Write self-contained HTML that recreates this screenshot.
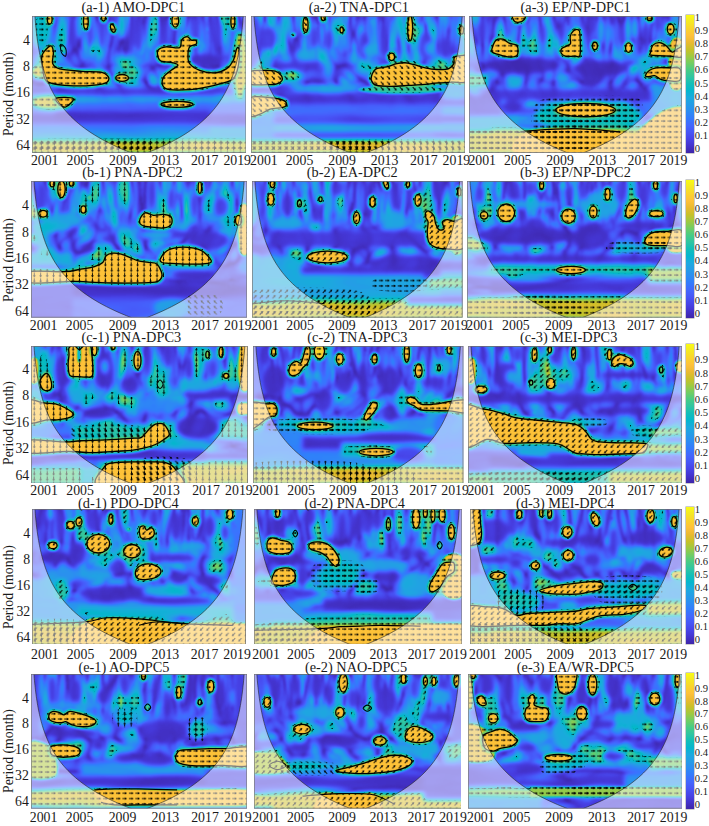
<!DOCTYPE html><html><head><meta charset="utf-8"><style>
html,body{margin:0;padding:0;background:#fff;}
body{width:709px;height:826px;position:relative;overflow:hidden;font-family:"Liberation Serif", serif;color:#1a1a1a;}
.t{position:absolute;white-space:nowrap;line-height:1;}
.ti{font-size:14.3px;}
.tk{font-size:13.8px;}
.cb{font-size:10.6px;}
svg.p{position:absolute;overflow:hidden;}
</style></head><body>
<svg width="0" height="0" style="position:absolute"><defs>
<filter id="par" x="-5%" y="-5%" width="110%" height="110%" color-interpolation-filters="sRGB"><feGaussianBlur stdDeviation="1.3"/><feComponentTransfer><feFuncR type="table" tableValues="0.242 0.252 0.262 0.271 0.278 0.281 0.281 0.276 0.262 0.229 0.189 0.178 0.163 0.143 0.120 0.086 0.020 0.023 0.119 0.185 0.238 0.331 0.443 0.567 0.685 0.794 0.888 0.967 0.997 0.986 0.964 0.962 0.977"/><feFuncG type="table" tableValues="0.150 0.168 0.191 0.217 0.251 0.288 0.327 0.366 0.408 0.452 0.497 0.538 0.578 0.616 0.652 0.685 0.713 0.736 0.754 0.772 0.790 0.800 0.802 0.794 0.777 0.756 0.736 0.730 0.767 0.820 0.876 0.931 0.984"/><feFuncB type="table" tableValues="0.660 0.715 0.777 0.841 0.892 0.931 0.961 0.983 0.994 0.998 0.984 0.961 0.930 0.904 0.884 0.852 0.807 0.754 0.698 0.637 0.568 0.486 0.393 0.300 0.215 0.160 0.171 0.234 0.219 0.185 0.159 0.131 0.081"/><feFuncA type="linear" slope="0" intercept="1"/></feComponentTransfer></filter>
<filter id="parb" x="-5%" y="-5%" width="110%" height="110%" color-interpolation-filters="sRGB"><feGaussianBlur stdDeviation="4"/></filter>
<filter id="bl2" x="-20%" y="-20%" width="140%" height="140%" color-interpolation-filters="sRGB"><feGaussianBlur stdDeviation="2.2"/></filter>
<pattern id="a0" patternUnits="userSpaceOnUse" width="6.4" height="5.4"><g transform="rotate(0 3.2 2.7)"><path d="M0.9,2.7 H3.9" stroke="#000" stroke-width="0.9"/><path d="M5.6,2.7 L3.4,1.4 L3.4,4.0 Z" fill="#000"/></g></pattern><pattern id="a45" patternUnits="userSpaceOnUse" width="6.4" height="5.4"><g transform="rotate(45 3.2 2.7)"><path d="M0.9,2.7 H3.9" stroke="#000" stroke-width="0.9"/><path d="M5.6,2.7 L3.4,1.4 L3.4,4.0 Z" fill="#000"/></g></pattern><pattern id="a90" patternUnits="userSpaceOnUse" width="6.4" height="5.4"><g transform="rotate(90 3.2 2.7)"><path d="M0.9,2.7 H3.9" stroke="#000" stroke-width="0.9"/><path d="M5.6,2.7 L3.4,1.4 L3.4,4.0 Z" fill="#000"/></g></pattern><pattern id="a135" patternUnits="userSpaceOnUse" width="6.4" height="5.4"><g transform="rotate(135 3.2 2.7)"><path d="M0.9,2.7 H3.9" stroke="#000" stroke-width="0.9"/><path d="M5.6,2.7 L3.4,1.4 L3.4,4.0 Z" fill="#000"/></g></pattern><pattern id="a180" patternUnits="userSpaceOnUse" width="6.4" height="5.4"><g transform="rotate(180 3.2 2.7)"><path d="M0.9,2.7 H3.9" stroke="#000" stroke-width="0.9"/><path d="M5.6,2.7 L3.4,1.4 L3.4,4.0 Z" fill="#000"/></g></pattern><pattern id="a225" patternUnits="userSpaceOnUse" width="6.4" height="5.4"><g transform="rotate(225 3.2 2.7)"><path d="M0.9,2.7 H3.9" stroke="#000" stroke-width="0.9"/><path d="M5.6,2.7 L3.4,1.4 L3.4,4.0 Z" fill="#000"/></g></pattern><pattern id="a270" patternUnits="userSpaceOnUse" width="6.4" height="5.4"><g transform="rotate(270 3.2 2.7)"><path d="M0.9,2.7 H3.9" stroke="#000" stroke-width="0.9"/><path d="M5.6,2.7 L3.4,1.4 L3.4,4.0 Z" fill="#000"/></g></pattern><pattern id="a315" patternUnits="userSpaceOnUse" width="6.4" height="5.4"><g transform="rotate(315 3.2 2.7)"><path d="M0.9,2.7 H3.9" stroke="#000" stroke-width="0.9"/><path d="M5.6,2.7 L3.4,1.4 L3.4,4.0 Z" fill="#000"/></g></pattern><linearGradient id="gtop" gradientUnits="userSpaceOnUse" x1="0" y1="0" x2="0" y2="137"><stop offset="0.000" stop-color="#fff" stop-opacity="1"/><stop offset="0.277" stop-color="#fff" stop-opacity="1"/><stop offset="0.423" stop-color="#fff" stop-opacity="0"/></linearGradient><linearGradient id="gmid" gradientUnits="userSpaceOnUse" x1="0" y1="0" x2="0" y2="137"><stop offset="0.219" stop-color="#fff" stop-opacity="0"/><stop offset="0.365" stop-color="#fff" stop-opacity="1"/><stop offset="0.620" stop-color="#fff" stop-opacity="1"/><stop offset="0.766" stop-color="#fff" stop-opacity="0"/></linearGradient><linearGradient id="gbot" gradientUnits="userSpaceOnUse" x1="0" y1="0" x2="0" y2="137"><stop offset="0.599" stop-color="#fff" stop-opacity="0"/><stop offset="0.745" stop-color="#fff" stop-opacity="1"/><stop offset="1.000" stop-color="#fff" stop-opacity="1"/></linearGradient><mask id="mtop" maskUnits="userSpaceOnUse" x="-10" y="-10" width="234" height="157"><rect x="-10" y="-10" width="234" height="157" fill="url(#gtop)"/></mask><mask id="mmid" maskUnits="userSpaceOnUse" x="-10" y="-10" width="234" height="157"><rect x="-10" y="-10" width="234" height="157" fill="url(#gmid)"/></mask><mask id="mbot" maskUnits="userSpaceOnUse" x="-10" y="-10" width="234" height="157"><rect x="-10" y="-10" width="234" height="157" fill="url(#gbot)"/></mask>
<linearGradient id="cbg" x1="0" y1="0" x2="0" y2="1"><stop offset="0.000" stop-color="#f9fb15"/><stop offset="0.050" stop-color="#f5e825"/><stop offset="0.100" stop-color="#fad42e"/><stop offset="0.150" stop-color="#fec13a"/><stop offset="0.200" stop-color="#eaba31"/><stop offset="0.250" stop-color="#c8c129"/><stop offset="0.300" stop-color="#9fc942"/><stop offset="0.350" stop-color="#71cd64"/><stop offset="0.400" stop-color="#48cb86"/><stop offset="0.450" stop-color="#2fc5a2"/><stop offset="0.500" stop-color="#12beb9"/><stop offset="0.550" stop-color="#05b6ce"/><stop offset="0.600" stop-color="#1caadf"/><stop offset="0.650" stop-color="#259ce7"/><stop offset="0.700" stop-color="#2d8cf3"/><stop offset="0.750" stop-color="#347afd"/><stop offset="0.800" stop-color="#4367fd"/><stop offset="0.850" stop-color="#4755f6"/><stop offset="0.900" stop-color="#4743e7"/><stop offset="0.950" stop-color="#4433cc"/><stop offset="1.000" stop-color="#3e26a8"/></linearGradient>
</defs></svg>
<svg class="p" style="left:31.80px;top:16.20px;width:214.20px;height:136.80px" viewBox="0 0 214 137" preserveAspectRatio="none">
<clipPath id="cla1"><rect x="0" y="0" width="214" height="137"/></clipPath>
<filter id="xta1" x="-10" y="-10" width="234" height="157" filterUnits="userSpaceOnUse" color-interpolation-filters="sRGB"><feTurbulence type="turbulence" baseFrequency="0.07 0.015" numOctaves="2" seed="10"/><feColorMatrix type="matrix" values="1.1 0 0 0 0  1.1 0 0 0 0  1.1 0 0 0 0  0 0 0 0 1"/></filter>
<filter id="xma1" x="-10" y="-10" width="234" height="157" filterUnits="userSpaceOnUse" color-interpolation-filters="sRGB"><feTurbulence type="turbulence" baseFrequency="0.035 0.03" numOctaves="2" seed="110"/><feColorMatrix type="matrix" values="1.1 0 0 0 0  1.1 0 0 0 0  1.1 0 0 0 0  0 0 0 0 1"/></filter>
<filter id="xba1" x="-10" y="-10" width="234" height="157" filterUnits="userSpaceOnUse" color-interpolation-filters="sRGB"><feTurbulence type="turbulence" baseFrequency="0.01 0.05" numOctaves="2" seed="210"/><feColorMatrix type="matrix" values="1.1 0 0 0 0  1.1 0 0 0 0  1.1 0 0 0 0  0 0 0 0 1"/></filter>
<g clip-path="url(#cla1)">
<filter id="thra1" x="-10" y="-10" width="234" height="157" filterUnits="userSpaceOnUse" color-interpolation-filters="sRGB"><feGaussianBlur stdDeviation="1.3"/><feComponentTransfer><feFuncR type="discrete" tableValues="0 1"/><feFuncG type="discrete" tableValues="0 1"/><feFuncB type="discrete" tableValues="0 1"/><feFuncA type="linear" slope="0" intercept="1"/></feComponentTransfer></filter>
<mask id="mka1" maskUnits="userSpaceOnUse" x="-10" y="-10" width="234" height="157"><g filter="url(#thra1)"><use href="#rawa1"/></g></mask>
<g filter="url(#par)"><g id="rawa1">
<rect x="-10" y="-10" width="234" height="157" fill="#4c4c4c"/><g mask="url(#mtop)"><rect x="-10" y="-10" width="234" height="157" filter="url(#xta1)"/></g><g mask="url(#mmid)"><rect x="-10" y="-10" width="234" height="157" filter="url(#xma1)"/></g><g mask="url(#mbot)"><rect x="-10" y="-10" width="234" height="157" filter="url(#xba1)"/></g><g filter="url(#bl2)" opacity="0.9"><rect x="-10.0" y="71.3" width="234.0" height="7.6" fill="#141414"/><rect x="-10.0" y="78.8" width="234.0" height="7.6" fill="#6b6b6b"/><rect x="-10.0" y="86.4" width="234.0" height="11.8" fill="#404040"/><rect x="-10.0" y="98.2" width="234.0" height="10.1" fill="#121212"/><rect x="-10.0" y="108.3" width="234.0" height="8.4" fill="#4c4c4c"/><rect x="-10.0" y="116.8" width="234.0" height="7.6" fill="#737373"/><rect x="-10.0" y="124.4" width="234.0" height="14.3" fill="#d9d9d9"/><ellipse cx="39.5" cy="17.3" rx="4.2" ry="15.2" fill="#141414" transform="rotate(0 39.5 17.3)"/><ellipse cx="58.0" cy="17.3" rx="4.2" ry="15.2" fill="#1a1a1a" transform="rotate(0 58.0 17.3)"/><ellipse cx="69.8" cy="17.3" rx="4.2" ry="15.2" fill="#1f1f1f" transform="rotate(0 69.8 17.3)"/><ellipse cx="100.0" cy="17.3" rx="4.2" ry="15.2" fill="#1a1a1a" transform="rotate(0 100.0 17.3)"/><ellipse cx="29.5" cy="8.9" rx="3.7" ry="13.5" fill="#808080" transform="rotate(0 29.5 8.9)"/><ellipse cx="47.9" cy="8.9" rx="3.7" ry="13.5" fill="#737373" transform="rotate(0 47.9 8.9)"/><ellipse cx="90.0" cy="8.9" rx="3.7" ry="13.5" fill="#999999" transform="rotate(0 90.0 8.9)"/><ellipse cx="9.3" cy="14.0" rx="10.1" ry="20.2" fill="#8c8c8c" transform="rotate(0 9.3 14.0)"/><ellipse cx="9.3" cy="56.1" rx="11.8" ry="6.7" fill="#d9d9d9" transform="rotate(0 9.3 56.1)"/><ellipse cx="19.4" cy="86.4" rx="20.2" ry="7.6" fill="#d9d9d9" transform="rotate(0 19.4 86.4)"/><ellipse cx="107.1" cy="19.0" rx="5.0" ry="16.9" fill="#1a1a1a" transform="rotate(0 107.1 19.0)"/><ellipse cx="132.3" cy="19.0" rx="5.0" ry="16.9" fill="#141414" transform="rotate(0 132.3 19.0)"/><ellipse cx="164.2" cy="19.0" rx="5.0" ry="16.9" fill="#262626" transform="rotate(0 164.2 19.0)"/><ellipse cx="184.4" cy="19.0" rx="5.0" ry="16.9" fill="#1a1a1a" transform="rotate(0 184.4 19.0)"/><ellipse cx="174.3" cy="44.3" rx="15.1" ry="6.7" fill="#0d0d0d" transform="rotate(0 174.3 44.3)"/><ellipse cx="207.9" cy="49.4" rx="8.4" ry="33.7" fill="#d9d9d9" transform="rotate(0 207.9 49.4)"/><rect x="23.1" y="73.0" width="159.7" height="6.7" fill="#121212"/><rect x="23.1" y="94.9" width="154.6" height="11.8" fill="#0f0f0f"/><rect x="177.7" y="99.9" width="46.3" height="10.1" fill="#1a1a1a"/><rect x="177.7" y="110.0" width="46.3" height="8.4" fill="#737373"/></g><path d="M18.53,29.98 C16.65,30.48 11.39,35.17 10.13,39.24 C8.86,43.32 9.99,49.92 10.97,54.41 C11.95,58.91 10.97,63.62 16.01,66.21 C21.05,68.79 32.25,69.58 41.22,69.92 C50.18,70.25 63.85,69.41 69.79,68.23 C75.73,67.05 76.85,64.80 76.85,62.84 C76.85,60.87 74.33,57.67 69.79,56.43 C65.25,55.20 56.62,55.99 49.62,55.42 C42.62,54.86 32.59,54.36 27.77,53.06 C22.95,51.77 21.78,50.48 20.71,47.67 C19.65,44.86 21.75,39.16 21.39,36.21 C21.02,33.26 20.41,29.47 18.53,29.98 Z" fill="#9e9e9e" stroke="#9e9e9e" stroke-width="5" stroke-linejoin="round"/><path d="M18.53,29.98 C16.65,30.48 11.39,35.17 10.13,39.24 C8.86,43.32 9.99,49.92 10.97,54.41 C11.95,58.91 10.97,63.62 16.01,66.21 C21.05,68.79 32.25,69.58 41.22,69.92 C50.18,70.25 63.85,69.41 69.79,68.23 C75.73,67.05 76.85,64.80 76.85,62.84 C76.85,60.87 74.33,57.67 69.79,56.43 C65.25,55.20 56.62,55.99 49.62,55.42 C42.62,54.86 32.59,54.36 27.77,53.06 C22.95,51.77 21.78,50.48 20.71,47.67 C19.65,44.86 21.75,39.16 21.39,36.21 C21.02,33.26 20.41,29.47 18.53,29.98 Z" fill="#dedede"/><ellipse cx="90.0" cy="62.0" rx="6.4" ry="3.4" fill="#9e9e9e" stroke="#9e9e9e" stroke-width="5" transform="rotate(0 90.0 62.0)"/><ellipse cx="90.0" cy="62.0" rx="6.4" ry="3.4" fill="#dedede" transform="rotate(0 90.0 62.0)"/><ellipse cx="30.8" cy="33.3" rx="2.4" ry="5.1" fill="#999999" transform="rotate(-30 30.8 33.3)"/><ellipse cx="17.7" cy="3.5" rx="2.4" ry="4.7" fill="#9e9e9e" stroke="#9e9e9e" stroke-width="5" transform="rotate(0 17.7 3.5)"/><ellipse cx="17.7" cy="3.5" rx="2.4" ry="4.7" fill="#dedede" transform="rotate(0 17.7 3.5)"/><ellipse cx="53.8" cy="5.5" rx="2.4" ry="7.6" fill="#9e9e9e" stroke="#9e9e9e" stroke-width="5" transform="rotate(0 53.8 5.5)"/><ellipse cx="53.8" cy="5.5" rx="2.4" ry="7.6" fill="#dedede" transform="rotate(0 53.8 5.5)"/><ellipse cx="71.5" cy="1.3" rx="2.0" ry="3.7" fill="#9e9e9e" stroke="#9e9e9e" stroke-width="5" transform="rotate(0 71.5 1.3)"/><ellipse cx="71.5" cy="1.3" rx="2.0" ry="3.7" fill="#dedede" transform="rotate(0 71.5 1.3)"/><ellipse cx="80.7" cy="12.3" rx="2.0" ry="4.2" fill="#9e9e9e" stroke="#9e9e9e" stroke-width="5" transform="rotate(-20 80.7 12.3)"/><ellipse cx="80.7" cy="12.3" rx="2.0" ry="4.2" fill="#dedede" transform="rotate(-20 80.7 12.3)"/><path d="M24.41,82.22 C26.79,81.32 39.68,81.24 41.22,82.72 C42.76,84.21 36.04,90.25 33.65,91.15 C31.27,92.05 28.47,89.61 26.93,88.12 C25.39,86.63 22.03,83.12 24.41,82.22 Z" fill="#9e9e9e" stroke="#9e9e9e" stroke-width="5" stroke-linejoin="round"/><path d="M24.41,82.22 C26.79,81.32 39.68,81.24 41.22,82.72 C42.76,84.21 36.04,90.25 33.65,91.15 C31.27,92.05 28.47,89.61 26.93,88.12 C25.39,86.63 22.03,83.12 24.41,82.22 Z" fill="#dedede"/><path d="M125.92,34.19 C127.27,32.50 130.41,31.24 133.99,30.82 C137.58,30.40 144.86,32.78 147.44,31.66 C150.01,30.54 148.19,25.90 149.45,24.08 C150.71,22.25 153.37,20.71 155.00,20.71 C156.62,20.71 157.72,23.46 159.20,24.08 C160.69,24.70 163.12,23.71 163.91,24.41 C164.69,25.12 164.97,27.22 163.91,28.29 C162.84,29.36 158.86,28.99 157.52,30.82 C156.18,32.64 155.84,36.44 155.84,39.24 C155.84,42.05 155.56,45.14 157.52,47.67 C159.48,50.20 163.40,52.87 167.60,54.41 C171.81,55.96 178.25,57.22 182.73,56.94 C187.21,56.66 191.41,54.83 194.49,52.73 C197.58,50.62 199.54,47.67 201.22,44.30 C202.90,40.93 203.60,34.19 204.58,32.50 C205.56,30.82 206.82,31.38 207.10,34.19 C207.38,37.00 207.24,44.58 206.26,49.36 C205.28,54.13 204.30,59.75 201.22,62.84 C198.14,65.93 192.25,66.49 187.77,67.89 C183.29,69.30 179.37,70.28 174.33,71.26 C169.28,72.25 163.68,73.37 157.52,73.79 C151.36,74.21 141.83,74.49 137.35,73.79 C132.87,73.09 131.61,71.69 130.63,69.58 C129.65,67.47 130.07,63.68 131.47,61.15 C132.87,58.63 136.65,56.38 139.03,54.41 C141.41,52.45 145.48,50.62 145.76,49.36 C146.04,48.09 143.51,47.53 140.71,46.83 C137.91,46.13 131.41,46.13 128.95,45.14 C126.48,44.16 126.43,42.76 125.92,40.93 C125.42,39.10 124.58,35.87 125.92,34.19 Z" fill="#9e9e9e" stroke="#9e9e9e" stroke-width="5" stroke-linejoin="round"/><path d="M125.92,34.19 C127.27,32.50 130.41,31.24 133.99,30.82 C137.58,30.40 144.86,32.78 147.44,31.66 C150.01,30.54 148.19,25.90 149.45,24.08 C150.71,22.25 153.37,20.71 155.00,20.71 C156.62,20.71 157.72,23.46 159.20,24.08 C160.69,24.70 163.12,23.71 163.91,24.41 C164.69,25.12 164.97,27.22 163.91,28.29 C162.84,29.36 158.86,28.99 157.52,30.82 C156.18,32.64 155.84,36.44 155.84,39.24 C155.84,42.05 155.56,45.14 157.52,47.67 C159.48,50.20 163.40,52.87 167.60,54.41 C171.81,55.96 178.25,57.22 182.73,56.94 C187.21,56.66 191.41,54.83 194.49,52.73 C197.58,50.62 199.54,47.67 201.22,44.30 C202.90,40.93 203.60,34.19 204.58,32.50 C205.56,30.82 206.82,31.38 207.10,34.19 C207.38,37.00 207.24,44.58 206.26,49.36 C205.28,54.13 204.30,59.75 201.22,62.84 C198.14,65.93 192.25,66.49 187.77,67.89 C183.29,69.30 179.37,70.28 174.33,71.26 C169.28,72.25 163.68,73.37 157.52,73.79 C151.36,74.21 141.83,74.49 137.35,73.79 C132.87,73.09 131.61,71.69 130.63,69.58 C129.65,67.47 130.07,63.68 131.47,61.15 C132.87,58.63 136.65,56.38 139.03,54.41 C141.41,52.45 145.48,50.62 145.76,49.36 C146.04,48.09 143.51,47.53 140.71,46.83 C137.91,46.13 131.41,46.13 128.95,45.14 C126.48,44.16 126.43,42.76 125.92,40.93 C125.42,39.10 124.58,35.87 125.92,34.19 Z" fill="#dedede"/><ellipse cx="144.9" cy="88.5" rx="16.0" ry="3.0" fill="#9e9e9e" stroke="#9e9e9e" stroke-width="5" transform="rotate(0 144.9 88.5)"/><ellipse cx="144.9" cy="88.5" rx="16.0" ry="3.0" fill="#dedede" transform="rotate(0 144.9 88.5)"/><ellipse cx="143.2" cy="4.7" rx="3.4" ry="6.4" fill="#9e9e9e" stroke="#9e9e9e" stroke-width="5" transform="rotate(0 143.2 4.7)"/><ellipse cx="143.2" cy="4.7" rx="3.4" ry="6.4" fill="#dedede" transform="rotate(0 143.2 4.7)"/><ellipse cx="200.7" cy="5.5" rx="2.0" ry="6.7" fill="#9e9e9e" stroke="#9e9e9e" stroke-width="5" transform="rotate(0 200.7 5.5)"/><ellipse cx="200.7" cy="5.5" rx="2.0" ry="6.7" fill="#dedede" transform="rotate(0 200.7 5.5)"/>
</g></g>
<rect x="0" y="0" width="214" height="137" fill="url(#a0)" mask="url(#mka1)"/>
<path d="M18.53,29.98 C16.65,30.48 11.39,35.17 10.13,39.24 C8.86,43.32 9.99,49.92 10.97,54.41 C11.95,58.91 10.97,63.62 16.01,66.21 C21.05,68.79 32.25,69.58 41.22,69.92 C50.18,70.25 63.85,69.41 69.79,68.23 C75.73,67.05 76.85,64.80 76.85,62.84 C76.85,60.87 74.33,57.67 69.79,56.43 C65.25,55.20 56.62,55.99 49.62,55.42 C42.62,54.86 32.59,54.36 27.77,53.06 C22.95,51.77 21.78,50.48 20.71,47.67 C19.65,44.86 21.75,39.16 21.39,36.21 C21.02,33.26 20.41,29.47 18.53,29.98 Z" fill="none" stroke="#000" stroke-width="1.3"/><ellipse cx="90.0" cy="62.0" rx="6.4" ry="3.4" fill="none" stroke="#000" stroke-width="1.3" transform="rotate(0 90.0 62.0)"/><path d="M28.61,28.29 C29.31,27.59 32.81,30.54 33.65,32.50 C34.49,34.47 34.35,39.39 33.65,40.09 C32.95,40.79 30.29,38.68 29.45,36.72 C28.61,34.75 27.91,28.99 28.61,28.29 Z" fill="none" stroke="#000" stroke-width="1"/><ellipse cx="17.7" cy="3.5" rx="2.4" ry="4.7" fill="none" stroke="#000" stroke-width="1.3" transform="rotate(0 17.7 3.5)"/><ellipse cx="53.8" cy="5.5" rx="2.4" ry="7.6" fill="none" stroke="#000" stroke-width="1.3" transform="rotate(0 53.8 5.5)"/><ellipse cx="71.5" cy="1.3" rx="2.0" ry="3.7" fill="none" stroke="#000" stroke-width="1.3" transform="rotate(0 71.5 1.3)"/><ellipse cx="80.7" cy="12.3" rx="2.0" ry="4.2" fill="none" stroke="#000" stroke-width="1.3" transform="rotate(-20 80.7 12.3)"/><path d="M24.41,82.22 C26.79,81.32 39.68,81.24 41.22,82.72 C42.76,84.21 36.04,90.25 33.65,91.15 C31.27,92.05 28.47,89.61 26.93,88.12 C25.39,86.63 22.03,83.12 24.41,82.22 Z" fill="none" stroke="#000" stroke-width="1.3"/><path d="M-0.80,126.88 C17.18,124.35 89.12,121.54 107.10,123.51 C125.08,125.47 125.08,136.15 107.10,138.68 C89.12,141.20 17.18,140.64 -0.80,138.68 C-18.78,136.71 -18.78,129.41 -0.80,126.88 Z" fill="url(#a315)"/><path d="M125.92,34.19 C127.27,32.50 130.41,31.24 133.99,30.82 C137.58,30.40 144.86,32.78 147.44,31.66 C150.01,30.54 148.19,25.90 149.45,24.08 C150.71,22.25 153.37,20.71 155.00,20.71 C156.62,20.71 157.72,23.46 159.20,24.08 C160.69,24.70 163.12,23.71 163.91,24.41 C164.69,25.12 164.97,27.22 163.91,28.29 C162.84,29.36 158.86,28.99 157.52,30.82 C156.18,32.64 155.84,36.44 155.84,39.24 C155.84,42.05 155.56,45.14 157.52,47.67 C159.48,50.20 163.40,52.87 167.60,54.41 C171.81,55.96 178.25,57.22 182.73,56.94 C187.21,56.66 191.41,54.83 194.49,52.73 C197.58,50.62 199.54,47.67 201.22,44.30 C202.90,40.93 203.60,34.19 204.58,32.50 C205.56,30.82 206.82,31.38 207.10,34.19 C207.38,37.00 207.24,44.58 206.26,49.36 C205.28,54.13 204.30,59.75 201.22,62.84 C198.14,65.93 192.25,66.49 187.77,67.89 C183.29,69.30 179.37,70.28 174.33,71.26 C169.28,72.25 163.68,73.37 157.52,73.79 C151.36,74.21 141.83,74.49 137.35,73.79 C132.87,73.09 131.61,71.69 130.63,69.58 C129.65,67.47 130.07,63.68 131.47,61.15 C132.87,58.63 136.65,56.38 139.03,54.41 C141.41,52.45 145.48,50.62 145.76,49.36 C146.04,48.09 143.51,47.53 140.71,46.83 C137.91,46.13 131.41,46.13 128.95,45.14 C126.48,44.16 126.43,42.76 125.92,40.93 C125.42,39.10 124.58,35.87 125.92,34.19 Z" fill="none" stroke="#000" stroke-width="1.3"/><ellipse cx="144.9" cy="88.5" rx="16.0" ry="3.0" fill="none" stroke="#000" stroke-width="1.3" transform="rotate(0 144.9 88.5)"/><ellipse cx="143.2" cy="4.7" rx="3.4" ry="6.4" fill="none" stroke="#000" stroke-width="1.3" transform="rotate(0 143.2 4.7)"/><ellipse cx="200.7" cy="5.5" rx="2.0" ry="6.7" fill="none" stroke="#000" stroke-width="1.3" transform="rotate(0 200.7 5.5)"/><path d="M-0.80,125.19 C35.17,122.95 179.03,122.95 215.00,125.19 C250.97,127.44 250.97,136.43 215.00,138.68 C179.03,140.92 35.17,140.92 -0.80,138.68 C-36.77,136.43 -36.77,127.44 -0.80,125.19 Z" fill="url(#a270)"/>
<path d="M-2,-2 L216.0,-2 L216.0,139.0 L-2,139.0 Z M2.90,0.00 L3.08,2.29 L3.26,4.58 L3.46,6.87 L3.67,9.17 L3.90,11.46 L4.13,13.75 L4.38,16.04 L4.65,18.33 L4.93,20.62 L5.23,22.92 L5.55,25.21 L5.89,27.50 L6.25,29.79 L6.63,32.08 L7.03,34.38 L7.46,36.67 L7.91,38.96 L8.39,41.25 L8.91,43.54 L9.45,45.83 L10.02,48.12 L10.63,50.42 L11.28,52.71 L11.96,55.00 L12.69,57.29 L13.46,59.58 L14.28,61.88 L15.15,64.17 L16.07,66.46 L17.05,68.75 L18.09,71.04 L19.19,73.33 L20.36,75.63 L21.59,77.92 L22.91,80.21 L24.30,82.50 L25.78,84.79 L27.35,87.08 L29.01,89.38 L30.78,91.67 L32.65,93.96 L34.63,96.25 L36.74,98.54 L38.98,100.83 L41.35,103.12 L43.86,105.42 L46.53,107.71 L49.36,110.00 L52.36,112.29 L55.55,114.58 L58.93,116.88 L62.51,119.17 L66.31,121.46 L70.35,123.75 L74.63,126.04 L79.17,128.33 L83.98,130.62 L89.09,132.92 L94.51,135.21 L100.26,137.50 L113.74,137.50 L119.49,135.21 L124.91,132.92 L130.02,130.62 L134.83,128.33 L139.37,126.04 L143.65,123.75 L147.69,121.46 L151.49,119.17 L155.07,116.88 L158.45,114.58 L161.64,112.29 L164.64,110.00 L167.47,107.71 L170.14,105.42 L172.65,103.12 L175.02,100.83 L177.26,98.54 L179.37,96.25 L181.35,93.96 L183.22,91.67 L184.99,89.38 L186.65,87.08 L188.22,84.79 L189.70,82.50 L191.09,80.21 L192.41,77.92 L193.64,75.63 L194.81,73.33 L195.91,71.04 L196.95,68.75 L197.93,66.46 L198.85,64.17 L199.72,61.88 L200.54,59.58 L201.31,57.29 L202.04,55.00 L202.72,52.71 L203.37,50.42 L203.98,48.12 L204.55,45.83 L205.09,43.54 L205.61,41.25 L206.09,38.96 L206.54,36.67 L206.97,34.38 L207.37,32.08 L207.75,29.79 L208.11,27.50 L208.45,25.21 L208.77,22.92 L209.07,20.62 L209.35,18.33 L209.62,16.04 L209.87,13.75 L210.10,11.46 L210.33,9.17 L210.54,6.87 L210.74,4.58 L210.92,2.29 L211.10,0.00 Z" fill="#fff" fill-opacity="0.5" fill-rule="evenodd"/>

<path d="M2.90,0.00 L3.08,2.29 L3.26,4.58 L3.46,6.87 L3.67,9.17 L3.90,11.46 L4.13,13.75 L4.38,16.04 L4.65,18.33 L4.93,20.62 L5.23,22.92 L5.55,25.21 L5.89,27.50 L6.25,29.79 L6.63,32.08 L7.03,34.38 L7.46,36.67 L7.91,38.96 L8.39,41.25 L8.91,43.54 L9.45,45.83 L10.02,48.12 L10.63,50.42 L11.28,52.71 L11.96,55.00 L12.69,57.29 L13.46,59.58 L14.28,61.88 L15.15,64.17 L16.07,66.46 L17.05,68.75 L18.09,71.04 L19.19,73.33 L20.36,75.63 L21.59,77.92 L22.91,80.21 L24.30,82.50 L25.78,84.79 L27.35,87.08 L29.01,89.38 L30.78,91.67 L32.65,93.96 L34.63,96.25 L36.74,98.54 L38.98,100.83 L41.35,103.12 L43.86,105.42 L46.53,107.71 L49.36,110.00 L52.36,112.29 L55.55,114.58 L58.93,116.88 L62.51,119.17 L66.31,121.46 L70.35,123.75 L74.63,126.04 L79.17,128.33 L83.98,130.62 L89.09,132.92 L94.51,135.21 L100.26,137.50 L113.74,137.50 L119.49,135.21 L124.91,132.92 L130.02,130.62 L134.83,128.33 L139.37,126.04 L143.65,123.75 L147.69,121.46 L151.49,119.17 L155.07,116.88 L158.45,114.58 L161.64,112.29 L164.64,110.00 L167.47,107.71 L170.14,105.42 L172.65,103.12 L175.02,100.83 L177.26,98.54 L179.37,96.25 L181.35,93.96 L183.22,91.67 L184.99,89.38 L186.65,87.08 L188.22,84.79 L189.70,82.50 L191.09,80.21 L192.41,77.92 L193.64,75.63 L194.81,73.33 L195.91,71.04 L196.95,68.75 L197.93,66.46 L198.85,64.17 L199.72,61.88 L200.54,59.58 L201.31,57.29 L202.04,55.00 L202.72,52.71 L203.37,50.42 L203.98,48.12 L204.55,45.83 L205.09,43.54 L205.61,41.25 L206.09,38.96 L206.54,36.67 L206.97,34.38 L207.37,32.08 L207.75,29.79 L208.11,27.50 L208.45,25.21 L208.77,22.92 L209.07,20.62 L209.35,18.33 L209.62,16.04 L209.87,13.75 L210.10,11.46 L210.33,9.17 L210.54,6.87 L210.74,4.58 L210.92,2.29 L211.10,0.00 Z" fill="none" stroke="#222" stroke-width="0.6"/>
</g>
<rect x="0.3" y="0.3" width="213.4" height="136.4" fill="none" stroke="#777" stroke-width="0.8"/>
</svg>
<div class="t ti" style="left:81.6px;top:-0.1px;">(a-1) AMO-DPC1</div>
<div class="t tk" style="left:44.7px;top:154.2px;width:0;"><span style="position:absolute;transform:translateX(-50%)">2001</span></div>
<div class="t tk" style="left:80.3px;top:154.2px;width:0;"><span style="position:absolute;transform:translateX(-50%)">2005</span></div>
<div class="t tk" style="left:122.9px;top:154.2px;width:0;"><span style="position:absolute;transform:translateX(-50%)">2009</span></div>
<div class="t tk" style="left:165.4px;top:154.2px;width:0;"><span style="position:absolute;transform:translateX(-50%)">2013</span></div>
<div class="t tk" style="left:204.7px;top:154.2px;width:0;"><span style="position:absolute;transform:translateX(-50%)">2017</span></div>
<div class="t tk" style="left:237.2px;top:154.2px;width:0;"><span style="position:absolute;transform:translateX(-50%)">2019</span></div>
<svg class="p" style="left:251.00px;top:16.20px;width:214.20px;height:136.80px" viewBox="0 0 214 137" preserveAspectRatio="none">
<clipPath id="cla2"><rect x="0" y="0" width="214" height="137"/></clipPath>
<filter id="xta2" x="-10" y="-10" width="234" height="157" filterUnits="userSpaceOnUse" color-interpolation-filters="sRGB"><feTurbulence type="turbulence" baseFrequency="0.07 0.015" numOctaves="2" seed="11"/><feColorMatrix type="matrix" values="1.1 0 0 0 0  1.1 0 0 0 0  1.1 0 0 0 0  0 0 0 0 1"/></filter>
<filter id="xma2" x="-10" y="-10" width="234" height="157" filterUnits="userSpaceOnUse" color-interpolation-filters="sRGB"><feTurbulence type="turbulence" baseFrequency="0.035 0.03" numOctaves="2" seed="111"/><feColorMatrix type="matrix" values="1.1 0 0 0 0  1.1 0 0 0 0  1.1 0 0 0 0  0 0 0 0 1"/></filter>
<filter id="xba2" x="-10" y="-10" width="234" height="157" filterUnits="userSpaceOnUse" color-interpolation-filters="sRGB"><feTurbulence type="turbulence" baseFrequency="0.01 0.05" numOctaves="2" seed="211"/><feColorMatrix type="matrix" values="1.1 0 0 0 0  1.1 0 0 0 0  1.1 0 0 0 0  0 0 0 0 1"/></filter>
<g clip-path="url(#cla2)">
<filter id="thra2" x="-10" y="-10" width="234" height="157" filterUnits="userSpaceOnUse" color-interpolation-filters="sRGB"><feGaussianBlur stdDeviation="1.3"/><feComponentTransfer><feFuncR type="discrete" tableValues="0 1"/><feFuncG type="discrete" tableValues="0 1"/><feFuncB type="discrete" tableValues="0 1"/><feFuncA type="linear" slope="0" intercept="1"/></feComponentTransfer></filter>
<mask id="mka2" maskUnits="userSpaceOnUse" x="-10" y="-10" width="234" height="157"><g filter="url(#thra2)"><use href="#rawa2"/></g></mask>
<g filter="url(#par)"><g id="rawa2">
<rect x="-10" y="-10" width="234" height="157" fill="#4c4c4c"/><g mask="url(#mtop)"><rect x="-10" y="-10" width="234" height="157" filter="url(#xta2)"/></g><g mask="url(#mmid)"><rect x="-10" y="-10" width="234" height="157" filter="url(#xma2)"/></g><g mask="url(#mbot)"><rect x="-10" y="-10" width="234" height="157" filter="url(#xba2)"/></g><g filter="url(#bl2)" opacity="0.9"><ellipse cx="17.5" cy="22.4" rx="9.2" ry="11.8" fill="#141414" transform="rotate(0 17.5 22.4)"/><ellipse cx="44.4" cy="39.2" rx="4.2" ry="15.2" fill="#141414" transform="rotate(0 44.4 39.2)"/><ellipse cx="63.7" cy="20.7" rx="5.0" ry="10.1" fill="#1a1a1a" transform="rotate(0 63.7 20.7)"/><ellipse cx="78.0" cy="24.1" rx="5.0" ry="10.1" fill="#1a1a1a" transform="rotate(0 78.0 24.1)"/><ellipse cx="-1.0" cy="24.1" rx="13.4" ry="28.6" fill="#1f1f1f" transform="rotate(0 -1.0 24.1)"/><ellipse cx="32.6" cy="19.0" rx="3.0" ry="20.2" fill="#999999" transform="rotate(0 32.6 19.0)"/><ellipse cx="71.3" cy="39.2" rx="2.0" ry="8.4" fill="#999999" transform="rotate(0 71.3 39.2)"/><ellipse cx="62.9" cy="36.7" rx="2.0" ry="6.7" fill="#8c8c8c" transform="rotate(0 62.9 36.7)"/><ellipse cx="86.4" cy="8.1" rx="3.7" ry="9.3" fill="#8c8c8c" transform="rotate(0 86.4 8.1)"/><ellipse cx="54.5" cy="39.2" rx="10.1" ry="6.7" fill="#737373" transform="rotate(0 54.5 39.2)"/><rect x="22.5" y="46.0" width="47.1" height="8.4" fill="#141414"/><rect x="-10.0" y="69.6" width="234.0" height="8.4" fill="#1a1a1a"/><rect x="-10.0" y="78.0" width="234.0" height="8.4" fill="#737373"/><rect x="46.1" y="89.8" width="177.9" height="13.5" fill="#0f0f0f"/><rect x="-10.0" y="103.3" width="234.0" height="13.5" fill="#737373"/><rect x="-10.0" y="116.8" width="234.0" height="7.6" fill="#333333"/><rect x="-10.0" y="124.4" width="234.0" height="14.3" fill="#d9d9d9"/><rect x="-10.0" y="99.9" width="56.1" height="23.6" fill="#595959"/><ellipse cx="74.6" cy="73.0" rx="33.6" ry="4.2" fill="#787878" transform="rotate(0 74.6 73.0)"/><ellipse cx="111.9" cy="29.1" rx="5.0" ry="13.5" fill="#141414" transform="rotate(0 111.9 29.1)"/><ellipse cx="132.1" cy="24.1" rx="5.0" ry="16.9" fill="#141414" transform="rotate(0 132.1 24.1)"/><ellipse cx="174.1" cy="29.1" rx="7.6" ry="13.5" fill="#1a1a1a" transform="rotate(0 174.1 29.1)"/><ellipse cx="194.3" cy="32.5" rx="6.7" ry="10.1" fill="#1a1a1a" transform="rotate(0 194.3 32.5)"/><ellipse cx="118.7" cy="34.2" rx="6.7" ry="6.7" fill="#737373" transform="rotate(0 118.7 34.2)"/><ellipse cx="179.2" cy="32.5" rx="5.0" ry="6.7" fill="#737373" transform="rotate(0 179.2 32.5)"/><ellipse cx="144.7" cy="11.4" rx="2.5" ry="12.6" fill="#999999" transform="rotate(0 144.7 11.4)"/><ellipse cx="175.8" cy="3.0" rx="1.7" ry="5.1" fill="#999999" transform="rotate(0 175.8 3.0)"/><ellipse cx="122.0" cy="4.7" rx="1.7" ry="5.9" fill="#8c8c8c" transform="rotate(0 122.0 4.7)"/><ellipse cx="197.7" cy="5.5" rx="1.7" ry="6.7" fill="#8c8c8c" transform="rotate(0 197.7 5.5)"/><rect x="22.9" y="78.0" width="201.1" height="10.1" fill="#0f0f0f"/><rect x="22.9" y="88.1" width="201.1" height="11.8" fill="#404040"/><rect x="22.9" y="99.9" width="201.1" height="8.4" fill="#1f1f1f"/><rect x="22.9" y="108.3" width="201.1" height="8.4" fill="#737373"/><rect x="22.9" y="116.8" width="201.1" height="6.7" fill="#262626"/><rect x="22.9" y="123.5" width="201.1" height="15.2" fill="#d9d9d9"/><rect x="190.9" y="66.2" width="33.1" height="50.6" fill="#666666"/><rect x="190.9" y="83.1" width="33.1" height="6.7" fill="#1a1a1a"/><rect x="190.9" y="99.9" width="33.1" height="6.7" fill="#1a1a1a"/><rect x="182.5" y="116.8" width="41.5" height="5.1" fill="#1a1a1a"/></g><path d="M-1.00,56.10 C1.24,53.85 8.24,54.55 12.45,54.41 C16.65,54.27 21.27,54.41 24.21,55.25 C27.15,56.10 28.97,57.92 30.09,59.47 C31.21,61.01 31.63,63.12 30.93,64.52 C30.23,65.93 28.41,67.19 25.89,67.89 C23.37,68.60 20.29,68.74 15.81,68.74 C11.33,68.74 1.80,70.00 -1.00,67.89 C-3.80,65.79 -3.24,58.34 -1.00,56.10 Z" fill="#9e9e9e" stroke="#9e9e9e" stroke-width="5" stroke-linejoin="round"/><path d="M-1.00,56.10 C1.24,53.85 8.24,54.55 12.45,54.41 C16.65,54.27 21.27,54.41 24.21,55.25 C27.15,56.10 28.97,57.92 30.09,59.47 C31.21,61.01 31.63,63.12 30.93,64.52 C30.23,65.93 28.41,67.19 25.89,67.89 C23.37,68.60 20.29,68.74 15.81,68.74 C11.33,68.74 1.80,70.00 -1.00,67.89 C-3.80,65.79 -3.24,58.34 -1.00,56.10 Z" fill="#dedede"/><path d="M-1.00,82.22 C1.80,79.13 11.05,81.24 15.81,81.38 C20.57,81.52 24.49,82.36 27.57,83.06 C30.65,83.76 33.03,84.47 34.30,85.59 C35.56,86.71 35.70,88.76 35.14,89.80 C34.58,90.84 33.59,91.26 30.93,91.83 C28.27,92.39 22.81,92.11 19.17,93.17 C15.53,94.24 12.45,97.11 9.08,98.23 C5.72,99.35 0.68,102.58 -1.00,99.91 C-2.68,97.25 -3.80,85.31 -1.00,82.22 Z" fill="#9e9e9e" stroke="#9e9e9e" stroke-width="5" stroke-linejoin="round"/><path d="M-1.00,82.22 C1.80,79.13 11.05,81.24 15.81,81.38 C20.57,81.52 24.49,82.36 27.57,83.06 C30.65,83.76 33.03,84.47 34.30,85.59 C35.56,86.71 35.70,88.76 35.14,89.80 C34.58,90.84 33.59,91.26 30.93,91.83 C28.27,92.39 22.81,92.11 19.17,93.17 C15.53,94.24 12.45,97.11 9.08,98.23 C5.72,99.35 0.68,102.58 -1.00,99.91 C-2.68,97.25 -3.80,85.31 -1.00,82.22 Z" fill="#dedede"/><ellipse cx="54.5" cy="8.9" rx="2.5" ry="7.6" fill="#9e9e9e" stroke="#9e9e9e" stroke-width="5" transform="rotate(0 54.5 8.9)"/><ellipse cx="54.5" cy="8.9" rx="2.5" ry="7.6" fill="#dedede" transform="rotate(0 54.5 8.9)"/><ellipse cx="72.1" cy="1.3" rx="2.0" ry="3.4" fill="#9e9e9e" stroke="#9e9e9e" stroke-width="5" transform="rotate(0 72.1 1.3)"/><ellipse cx="72.1" cy="1.3" rx="2.0" ry="3.4" fill="#dedede" transform="rotate(0 72.1 1.3)"/><ellipse cx="90.6" cy="14.0" rx="1.7" ry="3.0" fill="#9e9e9e" stroke="#9e9e9e" stroke-width="5" transform="rotate(0 90.6 14.0)"/><ellipse cx="90.6" cy="14.0" rx="1.7" ry="3.0" fill="#dedede" transform="rotate(0 90.6 14.0)"/><ellipse cx="42.4" cy="19.0" rx="2.4" ry="2.4" fill="#b2b2b2" transform="rotate(0 42.4 19.0)"/><ellipse cx="150.6" cy="73.8" rx="43.7" ry="4.4" fill="#999999" transform="rotate(0 150.6 73.8)"/><path d="M121.19,57.78 C122.03,55.82 123.01,53.85 125.39,52.73 C127.77,51.60 132.11,51.88 135.47,51.04 C138.83,50.20 142.47,48.37 145.56,47.67 C148.64,46.97 151.16,46.69 153.96,46.83 C156.76,46.97 159.00,47.67 162.36,48.51 C165.72,49.36 170.21,51.04 174.13,51.88 C178.05,52.73 181.97,53.43 185.89,53.57 C189.81,53.71 194.86,53.71 197.66,52.73 C200.46,51.74 201.72,49.64 202.70,47.67 C203.68,45.70 201.58,42.33 203.54,40.93 C205.50,39.53 212.08,39.53 214.46,39.24 C216.84,38.96 217.26,35.03 217.82,39.24 C218.38,43.46 220.63,60.03 217.82,64.52 C215.02,69.02 206.06,65.79 201.02,66.21 C195.98,66.63 192.61,66.63 187.57,67.05 C182.53,67.47 175.81,68.32 170.77,68.74 C165.72,69.16 162.36,69.30 157.32,69.58 C152.28,69.86 145.84,70.42 140.51,70.42 C135.19,70.42 128.75,70.56 125.39,69.58 C122.03,68.60 121.05,66.49 120.35,64.52 C119.65,62.56 120.35,59.75 121.19,57.78 Z" fill="#9e9e9e" stroke="#9e9e9e" stroke-width="5" stroke-linejoin="round"/><path d="M121.19,57.78 C122.03,55.82 123.01,53.85 125.39,52.73 C127.77,51.60 132.11,51.88 135.47,51.04 C138.83,50.20 142.47,48.37 145.56,47.67 C148.64,46.97 151.16,46.69 153.96,46.83 C156.76,46.97 159.00,47.67 162.36,48.51 C165.72,49.36 170.21,51.04 174.13,51.88 C178.05,52.73 181.97,53.43 185.89,53.57 C189.81,53.71 194.86,53.71 197.66,52.73 C200.46,51.74 201.72,49.64 202.70,47.67 C203.68,45.70 201.58,42.33 203.54,40.93 C205.50,39.53 212.08,39.53 214.46,39.24 C216.84,38.96 217.26,35.03 217.82,39.24 C218.38,43.46 220.63,60.03 217.82,64.52 C215.02,69.02 206.06,65.79 201.02,66.21 C195.98,66.63 192.61,66.63 187.57,67.05 C182.53,67.47 175.81,68.32 170.77,68.74 C165.72,69.16 162.36,69.30 157.32,69.58 C152.28,69.86 145.84,70.42 140.51,70.42 C135.19,70.42 128.75,70.56 125.39,69.58 C122.03,68.60 121.05,66.49 120.35,64.52 C119.65,62.56 120.35,59.75 121.19,57.78 Z" fill="#dedede"/><ellipse cx="140.5" cy="40.9" rx="3.0" ry="3.7" fill="#9e9e9e" stroke="#9e9e9e" stroke-width="5" transform="rotate(0 140.5 40.9)"/><ellipse cx="140.5" cy="40.9" rx="3.0" ry="3.7" fill="#dedede" transform="rotate(0 140.5 40.9)"/><ellipse cx="159.0" cy="12.3" rx="2.5" ry="12.6" fill="#9e9e9e" stroke="#9e9e9e" stroke-width="5" transform="rotate(0 159.0 12.3)"/><ellipse cx="159.0" cy="12.3" rx="2.5" ry="12.6" fill="#dedede" transform="rotate(0 159.0 12.3)"/><ellipse cx="210.3" cy="14.0" rx="2.0" ry="4.2" fill="#9e9e9e" stroke="#9e9e9e" stroke-width="5" transform="rotate(0 210.3 14.0)"/><ellipse cx="210.3" cy="14.0" rx="2.0" ry="4.2" fill="#dedede" transform="rotate(0 210.3 14.0)"/>
</g></g>
<rect x="0" y="0" width="214" height="137" fill="url(#a45)" mask="url(#mka2)"/>
<path d="M-1.00,56.10 C1.24,53.85 8.24,54.55 12.45,54.41 C16.65,54.27 21.27,54.41 24.21,55.25 C27.15,56.10 28.97,57.92 30.09,59.47 C31.21,61.01 31.63,63.12 30.93,64.52 C30.23,65.93 28.41,67.19 25.89,67.89 C23.37,68.60 20.29,68.74 15.81,68.74 C11.33,68.74 1.80,70.00 -1.00,67.89 C-3.80,65.79 -3.24,58.34 -1.00,56.10 Z" fill="none" stroke="#000" stroke-width="1.3"/><path d="M-1.00,82.22 C1.80,79.13 11.05,81.24 15.81,81.38 C20.57,81.52 24.49,82.36 27.57,83.06 C30.65,83.76 33.03,84.47 34.30,85.59 C35.56,86.71 35.70,88.76 35.14,89.80 C34.58,90.84 33.59,91.26 30.93,91.83 C28.27,92.39 22.81,92.11 19.17,93.17 C15.53,94.24 12.45,97.11 9.08,98.23 C5.72,99.35 0.68,102.58 -1.00,99.91 C-2.68,97.25 -3.80,85.31 -1.00,82.22 Z" fill="none" stroke="#000" stroke-width="1.3"/><ellipse cx="54.5" cy="8.9" rx="2.5" ry="7.6" fill="none" stroke="#000" stroke-width="1.3" transform="rotate(0 54.5 8.9)"/><ellipse cx="72.1" cy="1.3" rx="2.0" ry="3.4" fill="none" stroke="#000" stroke-width="1.3" transform="rotate(0 72.1 1.3)"/><ellipse cx="90.6" cy="14.0" rx="1.7" ry="3.0" fill="none" stroke="#000" stroke-width="1.3" transform="rotate(0 90.6 14.0)"/><path d="M-17.81,125.19 C2.98,122.95 86.12,122.95 106.90,125.19 C127.68,127.44 127.68,136.43 106.90,138.68 C86.12,140.92 2.98,140.92 -17.81,138.68 C-38.59,136.43 -38.59,127.44 -17.81,125.19 Z" fill="url(#a315)"/><path d="M121.19,57.78 C122.03,55.82 123.01,53.85 125.39,52.73 C127.77,51.60 132.11,51.88 135.47,51.04 C138.83,50.20 142.47,48.37 145.56,47.67 C148.64,46.97 151.16,46.69 153.96,46.83 C156.76,46.97 159.00,47.67 162.36,48.51 C165.72,49.36 170.21,51.04 174.13,51.88 C178.05,52.73 181.97,53.43 185.89,53.57 C189.81,53.71 194.86,53.71 197.66,52.73 C200.46,51.74 201.72,49.64 202.70,47.67 C203.68,45.70 201.58,42.33 203.54,40.93 C205.50,39.53 212.08,39.53 214.46,39.24 C216.84,38.96 217.26,35.03 217.82,39.24 C218.38,43.46 220.63,60.03 217.82,64.52 C215.02,69.02 206.06,65.79 201.02,66.21 C195.98,66.63 192.61,66.63 187.57,67.05 C182.53,67.47 175.81,68.32 170.77,68.74 C165.72,69.16 162.36,69.30 157.32,69.58 C152.28,69.86 145.84,70.42 140.51,70.42 C135.19,70.42 128.75,70.56 125.39,69.58 C122.03,68.60 121.05,66.49 120.35,64.52 C119.65,62.56 120.35,59.75 121.19,57.78 Z" fill="none" stroke="#000" stroke-width="1.3"/><ellipse cx="140.5" cy="40.9" rx="3.0" ry="3.7" fill="none" stroke="#000" stroke-width="1.3" transform="rotate(0 140.5 40.9)"/><ellipse cx="159.0" cy="12.3" rx="2.5" ry="12.6" fill="none" stroke="#000" stroke-width="1.3" transform="rotate(0 159.0 12.3)"/><ellipse cx="210.3" cy="14.0" rx="2.0" ry="4.2" fill="none" stroke="#000" stroke-width="1.3" transform="rotate(0 210.3 14.0)"/><path d="M90.09,125.19 C110.88,122.95 194.01,122.95 214.80,125.19 C235.58,127.44 235.58,136.43 214.80,138.68 C194.01,140.92 110.88,140.92 90.09,138.68 C69.31,136.43 69.31,127.44 90.09,125.19 Z" fill="url(#a270)"/>
<path d="M-2,-2 L216.0,-2 L216.0,139.0 L-2,139.0 Z M2.90,0.00 L3.08,2.29 L3.26,4.58 L3.46,6.87 L3.67,9.17 L3.90,11.46 L4.13,13.75 L4.38,16.04 L4.65,18.33 L4.93,20.62 L5.23,22.92 L5.55,25.21 L5.89,27.50 L6.25,29.79 L6.63,32.08 L7.03,34.38 L7.46,36.67 L7.91,38.96 L8.39,41.25 L8.91,43.54 L9.45,45.83 L10.02,48.12 L10.63,50.42 L11.28,52.71 L11.96,55.00 L12.69,57.29 L13.46,59.58 L14.28,61.88 L15.15,64.17 L16.07,66.46 L17.05,68.75 L18.09,71.04 L19.19,73.33 L20.36,75.63 L21.59,77.92 L22.91,80.21 L24.30,82.50 L25.78,84.79 L27.35,87.08 L29.01,89.38 L30.78,91.67 L32.65,93.96 L34.63,96.25 L36.74,98.54 L38.98,100.83 L41.35,103.12 L43.86,105.42 L46.53,107.71 L49.36,110.00 L52.36,112.29 L55.55,114.58 L58.93,116.88 L62.51,119.17 L66.31,121.46 L70.35,123.75 L74.63,126.04 L79.17,128.33 L83.98,130.62 L89.09,132.92 L94.51,135.21 L100.26,137.50 L113.74,137.50 L119.49,135.21 L124.91,132.92 L130.02,130.62 L134.83,128.33 L139.37,126.04 L143.65,123.75 L147.69,121.46 L151.49,119.17 L155.07,116.88 L158.45,114.58 L161.64,112.29 L164.64,110.00 L167.47,107.71 L170.14,105.42 L172.65,103.12 L175.02,100.83 L177.26,98.54 L179.37,96.25 L181.35,93.96 L183.22,91.67 L184.99,89.38 L186.65,87.08 L188.22,84.79 L189.70,82.50 L191.09,80.21 L192.41,77.92 L193.64,75.63 L194.81,73.33 L195.91,71.04 L196.95,68.75 L197.93,66.46 L198.85,64.17 L199.72,61.88 L200.54,59.58 L201.31,57.29 L202.04,55.00 L202.72,52.71 L203.37,50.42 L203.98,48.12 L204.55,45.83 L205.09,43.54 L205.61,41.25 L206.09,38.96 L206.54,36.67 L206.97,34.38 L207.37,32.08 L207.75,29.79 L208.11,27.50 L208.45,25.21 L208.77,22.92 L209.07,20.62 L209.35,18.33 L209.62,16.04 L209.87,13.75 L210.10,11.46 L210.33,9.17 L210.54,6.87 L210.74,4.58 L210.92,2.29 L211.10,0.00 Z" fill="#fff" fill-opacity="0.5" fill-rule="evenodd"/>

<path d="M2.90,0.00 L3.08,2.29 L3.26,4.58 L3.46,6.87 L3.67,9.17 L3.90,11.46 L4.13,13.75 L4.38,16.04 L4.65,18.33 L4.93,20.62 L5.23,22.92 L5.55,25.21 L5.89,27.50 L6.25,29.79 L6.63,32.08 L7.03,34.38 L7.46,36.67 L7.91,38.96 L8.39,41.25 L8.91,43.54 L9.45,45.83 L10.02,48.12 L10.63,50.42 L11.28,52.71 L11.96,55.00 L12.69,57.29 L13.46,59.58 L14.28,61.88 L15.15,64.17 L16.07,66.46 L17.05,68.75 L18.09,71.04 L19.19,73.33 L20.36,75.63 L21.59,77.92 L22.91,80.21 L24.30,82.50 L25.78,84.79 L27.35,87.08 L29.01,89.38 L30.78,91.67 L32.65,93.96 L34.63,96.25 L36.74,98.54 L38.98,100.83 L41.35,103.12 L43.86,105.42 L46.53,107.71 L49.36,110.00 L52.36,112.29 L55.55,114.58 L58.93,116.88 L62.51,119.17 L66.31,121.46 L70.35,123.75 L74.63,126.04 L79.17,128.33 L83.98,130.62 L89.09,132.92 L94.51,135.21 L100.26,137.50 L113.74,137.50 L119.49,135.21 L124.91,132.92 L130.02,130.62 L134.83,128.33 L139.37,126.04 L143.65,123.75 L147.69,121.46 L151.49,119.17 L155.07,116.88 L158.45,114.58 L161.64,112.29 L164.64,110.00 L167.47,107.71 L170.14,105.42 L172.65,103.12 L175.02,100.83 L177.26,98.54 L179.37,96.25 L181.35,93.96 L183.22,91.67 L184.99,89.38 L186.65,87.08 L188.22,84.79 L189.70,82.50 L191.09,80.21 L192.41,77.92 L193.64,75.63 L194.81,73.33 L195.91,71.04 L196.95,68.75 L197.93,66.46 L198.85,64.17 L199.72,61.88 L200.54,59.58 L201.31,57.29 L202.04,55.00 L202.72,52.71 L203.37,50.42 L203.98,48.12 L204.55,45.83 L205.09,43.54 L205.61,41.25 L206.09,38.96 L206.54,36.67 L206.97,34.38 L207.37,32.08 L207.75,29.79 L208.11,27.50 L208.45,25.21 L208.77,22.92 L209.07,20.62 L209.35,18.33 L209.62,16.04 L209.87,13.75 L210.10,11.46 L210.33,9.17 L210.54,6.87 L210.74,4.58 L210.92,2.29 L211.10,0.00 Z" fill="none" stroke="#222" stroke-width="0.6"/>
</g>
<rect x="0.3" y="0.3" width="213.4" height="136.4" fill="none" stroke="#777" stroke-width="0.8"/>
</svg>
<div class="t ti" style="left:308.7px;top:-0.1px;">(a-2) TNA-DPC1</div>
<div class="t tk" style="left:263.9px;top:154.2px;width:0;"><span style="position:absolute;transform:translateX(-50%)">2001</span></div>
<div class="t tk" style="left:299.5px;top:154.2px;width:0;"><span style="position:absolute;transform:translateX(-50%)">2005</span></div>
<div class="t tk" style="left:342.1px;top:154.2px;width:0;"><span style="position:absolute;transform:translateX(-50%)">2009</span></div>
<div class="t tk" style="left:384.6px;top:154.2px;width:0;"><span style="position:absolute;transform:translateX(-50%)">2013</span></div>
<div class="t tk" style="left:423.9px;top:154.2px;width:0;"><span style="position:absolute;transform:translateX(-50%)">2017</span></div>
<div class="t tk" style="left:456.4px;top:154.2px;width:0;"><span style="position:absolute;transform:translateX(-50%)">2019</span></div>
<svg class="p" style="left:469.40px;top:16.20px;width:213.00px;height:136.80px" viewBox="0 0 214 137" preserveAspectRatio="none">
<clipPath id="cla3"><rect x="0" y="0" width="214" height="137"/></clipPath>
<filter id="xta3" x="-10" y="-10" width="234" height="157" filterUnits="userSpaceOnUse" color-interpolation-filters="sRGB"><feTurbulence type="turbulence" baseFrequency="0.07 0.015" numOctaves="2" seed="12"/><feColorMatrix type="matrix" values="1.1 0 0 0 0  1.1 0 0 0 0  1.1 0 0 0 0  0 0 0 0 1"/></filter>
<filter id="xma3" x="-10" y="-10" width="234" height="157" filterUnits="userSpaceOnUse" color-interpolation-filters="sRGB"><feTurbulence type="turbulence" baseFrequency="0.035 0.03" numOctaves="2" seed="112"/><feColorMatrix type="matrix" values="1.1 0 0 0 0  1.1 0 0 0 0  1.1 0 0 0 0  0 0 0 0 1"/></filter>
<filter id="xba3" x="-10" y="-10" width="234" height="157" filterUnits="userSpaceOnUse" color-interpolation-filters="sRGB"><feTurbulence type="turbulence" baseFrequency="0.01 0.05" numOctaves="2" seed="212"/><feColorMatrix type="matrix" values="1.1 0 0 0 0  1.1 0 0 0 0  1.1 0 0 0 0  0 0 0 0 1"/></filter>
<g clip-path="url(#cla3)">
<filter id="thra3" x="-10" y="-10" width="234" height="157" filterUnits="userSpaceOnUse" color-interpolation-filters="sRGB"><feGaussianBlur stdDeviation="1.3"/><feComponentTransfer><feFuncR type="discrete" tableValues="0 1"/><feFuncG type="discrete" tableValues="0 1"/><feFuncB type="discrete" tableValues="0 1"/><feFuncA type="linear" slope="0" intercept="1"/></feComponentTransfer></filter>
<mask id="mka3" maskUnits="userSpaceOnUse" x="-10" y="-10" width="234" height="157"><g filter="url(#thra3)"><use href="#rawa3"/></g></mask>
<g filter="url(#par)"><g id="rawa3">
<rect x="-10" y="-10" width="234" height="157" fill="#4c4c4c"/><g mask="url(#mtop)"><rect x="-10" y="-10" width="234" height="157" filter="url(#xta3)"/></g><g mask="url(#mmid)"><rect x="-10" y="-10" width="234" height="157" filter="url(#xma3)"/></g><g mask="url(#mbot)"><rect x="-10" y="-10" width="234" height="157" filter="url(#xba3)"/></g><g filter="url(#bl2)" opacity="0.9"><ellipse cx="13.0" cy="15.7" rx="4.2" ry="10.1" fill="#1a1a1a" transform="rotate(0 13.0 15.7)"/><ellipse cx="40.0" cy="14.8" rx="2.5" ry="6.7" fill="#1a1a1a" transform="rotate(0 40.0 14.8)"/><ellipse cx="60.3" cy="15.7" rx="2.5" ry="8.4" fill="#1f1f1f" transform="rotate(0 60.3 15.7)"/><ellipse cx="74.6" cy="17.3" rx="3.4" ry="10.1" fill="#1a1a1a" transform="rotate(0 74.6 17.3)"/><ellipse cx="93.2" cy="15.7" rx="3.4" ry="8.4" fill="#1a1a1a" transform="rotate(0 93.2 15.7)"/><ellipse cx="29.0" cy="49.4" rx="7.6" ry="5.9" fill="#0d0d0d" transform="rotate(0 29.0 49.4)"/><ellipse cx="66.2" cy="49.4" rx="13.5" ry="8.4" fill="#121212" transform="rotate(0 66.2 49.4)"/><ellipse cx="42.5" cy="90.6" rx="10.1" ry="5.9" fill="#0d0d0d" transform="rotate(0 42.5 90.6)"/><ellipse cx="45.9" cy="65.4" rx="8.5" ry="6.7" fill="#808080" transform="rotate(0 45.9 65.4)"/><ellipse cx="93.2" cy="62.0" rx="6.8" ry="5.9" fill="#737373" transform="rotate(0 93.2 62.0)"/><ellipse cx="116.9" cy="99.9" rx="50.7" ry="16.0" fill="#949494" transform="rotate(0 116.9 99.9)"/><rect x="32.4" y="73.0" width="191.6" height="10.1" fill="#121212"/><rect x="-10.0" y="57.8" width="28.9" height="13.5" fill="#b2b2b2"/><rect x="-10.0" y="79.7" width="42.4" height="20.2" fill="#1a1a1a"/><rect x="-10.0" y="99.9" width="59.3" height="15.2" fill="#737373"/><rect x="-10.0" y="115.1" width="234.0" height="23.6" fill="#d9d9d9"/><ellipse cx="93.2" cy="93.2" rx="18.6" ry="11.8" fill="#8c8c8c" transform="rotate(0 93.2 93.2)"/><ellipse cx="54.4" cy="49.4" rx="37.2" ry="9.3" fill="#050505" transform="rotate(0 54.4 49.4)"/><ellipse cx="124.0" cy="56.1" rx="13.5" ry="13.5" fill="#0d0d0d" transform="rotate(0 124.0 56.1)"/><ellipse cx="161.2" cy="46.8" rx="6.8" ry="4.2" fill="#121212" transform="rotate(0 161.2 46.8)"/><ellipse cx="132.5" cy="15.7" rx="3.4" ry="11.8" fill="#808080" transform="rotate(0 132.5 15.7)"/><ellipse cx="143.4" cy="17.3" rx="2.5" ry="10.1" fill="#737373" transform="rotate(0 143.4 17.3)"/><ellipse cx="166.3" cy="12.3" rx="3.4" ry="10.1" fill="#808080" transform="rotate(0 166.3 12.3)"/><ellipse cx="124.0" cy="8.9" rx="5.1" ry="8.4" fill="#1a1a1a" transform="rotate(0 124.0 8.9)"/><ellipse cx="152.7" cy="19.0" rx="4.2" ry="10.1" fill="#1f1f1f" transform="rotate(0 152.7 19.0)"/><ellipse cx="178.1" cy="17.3" rx="4.2" ry="8.4" fill="#1a1a1a" transform="rotate(0 178.1 17.3)"/><ellipse cx="189.9" cy="8.9" rx="3.4" ry="6.7" fill="#1a1a1a" transform="rotate(0 189.9 8.9)"/><ellipse cx="127.4" cy="99.9" rx="47.3" ry="15.2" fill="#949494" transform="rotate(0 127.4 99.9)"/><rect x="22.6" y="73.0" width="169.0" height="11.8" fill="#121212"/><rect x="183.2" y="69.6" width="40.8" height="30.3" fill="#666666"/><rect x="22.6" y="113.4" width="201.4" height="25.3" fill="#d9d9d9"/><ellipse cx="132.5" cy="52.7" rx="28.7" ry="8.4" fill="#050505" transform="rotate(0 132.5 52.7)"/></g><path d="M23.95,29.98 C24.65,28.01 25.64,25.20 27.33,24.08 C29.02,22.95 31.83,22.67 34.09,23.23 C36.34,23.80 38.59,26.46 40.85,27.45 C43.10,28.43 46.20,27.87 47.61,29.13 C49.02,30.40 49.30,33.21 49.30,35.03 C49.30,36.86 49.30,39.10 47.61,40.09 C45.92,41.07 42.26,41.21 39.16,40.93 C36.06,40.65 31.69,39.24 29.02,38.40 C26.34,37.56 23.95,37.28 23.10,35.87 C22.26,34.47 23.24,31.94 23.95,29.98 Z" fill="#9e9e9e" stroke="#9e9e9e" stroke-width="5" stroke-linejoin="round"/><path d="M23.95,29.98 C24.65,28.01 25.64,25.20 27.33,24.08 C29.02,22.95 31.83,22.67 34.09,23.23 C36.34,23.80 38.59,26.46 40.85,27.45 C43.10,28.43 46.20,27.87 47.61,29.13 C49.02,30.40 49.30,33.21 49.30,35.03 C49.30,36.86 49.30,39.10 47.61,40.09 C45.92,41.07 42.26,41.21 39.16,40.93 C36.06,40.65 31.69,39.24 29.02,38.40 C26.34,37.56 23.95,37.28 23.10,35.87 C22.26,34.47 23.24,31.94 23.95,29.98 Z" fill="#dedede"/><path d="M44.23,-2.04 C46.06,-3.17 54.23,-3.03 56.06,-2.04 C57.89,-1.06 56.34,2.45 55.21,3.85 C54.09,5.26 50.99,6.24 49.30,6.38 C47.61,6.52 45.92,6.10 45.07,4.70 C44.23,3.29 42.40,-0.92 44.23,-2.04 Z" fill="#9e9e9e" stroke="#9e9e9e" stroke-width="5" stroke-linejoin="round"/><path d="M44.23,-2.04 C46.06,-3.17 54.23,-3.03 56.06,-2.04 C57.89,-1.06 56.34,2.45 55.21,3.85 C54.09,5.26 50.99,6.24 49.30,6.38 C47.61,6.52 45.92,6.10 45.07,4.70 C44.23,3.29 42.40,-0.92 44.23,-2.04 Z" fill="#dedede"/><path d="M101.69,20.71 C102.20,18.60 103.66,15.93 105.07,14.81 C106.48,13.68 109.07,13.26 110.14,13.97 C111.21,14.67 111.27,14.81 111.49,19.02 C111.72,23.23 112.28,35.73 111.49,39.24 C110.71,42.76 109.24,39.95 106.76,40.09 C104.28,40.23 99.02,40.65 96.62,40.09 C94.23,39.53 92.96,37.98 92.40,36.72 C91.83,35.45 92.26,33.63 93.24,32.50 C94.23,31.38 96.85,30.82 98.31,29.98 C99.78,29.13 101.47,28.99 102.03,27.45 C102.59,25.90 101.18,22.81 101.69,20.71 Z" fill="#9e9e9e" stroke="#9e9e9e" stroke-width="5" stroke-linejoin="round"/><path d="M101.69,20.71 C102.20,18.60 103.66,15.93 105.07,14.81 C106.48,13.68 109.07,13.26 110.14,13.97 C111.21,14.67 111.27,14.81 111.49,19.02 C111.72,23.23 112.28,35.73 111.49,39.24 C110.71,42.76 109.24,39.95 106.76,40.09 C104.28,40.23 99.02,40.65 96.62,40.09 C94.23,39.53 92.96,37.98 92.40,36.72 C91.83,35.45 92.26,33.63 93.24,32.50 C94.23,31.38 96.85,30.82 98.31,29.98 C99.78,29.13 101.47,28.99 102.03,27.45 C102.59,25.90 101.18,22.81 101.69,20.71 Z" fill="#dedede"/><ellipse cx="117.1" cy="94.2" rx="30.1" ry="6.7" fill="#9e9e9e" stroke="#9e9e9e" stroke-width="5" transform="rotate(0 117.1 94.2)"/><ellipse cx="117.1" cy="94.2" rx="30.1" ry="6.7" fill="#dedede" transform="rotate(0 117.1 94.2)"/><path d="M60.79,114.91 C70.00,110.56 91.02,112.72 106.09,112.89 C121.16,113.06 140.34,114.07 151.21,115.92 C162.09,117.78 167.97,120.17 171.33,124.01 C174.68,127.86 191.41,136.51 171.33,139.01 C151.24,141.51 69.24,143.03 50.82,139.01 C32.40,135.00 51.58,119.27 60.79,114.91 Z" fill="#dedede"/><path d="M186.54,99.91 C196.68,92.33 213.30,86.71 218.65,93.17 C224.00,99.63 228.79,131.09 218.65,138.68 C208.51,146.26 163.16,145.14 157.80,138.68 C152.45,132.22 176.40,107.50 186.54,99.91 Z" fill="#d9d9d9"/><path d="M201.75,27.45 C204.00,20.14 213.02,18.74 215.27,25.76 C217.52,32.78 217.52,62.28 215.27,69.58 C213.02,76.88 204.00,76.60 201.75,69.58 C199.49,62.56 199.49,34.75 201.75,27.45 Z" fill="#d9d9d9"/><ellipse cx="126.5" cy="30.0" rx="2.5" ry="3.7" fill="#9e9e9e" stroke="#9e9e9e" stroke-width="5" transform="rotate(0 126.5 30.0)"/><ellipse cx="126.5" cy="30.0" rx="2.5" ry="3.7" fill="#dedede" transform="rotate(0 126.5 30.0)"/><ellipse cx="160.3" cy="31.7" rx="3.0" ry="4.7" fill="#9e9e9e" stroke="#9e9e9e" stroke-width="5" transform="rotate(0 160.3 31.7)"/><ellipse cx="160.3" cy="31.7" rx="3.0" ry="4.7" fill="#dedede" transform="rotate(0 160.3 31.7)"/><ellipse cx="202.6" cy="13.1" rx="3.4" ry="5.1" fill="#9e9e9e" stroke="#9e9e9e" stroke-width="5" transform="rotate(0 202.6 13.1)"/><ellipse cx="202.6" cy="13.1" rx="3.4" ry="5.1" fill="#dedede" transform="rotate(0 202.6 13.1)"/><ellipse cx="181.5" cy="2.2" rx="2.5" ry="2.5" fill="#9e9e9e" stroke="#9e9e9e" stroke-width="5" transform="rotate(0 181.5 2.2)"/><ellipse cx="181.5" cy="2.2" rx="2.5" ry="2.5" fill="#dedede" transform="rotate(0 181.5 2.2)"/><path d="M182.31,36.72 C182.59,35.03 183.30,30.82 184.85,29.13 C186.40,27.45 189.35,26.46 191.61,26.61 C193.86,26.75 196.40,28.43 198.37,29.98 C200.34,31.52 202.03,35.03 203.44,35.87 C204.85,36.72 205.69,35.59 206.82,35.03 C207.95,34.47 208.79,33.21 210.20,32.50 C211.61,31.80 214.42,29.41 215.27,30.82 C216.11,32.22 217.52,39.39 215.27,40.93 C213.02,42.47 207.10,40.37 201.75,40.09 C196.40,39.81 186.40,39.81 183.16,39.24 C179.92,38.68 182.03,38.40 182.31,36.72 Z" fill="#9e9e9e" stroke="#9e9e9e" stroke-width="5" stroke-linejoin="round"/><path d="M182.31,36.72 C182.59,35.03 183.30,30.82 184.85,29.13 C186.40,27.45 189.35,26.46 191.61,26.61 C193.86,26.75 196.40,28.43 198.37,29.98 C200.34,31.52 202.03,35.03 203.44,35.87 C204.85,36.72 205.69,35.59 206.82,35.03 C207.95,34.47 208.79,33.21 210.20,32.50 C211.61,31.80 214.42,29.41 215.27,30.82 C216.11,32.22 217.52,39.39 215.27,40.93 C213.02,42.47 207.10,40.37 201.75,40.09 C196.40,39.81 186.40,39.81 183.16,39.24 C179.92,38.68 182.03,38.40 182.31,36.72 Z" fill="#dedede"/><path d="M177.24,59.47 C177.52,58.40 179.64,55.68 181.47,54.41 C183.30,53.15 184.85,52.31 188.23,51.88 C191.61,51.46 197.80,51.74 201.75,51.88 C205.69,52.02 210.20,50.62 211.89,52.73 C213.58,54.83 213.72,62.50 211.89,64.52 C210.06,66.55 204.00,65.00 200.90,64.86 C197.80,64.72 195.69,64.52 193.30,63.68 C190.90,62.84 188.79,60.28 186.54,59.80 C184.28,59.33 181.33,60.87 179.78,60.82 C178.23,60.76 176.96,60.54 177.24,59.47 Z" fill="#9e9e9e" stroke="#9e9e9e" stroke-width="5" stroke-linejoin="round"/><path d="M177.24,59.47 C177.52,58.40 179.64,55.68 181.47,54.41 C183.30,53.15 184.85,52.31 188.23,51.88 C191.61,51.46 197.80,51.74 201.75,51.88 C205.69,52.02 210.20,50.62 211.89,52.73 C213.58,54.83 213.72,62.50 211.89,64.52 C210.06,66.55 204.00,65.00 200.90,64.86 C197.80,64.72 195.69,64.52 193.30,63.68 C190.90,62.84 188.79,60.28 186.54,59.80 C184.28,59.33 181.33,60.87 179.78,60.82 C178.23,60.76 176.96,60.54 177.24,59.47 Z" fill="#dedede"/>
</g></g>
<rect x="0" y="0" width="214" height="137" fill="url(#a0)" mask="url(#mka3)"/>
<path d="M23.95,29.98 C24.65,28.01 25.64,25.20 27.33,24.08 C29.02,22.95 31.83,22.67 34.09,23.23 C36.34,23.80 38.59,26.46 40.85,27.45 C43.10,28.43 46.20,27.87 47.61,29.13 C49.02,30.40 49.30,33.21 49.30,35.03 C49.30,36.86 49.30,39.10 47.61,40.09 C45.92,41.07 42.26,41.21 39.16,40.93 C36.06,40.65 31.69,39.24 29.02,38.40 C26.34,37.56 23.95,37.28 23.10,35.87 C22.26,34.47 23.24,31.94 23.95,29.98 Z" fill="none" stroke="#000" stroke-width="1.3"/><path d="M44.23,-2.04 C46.06,-3.17 54.23,-3.03 56.06,-2.04 C57.89,-1.06 56.34,2.45 55.21,3.85 C54.09,5.26 50.99,6.24 49.30,6.38 C47.61,6.52 45.92,6.10 45.07,4.70 C44.23,3.29 42.40,-0.92 44.23,-2.04 Z" fill="none" stroke="#000" stroke-width="1.3"/><path d="M101.69,20.71 C102.20,18.60 103.66,15.93 105.07,14.81 C106.48,13.68 109.07,13.26 110.14,13.97 C111.21,14.67 111.27,14.81 111.49,19.02 C111.72,23.23 112.28,35.73 111.49,39.24 C110.71,42.76 109.24,39.95 106.76,40.09 C104.28,40.23 99.02,40.65 96.62,40.09 C94.23,39.53 92.96,37.98 92.40,36.72 C91.83,35.45 92.26,33.63 93.24,32.50 C94.23,31.38 96.85,30.82 98.31,29.98 C99.78,29.13 101.47,28.99 102.03,27.45 C102.59,25.90 101.18,22.81 101.69,20.71 Z" fill="none" stroke="#000" stroke-width="1.3"/><ellipse cx="117.1" cy="94.2" rx="30.1" ry="6.7" fill="none" stroke="#000" stroke-width="1.3" transform="rotate(0 117.1 94.2)"/><path d="M49.30,116.77 C51.21,116.46 51.33,115.56 60.79,114.91 C70.26,114.27 91.02,112.72 106.09,112.89 C121.16,113.06 143.69,115.42 151.21,115.92" fill="none" stroke="#000" stroke-width="1.2"/><path d="M69.58,85.59 C76.40,80.81 100.85,80.11 107.10,84.75 C113.35,89.38 113.92,108.62 107.10,113.40 C100.28,118.17 72.45,118.03 66.20,113.40 C59.95,108.76 62.76,90.36 69.58,85.59 Z" fill="url(#a0)"/><path d="M-9.86,115.08 C9.64,111.15 87.61,111.15 107.10,115.08 C126.59,119.01 126.59,134.74 107.10,138.68 C87.61,142.61 9.64,142.61 -9.86,138.68 C-29.35,134.74 -29.35,119.01 -9.86,115.08 Z" fill="url(#a0)"/><ellipse cx="126.5" cy="30.0" rx="2.5" ry="3.7" fill="none" stroke="#000" stroke-width="1.3" transform="rotate(0 126.5 30.0)"/><ellipse cx="160.3" cy="31.7" rx="3.0" ry="4.7" fill="none" stroke="#000" stroke-width="1.3" transform="rotate(0 160.3 31.7)"/><ellipse cx="202.6" cy="13.1" rx="3.4" ry="5.1" fill="none" stroke="#000" stroke-width="1.3" transform="rotate(0 202.6 13.1)"/><ellipse cx="181.5" cy="2.2" rx="2.5" ry="2.5" fill="none" stroke="#000" stroke-width="1.3" transform="rotate(0 181.5 2.2)"/><path d="M182.31,36.72 C182.59,35.03 183.30,30.82 184.85,29.13 C186.40,27.45 189.35,26.46 191.61,26.61 C193.86,26.75 196.40,28.43 198.37,29.98 C200.34,31.52 202.03,35.03 203.44,35.87 C204.85,36.72 205.69,35.59 206.82,35.03 C207.95,34.47 208.79,33.21 210.20,32.50 C211.61,31.80 214.42,29.41 215.27,30.82 C216.11,32.22 217.52,39.39 215.27,40.93 C213.02,42.47 207.10,40.37 201.75,40.09 C196.40,39.81 186.40,39.81 183.16,39.24 C179.92,38.68 182.03,38.40 182.31,36.72 Z" fill="none" stroke="#000" stroke-width="1.3"/><path d="M177.24,59.47 C177.52,58.40 179.64,55.68 181.47,54.41 C183.30,53.15 184.85,52.31 188.23,51.88 C191.61,51.46 197.80,51.74 201.75,51.88 C205.69,52.02 210.20,50.62 211.89,52.73 C213.58,54.83 213.72,62.50 211.89,64.52 C210.06,66.55 204.00,65.00 200.90,64.86 C197.80,64.72 195.69,64.52 193.30,63.68 C190.90,62.84 188.79,60.28 186.54,59.80 C184.28,59.33 181.33,60.87 179.78,60.82 C178.23,60.76 176.96,60.54 177.24,59.47 Z" fill="none" stroke="#000" stroke-width="1.3"/><path d="M107.10,83.06 C117.80,78.01 162.88,78.01 171.33,83.06 C179.78,88.12 168.51,108.34 157.80,113.40 C147.10,118.45 115.55,118.45 107.10,113.40 C98.65,108.34 96.40,88.12 107.10,83.06 Z" fill="url(#a0)"/>
<path d="M-2,-2 L216.0,-2 L216.0,139.0 L-2,139.0 Z M2.90,0.00 L3.08,2.29 L3.26,4.58 L3.46,6.87 L3.67,9.17 L3.90,11.46 L4.13,13.75 L4.38,16.04 L4.65,18.33 L4.93,20.62 L5.23,22.92 L5.55,25.21 L5.89,27.50 L6.25,29.79 L6.63,32.08 L7.03,34.38 L7.46,36.67 L7.91,38.96 L8.39,41.25 L8.91,43.54 L9.45,45.83 L10.02,48.12 L10.63,50.42 L11.28,52.71 L11.96,55.00 L12.69,57.29 L13.46,59.58 L14.28,61.88 L15.15,64.17 L16.07,66.46 L17.05,68.75 L18.09,71.04 L19.19,73.33 L20.36,75.63 L21.59,77.92 L22.91,80.21 L24.30,82.50 L25.78,84.79 L27.35,87.08 L29.01,89.38 L30.78,91.67 L32.65,93.96 L34.63,96.25 L36.74,98.54 L38.98,100.83 L41.35,103.12 L43.86,105.42 L46.53,107.71 L49.36,110.00 L52.36,112.29 L55.55,114.58 L58.93,116.88 L62.51,119.17 L66.31,121.46 L70.35,123.75 L74.63,126.04 L79.17,128.33 L83.98,130.62 L89.09,132.92 L94.51,135.21 L100.26,137.50 L113.74,137.50 L119.49,135.21 L124.91,132.92 L130.02,130.62 L134.83,128.33 L139.37,126.04 L143.65,123.75 L147.69,121.46 L151.49,119.17 L155.07,116.88 L158.45,114.58 L161.64,112.29 L164.64,110.00 L167.47,107.71 L170.14,105.42 L172.65,103.12 L175.02,100.83 L177.26,98.54 L179.37,96.25 L181.35,93.96 L183.22,91.67 L184.99,89.38 L186.65,87.08 L188.22,84.79 L189.70,82.50 L191.09,80.21 L192.41,77.92 L193.64,75.63 L194.81,73.33 L195.91,71.04 L196.95,68.75 L197.93,66.46 L198.85,64.17 L199.72,61.88 L200.54,59.58 L201.31,57.29 L202.04,55.00 L202.72,52.71 L203.37,50.42 L203.98,48.12 L204.55,45.83 L205.09,43.54 L205.61,41.25 L206.09,38.96 L206.54,36.67 L206.97,34.38 L207.37,32.08 L207.75,29.79 L208.11,27.50 L208.45,25.21 L208.77,22.92 L209.07,20.62 L209.35,18.33 L209.62,16.04 L209.87,13.75 L210.10,11.46 L210.33,9.17 L210.54,6.87 L210.74,4.58 L210.92,2.29 L211.10,0.00 Z" fill="#fff" fill-opacity="0.5" fill-rule="evenodd"/>

<path d="M2.90,0.00 L3.08,2.29 L3.26,4.58 L3.46,6.87 L3.67,9.17 L3.90,11.46 L4.13,13.75 L4.38,16.04 L4.65,18.33 L4.93,20.62 L5.23,22.92 L5.55,25.21 L5.89,27.50 L6.25,29.79 L6.63,32.08 L7.03,34.38 L7.46,36.67 L7.91,38.96 L8.39,41.25 L8.91,43.54 L9.45,45.83 L10.02,48.12 L10.63,50.42 L11.28,52.71 L11.96,55.00 L12.69,57.29 L13.46,59.58 L14.28,61.88 L15.15,64.17 L16.07,66.46 L17.05,68.75 L18.09,71.04 L19.19,73.33 L20.36,75.63 L21.59,77.92 L22.91,80.21 L24.30,82.50 L25.78,84.79 L27.35,87.08 L29.01,89.38 L30.78,91.67 L32.65,93.96 L34.63,96.25 L36.74,98.54 L38.98,100.83 L41.35,103.12 L43.86,105.42 L46.53,107.71 L49.36,110.00 L52.36,112.29 L55.55,114.58 L58.93,116.88 L62.51,119.17 L66.31,121.46 L70.35,123.75 L74.63,126.04 L79.17,128.33 L83.98,130.62 L89.09,132.92 L94.51,135.21 L100.26,137.50 L113.74,137.50 L119.49,135.21 L124.91,132.92 L130.02,130.62 L134.83,128.33 L139.37,126.04 L143.65,123.75 L147.69,121.46 L151.49,119.17 L155.07,116.88 L158.45,114.58 L161.64,112.29 L164.64,110.00 L167.47,107.71 L170.14,105.42 L172.65,103.12 L175.02,100.83 L177.26,98.54 L179.37,96.25 L181.35,93.96 L183.22,91.67 L184.99,89.38 L186.65,87.08 L188.22,84.79 L189.70,82.50 L191.09,80.21 L192.41,77.92 L193.64,75.63 L194.81,73.33 L195.91,71.04 L196.95,68.75 L197.93,66.46 L198.85,64.17 L199.72,61.88 L200.54,59.58 L201.31,57.29 L202.04,55.00 L202.72,52.71 L203.37,50.42 L203.98,48.12 L204.55,45.83 L205.09,43.54 L205.61,41.25 L206.09,38.96 L206.54,36.67 L206.97,34.38 L207.37,32.08 L207.75,29.79 L208.11,27.50 L208.45,25.21 L208.77,22.92 L209.07,20.62 L209.35,18.33 L209.62,16.04 L209.87,13.75 L210.10,11.46 L210.33,9.17 L210.54,6.87 L210.74,4.58 L210.92,2.29 L211.10,0.00 Z" fill="none" stroke="#222" stroke-width="0.6"/>
</g>
<rect x="0.3" y="0.3" width="213.4" height="136.4" fill="none" stroke="#777" stroke-width="0.8"/>
</svg>
<div class="t ti" style="left:520.6px;top:-0.1px;">(a-3) EP/NP-DPC1</div>
<div class="t tk" style="left:482.2px;top:154.2px;width:0;"><span style="position:absolute;transform:translateX(-50%)">2001</span></div>
<div class="t tk" style="left:517.7px;top:154.2px;width:0;"><span style="position:absolute;transform:translateX(-50%)">2005</span></div>
<div class="t tk" style="left:560.0px;top:154.2px;width:0;"><span style="position:absolute;transform:translateX(-50%)">2009</span></div>
<div class="t tk" style="left:602.3px;top:154.2px;width:0;"><span style="position:absolute;transform:translateX(-50%)">2013</span></div>
<div class="t tk" style="left:641.3px;top:154.2px;width:0;"><span style="position:absolute;transform:translateX(-50%)">2017</span></div>
<div class="t tk" style="left:673.6px;top:154.2px;width:0;"><span style="position:absolute;transform:translateX(-50%)">2019</span></div>
<div class="t tk" style="right:679.0px;top:33.5px;">4</div>
<div class="t tk" style="right:679.0px;top:59.8px;">8</div>
<div class="t tk" style="right:679.0px;top:86.2px;">16</div>
<div class="t tk" style="right:679.0px;top:112.6px;">32</div>
<div class="t tk" style="right:679.0px;top:138.9px;">64</div>
<div class="t tk" style="left:9.0px;top:94.0px;width:0;height:0;"><span style="position:absolute;transform:translate(-50%,-50%) rotate(-90deg);">Period (month)</span></div>
<div style="position:absolute;left:685.6px;top:15.0px;width:8.6px;height:138.1px;background:linear-gradient(to bottom,#f9fb15,#f5e825,#fad42e,#fec13a,#eaba31,#c8c129,#9fc942,#71cd64,#48cb86,#2fc5a2,#12beb9,#05b6ce,#1caadf,#259ce7,#2d8cf3,#347afd,#4367fd,#4755f6,#4743e7,#4433cc,#3e26a8);box-shadow:0 0 0 0.5px #999;"></div>
<div class="t cb" style="left:694.8px;top:144.3px;">0</div>
<div class="t cb" style="left:694.8px;top:131.2px;">0.1</div>
<div class="t cb" style="left:694.8px;top:118.0px;">0.2</div>
<div class="t cb" style="left:694.8px;top:104.9px;">0.3</div>
<div class="t cb" style="left:694.8px;top:91.7px;">0.4</div>
<div class="t cb" style="left:694.8px;top:78.6px;">0.5</div>
<div class="t cb" style="left:694.8px;top:65.4px;">0.6</div>
<div class="t cb" style="left:694.8px;top:52.3px;">0.7</div>
<div class="t cb" style="left:694.8px;top:39.1px;">0.8</div>
<div class="t cb" style="left:694.8px;top:26.0px;">0.9</div>
<div class="t cb" style="left:694.8px;top:12.8px;">1</div>
<svg class="p" style="left:30.60px;top:181.00px;width:216.10px;height:136.50px" viewBox="0 0 214 137" preserveAspectRatio="none">
<clipPath id="clb1"><rect x="0" y="0" width="214" height="137"/></clipPath>
<filter id="xtb1" x="-10" y="-10" width="234" height="157" filterUnits="userSpaceOnUse" color-interpolation-filters="sRGB"><feTurbulence type="turbulence" baseFrequency="0.07 0.015" numOctaves="2" seed="20"/><feColorMatrix type="matrix" values="1.1 0 0 0 0  1.1 0 0 0 0  1.1 0 0 0 0  0 0 0 0 1"/></filter>
<filter id="xmb1" x="-10" y="-10" width="234" height="157" filterUnits="userSpaceOnUse" color-interpolation-filters="sRGB"><feTurbulence type="turbulence" baseFrequency="0.035 0.03" numOctaves="2" seed="120"/><feColorMatrix type="matrix" values="1.1 0 0 0 0  1.1 0 0 0 0  1.1 0 0 0 0  0 0 0 0 1"/></filter>
<filter id="xbb1" x="-10" y="-10" width="234" height="157" filterUnits="userSpaceOnUse" color-interpolation-filters="sRGB"><feTurbulence type="turbulence" baseFrequency="0.01 0.05" numOctaves="2" seed="220"/><feColorMatrix type="matrix" values="1.1 0 0 0 0  1.1 0 0 0 0  1.1 0 0 0 0  0 0 0 0 1"/></filter>
<g clip-path="url(#clb1)">
<filter id="thrb1" x="-10" y="-10" width="234" height="157" filterUnits="userSpaceOnUse" color-interpolation-filters="sRGB"><feGaussianBlur stdDeviation="1.3"/><feComponentTransfer><feFuncR type="discrete" tableValues="0 1"/><feFuncG type="discrete" tableValues="0 1"/><feFuncB type="discrete" tableValues="0 1"/><feFuncA type="linear" slope="0" intercept="1"/></feComponentTransfer></filter>
<mask id="mkb1" maskUnits="userSpaceOnUse" x="-10" y="-10" width="234" height="157"><g filter="url(#thrb1)"><use href="#rawb1"/></g></mask>
<g filter="url(#par)"><g id="rawb1">
<rect x="-10" y="-10" width="234" height="157" fill="#383838"/><g mask="url(#mtop)"><rect x="-10" y="-10" width="234" height="157" filter="url(#xtb1)"/></g><g mask="url(#mmid)"><rect x="-10" y="-10" width="234" height="157" filter="url(#xmb1)"/></g><g mask="url(#mbot)"><rect x="-10" y="-10" width="234" height="157" filter="url(#xbb1)"/></g><g filter="url(#bl2)" opacity="0.9"><ellipse cx="11.1" cy="15.9" rx="5.8" ry="13.5" fill="#1a1a1a" transform="rotate(0 11.1 15.9)"/><ellipse cx="39.4" cy="49.7" rx="8.3" ry="5.1" fill="#0d0d0d" transform="rotate(0 39.4 49.7)"/><ellipse cx="56.0" cy="67.4" rx="8.3" ry="5.1" fill="#0a0a0a" transform="rotate(0 56.0 67.4)"/><ellipse cx="77.7" cy="58.1" rx="8.3" ry="4.2" fill="#0f0f0f" transform="rotate(0 77.7 58.1)"/><ellipse cx="52.7" cy="22.6" rx="5.0" ry="15.2" fill="#9e9e9e" transform="rotate(0 52.7 22.6)"/><ellipse cx="82.7" cy="37.0" rx="3.7" ry="10.1" fill="#999999" transform="rotate(0 82.7 37.0)"/><ellipse cx="91.0" cy="5.8" rx="5.8" ry="8.4" fill="#9e9e9e" transform="rotate(0 91.0 5.8)"/><ellipse cx="71.0" cy="21.8" rx="2.0" ry="6.8" fill="#8c8c8c" transform="rotate(0 71.0 21.8)"/><ellipse cx="32.7" cy="39.5" rx="18.3" ry="7.6" fill="#737373" transform="rotate(0 32.7 39.5)"/><ellipse cx="19.4" cy="46.3" rx="20.0" ry="5.1" fill="#808080" transform="rotate(0 19.4 46.3)"/><ellipse cx="22.7" cy="9.1" rx="5.0" ry="10.1" fill="#808080" transform="rotate(0 22.7 9.1)"/><ellipse cx="-0.6" cy="32.8" rx="10.0" ry="4.2" fill="#cccccc" transform="rotate(0 -0.6 32.8)"/><ellipse cx="-0.6" cy="57.3" rx="5.0" ry="3.4" fill="#cccccc" transform="rotate(0 -0.6 57.3)"/><rect x="-10.0" y="71.6" width="51.1" height="13.5" fill="#808080"/><rect x="41.1" y="103.7" width="182.9" height="13.5" fill="#0d0d0d"/><rect x="32.7" y="117.2" width="191.3" height="22.0" fill="#383838"/><rect x="-10.0" y="103.7" width="51.1" height="35.5" fill="#1f1f1f"/><ellipse cx="119.7" cy="14.2" rx="4.2" ry="15.2" fill="#141414" transform="rotate(0 119.7 14.2)"/><ellipse cx="138.8" cy="19.3" rx="4.2" ry="11.8" fill="#141414" transform="rotate(0 138.8 19.3)"/><ellipse cx="161.3" cy="25.2" rx="3.7" ry="12.7" fill="#141414" transform="rotate(0 161.3 25.2)"/><ellipse cx="188.8" cy="26.0" rx="7.5" ry="10.1" fill="#141414" transform="rotate(0 188.8 26.0)"/><ellipse cx="131.3" cy="53.9" rx="26.7" ry="5.9" fill="#0d0d0d" transform="rotate(0 131.3 53.9)"/><ellipse cx="176.3" cy="59.8" rx="20.0" ry="10.1" fill="#0f0f0f" transform="rotate(0 176.3 59.8)"/><ellipse cx="161.3" cy="94.4" rx="21.7" ry="5.9" fill="#0a0a0a" transform="rotate(0 161.3 94.4)"/><ellipse cx="146.3" cy="5.8" rx="2.5" ry="7.6" fill="#999999" transform="rotate(0 146.3 5.8)"/><ellipse cx="183.0" cy="4.1" rx="2.5" ry="5.9" fill="#999999" transform="rotate(0 183.0 4.1)"/><ellipse cx="123.0" cy="53.9" rx="16.7" ry="4.2" fill="#737373" transform="rotate(0 123.0 53.9)"/><ellipse cx="156.3" cy="86.0" rx="26.7" ry="2.5" fill="#8c8c8c" transform="rotate(0 156.3 86.0)"/><ellipse cx="139.7" cy="127.4" rx="18.3" ry="10.1" fill="#6b6b6b" transform="rotate(0 139.7 127.4)"/></g><path d="M-2.26,91.05 C3.57,89.22 24.12,91.47 32.72,91.05 C41.33,90.62 44.39,89.36 49.38,88.51 C54.38,87.67 59.10,87.10 62.71,85.98 C66.32,84.85 69.10,83.59 71.04,81.76 C72.98,79.93 72.71,76.55 74.37,75.00 C76.04,73.45 78.54,72.75 81.03,72.47 C83.53,72.19 86.59,72.61 89.36,73.31 C92.14,74.01 94.86,75.56 97.69,76.69 C100.53,77.82 103.25,79.22 106.36,80.07 C109.47,80.91 113.30,81.19 116.35,81.76 C119.41,82.32 122.46,81.47 124.68,83.44 C126.90,85.42 129.40,90.76 129.68,93.58 C129.96,96.39 128.57,98.93 126.35,100.33 C124.13,101.74 123.63,101.69 116.35,102.02 C109.08,102.36 92.47,102.45 82.70,102.36 C72.93,102.28 64.65,101.80 57.71,101.52 C50.77,101.24 51.05,100.59 41.05,100.67 C31.06,100.76 4.96,103.63 -2.26,102.02 C-9.48,100.42 -8.09,92.88 -2.26,91.05 Z" fill="#9e9e9e" stroke="#9e9e9e" stroke-width="5" stroke-linejoin="round"/><path d="M-2.26,91.05 C3.57,89.22 24.12,91.47 32.72,91.05 C41.33,90.62 44.39,89.36 49.38,88.51 C54.38,87.67 59.10,87.10 62.71,85.98 C66.32,84.85 69.10,83.59 71.04,81.76 C72.98,79.93 72.71,76.55 74.37,75.00 C76.04,73.45 78.54,72.75 81.03,72.47 C83.53,72.19 86.59,72.61 89.36,73.31 C92.14,74.01 94.86,75.56 97.69,76.69 C100.53,77.82 103.25,79.22 106.36,80.07 C109.47,80.91 113.30,81.19 116.35,81.76 C119.41,82.32 122.46,81.47 124.68,83.44 C126.90,85.42 129.40,90.76 129.68,93.58 C129.96,96.39 128.57,98.93 126.35,100.33 C124.13,101.74 123.63,101.69 116.35,102.02 C109.08,102.36 92.47,102.45 82.70,102.36 C72.93,102.28 64.65,101.80 57.71,101.52 C50.77,101.24 51.05,100.59 41.05,100.67 C31.06,100.76 4.96,103.63 -2.26,102.02 C-9.48,100.42 -8.09,92.88 -2.26,91.05 Z" fill="#dedede"/><ellipse cx="11.9" cy="32.8" rx="4.2" ry="3.4" fill="#9e9e9e" stroke="#9e9e9e" stroke-width="5" transform="rotate(0 11.9 32.8)"/><ellipse cx="11.9" cy="32.8" rx="4.2" ry="3.4" fill="#dedede" transform="rotate(0 11.9 32.8)"/><ellipse cx="30.2" cy="8.3" rx="3.7" ry="8.4" fill="#9e9e9e" stroke="#9e9e9e" stroke-width="5" transform="rotate(0 30.2 8.3)"/><ellipse cx="30.2" cy="8.3" rx="3.7" ry="8.4" fill="#dedede" transform="rotate(0 30.2 8.3)"/><ellipse cx="21.1" cy="2.4" rx="2.3" ry="3.4" fill="#9e9e9e" stroke="#9e9e9e" stroke-width="5" transform="rotate(0 21.1 2.4)"/><ellipse cx="21.1" cy="2.4" rx="2.3" ry="3.4" fill="#dedede" transform="rotate(0 21.1 2.4)"/><ellipse cx="40.2" cy="2.4" rx="2.3" ry="2.7" fill="#9e9e9e" stroke="#9e9e9e" stroke-width="5" transform="rotate(0 40.2 2.4)"/><ellipse cx="40.2" cy="2.4" rx="2.3" ry="2.7" fill="#dedede" transform="rotate(0 40.2 2.4)"/><ellipse cx="51.9" cy="28.6" rx="2.5" ry="3.7" fill="#9e9e9e" stroke="#9e9e9e" stroke-width="5" transform="rotate(0 51.9 28.6)"/><ellipse cx="51.9" cy="28.6" rx="2.5" ry="3.7" fill="#dedede" transform="rotate(0 51.9 28.6)"/><ellipse cx="57.7" cy="16.7" rx="2.0" ry="3.0" fill="#a6a6a6" transform="rotate(0 57.7 16.7)"/><path d="M206.31,27.71 C207.98,20.67 214.64,20.67 216.31,27.71 C217.97,34.75 217.97,62.90 216.31,69.93 C214.64,76.97 207.98,76.97 206.31,69.93 C204.64,62.90 204.64,34.75 206.31,27.71 Z" fill="#d9d9d9"/><path d="M128.01,78.38 C128.85,76.41 131.62,71.90 134.68,69.93 C137.73,67.96 141.90,66.98 146.34,66.56 C150.78,66.13 157.17,66.56 161.33,67.40 C165.50,68.24 168.55,69.23 171.33,71.62 C174.10,74.01 180.49,79.79 177.99,81.76 C175.49,83.73 163.27,83.30 156.33,83.44 C149.39,83.59 140.78,82.88 136.34,82.60 C131.90,82.32 131.07,82.46 129.68,81.76 C128.29,81.05 127.18,80.35 128.01,78.38 Z" fill="#9e9e9e" stroke="#9e9e9e" stroke-width="5" stroke-linejoin="round"/><path d="M128.01,78.38 C128.85,76.41 131.62,71.90 134.68,69.93 C137.73,67.96 141.90,66.98 146.34,66.56 C150.78,66.13 157.17,66.56 161.33,67.40 C165.50,68.24 168.55,69.23 171.33,71.62 C174.10,74.01 180.49,79.79 177.99,81.76 C175.49,83.73 163.27,83.30 156.33,83.44 C149.39,83.59 140.78,82.88 136.34,82.60 C131.90,82.32 131.07,82.46 129.68,81.76 C128.29,81.05 127.18,80.35 128.01,78.38 Z" fill="#dedede"/><path d="M108.02,37.84 C108.86,36.01 110.80,32.49 113.02,31.93 C115.24,31.37 118.30,34.18 121.35,34.46 C124.40,34.75 128.43,33.34 131.34,33.62 C134.26,33.90 137.59,34.46 138.84,36.15 C140.09,37.84 140.09,41.92 138.84,43.75 C137.59,45.58 134.54,46.71 131.34,47.13 C128.15,47.55 122.74,46.57 119.68,46.29 C116.63,46.01 114.96,46.01 113.02,45.44 C111.08,44.88 108.86,44.18 108.02,42.91 C107.19,41.64 107.19,39.67 108.02,37.84 Z" fill="#9e9e9e" stroke="#9e9e9e" stroke-width="5" stroke-linejoin="round"/><path d="M108.02,37.84 C108.86,36.01 110.80,32.49 113.02,31.93 C115.24,31.37 118.30,34.18 121.35,34.46 C124.40,34.75 128.43,33.34 131.34,33.62 C134.26,33.90 137.59,34.46 138.84,36.15 C140.09,37.84 140.09,41.92 138.84,43.75 C137.59,45.58 134.54,46.71 131.34,47.13 C128.15,47.55 122.74,46.57 119.68,46.29 C116.63,46.01 114.96,46.01 113.02,45.44 C111.08,44.88 108.86,44.18 108.02,42.91 C107.19,41.64 107.19,39.67 108.02,37.84 Z" fill="#dedede"/><ellipse cx="205.5" cy="39.5" rx="3.0" ry="5.1" fill="#9e9e9e" stroke="#9e9e9e" stroke-width="5" transform="rotate(0 205.5 39.5)"/><ellipse cx="205.5" cy="39.5" rx="3.0" ry="5.1" fill="#dedede" transform="rotate(0 205.5 39.5)"/><ellipse cx="167.2" cy="6.6" rx="1.7" ry="5.9" fill="#9e9e9e" stroke="#9e9e9e" stroke-width="5" transform="rotate(0 167.2 6.6)"/><ellipse cx="167.2" cy="6.6" rx="1.7" ry="5.9" fill="#dedede" transform="rotate(0 167.2 6.6)"/>
</g></g>
<rect x="0" y="0" width="214" height="137" fill="url(#a90)" mask="url(#mkb1)"/>
<path d="M-2.26,91.05 C3.57,89.22 24.12,91.47 32.72,91.05 C41.33,90.62 44.39,89.36 49.38,88.51 C54.38,87.67 59.10,87.10 62.71,85.98 C66.32,84.85 69.10,83.59 71.04,81.76 C72.98,79.93 72.71,76.55 74.37,75.00 C76.04,73.45 78.54,72.75 81.03,72.47 C83.53,72.19 86.59,72.61 89.36,73.31 C92.14,74.01 94.86,75.56 97.69,76.69 C100.53,77.82 103.25,79.22 106.36,80.07 C109.47,80.91 113.30,81.19 116.35,81.76 C119.41,82.32 122.46,81.47 124.68,83.44 C126.90,85.42 129.40,90.76 129.68,93.58 C129.96,96.39 128.57,98.93 126.35,100.33 C124.13,101.74 123.63,101.69 116.35,102.02 C109.08,102.36 92.47,102.45 82.70,102.36 C72.93,102.28 64.65,101.80 57.71,101.52 C50.77,101.24 51.05,100.59 41.05,100.67 C31.06,100.76 4.96,103.63 -2.26,102.02 C-9.48,100.42 -8.09,92.88 -2.26,91.05 Z" fill="none" stroke="#000" stroke-width="1.3"/><ellipse cx="11.9" cy="32.8" rx="4.2" ry="3.4" fill="none" stroke="#000" stroke-width="1.3" transform="rotate(0 11.9 32.8)"/><ellipse cx="30.2" cy="8.3" rx="3.7" ry="8.4" fill="none" stroke="#000" stroke-width="1.3" transform="rotate(0 30.2 8.3)"/><ellipse cx="21.1" cy="2.4" rx="2.3" ry="3.4" fill="none" stroke="#000" stroke-width="1.3" transform="rotate(0 21.1 2.4)"/><ellipse cx="40.2" cy="2.4" rx="2.3" ry="2.7" fill="none" stroke="#000" stroke-width="1.3" transform="rotate(0 40.2 2.4)"/><ellipse cx="51.9" cy="28.6" rx="2.5" ry="3.7" fill="none" stroke="#000" stroke-width="1.3" transform="rotate(0 51.9 28.6)"/><path d="M128.01,78.38 C128.85,76.41 131.62,71.90 134.68,69.93 C137.73,67.96 141.90,66.98 146.34,66.56 C150.78,66.13 157.17,66.56 161.33,67.40 C165.50,68.24 168.55,69.23 171.33,71.62 C174.10,74.01 180.49,79.79 177.99,81.76 C175.49,83.73 163.27,83.30 156.33,83.44 C149.39,83.59 140.78,82.88 136.34,82.60 C131.90,82.32 131.07,82.46 129.68,81.76 C128.29,81.05 127.18,80.35 128.01,78.38 Z" fill="none" stroke="#000" stroke-width="1.3"/><path d="M108.02,37.84 C108.86,36.01 110.80,32.49 113.02,31.93 C115.24,31.37 118.30,34.18 121.35,34.46 C124.40,34.75 128.43,33.34 131.34,33.62 C134.26,33.90 137.59,34.46 138.84,36.15 C140.09,37.84 140.09,41.92 138.84,43.75 C137.59,45.58 134.54,46.71 131.34,47.13 C128.15,47.55 122.74,46.57 119.68,46.29 C116.63,46.01 114.96,46.01 113.02,45.44 C111.08,44.88 108.86,44.18 108.02,42.91 C107.19,41.64 107.19,39.67 108.02,37.84 Z" fill="none" stroke="#000" stroke-width="1.3"/><ellipse cx="205.5" cy="39.5" rx="3.0" ry="5.1" fill="none" stroke="#000" stroke-width="1.3" transform="rotate(0 205.5 39.5)"/><ellipse cx="167.2" cy="6.6" rx="1.7" ry="5.9" fill="none" stroke="#000" stroke-width="1.3" transform="rotate(0 167.2 6.6)"/><path d="M156.33,115.54 C161.33,112.44 181.32,112.44 186.32,115.54 C191.32,118.63 191.32,131.02 186.32,134.11 C181.32,137.21 161.33,137.21 156.33,134.11 C151.34,131.02 151.34,118.63 156.33,115.54 Z" fill="url(#a225)"/>
<path d="M-2,-2 L216.0,-2 L216.0,139.0 L-2,139.0 Z M2.90,0.00 L3.08,2.29 L3.26,4.58 L3.46,6.87 L3.67,9.17 L3.90,11.46 L4.13,13.75 L4.38,16.04 L4.65,18.33 L4.93,20.62 L5.23,22.92 L5.55,25.21 L5.89,27.50 L6.25,29.79 L6.63,32.08 L7.03,34.38 L7.46,36.67 L7.91,38.96 L8.39,41.25 L8.91,43.54 L9.45,45.83 L10.02,48.12 L10.63,50.42 L11.28,52.71 L11.96,55.00 L12.69,57.29 L13.46,59.58 L14.28,61.88 L15.15,64.17 L16.07,66.46 L17.05,68.75 L18.09,71.04 L19.19,73.33 L20.36,75.63 L21.59,77.92 L22.91,80.21 L24.30,82.50 L25.78,84.79 L27.35,87.08 L29.01,89.38 L30.78,91.67 L32.65,93.96 L34.63,96.25 L36.74,98.54 L38.98,100.83 L41.35,103.12 L43.86,105.42 L46.53,107.71 L49.36,110.00 L52.36,112.29 L55.55,114.58 L58.93,116.88 L62.51,119.17 L66.31,121.46 L70.35,123.75 L74.63,126.04 L79.17,128.33 L83.98,130.62 L89.09,132.92 L94.51,135.21 L100.26,137.50 L113.74,137.50 L119.49,135.21 L124.91,132.92 L130.02,130.62 L134.83,128.33 L139.37,126.04 L143.65,123.75 L147.69,121.46 L151.49,119.17 L155.07,116.88 L158.45,114.58 L161.64,112.29 L164.64,110.00 L167.47,107.71 L170.14,105.42 L172.65,103.12 L175.02,100.83 L177.26,98.54 L179.37,96.25 L181.35,93.96 L183.22,91.67 L184.99,89.38 L186.65,87.08 L188.22,84.79 L189.70,82.50 L191.09,80.21 L192.41,77.92 L193.64,75.63 L194.81,73.33 L195.91,71.04 L196.95,68.75 L197.93,66.46 L198.85,64.17 L199.72,61.88 L200.54,59.58 L201.31,57.29 L202.04,55.00 L202.72,52.71 L203.37,50.42 L203.98,48.12 L204.55,45.83 L205.09,43.54 L205.61,41.25 L206.09,38.96 L206.54,36.67 L206.97,34.38 L207.37,32.08 L207.75,29.79 L208.11,27.50 L208.45,25.21 L208.77,22.92 L209.07,20.62 L209.35,18.33 L209.62,16.04 L209.87,13.75 L210.10,11.46 L210.33,9.17 L210.54,6.87 L210.74,4.58 L210.92,2.29 L211.10,0.00 Z" fill="#fff" fill-opacity="0.5" fill-rule="evenodd"/>

<path d="M2.90,0.00 L3.08,2.29 L3.26,4.58 L3.46,6.87 L3.67,9.17 L3.90,11.46 L4.13,13.75 L4.38,16.04 L4.65,18.33 L4.93,20.62 L5.23,22.92 L5.55,25.21 L5.89,27.50 L6.25,29.79 L6.63,32.08 L7.03,34.38 L7.46,36.67 L7.91,38.96 L8.39,41.25 L8.91,43.54 L9.45,45.83 L10.02,48.12 L10.63,50.42 L11.28,52.71 L11.96,55.00 L12.69,57.29 L13.46,59.58 L14.28,61.88 L15.15,64.17 L16.07,66.46 L17.05,68.75 L18.09,71.04 L19.19,73.33 L20.36,75.63 L21.59,77.92 L22.91,80.21 L24.30,82.50 L25.78,84.79 L27.35,87.08 L29.01,89.38 L30.78,91.67 L32.65,93.96 L34.63,96.25 L36.74,98.54 L38.98,100.83 L41.35,103.12 L43.86,105.42 L46.53,107.71 L49.36,110.00 L52.36,112.29 L55.55,114.58 L58.93,116.88 L62.51,119.17 L66.31,121.46 L70.35,123.75 L74.63,126.04 L79.17,128.33 L83.98,130.62 L89.09,132.92 L94.51,135.21 L100.26,137.50 L113.74,137.50 L119.49,135.21 L124.91,132.92 L130.02,130.62 L134.83,128.33 L139.37,126.04 L143.65,123.75 L147.69,121.46 L151.49,119.17 L155.07,116.88 L158.45,114.58 L161.64,112.29 L164.64,110.00 L167.47,107.71 L170.14,105.42 L172.65,103.12 L175.02,100.83 L177.26,98.54 L179.37,96.25 L181.35,93.96 L183.22,91.67 L184.99,89.38 L186.65,87.08 L188.22,84.79 L189.70,82.50 L191.09,80.21 L192.41,77.92 L193.64,75.63 L194.81,73.33 L195.91,71.04 L196.95,68.75 L197.93,66.46 L198.85,64.17 L199.72,61.88 L200.54,59.58 L201.31,57.29 L202.04,55.00 L202.72,52.71 L203.37,50.42 L203.98,48.12 L204.55,45.83 L205.09,43.54 L205.61,41.25 L206.09,38.96 L206.54,36.67 L206.97,34.38 L207.37,32.08 L207.75,29.79 L208.11,27.50 L208.45,25.21 L208.77,22.92 L209.07,20.62 L209.35,18.33 L209.62,16.04 L209.87,13.75 L210.10,11.46 L210.33,9.17 L210.54,6.87 L210.74,4.58 L210.92,2.29 L211.10,0.00 Z" fill="none" stroke="#222" stroke-width="0.6"/>
</g>
<rect x="0.3" y="0.3" width="213.4" height="136.4" fill="none" stroke="#777" stroke-width="0.8"/>
</svg>
<div class="t ti" style="left:82.2px;top:164.7px;">(b-1) PNA-DPC2</div>
<div class="t tk" style="left:43.6px;top:319.2px;width:0;"><span style="position:absolute;transform:translateX(-50%)">2001</span></div>
<div class="t tk" style="left:79.6px;top:319.2px;width:0;"><span style="position:absolute;transform:translateX(-50%)">2005</span></div>
<div class="t tk" style="left:122.5px;top:319.2px;width:0;"><span style="position:absolute;transform:translateX(-50%)">2009</span></div>
<div class="t tk" style="left:165.4px;top:319.2px;width:0;"><span style="position:absolute;transform:translateX(-50%)">2013</span></div>
<div class="t tk" style="left:205.0px;top:319.2px;width:0;"><span style="position:absolute;transform:translateX(-50%)">2017</span></div>
<div class="t tk" style="left:237.8px;top:319.2px;width:0;"><span style="position:absolute;transform:translateX(-50%)">2019</span></div>
<svg class="p" style="left:252.40px;top:181.00px;width:210.50px;height:136.50px" viewBox="0 0 214 137" preserveAspectRatio="none">
<clipPath id="clb2"><rect x="0" y="0" width="214" height="137"/></clipPath>
<filter id="xtb2" x="-10" y="-10" width="234" height="157" filterUnits="userSpaceOnUse" color-interpolation-filters="sRGB"><feTurbulence type="turbulence" baseFrequency="0.07 0.015" numOctaves="2" seed="21"/><feColorMatrix type="matrix" values="1.1 0 0 0 0  1.1 0 0 0 0  1.1 0 0 0 0  0 0 0 0 1"/></filter>
<filter id="xmb2" x="-10" y="-10" width="234" height="157" filterUnits="userSpaceOnUse" color-interpolation-filters="sRGB"><feTurbulence type="turbulence" baseFrequency="0.035 0.03" numOctaves="2" seed="121"/><feColorMatrix type="matrix" values="1.1 0 0 0 0  1.1 0 0 0 0  1.1 0 0 0 0  0 0 0 0 1"/></filter>
<filter id="xbb2" x="-10" y="-10" width="234" height="157" filterUnits="userSpaceOnUse" color-interpolation-filters="sRGB"><feTurbulence type="turbulence" baseFrequency="0.01 0.05" numOctaves="2" seed="221"/><feColorMatrix type="matrix" values="1.1 0 0 0 0  1.1 0 0 0 0  1.1 0 0 0 0  0 0 0 0 1"/></filter>
<g clip-path="url(#clb2)">
<filter id="thrb2" x="-10" y="-10" width="234" height="157" filterUnits="userSpaceOnUse" color-interpolation-filters="sRGB"><feGaussianBlur stdDeviation="1.3"/><feComponentTransfer><feFuncR type="discrete" tableValues="0 1"/><feFuncG type="discrete" tableValues="0 1"/><feFuncB type="discrete" tableValues="0 1"/><feFuncA type="linear" slope="0" intercept="1"/></feComponentTransfer></filter>
<mask id="mkb2" maskUnits="userSpaceOnUse" x="-10" y="-10" width="234" height="157"><g filter="url(#thrb2)"><use href="#rawb2"/></g></mask>
<g filter="url(#par)"><g id="rawb2">
<rect x="-10" y="-10" width="234" height="157" fill="#383838"/><g mask="url(#mtop)"><rect x="-10" y="-10" width="234" height="157" filter="url(#xtb2)"/></g><g mask="url(#mmid)"><rect x="-10" y="-10" width="234" height="157" filter="url(#xmb2)"/></g><g mask="url(#mbot)"><rect x="-10" y="-10" width="234" height="157" filter="url(#xbb2)"/></g><g filter="url(#bl2)" opacity="0.9"><ellipse cx="12.3" cy="15.9" rx="4.3" ry="15.2" fill="#1a1a1a" transform="rotate(0 12.3 15.9)"/><ellipse cx="36.2" cy="24.3" rx="6.8" ry="11.8" fill="#121212" transform="rotate(0 36.2 24.3)"/><ellipse cx="66.1" cy="32.8" rx="4.3" ry="8.4" fill="#141414" transform="rotate(0 66.1 32.8)"/><ellipse cx="87.5" cy="7.4" rx="6.8" ry="8.4" fill="#141414" transform="rotate(0 87.5 7.4)"/><ellipse cx="19.1" cy="19.3" rx="3.8" ry="20.3" fill="#9e9e9e" transform="rotate(0 19.1 19.3)"/><ellipse cx="32.8" cy="4.1" rx="2.1" ry="5.1" fill="#999999" transform="rotate(0 32.8 4.1)"/><ellipse cx="55.0" cy="4.9" rx="2.1" ry="5.9" fill="#999999" transform="rotate(0 55.0 4.9)"/><ellipse cx="36.2" cy="42.9" rx="17.1" ry="6.8" fill="#737373" transform="rotate(0 36.2 42.9)"/><ellipse cx="-1.4" cy="24.3" rx="8.6" ry="20.3" fill="#808080" transform="rotate(0 -1.4 24.3)"/><rect x="17.4" y="49.7" width="206.6" height="16.9" fill="#121212"/><rect x="32.8" y="85.1" width="191.2" height="11.8" fill="#0f0f0f"/><rect x="49.9" y="98.6" width="174.1" height="25.3" fill="#808080"/><rect x="-10.0" y="63.2" width="27.4" height="10.1" fill="#1a1a1a"/><rect x="-10.0" y="75.0" width="59.9" height="42.2" fill="#737373"/><rect x="-10.0" y="120.6" width="234.0" height="18.6" fill="#d9d9d9"/><ellipse cx="116.6" cy="15.9" rx="4.3" ry="15.2" fill="#141414" transform="rotate(0 116.6 15.9)"/><ellipse cx="145.7" cy="15.9" rx="5.1" ry="15.2" fill="#141414" transform="rotate(0 145.7 15.9)"/><ellipse cx="161.1" cy="19.3" rx="4.3" ry="10.1" fill="#1a1a1a" transform="rotate(0 161.1 19.3)"/><ellipse cx="188.4" cy="9.1" rx="5.1" ry="10.1" fill="#141414" transform="rotate(0 188.4 9.1)"/><ellipse cx="113.2" cy="61.5" rx="10.3" ry="6.8" fill="#0d0d0d" transform="rotate(0 113.2 61.5)"/><ellipse cx="155.9" cy="81.8" rx="37.6" ry="8.4" fill="#0a0a0a" transform="rotate(0 155.9 81.8)"/><ellipse cx="144.0" cy="39.5" rx="13.7" ry="10.1" fill="#737373" transform="rotate(0 144.0 39.5)"/><ellipse cx="149.1" cy="103.7" rx="29.1" ry="10.1" fill="#8c8c8c" transform="rotate(0 149.1 103.7)"/><rect x="20.8" y="93.6" width="153.9" height="23.6" fill="#737373"/><rect x="191.8" y="71.6" width="32.2" height="52.4" fill="#666666"/><rect x="191.8" y="80.1" width="32.2" height="10.1" fill="#1a1a1a"/><rect x="179.9" y="97.0" width="44.1" height="10.1" fill="#bfbfbf"/><rect x="157.6" y="115.5" width="66.4" height="8.4" fill="#1a1a1a"/><rect x="20.8" y="124.0" width="203.2" height="15.2" fill="#d9d9d9"/></g><ellipse cx="76.7" cy="76.2" rx="20.2" ry="5.9" fill="#9e9e9e" stroke="#9e9e9e" stroke-width="5" transform="rotate(0 76.7 76.2)"/><ellipse cx="76.7" cy="76.2" rx="20.2" ry="5.9" fill="#dedede" transform="rotate(0 76.7 76.2)"/><ellipse cx="19.1" cy="18.4" rx="3.1" ry="5.9" fill="#9e9e9e" stroke="#9e9e9e" stroke-width="5" transform="rotate(0 19.1 18.4)"/><ellipse cx="19.1" cy="18.4" rx="3.1" ry="5.9" fill="#dedede" transform="rotate(0 19.1 18.4)"/><ellipse cx="20.8" cy="3.2" rx="2.4" ry="3.4" fill="#9e9e9e" stroke="#9e9e9e" stroke-width="5" transform="rotate(0 20.8 3.2)"/><ellipse cx="20.8" cy="3.2" rx="2.4" ry="3.4" fill="#dedede" transform="rotate(0 20.8 3.2)"/><ellipse cx="48.2" cy="22.6" rx="2.1" ry="3.4" fill="#9e9e9e" stroke="#9e9e9e" stroke-width="5" transform="rotate(0 48.2 22.6)"/><ellipse cx="48.2" cy="22.6" rx="2.1" ry="3.4" fill="#b2b2b2" transform="rotate(0 48.2 22.6)"/><ellipse cx="69.6" cy="18.4" rx="1.7" ry="2.4" fill="#9e9e9e" stroke="#9e9e9e" stroke-width="5" transform="rotate(0 69.6 18.4)"/><ellipse cx="69.6" cy="18.4" rx="1.7" ry="2.4" fill="#bfbfbf" transform="rotate(0 69.6 18.4)"/><ellipse cx="106.3" cy="37.0" rx="3.1" ry="5.9" fill="#9e9e9e" stroke="#9e9e9e" stroke-width="5" transform="rotate(0 106.3 37.0)"/><ellipse cx="106.3" cy="37.0" rx="3.1" ry="5.9" fill="#dedede" transform="rotate(0 106.3 37.0)"/><path d="M202.11,37.84 C204.39,32.49 213.51,32.49 215.79,37.84 C218.07,43.19 218.07,64.58 215.79,69.93 C213.51,75.28 204.39,75.28 202.11,69.93 C199.83,64.58 199.83,43.19 202.11,37.84 Z" fill="#d9d9d9"/><path d="M176.46,31.93 C176.97,30.81 178.45,29.68 179.88,30.24 C181.30,30.81 183.87,33.20 185.01,35.31 C186.15,37.42 185.86,40.66 186.72,42.91 C187.57,45.16 188.71,47.98 190.14,48.82 C191.56,49.67 194.70,49.24 195.27,47.98 C195.84,46.71 192.99,42.77 193.56,41.22 C194.13,39.67 196.70,38.83 198.69,38.69 C200.69,38.55 202.68,40.24 205.53,40.38 C208.38,40.52 214.08,35.17 215.79,39.53 C217.50,43.89 218.64,61.77 215.79,66.56 C212.94,71.34 203.54,68.24 198.69,68.24 C193.85,68.24 189.85,67.68 186.72,66.56 C183.58,65.43 181.30,64.02 179.88,61.49 C178.45,58.95 178.31,54.73 178.17,51.35 C178.03,47.98 179.25,43.61 179.02,41.22 C178.80,38.83 177.23,38.55 176.80,37.00 C176.37,35.45 175.94,33.06 176.46,31.93 Z" fill="#9e9e9e" stroke="#9e9e9e" stroke-width="5" stroke-linejoin="round"/><path d="M176.46,31.93 C176.97,30.81 178.45,29.68 179.88,30.24 C181.30,30.81 183.87,33.20 185.01,35.31 C186.15,37.42 185.86,40.66 186.72,42.91 C187.57,45.16 188.71,47.98 190.14,48.82 C191.56,49.67 194.70,49.24 195.27,47.98 C195.84,46.71 192.99,42.77 193.56,41.22 C194.13,39.67 196.70,38.83 198.69,38.69 C200.69,38.55 202.68,40.24 205.53,40.38 C208.38,40.52 214.08,35.17 215.79,39.53 C217.50,43.89 218.64,61.77 215.79,66.56 C212.94,71.34 203.54,68.24 198.69,68.24 C193.85,68.24 189.85,67.68 186.72,66.56 C183.58,65.43 181.30,64.02 179.88,61.49 C178.45,58.95 178.31,54.73 178.17,51.35 C178.03,47.98 179.25,43.61 179.02,41.22 C178.80,38.83 177.23,38.55 176.80,37.00 C176.37,35.45 175.94,33.06 176.46,31.93 Z" fill="#dedede"/><ellipse cx="122.6" cy="21.0" rx="2.6" ry="5.1" fill="#9e9e9e" stroke="#9e9e9e" stroke-width="5" transform="rotate(0 122.6 21.0)"/><ellipse cx="122.6" cy="21.0" rx="2.6" ry="5.1" fill="#dedede" transform="rotate(0 122.6 21.0)"/><ellipse cx="168.8" cy="19.3" rx="3.1" ry="5.9" fill="#9e9e9e" stroke="#9e9e9e" stroke-width="5" transform="rotate(0 168.8 19.3)"/><ellipse cx="168.8" cy="19.3" rx="3.1" ry="5.9" fill="#dedede" transform="rotate(0 168.8 19.3)"/><ellipse cx="136.3" cy="3.2" rx="2.1" ry="4.2" fill="#9e9e9e" stroke="#9e9e9e" stroke-width="5" transform="rotate(-20 136.3 3.2)"/><ellipse cx="136.3" cy="3.2" rx="2.1" ry="4.2" fill="#dedede" transform="rotate(-20 136.3 3.2)"/><ellipse cx="158.5" cy="3.2" rx="1.7" ry="3.0" fill="#9e9e9e" stroke="#9e9e9e" stroke-width="5" transform="rotate(0 158.5 3.2)"/><ellipse cx="158.5" cy="3.2" rx="1.7" ry="3.0" fill="#dedede" transform="rotate(0 158.5 3.2)"/><ellipse cx="210.7" cy="10.8" rx="1.7" ry="4.2" fill="#9e9e9e" stroke="#9e9e9e" stroke-width="5" transform="rotate(0 210.7 10.8)"/><ellipse cx="210.7" cy="10.8" rx="1.7" ry="4.2" fill="#dedede" transform="rotate(0 210.7 10.8)"/>
</g></g>
<rect x="0" y="0" width="214" height="137" fill="url(#a315)" mask="url(#mkb2)"/>
<ellipse cx="76.7" cy="76.2" rx="20.2" ry="5.9" fill="none" stroke="#000" stroke-width="1.3" transform="rotate(0 76.7 76.2)"/><ellipse cx="19.1" cy="18.4" rx="3.1" ry="5.9" fill="none" stroke="#000" stroke-width="1.3" transform="rotate(0 19.1 18.4)"/><ellipse cx="20.8" cy="3.2" rx="2.4" ry="3.4" fill="none" stroke="#000" stroke-width="1.3" transform="rotate(0 20.8 3.2)"/><ellipse cx="48.2" cy="22.6" rx="2.1" ry="3.4" fill="none" stroke="#000" stroke-width="1.3" transform="rotate(0 48.2 22.6)"/><ellipse cx="69.6" cy="18.4" rx="1.7" ry="2.4" fill="none" stroke="#000" stroke-width="1.3" transform="rotate(0 69.6 18.4)"/><ellipse cx="106.3" cy="37.0" rx="3.1" ry="5.9" fill="none" stroke="#000" stroke-width="1.3" transform="rotate(0 106.3 37.0)"/><path d="M-1.42,110.47 C16.88,105.68 90.07,105.68 108.37,110.47 C126.67,115.25 126.67,134.40 108.37,139.18 C90.07,143.97 16.88,143.97 -1.42,139.18 C-19.72,134.40 -19.72,115.25 -1.42,110.47 Z" fill="url(#a315)"/><path d="M-4.84,123.98 C1.43,123.36 19.67,120.41 32.78,120.26 C45.89,120.12 66.99,122.66 73.83,123.14" fill="none" stroke="#000" stroke-width="1"/><path d="M176.46,31.93 C176.97,30.81 178.45,29.68 179.88,30.24 C181.30,30.81 183.87,33.20 185.01,35.31 C186.15,37.42 185.86,40.66 186.72,42.91 C187.57,45.16 188.71,47.98 190.14,48.82 C191.56,49.67 194.70,49.24 195.27,47.98 C195.84,46.71 192.99,42.77 193.56,41.22 C194.13,39.67 196.70,38.83 198.69,38.69 C200.69,38.55 202.68,40.24 205.53,40.38 C208.38,40.52 214.08,35.17 215.79,39.53 C217.50,43.89 218.64,61.77 215.79,66.56 C212.94,71.34 203.54,68.24 198.69,68.24 C193.85,68.24 189.85,67.68 186.72,66.56 C183.58,65.43 181.30,64.02 179.88,61.49 C178.45,58.95 178.31,54.73 178.17,51.35 C178.03,47.98 179.25,43.61 179.02,41.22 C178.80,38.83 177.23,38.55 176.80,37.00 C176.37,35.45 175.94,33.06 176.46,31.93 Z" fill="none" stroke="#000" stroke-width="1.3"/><ellipse cx="122.6" cy="21.0" rx="2.6" ry="5.1" fill="none" stroke="#000" stroke-width="1.3" transform="rotate(0 122.6 21.0)"/><ellipse cx="168.8" cy="19.3" rx="3.1" ry="5.9" fill="none" stroke="#000" stroke-width="1.3" transform="rotate(0 168.8 19.3)"/><ellipse cx="136.3" cy="3.2" rx="2.1" ry="4.2" fill="none" stroke="#000" stroke-width="1.3" transform="rotate(-20 136.3 3.2)"/><ellipse cx="158.5" cy="3.2" rx="1.7" ry="3.0" fill="none" stroke="#000" stroke-width="1.3" transform="rotate(0 158.5 3.2)"/><ellipse cx="210.7" cy="10.8" rx="1.7" ry="4.2" fill="none" stroke="#000" stroke-width="1.3" transform="rotate(0 210.7 10.8)"/><path d="M126.86,97.80 C134.84,95.83 166.77,95.83 174.75,97.80 C182.73,99.77 182.73,107.65 174.75,109.62 C166.77,111.59 134.84,111.59 126.86,109.62 C118.88,107.65 118.88,99.77 126.86,97.80 Z" fill="url(#a0)"/>
<path d="M-2,-2 L216.0,-2 L216.0,139.0 L-2,139.0 Z M2.90,0.00 L3.08,2.29 L3.26,4.58 L3.46,6.87 L3.67,9.17 L3.90,11.46 L4.13,13.75 L4.38,16.04 L4.65,18.33 L4.93,20.62 L5.23,22.92 L5.55,25.21 L5.89,27.50 L6.25,29.79 L6.63,32.08 L7.03,34.38 L7.46,36.67 L7.91,38.96 L8.39,41.25 L8.91,43.54 L9.45,45.83 L10.02,48.12 L10.63,50.42 L11.28,52.71 L11.96,55.00 L12.69,57.29 L13.46,59.58 L14.28,61.88 L15.15,64.17 L16.07,66.46 L17.05,68.75 L18.09,71.04 L19.19,73.33 L20.36,75.63 L21.59,77.92 L22.91,80.21 L24.30,82.50 L25.78,84.79 L27.35,87.08 L29.01,89.38 L30.78,91.67 L32.65,93.96 L34.63,96.25 L36.74,98.54 L38.98,100.83 L41.35,103.12 L43.86,105.42 L46.53,107.71 L49.36,110.00 L52.36,112.29 L55.55,114.58 L58.93,116.88 L62.51,119.17 L66.31,121.46 L70.35,123.75 L74.63,126.04 L79.17,128.33 L83.98,130.62 L89.09,132.92 L94.51,135.21 L100.26,137.50 L113.74,137.50 L119.49,135.21 L124.91,132.92 L130.02,130.62 L134.83,128.33 L139.37,126.04 L143.65,123.75 L147.69,121.46 L151.49,119.17 L155.07,116.88 L158.45,114.58 L161.64,112.29 L164.64,110.00 L167.47,107.71 L170.14,105.42 L172.65,103.12 L175.02,100.83 L177.26,98.54 L179.37,96.25 L181.35,93.96 L183.22,91.67 L184.99,89.38 L186.65,87.08 L188.22,84.79 L189.70,82.50 L191.09,80.21 L192.41,77.92 L193.64,75.63 L194.81,73.33 L195.91,71.04 L196.95,68.75 L197.93,66.46 L198.85,64.17 L199.72,61.88 L200.54,59.58 L201.31,57.29 L202.04,55.00 L202.72,52.71 L203.37,50.42 L203.98,48.12 L204.55,45.83 L205.09,43.54 L205.61,41.25 L206.09,38.96 L206.54,36.67 L206.97,34.38 L207.37,32.08 L207.75,29.79 L208.11,27.50 L208.45,25.21 L208.77,22.92 L209.07,20.62 L209.35,18.33 L209.62,16.04 L209.87,13.75 L210.10,11.46 L210.33,9.17 L210.54,6.87 L210.74,4.58 L210.92,2.29 L211.10,0.00 Z" fill="#fff" fill-opacity="0.5" fill-rule="evenodd"/>

<path d="M2.90,0.00 L3.08,2.29 L3.26,4.58 L3.46,6.87 L3.67,9.17 L3.90,11.46 L4.13,13.75 L4.38,16.04 L4.65,18.33 L4.93,20.62 L5.23,22.92 L5.55,25.21 L5.89,27.50 L6.25,29.79 L6.63,32.08 L7.03,34.38 L7.46,36.67 L7.91,38.96 L8.39,41.25 L8.91,43.54 L9.45,45.83 L10.02,48.12 L10.63,50.42 L11.28,52.71 L11.96,55.00 L12.69,57.29 L13.46,59.58 L14.28,61.88 L15.15,64.17 L16.07,66.46 L17.05,68.75 L18.09,71.04 L19.19,73.33 L20.36,75.63 L21.59,77.92 L22.91,80.21 L24.30,82.50 L25.78,84.79 L27.35,87.08 L29.01,89.38 L30.78,91.67 L32.65,93.96 L34.63,96.25 L36.74,98.54 L38.98,100.83 L41.35,103.12 L43.86,105.42 L46.53,107.71 L49.36,110.00 L52.36,112.29 L55.55,114.58 L58.93,116.88 L62.51,119.17 L66.31,121.46 L70.35,123.75 L74.63,126.04 L79.17,128.33 L83.98,130.62 L89.09,132.92 L94.51,135.21 L100.26,137.50 L113.74,137.50 L119.49,135.21 L124.91,132.92 L130.02,130.62 L134.83,128.33 L139.37,126.04 L143.65,123.75 L147.69,121.46 L151.49,119.17 L155.07,116.88 L158.45,114.58 L161.64,112.29 L164.64,110.00 L167.47,107.71 L170.14,105.42 L172.65,103.12 L175.02,100.83 L177.26,98.54 L179.37,96.25 L181.35,93.96 L183.22,91.67 L184.99,89.38 L186.65,87.08 L188.22,84.79 L189.70,82.50 L191.09,80.21 L192.41,77.92 L193.64,75.63 L194.81,73.33 L195.91,71.04 L196.95,68.75 L197.93,66.46 L198.85,64.17 L199.72,61.88 L200.54,59.58 L201.31,57.29 L202.04,55.00 L202.72,52.71 L203.37,50.42 L203.98,48.12 L204.55,45.83 L205.09,43.54 L205.61,41.25 L206.09,38.96 L206.54,36.67 L206.97,34.38 L207.37,32.08 L207.75,29.79 L208.11,27.50 L208.45,25.21 L208.77,22.92 L209.07,20.62 L209.35,18.33 L209.62,16.04 L209.87,13.75 L210.10,11.46 L210.33,9.17 L210.54,6.87 L210.74,4.58 L210.92,2.29 L211.10,0.00 Z" fill="none" stroke="#222" stroke-width="0.6"/>
</g>
<rect x="0.3" y="0.3" width="213.4" height="136.4" fill="none" stroke="#777" stroke-width="0.8"/>
</svg>
<div class="t ti" style="left:306.8px;top:164.7px;">(b-2) EA-DPC2</div>
<div class="t tk" style="left:265.1px;top:319.2px;width:0;"><span style="position:absolute;transform:translateX(-50%)">2001</span></div>
<div class="t tk" style="left:300.1px;top:319.2px;width:0;"><span style="position:absolute;transform:translateX(-50%)">2005</span></div>
<div class="t tk" style="left:341.9px;top:319.2px;width:0;"><span style="position:absolute;transform:translateX(-50%)">2009</span></div>
<div class="t tk" style="left:383.7px;top:319.2px;width:0;"><span style="position:absolute;transform:translateX(-50%)">2013</span></div>
<div class="t tk" style="left:422.3px;top:319.2px;width:0;"><span style="position:absolute;transform:translateX(-50%)">2017</span></div>
<div class="t tk" style="left:454.2px;top:319.2px;width:0;"><span style="position:absolute;transform:translateX(-50%)">2019</span></div>
<svg class="p" style="left:467.10px;top:181.00px;width:215.30px;height:136.50px" viewBox="0 0 214 137" preserveAspectRatio="none">
<clipPath id="clb3"><rect x="0" y="0" width="214" height="137"/></clipPath>
<filter id="xtb3" x="-10" y="-10" width="234" height="157" filterUnits="userSpaceOnUse" color-interpolation-filters="sRGB"><feTurbulence type="turbulence" baseFrequency="0.07 0.015" numOctaves="2" seed="22"/><feColorMatrix type="matrix" values="1.1 0 0 0 0  1.1 0 0 0 0  1.1 0 0 0 0  0 0 0 0 1"/></filter>
<filter id="xmb3" x="-10" y="-10" width="234" height="157" filterUnits="userSpaceOnUse" color-interpolation-filters="sRGB"><feTurbulence type="turbulence" baseFrequency="0.035 0.03" numOctaves="2" seed="122"/><feColorMatrix type="matrix" values="1.1 0 0 0 0  1.1 0 0 0 0  1.1 0 0 0 0  0 0 0 0 1"/></filter>
<filter id="xbb3" x="-10" y="-10" width="234" height="157" filterUnits="userSpaceOnUse" color-interpolation-filters="sRGB"><feTurbulence type="turbulence" baseFrequency="0.01 0.05" numOctaves="2" seed="222"/><feColorMatrix type="matrix" values="1.1 0 0 0 0  1.1 0 0 0 0  1.1 0 0 0 0  0 0 0 0 1"/></filter>
<g clip-path="url(#clb3)">
<filter id="thrb3" x="-10" y="-10" width="234" height="157" filterUnits="userSpaceOnUse" color-interpolation-filters="sRGB"><feGaussianBlur stdDeviation="1.3"/><feComponentTransfer><feFuncR type="discrete" tableValues="0 1"/><feFuncG type="discrete" tableValues="0 1"/><feFuncB type="discrete" tableValues="0 1"/><feFuncA type="linear" slope="0" intercept="1"/></feComponentTransfer></filter>
<mask id="mkb3" maskUnits="userSpaceOnUse" x="-10" y="-10" width="234" height="157"><g filter="url(#thrb3)"><use href="#rawb3"/></g></mask>
<g filter="url(#par)"><g id="rawb3">
<rect x="-10" y="-10" width="234" height="157" fill="#383838"/><g mask="url(#mtop)"><rect x="-10" y="-10" width="234" height="157" filter="url(#xtb3)"/></g><g mask="url(#mmid)"><rect x="-10" y="-10" width="234" height="157" filter="url(#xmb3)"/></g><g mask="url(#mbot)"><rect x="-10" y="-10" width="234" height="157" filter="url(#xbb3)"/></g><g filter="url(#bl2)" opacity="0.9"><ellipse cx="12.3" cy="15.0" rx="4.2" ry="10.1" fill="#141414" transform="rotate(0 12.3 15.0)"/><ellipse cx="46.6" cy="10.0" rx="6.7" ry="11.8" fill="#141414" transform="rotate(0 46.6 10.0)"/><ellipse cx="63.3" cy="7.4" rx="5.9" ry="8.4" fill="#141414" transform="rotate(0 63.3 7.4)"/><ellipse cx="82.5" cy="24.3" rx="4.2" ry="8.4" fill="#1a1a1a" transform="rotate(0 82.5 24.3)"/><ellipse cx="102.6" cy="12.5" rx="4.2" ry="9.3" fill="#1a1a1a" transform="rotate(0 102.6 12.5)"/><ellipse cx="28.2" cy="50.5" rx="8.4" ry="5.9" fill="#0a0a0a" transform="rotate(0 28.2 50.5)"/><ellipse cx="68.3" cy="47.1" rx="11.7" ry="11.0" fill="#0d0d0d" transform="rotate(0 68.3 47.1)"/><ellipse cx="30.7" cy="9.1" rx="2.5" ry="10.1" fill="#9e9e9e" transform="rotate(0 30.7 9.1)"/><ellipse cx="17.3" cy="4.1" rx="2.0" ry="5.1" fill="#8c8c8c" transform="rotate(0 17.3 4.1)"/><ellipse cx="95.1" cy="4.1" rx="3.0" ry="5.1" fill="#999999" transform="rotate(0 95.1 4.1)"/><ellipse cx="44.9" cy="65.7" rx="12.5" ry="5.9" fill="#808080" transform="rotate(0 44.9 65.7)"/><ellipse cx="92.5" cy="63.2" rx="6.7" ry="5.1" fill="#737373" transform="rotate(0 92.5 63.2)"/><ellipse cx="49.1" cy="23.5" rx="41.8" ry="4.2" fill="#737373" transform="rotate(0 49.1 23.5)"/><rect x="54.1" y="75.0" width="169.9" height="8.4" fill="#0f0f0f"/><rect x="49.1" y="100.3" width="174.9" height="10.1" fill="#0f0f0f"/><rect x="65.8" y="110.5" width="158.2" height="10.1" fill="#808080"/><rect x="-10.0" y="117.2" width="234.0" height="22.0" fill="#d9d9d9"/><rect x="-10.0" y="78.4" width="42.3" height="5.1" fill="#1a1a1a"/><rect x="-10.0" y="95.3" width="50.7" height="8.4" fill="#1a1a1a"/><rect x="-10.0" y="56.4" width="25.6" height="13.5" fill="#cccccc"/><ellipse cx="57.4" cy="54.7" rx="50.2" ry="10.1" fill="#080808" transform="rotate(0 57.4 54.7)"/><ellipse cx="123.0" cy="56.4" rx="18.4" ry="13.5" fill="#0a0a0a" transform="rotate(0 123.0 56.4)"/><ellipse cx="173.1" cy="44.6" rx="25.1" ry="5.1" fill="#0d0d0d" transform="rotate(0 173.1 44.6)"/><ellipse cx="131.3" cy="24.3" rx="20.1" ry="13.5" fill="#737373" transform="rotate(0 131.3 24.3)"/><ellipse cx="173.1" cy="67.4" rx="25.1" ry="4.2" fill="#8c8c8c" transform="rotate(0 173.1 67.4)"/><ellipse cx="116.3" cy="9.1" rx="4.2" ry="10.1" fill="#1a1a1a" transform="rotate(0 116.3 9.1)"/><ellipse cx="153.1" cy="9.1" rx="6.7" ry="11.8" fill="#1a1a1a" transform="rotate(0 153.1 9.1)"/><ellipse cx="176.5" cy="14.2" rx="5.0" ry="10.1" fill="#1a1a1a" transform="rotate(0 176.5 14.2)"/><ellipse cx="196.5" cy="9.1" rx="4.2" ry="8.4" fill="#1a1a1a" transform="rotate(0 196.5 9.1)"/><rect x="22.7" y="73.3" width="170.6" height="10.1" fill="#0d0d0d"/><rect x="22.7" y="83.4" width="158.8" height="10.1" fill="#999999"/><rect x="22.7" y="100.3" width="138.8" height="13.5" fill="#0d0d0d"/><rect x="22.7" y="120.6" width="201.3" height="18.6" fill="#d9d9d9"/><rect x="189.9" y="71.6" width="34.1" height="11.8" fill="#1f1f1f"/><rect x="179.8" y="86.8" width="44.2" height="15.2" fill="#c7c7c7"/><rect x="156.4" y="107.1" width="67.6" height="8.4" fill="#1a1a1a"/><rect x="148.1" y="117.2" width="75.9" height="22.0" fill="#d9d9d9"/></g><ellipse cx="39.0" cy="31.9" rx="8.4" ry="8.8" fill="#9e9e9e" stroke="#9e9e9e" stroke-width="5" transform="rotate(0 39.0 31.9)"/><ellipse cx="39.0" cy="31.9" rx="8.4" ry="8.8" fill="#dedede" transform="rotate(0 39.0 31.9)"/><ellipse cx="17.0" cy="34.5" rx="3.7" ry="3.7" fill="#9e9e9e" stroke="#9e9e9e" stroke-width="5" transform="rotate(0 17.0 34.5)"/><ellipse cx="17.0" cy="34.5" rx="3.7" ry="3.7" fill="#dedede" transform="rotate(0 17.0 34.5)"/><ellipse cx="100.9" cy="35.3" rx="6.7" ry="7.1" fill="#9e9e9e" stroke="#9e9e9e" stroke-width="5" transform="rotate(0 100.9 35.3)"/><ellipse cx="100.9" cy="35.3" rx="6.7" ry="7.1" fill="#dedede" transform="rotate(0 100.9 35.3)"/><ellipse cx="74.2" cy="4.1" rx="2.0" ry="4.2" fill="#9e9e9e" stroke="#9e9e9e" stroke-width="5" transform="rotate(0 74.2 4.1)"/><ellipse cx="74.2" cy="4.1" rx="2.0" ry="4.2" fill="#dedede" transform="rotate(0 74.2 4.1)"/><ellipse cx="85.9" cy="15.9" rx="1.7" ry="2.0" fill="#1a1a1a" transform="rotate(0 85.9 15.9)"/><ellipse cx="103.4" cy="89.4" rx="14.4" ry="3.7" fill="#9e9e9e" stroke="#9e9e9e" stroke-width="5" transform="rotate(0 103.4 89.4)"/><ellipse cx="103.4" cy="89.4" rx="14.4" ry="3.7" fill="#dedede" transform="rotate(0 103.4 89.4)"/><path d="M199.89,49.67 C202.68,46.29 213.83,46.29 216.61,49.67 C219.40,53.04 219.40,66.56 216.61,69.93 C213.83,73.31 202.68,73.31 199.89,69.93 C197.10,66.56 197.10,53.04 199.89,49.67 Z" fill="#d9d9d9"/><path d="M176.48,61.49 C176.48,59.94 178.15,56.42 179.83,54.73 C181.50,53.04 183.17,52.06 186.51,51.35 C189.86,50.65 195.43,50.79 199.89,50.51 C204.35,50.23 211.04,47.27 213.27,49.67 C215.50,52.06 215.50,62.33 213.27,64.87 C211.04,67.40 203.79,64.87 199.89,64.87 C195.99,64.87 193.20,65.01 189.86,64.87 C186.51,64.73 182.06,64.58 179.83,64.02 C177.60,63.46 176.48,63.04 176.48,61.49 Z" fill="#9e9e9e" stroke="#9e9e9e" stroke-width="5" stroke-linejoin="round"/><path d="M176.48,61.49 C176.48,59.94 178.15,56.42 179.83,54.73 C181.50,53.04 183.17,52.06 186.51,51.35 C189.86,50.65 195.43,50.79 199.89,50.51 C204.35,50.23 211.04,47.27 213.27,49.67 C215.50,52.06 215.50,62.33 213.27,64.87 C211.04,67.40 203.79,64.87 199.89,64.87 C195.99,64.87 193.20,65.01 189.86,64.87 C186.51,64.73 182.06,64.58 179.83,64.02 C177.60,63.46 176.48,63.04 176.48,61.49 Z" fill="#dedede"/><ellipse cx="125.5" cy="31.1" rx="3.7" ry="5.9" fill="#9e9e9e" stroke="#9e9e9e" stroke-width="5" transform="rotate(0 125.5 31.1)"/><ellipse cx="125.5" cy="31.1" rx="3.7" ry="5.9" fill="#dedede" transform="rotate(0 125.5 31.1)"/><ellipse cx="139.7" cy="13.4" rx="2.5" ry="5.9" fill="#9e9e9e" stroke="#9e9e9e" stroke-width="5" transform="rotate(0 139.7 13.4)"/><ellipse cx="139.7" cy="13.4" rx="2.5" ry="5.9" fill="#dedede" transform="rotate(0 139.7 13.4)"/><ellipse cx="163.9" cy="27.7" rx="5.0" ry="10.1" fill="#9e9e9e" stroke="#9e9e9e" stroke-width="5" transform="rotate(25 163.9 27.7)"/><ellipse cx="163.9" cy="27.7" rx="5.0" ry="10.1" fill="#dedede" transform="rotate(25 163.9 27.7)"/><ellipse cx="188.2" cy="32.8" rx="6.7" ry="3.0" fill="#9e9e9e" stroke="#9e9e9e" stroke-width="5" transform="rotate(0 188.2 32.8)"/><ellipse cx="188.2" cy="32.8" rx="6.7" ry="3.0" fill="#dedede" transform="rotate(0 188.2 32.8)"/><ellipse cx="187.4" cy="4.1" rx="2.0" ry="4.2" fill="#9e9e9e" stroke="#9e9e9e" stroke-width="5" transform="rotate(0 187.4 4.1)"/><ellipse cx="187.4" cy="4.1" rx="2.0" ry="4.2" fill="#dedede" transform="rotate(0 187.4 4.1)"/><ellipse cx="207.4" cy="17.6" rx="1.7" ry="4.2" fill="#9e9e9e" stroke="#9e9e9e" stroke-width="5" transform="rotate(0 207.4 17.6)"/><ellipse cx="207.4" cy="17.6" rx="1.7" ry="4.2" fill="#dedede" transform="rotate(0 207.4 17.6)"/>
</g></g>
<rect x="0" y="0" width="214" height="137" fill="url(#a0)" mask="url(#mkb3)"/>
<ellipse cx="39.0" cy="31.9" rx="8.4" ry="8.8" fill="none" stroke="#000" stroke-width="1.3" transform="rotate(0 39.0 31.9)"/><ellipse cx="17.0" cy="34.5" rx="3.7" ry="3.7" fill="none" stroke="#000" stroke-width="1.3" transform="rotate(0 17.0 34.5)"/><ellipse cx="100.9" cy="35.3" rx="6.7" ry="7.1" fill="none" stroke="#000" stroke-width="1.3" transform="rotate(0 100.9 35.3)"/><ellipse cx="74.2" cy="4.1" rx="2.0" ry="4.2" fill="none" stroke="#000" stroke-width="1.3" transform="rotate(0 74.2 4.1)"/><ellipse cx="103.4" cy="89.4" rx="14.4" ry="3.7" fill="none" stroke="#000" stroke-width="1.3" transform="rotate(0 103.4 89.4)"/><path d="M49.07,117.22 C58.60,113.56 96.72,113.56 106.25,117.22 C115.79,120.88 115.79,135.52 106.25,139.18 C96.72,142.84 58.60,142.84 49.07,139.18 C39.54,135.52 39.54,120.88 49.07,117.22 Z" fill="url(#a0)"/><path d="M176.48,61.49 C176.48,59.94 178.15,56.42 179.83,54.73 C181.50,53.04 183.17,52.06 186.51,51.35 C189.86,50.65 195.43,50.79 199.89,50.51 C204.35,50.23 211.04,47.27 213.27,49.67 C215.50,52.06 215.50,62.33 213.27,64.87 C211.04,67.40 203.79,64.87 199.89,64.87 C195.99,64.87 193.20,65.01 189.86,64.87 C186.51,64.73 182.06,64.58 179.83,64.02 C177.60,63.46 176.48,63.04 176.48,61.49 Z" fill="none" stroke="#000" stroke-width="1.3"/><ellipse cx="125.5" cy="31.1" rx="3.7" ry="5.9" fill="none" stroke="#000" stroke-width="1.3" transform="rotate(0 125.5 31.1)"/><ellipse cx="139.7" cy="13.4" rx="2.5" ry="5.9" fill="none" stroke="#000" stroke-width="1.3" transform="rotate(0 139.7 13.4)"/><ellipse cx="163.9" cy="27.7" rx="5.0" ry="10.1" fill="none" stroke="#000" stroke-width="1.3" transform="rotate(25 163.9 27.7)"/><ellipse cx="188.2" cy="32.8" rx="6.7" ry="3.0" fill="none" stroke="#000" stroke-width="1.3" transform="rotate(0 188.2 32.8)"/><ellipse cx="187.4" cy="4.1" rx="2.0" ry="4.2" fill="none" stroke="#000" stroke-width="1.3" transform="rotate(0 187.4 4.1)"/><ellipse cx="207.4" cy="17.6" rx="1.7" ry="4.2" fill="none" stroke="#000" stroke-width="1.3" transform="rotate(0 207.4 17.6)"/><path d="M144.71,61.49 C153.63,59.80 189.30,59.80 198.22,61.49 C207.14,63.18 207.14,69.93 198.22,71.62 C189.30,73.31 153.63,73.31 144.71,71.62 C135.79,69.93 135.79,63.18 144.71,61.49 Z" fill="url(#a0)"/>
<path d="M-2,-2 L216.0,-2 L216.0,139.0 L-2,139.0 Z M2.90,0.00 L3.08,2.29 L3.26,4.58 L3.46,6.87 L3.67,9.17 L3.90,11.46 L4.13,13.75 L4.38,16.04 L4.65,18.33 L4.93,20.62 L5.23,22.92 L5.55,25.21 L5.89,27.50 L6.25,29.79 L6.63,32.08 L7.03,34.38 L7.46,36.67 L7.91,38.96 L8.39,41.25 L8.91,43.54 L9.45,45.83 L10.02,48.12 L10.63,50.42 L11.28,52.71 L11.96,55.00 L12.69,57.29 L13.46,59.58 L14.28,61.88 L15.15,64.17 L16.07,66.46 L17.05,68.75 L18.09,71.04 L19.19,73.33 L20.36,75.63 L21.59,77.92 L22.91,80.21 L24.30,82.50 L25.78,84.79 L27.35,87.08 L29.01,89.38 L30.78,91.67 L32.65,93.96 L34.63,96.25 L36.74,98.54 L38.98,100.83 L41.35,103.12 L43.86,105.42 L46.53,107.71 L49.36,110.00 L52.36,112.29 L55.55,114.58 L58.93,116.88 L62.51,119.17 L66.31,121.46 L70.35,123.75 L74.63,126.04 L79.17,128.33 L83.98,130.62 L89.09,132.92 L94.51,135.21 L100.26,137.50 L113.74,137.50 L119.49,135.21 L124.91,132.92 L130.02,130.62 L134.83,128.33 L139.37,126.04 L143.65,123.75 L147.69,121.46 L151.49,119.17 L155.07,116.88 L158.45,114.58 L161.64,112.29 L164.64,110.00 L167.47,107.71 L170.14,105.42 L172.65,103.12 L175.02,100.83 L177.26,98.54 L179.37,96.25 L181.35,93.96 L183.22,91.67 L184.99,89.38 L186.65,87.08 L188.22,84.79 L189.70,82.50 L191.09,80.21 L192.41,77.92 L193.64,75.63 L194.81,73.33 L195.91,71.04 L196.95,68.75 L197.93,66.46 L198.85,64.17 L199.72,61.88 L200.54,59.58 L201.31,57.29 L202.04,55.00 L202.72,52.71 L203.37,50.42 L203.98,48.12 L204.55,45.83 L205.09,43.54 L205.61,41.25 L206.09,38.96 L206.54,36.67 L206.97,34.38 L207.37,32.08 L207.75,29.79 L208.11,27.50 L208.45,25.21 L208.77,22.92 L209.07,20.62 L209.35,18.33 L209.62,16.04 L209.87,13.75 L210.10,11.46 L210.33,9.17 L210.54,6.87 L210.74,4.58 L210.92,2.29 L211.10,0.00 Z" fill="#fff" fill-opacity="0.5" fill-rule="evenodd"/>

<path d="M2.90,0.00 L3.08,2.29 L3.26,4.58 L3.46,6.87 L3.67,9.17 L3.90,11.46 L4.13,13.75 L4.38,16.04 L4.65,18.33 L4.93,20.62 L5.23,22.92 L5.55,25.21 L5.89,27.50 L6.25,29.79 L6.63,32.08 L7.03,34.38 L7.46,36.67 L7.91,38.96 L8.39,41.25 L8.91,43.54 L9.45,45.83 L10.02,48.12 L10.63,50.42 L11.28,52.71 L11.96,55.00 L12.69,57.29 L13.46,59.58 L14.28,61.88 L15.15,64.17 L16.07,66.46 L17.05,68.75 L18.09,71.04 L19.19,73.33 L20.36,75.63 L21.59,77.92 L22.91,80.21 L24.30,82.50 L25.78,84.79 L27.35,87.08 L29.01,89.38 L30.78,91.67 L32.65,93.96 L34.63,96.25 L36.74,98.54 L38.98,100.83 L41.35,103.12 L43.86,105.42 L46.53,107.71 L49.36,110.00 L52.36,112.29 L55.55,114.58 L58.93,116.88 L62.51,119.17 L66.31,121.46 L70.35,123.75 L74.63,126.04 L79.17,128.33 L83.98,130.62 L89.09,132.92 L94.51,135.21 L100.26,137.50 L113.74,137.50 L119.49,135.21 L124.91,132.92 L130.02,130.62 L134.83,128.33 L139.37,126.04 L143.65,123.75 L147.69,121.46 L151.49,119.17 L155.07,116.88 L158.45,114.58 L161.64,112.29 L164.64,110.00 L167.47,107.71 L170.14,105.42 L172.65,103.12 L175.02,100.83 L177.26,98.54 L179.37,96.25 L181.35,93.96 L183.22,91.67 L184.99,89.38 L186.65,87.08 L188.22,84.79 L189.70,82.50 L191.09,80.21 L192.41,77.92 L193.64,75.63 L194.81,73.33 L195.91,71.04 L196.95,68.75 L197.93,66.46 L198.85,64.17 L199.72,61.88 L200.54,59.58 L201.31,57.29 L202.04,55.00 L202.72,52.71 L203.37,50.42 L203.98,48.12 L204.55,45.83 L205.09,43.54 L205.61,41.25 L206.09,38.96 L206.54,36.67 L206.97,34.38 L207.37,32.08 L207.75,29.79 L208.11,27.50 L208.45,25.21 L208.77,22.92 L209.07,20.62 L209.35,18.33 L209.62,16.04 L209.87,13.75 L210.10,11.46 L210.33,9.17 L210.54,6.87 L210.74,4.58 L210.92,2.29 L211.10,0.00 Z" fill="none" stroke="#222" stroke-width="0.6"/>
</g>
<rect x="0.3" y="0.3" width="213.4" height="136.4" fill="none" stroke="#777" stroke-width="0.8"/>
</svg>
<div class="t ti" style="left:520.0px;top:164.7px;">(b-3) EP/NP-DPC2</div>
<div class="t tk" style="left:480.1px;top:319.2px;width:0;"><span style="position:absolute;transform:translateX(-50%)">2001</span></div>
<div class="t tk" style="left:515.9px;top:319.2px;width:0;"><span style="position:absolute;transform:translateX(-50%)">2005</span></div>
<div class="t tk" style="left:558.7px;top:319.2px;width:0;"><span style="position:absolute;transform:translateX(-50%)">2009</span></div>
<div class="t tk" style="left:601.4px;top:319.2px;width:0;"><span style="position:absolute;transform:translateX(-50%)">2013</span></div>
<div class="t tk" style="left:640.8px;top:319.2px;width:0;"><span style="position:absolute;transform:translateX(-50%)">2017</span></div>
<div class="t tk" style="left:673.5px;top:319.2px;width:0;"><span style="position:absolute;transform:translateX(-50%)">2019</span></div>
<div class="t tk" style="right:680.2px;top:199.3px;">4</div>
<div class="t tk" style="right:680.2px;top:225.6px;">8</div>
<div class="t tk" style="right:680.2px;top:251.9px;">16</div>
<div class="t tk" style="right:680.2px;top:278.2px;">32</div>
<div class="t tk" style="right:680.2px;top:304.5px;">64</div>
<div class="t tk" style="left:9.0px;top:259.7px;width:0;height:0;"><span style="position:absolute;transform:translate(-50%,-50%) rotate(-90deg);">Period (month)</span></div>
<div style="position:absolute;left:685.6px;top:179.8px;width:8.6px;height:137.8px;background:linear-gradient(to bottom,#f9fb15,#f5e825,#fad42e,#fec13a,#eaba31,#c8c129,#9fc942,#71cd64,#48cb86,#2fc5a2,#12beb9,#05b6ce,#1caadf,#259ce7,#2d8cf3,#347afd,#4367fd,#4755f6,#4743e7,#4433cc,#3e26a8);box-shadow:0 0 0 0.5px #999;"></div>
<div class="t cb" style="left:694.8px;top:308.8px;">0</div>
<div class="t cb" style="left:694.8px;top:295.7px;">0.1</div>
<div class="t cb" style="left:694.8px;top:282.6px;">0.2</div>
<div class="t cb" style="left:694.8px;top:269.5px;">0.3</div>
<div class="t cb" style="left:694.8px;top:256.3px;">0.4</div>
<div class="t cb" style="left:694.8px;top:243.2px;">0.5</div>
<div class="t cb" style="left:694.8px;top:230.1px;">0.6</div>
<div class="t cb" style="left:694.8px;top:217.0px;">0.7</div>
<div class="t cb" style="left:694.8px;top:203.8px;">0.8</div>
<div class="t cb" style="left:694.8px;top:190.7px;">0.9</div>
<div class="t cb" style="left:694.8px;top:177.6px;">1</div>
<svg class="p" style="left:31.00px;top:345.50px;width:216.80px;height:137.50px" viewBox="0 0 214 137" preserveAspectRatio="none">
<clipPath id="clc1"><rect x="0" y="0" width="214" height="137"/></clipPath>
<filter id="xtc1" x="-10" y="-10" width="234" height="157" filterUnits="userSpaceOnUse" color-interpolation-filters="sRGB"><feTurbulence type="turbulence" baseFrequency="0.07 0.015" numOctaves="2" seed="30"/><feColorMatrix type="matrix" values="1.1 0 0 0 0  1.1 0 0 0 0  1.1 0 0 0 0  0 0 0 0 1"/></filter>
<filter id="xmc1" x="-10" y="-10" width="234" height="157" filterUnits="userSpaceOnUse" color-interpolation-filters="sRGB"><feTurbulence type="turbulence" baseFrequency="0.035 0.03" numOctaves="2" seed="130"/><feColorMatrix type="matrix" values="1.1 0 0 0 0  1.1 0 0 0 0  1.1 0 0 0 0  0 0 0 0 1"/></filter>
<filter id="xbc1" x="-10" y="-10" width="234" height="157" filterUnits="userSpaceOnUse" color-interpolation-filters="sRGB"><feTurbulence type="turbulence" baseFrequency="0.01 0.05" numOctaves="2" seed="230"/><feColorMatrix type="matrix" values="1.1 0 0 0 0  1.1 0 0 0 0  1.1 0 0 0 0  0 0 0 0 1"/></filter>
<g clip-path="url(#clc1)">
<filter id="thrc1" x="-10" y="-10" width="234" height="157" filterUnits="userSpaceOnUse" color-interpolation-filters="sRGB"><feGaussianBlur stdDeviation="1.3"/><feComponentTransfer><feFuncR type="discrete" tableValues="0 1"/><feFuncG type="discrete" tableValues="0 1"/><feFuncB type="discrete" tableValues="0 1"/><feFuncA type="linear" slope="0" intercept="1"/></feComponentTransfer></filter>
<mask id="mkc1" maskUnits="userSpaceOnUse" x="-10" y="-10" width="234" height="157"><g filter="url(#thrc1)"><use href="#rawc1"/></g></mask>
<g filter="url(#par)"><g id="rawc1">
<rect x="-10" y="-10" width="234" height="157" fill="#333333"/><g mask="url(#mtop)"><rect x="-10" y="-10" width="234" height="157" filter="url(#xtc1)"/></g><g mask="url(#mmid)"><rect x="-10" y="-10" width="234" height="157" filter="url(#xmc1)"/></g><g mask="url(#mbot)"><rect x="-10" y="-10" width="234" height="157" filter="url(#xbc1)"/></g><g filter="url(#bl2)" opacity="0.9"><ellipse cx="30.8" cy="25.5" rx="8.4" ry="16.9" fill="#0d0d0d" transform="rotate(0 30.8 25.5)"/><ellipse cx="72.6" cy="23.8" rx="10.0" ry="18.6" fill="#0d0d0d" transform="rotate(0 72.6 23.8)"/><ellipse cx="97.8" cy="40.7" rx="8.4" ry="8.4" fill="#0d0d0d" transform="rotate(0 97.8 40.7)"/><ellipse cx="67.6" cy="67.7" rx="15.1" ry="5.9" fill="#0a0a0a" transform="rotate(0 67.6 67.7)"/><ellipse cx="45.9" cy="49.2" rx="8.4" ry="8.4" fill="#737373" transform="rotate(0 45.9 49.2)"/><ellipse cx="14.1" cy="18.8" rx="6.7" ry="16.9" fill="#8c8c8c" transform="rotate(0 14.1 18.8)"/><ellipse cx="4.0" cy="49.2" rx="6.7" ry="6.8" fill="#808080" transform="rotate(0 4.0 49.2)"/><ellipse cx="72.6" cy="20.5" rx="3.3" ry="6.8" fill="#808080" transform="rotate(0 72.6 20.5)"/><rect x="40.9" y="77.9" width="183.1" height="15.2" fill="#999999"/><rect x="45.9" y="106.6" width="178.1" height="8.4" fill="#0d0d0d"/><rect x="66.0" y="113.3" width="158.0" height="6.8" fill="#999999"/><rect x="49.2" y="120.1" width="174.8" height="18.6" fill="#808080"/><rect x="-10.0" y="79.6" width="50.9" height="10.1" fill="#4c4c4c"/><rect x="-10.0" y="108.3" width="55.9" height="8.4" fill="#1a1a1a"/><rect x="-10.0" y="120.1" width="59.2" height="18.6" fill="#b2b2b2"/><ellipse cx="115.7" cy="15.4" rx="4.2" ry="16.9" fill="#0f0f0f" transform="rotate(0 115.7 15.4)"/><ellipse cx="135.7" cy="10.3" rx="5.0" ry="11.8" fill="#0f0f0f" transform="rotate(0 135.7 10.3)"/><ellipse cx="155.8" cy="22.1" rx="5.0" ry="11.8" fill="#0f0f0f" transform="rotate(0 155.8 22.1)"/><ellipse cx="180.1" cy="23.8" rx="5.0" ry="10.1" fill="#141414" transform="rotate(0 180.1 23.8)"/><ellipse cx="174.2" cy="48.3" rx="25.1" ry="5.9" fill="#0a0a0a" transform="rotate(0 174.2 48.3)"/><ellipse cx="164.2" cy="81.3" rx="21.7" ry="11.8" fill="#0a0a0a" transform="rotate(0 164.2 81.3)"/><ellipse cx="164.2" cy="39.0" rx="16.7" ry="6.8" fill="#737373" transform="rotate(0 164.2 39.0)"/><ellipse cx="129.0" cy="40.7" rx="6.7" ry="11.8" fill="#999999" transform="rotate(0 129.0 40.7)"/><ellipse cx="170.9" cy="6.9" rx="5.0" ry="8.4" fill="#999999" transform="rotate(0 170.9 6.9)"/><ellipse cx="192.6" cy="30.6" rx="5.9" ry="6.8" fill="#999999" transform="rotate(0 192.6 30.6)"/><ellipse cx="125.7" cy="59.3" rx="21.7" ry="8.4" fill="#595959" transform="rotate(0 125.7 59.3)"/><ellipse cx="159.2" cy="98.1" rx="15.1" ry="5.1" fill="#737373" transform="rotate(0 159.2 98.1)"/><rect x="22.0" y="103.2" width="150.6" height="11.8" fill="#0d0d0d"/><rect x="147.4" y="116.7" width="76.6" height="22.0" fill="#d9d9d9"/></g><path d="M-0.99,13.70 C0.27,10.05 5.29,10.05 6.54,13.70 C7.80,17.36 7.80,32.00 6.54,35.66 C5.29,39.32 0.27,39.32 -0.99,35.66 C-2.24,32.00 -2.24,17.36 -0.99,13.70 Z" fill="#d9d9d9"/><path d="M37.50,1.88 C38.34,0.33 40.85,-0.93 42.53,-0.65 C44.20,-0.37 45.87,3.57 47.55,3.57 C49.22,3.57 50.75,0.05 52.57,-0.65 C54.38,-1.35 57.17,-2.20 58.42,-0.65 C59.68,0.90 59.68,3.71 60.10,8.64 C60.52,13.56 61.91,25.19 60.93,28.90 C59.96,32.62 56.75,30.65 54.24,30.93 C51.73,31.21 48.52,30.87 45.87,30.59 C43.22,30.31 39.88,31.21 38.34,29.24 C36.81,27.27 36.81,22.20 36.67,18.77 C36.53,15.34 37.37,11.45 37.50,8.64 C37.64,5.82 36.67,3.43 37.50,1.88 Z" fill="#9e9e9e" stroke="#9e9e9e" stroke-width="5" stroke-linejoin="round"/><path d="M37.50,1.88 C38.34,0.33 40.85,-0.93 42.53,-0.65 C44.20,-0.37 45.87,3.57 47.55,3.57 C49.22,3.57 50.75,0.05 52.57,-0.65 C54.38,-1.35 57.17,-2.20 58.42,-0.65 C59.68,0.90 59.68,3.71 60.10,8.64 C60.52,13.56 61.91,25.19 60.93,28.90 C59.96,32.62 56.75,30.65 54.24,30.93 C51.73,31.21 48.52,30.87 45.87,30.59 C43.22,30.31 39.88,31.21 38.34,29.24 C36.81,27.27 36.81,22.20 36.67,18.77 C36.53,15.34 37.37,11.45 37.50,8.64 C37.64,5.82 36.67,3.43 37.50,1.88 Z" fill="#dedede"/><ellipse cx="47.5" cy="8.6" rx="1.3" ry="8.4" fill="#4c4c4c" transform="rotate(0 47.5 8.6)"/><ellipse cx="62.6" cy="3.6" rx="2.5" ry="5.9" fill="#9e9e9e" stroke="#9e9e9e" stroke-width="5" transform="rotate(0 62.6 3.6)"/><ellipse cx="62.6" cy="3.6" rx="2.5" ry="5.9" fill="#dedede" transform="rotate(0 62.6 3.6)"/><ellipse cx="81.0" cy="1.0" rx="2.0" ry="2.5" fill="#9e9e9e" stroke="#9e9e9e" stroke-width="5" transform="rotate(0 81.0 1.0)"/><ellipse cx="81.0" cy="1.0" rx="2.0" ry="2.5" fill="#dedede" transform="rotate(0 81.0 1.0)"/><path d="M14.91,27.21 C16.59,26.93 18.26,29.75 19.10,32.28 C19.93,34.81 20.77,40.39 19.93,42.41 C19.10,44.44 15.75,44.72 14.07,44.44 C12.40,44.16 10.73,42.47 9.89,40.72 C9.05,38.98 8.22,36.22 9.05,33.97 C9.89,31.72 13.24,27.50 14.91,27.21 Z" fill="#9e9e9e" stroke="#9e9e9e" stroke-width="5" stroke-linejoin="round"/><path d="M14.91,27.21 C16.59,26.93 18.26,29.75 19.10,32.28 C19.93,34.81 20.77,40.39 19.93,42.41 C19.10,44.44 15.75,44.72 14.07,44.44 C12.40,44.16 10.73,42.47 9.89,40.72 C9.05,38.98 8.22,36.22 9.05,33.97 C9.89,31.72 13.24,27.50 14.91,27.21 Z" fill="#dedede"/><path d="M-2.66,54.23 C-0.15,51.00 7.94,56.20 12.40,56.77 C16.86,57.33 20.49,56.77 24.12,57.61 C27.74,58.46 31.23,60.14 34.16,61.83 C37.09,63.52 41.13,66.14 41.69,67.74 C42.25,69.35 40.15,70.47 37.50,71.46 C34.85,72.44 29.42,73.29 25.79,73.65 C22.16,74.02 20.49,73.23 15.75,73.65 C11.01,74.08 0.41,79.42 -2.66,76.19 C-5.73,72.95 -5.17,57.47 -2.66,54.23 Z" fill="#9e9e9e" stroke="#9e9e9e" stroke-width="5" stroke-linejoin="round"/><path d="M-2.66,54.23 C-0.15,51.00 7.94,56.20 12.40,56.77 C16.86,57.33 20.49,56.77 24.12,57.61 C27.74,58.46 31.23,60.14 34.16,61.83 C37.09,63.52 41.13,66.14 41.69,67.74 C42.25,69.35 40.15,70.47 37.50,71.46 C34.85,72.44 29.42,73.29 25.79,73.65 C22.16,74.02 20.49,73.23 15.75,73.65 C11.01,74.08 0.41,79.42 -2.66,76.19 C-5.73,72.95 -5.17,57.47 -2.66,54.23 Z" fill="#dedede"/><path d="M-2.66,93.92 C3.20,92.09 23.84,95.52 32.48,95.61 C41.13,95.69 42.25,94.76 49.22,94.43 C56.19,94.09 65.95,94.00 74.32,93.58 C82.69,93.16 93.65,92.32 99.43,91.89 C105.20,91.47 106.12,92.54 108.97,91.05 C111.81,89.56 114.18,85.14 116.50,82.94 C118.81,80.75 120.40,78.66 122.86,77.88 C125.31,77.09 128.94,76.53 131.22,78.21 C133.51,79.90 136.58,85.53 136.58,88.01 C136.58,90.49 133.51,91.39 131.22,93.08 C128.94,94.76 126.01,96.73 122.86,98.14 C119.70,99.55 116.22,100.53 112.31,101.52 C108.41,102.50 104.36,103.49 99.43,104.05 C94.49,104.62 89.66,104.53 82.69,104.90 C75.72,105.26 65.40,106.25 57.59,106.25 C49.78,106.25 45.87,104.84 35.83,104.90 C25.79,104.95 3.75,108.42 -2.66,106.59 C-9.08,104.76 -8.52,95.75 -2.66,93.92 Z" fill="#9e9e9e" stroke="#9e9e9e" stroke-width="5" stroke-linejoin="round"/><path d="M-2.66,93.92 C3.20,92.09 23.84,95.52 32.48,95.61 C41.13,95.69 42.25,94.76 49.22,94.43 C56.19,94.09 65.95,94.00 74.32,93.58 C82.69,93.16 93.65,92.32 99.43,91.89 C105.20,91.47 106.12,92.54 108.97,91.05 C111.81,89.56 114.18,85.14 116.50,82.94 C118.81,80.75 120.40,78.66 122.86,77.88 C125.31,77.09 128.94,76.53 131.22,78.21 C133.51,79.90 136.58,85.53 136.58,88.01 C136.58,90.49 133.51,91.39 131.22,93.08 C128.94,94.76 126.01,96.73 122.86,98.14 C119.70,99.55 116.22,100.53 112.31,101.52 C108.41,102.50 104.36,103.49 99.43,104.05 C94.49,104.62 89.66,104.53 82.69,104.90 C75.72,105.26 65.40,106.25 57.59,106.25 C49.78,106.25 45.87,104.84 35.83,104.90 C25.79,104.95 3.75,108.42 -2.66,106.59 C-9.08,104.76 -8.52,95.75 -2.66,93.92 Z" fill="#dedede"/><path d="M68.13,140.36 C55.86,136.98 70.22,124.12 72.65,120.10 C75.08,116.07 78.23,116.97 82.69,116.21 C87.15,115.45 93.85,115.65 99.43,115.54 C105.00,115.42 110.58,115.42 116.16,115.54 C121.74,115.65 128.43,114.89 132.90,116.21 C137.36,117.53 140.71,119.45 142.94,123.47 C145.17,127.50 158.75,137.55 146.29,140.36 C133.82,143.18 80.40,143.74 68.13,140.36 Z" fill="#9e9e9e" stroke="#9e9e9e" stroke-width="5" stroke-linejoin="round"/><path d="M68.13,140.36 C55.86,136.98 70.22,124.12 72.65,120.10 C75.08,116.07 78.23,116.97 82.69,116.21 C87.15,115.45 93.85,115.65 99.43,115.54 C105.00,115.42 110.58,115.42 116.16,115.54 C121.74,115.65 128.43,114.89 132.90,116.21 C137.36,117.53 140.71,119.45 142.94,123.47 C145.17,127.50 158.75,137.55 146.29,140.36 C133.82,143.18 80.40,143.74 68.13,140.36 Z" fill="#dedede"/><ellipse cx="105.1" cy="14.4" rx="3.5" ry="9.0" fill="#9e9e9e" stroke="#9e9e9e" stroke-width="5" transform="rotate(0 105.1 14.4)"/><ellipse cx="105.1" cy="14.4" rx="3.5" ry="9.0" fill="#dedede" transform="rotate(0 105.1 14.4)"/><path d="M206.00,-1.49 C207.67,-8.53 214.36,-8.53 216.04,-1.49 C217.71,5.54 217.71,33.69 216.04,40.72 C214.36,47.76 207.67,47.76 206.00,40.72 C204.33,33.69 204.33,5.54 206.00,-1.49 Z" fill="#d9d9d9"/><path d="M204.33,57.61 C206.28,55.92 214.09,55.92 216.04,57.61 C217.99,59.30 217.99,66.06 216.04,67.74 C214.09,69.43 206.28,69.43 204.33,67.74 C202.37,66.06 202.37,59.30 204.33,57.61 Z" fill="#d9d9d9"/><ellipse cx="127.4" cy="38.2" rx="3.0" ry="4.2" fill="#9e9e9e" transform="rotate(0 127.4 38.2)"/><ellipse cx="192.6" cy="29.7" rx="2.5" ry="2.5" fill="#9e9e9e" stroke="#9e9e9e" stroke-width="5" transform="rotate(0 192.6 29.7)"/><ellipse cx="192.6" cy="29.7" rx="2.5" ry="2.5" fill="#dedede" transform="rotate(0 192.6 29.7)"/><ellipse cx="187.6" cy="6.1" rx="2.0" ry="5.1" fill="#9e9e9e" stroke="#9e9e9e" stroke-width="5" transform="rotate(0 187.6 6.1)"/><ellipse cx="187.6" cy="6.1" rx="2.0" ry="5.1" fill="#dedede" transform="rotate(0 187.6 6.1)"/><ellipse cx="174.2" cy="8.6" rx="1.7" ry="3.4" fill="#9e9e9e" stroke="#9e9e9e" stroke-width="5" transform="rotate(0 174.2 8.6)"/><ellipse cx="174.2" cy="8.6" rx="1.7" ry="3.4" fill="#bfbfbf" transform="rotate(0 174.2 8.6)"/>
</g></g>
<rect x="0" y="0" width="214" height="137" fill="url(#a90)" mask="url(#mkc1)"/>
<path d="M37.50,1.88 C38.34,0.33 40.85,-0.93 42.53,-0.65 C44.20,-0.37 45.87,3.57 47.55,3.57 C49.22,3.57 50.75,0.05 52.57,-0.65 C54.38,-1.35 57.17,-2.20 58.42,-0.65 C59.68,0.90 59.68,3.71 60.10,8.64 C60.52,13.56 61.91,25.19 60.93,28.90 C59.96,32.62 56.75,30.65 54.24,30.93 C51.73,31.21 48.52,30.87 45.87,30.59 C43.22,30.31 39.88,31.21 38.34,29.24 C36.81,27.27 36.81,22.20 36.67,18.77 C36.53,15.34 37.37,11.45 37.50,8.64 C37.64,5.82 36.67,3.43 37.50,1.88 Z" fill="none" stroke="#000" stroke-width="1.3"/><ellipse cx="62.6" cy="3.6" rx="2.5" ry="5.9" fill="none" stroke="#000" stroke-width="1.3" transform="rotate(0 62.6 3.6)"/><ellipse cx="81.0" cy="1.0" rx="2.0" ry="2.5" fill="none" stroke="#000" stroke-width="1.3" transform="rotate(0 81.0 1.0)"/><path d="M14.91,27.21 C16.59,26.93 18.26,29.75 19.10,32.28 C19.93,34.81 20.77,40.39 19.93,42.41 C19.10,44.44 15.75,44.72 14.07,44.44 C12.40,44.16 10.73,42.47 9.89,40.72 C9.05,38.98 8.22,36.22 9.05,33.97 C9.89,31.72 13.24,27.50 14.91,27.21 Z" fill="none" stroke="#000" stroke-width="1.3"/><path d="M-2.66,54.23 C-0.15,51.00 7.94,56.20 12.40,56.77 C16.86,57.33 20.49,56.77 24.12,57.61 C27.74,58.46 31.23,60.14 34.16,61.83 C37.09,63.52 41.13,66.14 41.69,67.74 C42.25,69.35 40.15,70.47 37.50,71.46 C34.85,72.44 29.42,73.29 25.79,73.65 C22.16,74.02 20.49,73.23 15.75,73.65 C11.01,74.08 0.41,79.42 -2.66,76.19 C-5.73,72.95 -5.17,57.47 -2.66,54.23 Z" fill="none" stroke="#000" stroke-width="1.3"/><path d="M-2.66,93.92 C3.20,92.09 23.84,95.52 32.48,95.61 C41.13,95.69 42.25,94.76 49.22,94.43 C56.19,94.09 65.95,94.00 74.32,93.58 C82.69,93.16 93.65,92.32 99.43,91.89 C105.20,91.47 106.12,92.54 108.97,91.05 C111.81,89.56 114.18,85.14 116.50,82.94 C118.81,80.75 120.40,78.66 122.86,77.88 C125.31,77.09 128.94,76.53 131.22,78.21 C133.51,79.90 136.58,85.53 136.58,88.01 C136.58,90.49 133.51,91.39 131.22,93.08 C128.94,94.76 126.01,96.73 122.86,98.14 C119.70,99.55 116.22,100.53 112.31,101.52 C108.41,102.50 104.36,103.49 99.43,104.05 C94.49,104.62 89.66,104.53 82.69,104.90 C75.72,105.26 65.40,106.25 57.59,106.25 C49.78,106.25 45.87,104.84 35.83,104.90 C25.79,104.95 3.75,108.42 -2.66,106.59 C-9.08,104.76 -8.52,95.75 -2.66,93.92 Z" fill="none" stroke="#000" stroke-width="1.3"/><path d="M68.13,140.36 C55.86,136.98 70.22,124.12 72.65,120.10 C75.08,116.07 78.23,116.97 82.69,116.21 C87.15,115.45 93.85,115.65 99.43,115.54 C105.00,115.42 110.58,115.42 116.16,115.54 C121.74,115.65 128.43,114.89 132.90,116.21 C137.36,117.53 140.71,119.45 142.94,123.47 C145.17,127.50 158.75,137.55 146.29,140.36 C133.82,143.18 80.40,143.74 68.13,140.36 Z" fill="none" stroke="#000" stroke-width="1.3"/><ellipse cx="105.1" cy="14.4" rx="3.5" ry="9.0" fill="none" stroke="#000" stroke-width="1.3" transform="rotate(0 105.1 14.4)"/><path d="M45.87,79.57 C55.83,77.60 95.66,77.60 105.62,79.57 C115.58,81.54 115.58,89.42 105.62,91.39 C95.66,93.36 55.83,93.36 45.87,91.39 C35.91,89.42 35.91,81.54 45.87,79.57 Z" fill="url(#a45)"/><path d="M124.36,38.19 C124.36,36.78 126.36,33.97 127.37,33.97 C128.37,33.97 130.38,36.78 130.38,38.19 C130.38,39.60 128.37,42.41 127.37,42.41 C126.36,42.41 124.36,39.60 124.36,38.19 Z" fill="none" stroke="#000" stroke-width="1"/><ellipse cx="192.6" cy="29.7" rx="2.5" ry="2.5" fill="none" stroke="#000" stroke-width="1.3" transform="rotate(0 192.6 29.7)"/><ellipse cx="187.6" cy="6.1" rx="2.0" ry="5.1" fill="none" stroke="#000" stroke-width="1.3" transform="rotate(0 187.6 6.1)"/><ellipse cx="174.2" cy="8.6" rx="1.7" ry="3.4" fill="none" stroke="#000" stroke-width="1.3" transform="rotate(0 174.2 8.6)"/><path d="M105.62,113.34 C113.98,109.12 147.44,109.12 155.81,113.34 C164.17,117.56 164.17,134.45 155.81,138.67 C147.44,142.89 113.98,142.89 105.62,138.67 C97.25,134.45 97.25,117.56 105.62,113.34 Z" fill="url(#a45)"/>
<path d="M-2,-2 L216.0,-2 L216.0,139.0 L-2,139.0 Z M2.90,0.00 L3.08,2.29 L3.26,4.58 L3.46,6.87 L3.67,9.17 L3.90,11.46 L4.13,13.75 L4.38,16.04 L4.65,18.33 L4.93,20.62 L5.23,22.92 L5.55,25.21 L5.89,27.50 L6.25,29.79 L6.63,32.08 L7.03,34.38 L7.46,36.67 L7.91,38.96 L8.39,41.25 L8.91,43.54 L9.45,45.83 L10.02,48.12 L10.63,50.42 L11.28,52.71 L11.96,55.00 L12.69,57.29 L13.46,59.58 L14.28,61.88 L15.15,64.17 L16.07,66.46 L17.05,68.75 L18.09,71.04 L19.19,73.33 L20.36,75.63 L21.59,77.92 L22.91,80.21 L24.30,82.50 L25.78,84.79 L27.35,87.08 L29.01,89.38 L30.78,91.67 L32.65,93.96 L34.63,96.25 L36.74,98.54 L38.98,100.83 L41.35,103.12 L43.86,105.42 L46.53,107.71 L49.36,110.00 L52.36,112.29 L55.55,114.58 L58.93,116.88 L62.51,119.17 L66.31,121.46 L70.35,123.75 L74.63,126.04 L79.17,128.33 L83.98,130.62 L89.09,132.92 L94.51,135.21 L100.26,137.50 L113.74,137.50 L119.49,135.21 L124.91,132.92 L130.02,130.62 L134.83,128.33 L139.37,126.04 L143.65,123.75 L147.69,121.46 L151.49,119.17 L155.07,116.88 L158.45,114.58 L161.64,112.29 L164.64,110.00 L167.47,107.71 L170.14,105.42 L172.65,103.12 L175.02,100.83 L177.26,98.54 L179.37,96.25 L181.35,93.96 L183.22,91.67 L184.99,89.38 L186.65,87.08 L188.22,84.79 L189.70,82.50 L191.09,80.21 L192.41,77.92 L193.64,75.63 L194.81,73.33 L195.91,71.04 L196.95,68.75 L197.93,66.46 L198.85,64.17 L199.72,61.88 L200.54,59.58 L201.31,57.29 L202.04,55.00 L202.72,52.71 L203.37,50.42 L203.98,48.12 L204.55,45.83 L205.09,43.54 L205.61,41.25 L206.09,38.96 L206.54,36.67 L206.97,34.38 L207.37,32.08 L207.75,29.79 L208.11,27.50 L208.45,25.21 L208.77,22.92 L209.07,20.62 L209.35,18.33 L209.62,16.04 L209.87,13.75 L210.10,11.46 L210.33,9.17 L210.54,6.87 L210.74,4.58 L210.92,2.29 L211.10,0.00 Z" fill="#fff" fill-opacity="0.5" fill-rule="evenodd"/>

<path d="M2.90,0.00 L3.08,2.29 L3.26,4.58 L3.46,6.87 L3.67,9.17 L3.90,11.46 L4.13,13.75 L4.38,16.04 L4.65,18.33 L4.93,20.62 L5.23,22.92 L5.55,25.21 L5.89,27.50 L6.25,29.79 L6.63,32.08 L7.03,34.38 L7.46,36.67 L7.91,38.96 L8.39,41.25 L8.91,43.54 L9.45,45.83 L10.02,48.12 L10.63,50.42 L11.28,52.71 L11.96,55.00 L12.69,57.29 L13.46,59.58 L14.28,61.88 L15.15,64.17 L16.07,66.46 L17.05,68.75 L18.09,71.04 L19.19,73.33 L20.36,75.63 L21.59,77.92 L22.91,80.21 L24.30,82.50 L25.78,84.79 L27.35,87.08 L29.01,89.38 L30.78,91.67 L32.65,93.96 L34.63,96.25 L36.74,98.54 L38.98,100.83 L41.35,103.12 L43.86,105.42 L46.53,107.71 L49.36,110.00 L52.36,112.29 L55.55,114.58 L58.93,116.88 L62.51,119.17 L66.31,121.46 L70.35,123.75 L74.63,126.04 L79.17,128.33 L83.98,130.62 L89.09,132.92 L94.51,135.21 L100.26,137.50 L113.74,137.50 L119.49,135.21 L124.91,132.92 L130.02,130.62 L134.83,128.33 L139.37,126.04 L143.65,123.75 L147.69,121.46 L151.49,119.17 L155.07,116.88 L158.45,114.58 L161.64,112.29 L164.64,110.00 L167.47,107.71 L170.14,105.42 L172.65,103.12 L175.02,100.83 L177.26,98.54 L179.37,96.25 L181.35,93.96 L183.22,91.67 L184.99,89.38 L186.65,87.08 L188.22,84.79 L189.70,82.50 L191.09,80.21 L192.41,77.92 L193.64,75.63 L194.81,73.33 L195.91,71.04 L196.95,68.75 L197.93,66.46 L198.85,64.17 L199.72,61.88 L200.54,59.58 L201.31,57.29 L202.04,55.00 L202.72,52.71 L203.37,50.42 L203.98,48.12 L204.55,45.83 L205.09,43.54 L205.61,41.25 L206.09,38.96 L206.54,36.67 L206.97,34.38 L207.37,32.08 L207.75,29.79 L208.11,27.50 L208.45,25.21 L208.77,22.92 L209.07,20.62 L209.35,18.33 L209.62,16.04 L209.87,13.75 L210.10,11.46 L210.33,9.17 L210.54,6.87 L210.74,4.58 L210.92,2.29 L211.10,0.00 Z" fill="none" stroke="#222" stroke-width="0.6"/>
</g>
<rect x="0.3" y="0.3" width="213.4" height="136.4" fill="none" stroke="#777" stroke-width="0.8"/>
</svg>
<div class="t ti" style="left:81.4px;top:329.7px;">(c-1) PNA-DPC3</div>
<div class="t tk" style="left:44.1px;top:483.7px;width:0;"><span style="position:absolute;transform:translateX(-50%)">2001</span></div>
<div class="t tk" style="left:80.1px;top:483.7px;width:0;"><span style="position:absolute;transform:translateX(-50%)">2005</span></div>
<div class="t tk" style="left:123.2px;top:483.7px;width:0;"><span style="position:absolute;transform:translateX(-50%)">2009</span></div>
<div class="t tk" style="left:166.2px;top:483.7px;width:0;"><span style="position:absolute;transform:translateX(-50%)">2013</span></div>
<div class="t tk" style="left:206.0px;top:483.7px;width:0;"><span style="position:absolute;transform:translateX(-50%)">2017</span></div>
<div class="t tk" style="left:238.9px;top:483.7px;width:0;"><span style="position:absolute;transform:translateX(-50%)">2019</span></div>
<svg class="p" style="left:253.40px;top:345.50px;width:210.30px;height:137.50px" viewBox="0 0 214 137" preserveAspectRatio="none">
<clipPath id="clc2"><rect x="0" y="0" width="214" height="137"/></clipPath>
<filter id="xtc2" x="-10" y="-10" width="234" height="157" filterUnits="userSpaceOnUse" color-interpolation-filters="sRGB"><feTurbulence type="turbulence" baseFrequency="0.07 0.015" numOctaves="2" seed="31"/><feColorMatrix type="matrix" values="1.1 0 0 0 0  1.1 0 0 0 0  1.1 0 0 0 0  0 0 0 0 1"/></filter>
<filter id="xmc2" x="-10" y="-10" width="234" height="157" filterUnits="userSpaceOnUse" color-interpolation-filters="sRGB"><feTurbulence type="turbulence" baseFrequency="0.035 0.03" numOctaves="2" seed="131"/><feColorMatrix type="matrix" values="1.1 0 0 0 0  1.1 0 0 0 0  1.1 0 0 0 0  0 0 0 0 1"/></filter>
<filter id="xbc2" x="-10" y="-10" width="234" height="157" filterUnits="userSpaceOnUse" color-interpolation-filters="sRGB"><feTurbulence type="turbulence" baseFrequency="0.01 0.05" numOctaves="2" seed="231"/><feColorMatrix type="matrix" values="1.1 0 0 0 0  1.1 0 0 0 0  1.1 0 0 0 0  0 0 0 0 1"/></filter>
<g clip-path="url(#clc2)">
<filter id="thrc2" x="-10" y="-10" width="234" height="157" filterUnits="userSpaceOnUse" color-interpolation-filters="sRGB"><feGaussianBlur stdDeviation="1.3"/><feComponentTransfer><feFuncR type="discrete" tableValues="0 1"/><feFuncG type="discrete" tableValues="0 1"/><feFuncB type="discrete" tableValues="0 1"/><feFuncA type="linear" slope="0" intercept="1"/></feComponentTransfer></filter>
<mask id="mkc2" maskUnits="userSpaceOnUse" x="-10" y="-10" width="234" height="157"><g filter="url(#thrc2)"><use href="#rawc2"/></g></mask>
<g filter="url(#par)"><g id="rawc2">
<rect x="-10" y="-10" width="234" height="157" fill="#333333"/><g mask="url(#mtop)"><rect x="-10" y="-10" width="234" height="157" filter="url(#xtc2)"/></g><g mask="url(#mmid)"><rect x="-10" y="-10" width="234" height="157" filter="url(#xmc2)"/></g><g mask="url(#mbot)"><rect x="-10" y="-10" width="234" height="157" filter="url(#xbc2)"/></g><g filter="url(#bl2)" opacity="0.9"><ellipse cx="21.0" cy="34.0" rx="12.1" ry="15.2" fill="#0d0d0d" transform="rotate(0 21.0 34.0)"/><ellipse cx="48.6" cy="40.7" rx="5.2" ry="13.5" fill="#0f0f0f" transform="rotate(0 48.6 40.7)"/><ellipse cx="72.8" cy="54.2" rx="8.6" ry="11.8" fill="#0d0d0d" transform="rotate(0 72.8 54.2)"/><ellipse cx="93.5" cy="37.3" rx="8.6" ry="11.8" fill="#0f0f0f" transform="rotate(0 93.5 37.3)"/><ellipse cx="12.4" cy="8.6" rx="5.2" ry="10.1" fill="#141414" transform="rotate(0 12.4 8.6)"/><ellipse cx="33.1" cy="8.6" rx="4.3" ry="8.4" fill="#141414" transform="rotate(0 33.1 8.6)"/><ellipse cx="46.9" cy="44.9" rx="8.6" ry="4.2" fill="#8c8c8c" transform="rotate(0 46.9 44.9)"/><ellipse cx="64.1" cy="29.7" rx="3.5" ry="5.9" fill="#8c8c8c" transform="rotate(0 64.1 29.7)"/><ellipse cx="-1.4" cy="27.2" rx="8.6" ry="28.7" fill="#333333" transform="rotate(0 -1.4 27.2)"/><rect x="24.5" y="72.8" width="199.5" height="13.5" fill="#8c8c8c"/><rect x="-10.0" y="84.6" width="234.0" height="5.1" fill="#737373"/><rect x="33.1" y="89.7" width="190.9" height="13.5" fill="#0d0d0d"/><rect x="50.3" y="103.2" width="173.7" height="16.9" fill="#595959"/><rect x="90.0" y="96.5" width="134.0" height="13.5" fill="#999999"/><rect x="-10.0" y="82.9" width="60.3" height="33.8" fill="#595959"/><rect x="-10.0" y="120.1" width="234.0" height="18.6" fill="#d9d9d9"/><ellipse cx="111.6" cy="32.3" rx="5.2" ry="16.9" fill="#0d0d0d" transform="rotate(0 111.6 32.3)"/><ellipse cx="140.1" cy="34.8" rx="11.2" ry="14.4" fill="#0d0d0d" transform="rotate(0 140.1 34.8)"/><ellipse cx="168.6" cy="37.3" rx="10.4" ry="5.1" fill="#0f0f0f" transform="rotate(0 168.6 37.3)"/><ellipse cx="185.8" cy="35.7" rx="10.4" ry="6.8" fill="#0f0f0f" transform="rotate(0 185.8 35.7)"/><ellipse cx="140.9" cy="67.7" rx="10.4" ry="8.4" fill="#0d0d0d" transform="rotate(0 140.9 67.7)"/><ellipse cx="140.9" cy="91.4" rx="38.0" ry="5.9" fill="#0a0a0a" transform="rotate(0 140.9 91.4)"/><ellipse cx="158.2" cy="108.3" rx="17.3" ry="8.4" fill="#262626" transform="rotate(0 158.2 108.3)"/><ellipse cx="168.6" cy="43.3" rx="3.5" ry="11.0" fill="#999999" transform="rotate(0 168.6 43.3)"/><ellipse cx="151.3" cy="55.1" rx="5.2" ry="14.4" fill="#8c8c8c" transform="rotate(0 151.3 55.1)"/><ellipse cx="113.3" cy="74.5" rx="8.6" ry="5.1" fill="#999999" transform="rotate(0 113.3 74.5)"/><ellipse cx="182.4" cy="85.5" rx="10.4" ry="2.5" fill="#999999" transform="rotate(0 182.4 85.5)"/><ellipse cx="165.1" cy="77.9" rx="25.9" ry="6.8" fill="#666666" transform="rotate(0 165.1 77.9)"/><ellipse cx="192.7" cy="20.5" rx="10.4" ry="8.4" fill="#737373" transform="rotate(0 192.7 20.5)"/><rect x="20.2" y="120.1" width="203.8" height="18.6" fill="#d9d9d9"/><rect x="184.1" y="69.4" width="39.9" height="50.7" fill="#4c4c4c"/></g><path d="M36.53,23.84 C36.82,22.15 37.83,19.33 39.12,17.93 C40.41,16.52 42.71,15.53 44.30,15.39 C45.88,15.25 47.46,17.93 48.61,17.08 C49.76,16.24 50.33,12.86 51.20,10.33 C52.06,7.79 52.78,3.43 53.78,1.88 C54.79,0.33 56.52,-0.09 57.23,1.04 C57.95,2.16 58.38,5.96 58.10,8.64 C57.81,11.31 56.80,14.83 55.51,17.08 C54.22,19.33 51.77,20.46 50.33,22.15 C48.90,23.84 48.46,25.95 46.88,27.21 C45.30,28.48 42.43,29.61 40.84,29.75 C39.26,29.89 38.11,29.04 37.39,28.06 C36.68,27.07 36.24,25.53 36.53,23.84 Z" fill="#9e9e9e" stroke="#9e9e9e" stroke-width="5" stroke-linejoin="round"/><path d="M36.53,23.84 C36.82,22.15 37.83,19.33 39.12,17.93 C40.41,16.52 42.71,15.53 44.30,15.39 C45.88,15.25 47.46,17.93 48.61,17.08 C49.76,16.24 50.33,12.86 51.20,10.33 C52.06,7.79 52.78,3.43 53.78,1.88 C54.79,0.33 56.52,-0.09 57.23,1.04 C57.95,2.16 58.38,5.96 58.10,8.64 C57.81,11.31 56.80,14.83 55.51,17.08 C54.22,19.33 51.77,20.46 50.33,22.15 C48.90,23.84 48.46,25.95 46.88,27.21 C45.30,28.48 42.43,29.61 40.84,29.75 C39.26,29.89 38.11,29.04 37.39,28.06 C36.68,27.07 36.24,25.53 36.53,23.84 Z" fill="#dedede"/><ellipse cx="67.6" cy="5.3" rx="5.2" ry="7.6" fill="#9e9e9e" stroke="#9e9e9e" stroke-width="5" transform="rotate(0 67.6 5.3)"/><ellipse cx="67.6" cy="5.3" rx="5.2" ry="7.6" fill="#ebebeb" transform="rotate(0 67.6 5.3)"/><ellipse cx="88.3" cy="12.9" rx="3.5" ry="5.1" fill="#9e9e9e" stroke="#9e9e9e" stroke-width="5" transform="rotate(0 88.3 12.9)"/><ellipse cx="88.3" cy="12.9" rx="3.5" ry="5.1" fill="#dedede" transform="rotate(0 88.3 12.9)"/><ellipse cx="21.0" cy="6.1" rx="2.1" ry="4.2" fill="#9e9e9e" stroke="#9e9e9e" stroke-width="5" transform="rotate(0 21.0 6.1)"/><ellipse cx="21.0" cy="6.1" rx="2.1" ry="4.2" fill="#dedede" transform="rotate(0 21.0 6.1)"/><path d="M-3.15,57.61 C-0.27,53.39 10.08,57.61 14.10,57.61 C18.13,57.61 19.28,56.77 21.00,57.61 C22.73,58.46 24.17,60.71 24.45,62.68 C24.74,64.65 24.17,68.03 22.73,69.43 C21.29,70.84 20.14,68.87 15.83,71.12 C11.51,73.37 0.01,85.19 -3.15,82.94 C-6.31,80.69 -6.03,61.83 -3.15,57.61 Z" fill="#9e9e9e" stroke="#9e9e9e" stroke-width="5" stroke-linejoin="round"/><path d="M-3.15,57.61 C-0.27,53.39 10.08,57.61 14.10,57.61 C18.13,57.61 19.28,56.77 21.00,57.61 C22.73,58.46 24.17,60.71 24.45,62.68 C24.74,64.65 24.17,68.03 22.73,69.43 C21.29,70.84 20.14,68.87 15.83,71.12 C11.51,73.37 0.01,85.19 -3.15,82.94 C-6.31,80.69 -6.03,61.83 -3.15,57.61 Z" fill="#dedede"/><ellipse cx="63.3" cy="79.6" rx="18.1" ry="3.7" fill="#9e9e9e" stroke="#9e9e9e" stroke-width="5" transform="rotate(0 63.3 79.6)"/><ellipse cx="63.3" cy="79.6" rx="18.1" ry="3.7" fill="#dedede" transform="rotate(0 63.3 79.6)"/><path d="M203.06,52.55 C205.36,50.29 214.56,50.29 216.86,52.55 C219.16,54.80 219.16,63.80 216.86,66.06 C214.56,68.31 205.36,68.31 203.06,66.06 C200.76,63.80 200.76,54.80 203.06,52.55 Z" fill="#d9d9d9"/><path d="M156.47,53.39 C156.76,52.40 158.49,51.00 159.92,50.86 C161.36,50.72 163.37,51.42 165.10,52.55 C166.83,53.67 167.98,56.63 170.28,57.61 C172.58,58.60 175.16,58.60 178.90,58.46 C182.64,58.32 188.97,57.33 192.70,56.77 C196.44,56.20 197.30,55.50 201.33,55.08 C205.36,54.66 214.27,52.40 216.86,54.23 C219.45,56.06 219.73,64.31 216.86,66.06 C213.98,67.80 205.36,64.99 199.61,64.70 C193.85,64.42 187.24,64.56 182.35,64.37 C177.46,64.17 173.44,64.37 170.28,63.52 C167.11,62.68 165.39,60.43 163.37,59.30 C161.36,58.17 159.35,57.75 158.20,56.77 C157.05,55.78 156.19,54.37 156.47,53.39 Z" fill="#9e9e9e" stroke="#9e9e9e" stroke-width="5" stroke-linejoin="round"/><path d="M156.47,53.39 C156.76,52.40 158.49,51.00 159.92,50.86 C161.36,50.72 163.37,51.42 165.10,52.55 C166.83,53.67 167.98,56.63 170.28,57.61 C172.58,58.60 175.16,58.60 178.90,58.46 C182.64,58.32 188.97,57.33 192.70,56.77 C196.44,56.20 197.30,55.50 201.33,55.08 C205.36,54.66 214.27,52.40 216.86,54.23 C219.45,56.06 219.73,64.31 216.86,66.06 C213.98,67.80 205.36,64.99 199.61,64.70 C193.85,64.42 187.24,64.56 182.35,64.37 C177.46,64.17 173.44,64.37 170.28,63.52 C167.11,62.68 165.39,60.43 163.37,59.30 C161.36,58.17 159.35,57.75 158.20,56.77 C157.05,55.78 156.19,54.37 156.47,53.39 Z" fill="#dedede"/><path d="M121.97,55.92 C123.12,55.64 125.71,56.49 126.28,57.61 C126.86,58.74 126.42,60.71 125.42,62.68 C124.41,64.65 121.82,67.60 120.24,69.43 C118.66,71.26 117.14,73.23 115.93,73.65 C114.72,74.08 113.14,73.23 113.00,71.97 C112.85,70.70 114.00,68.17 115.07,66.06 C116.13,63.94 118.23,60.99 119.38,59.30 C120.53,57.61 120.82,56.20 121.97,55.92 Z" fill="#9e9e9e" stroke="#9e9e9e" stroke-width="5" stroke-linejoin="round"/><path d="M121.97,55.92 C123.12,55.64 125.71,56.49 126.28,57.61 C126.86,58.74 126.42,60.71 125.42,62.68 C124.41,64.65 121.82,67.60 120.24,69.43 C118.66,71.26 117.14,73.23 115.93,73.65 C114.72,74.08 113.14,73.23 113.00,71.97 C112.85,70.70 114.00,68.17 115.07,66.06 C116.13,63.94 118.23,60.99 119.38,59.30 C120.53,57.61 120.82,56.20 121.97,55.92 Z" fill="#dedede"/><ellipse cx="125.4" cy="105.7" rx="17.3" ry="3.7" fill="#9e9e9e" stroke="#9e9e9e" stroke-width="5" transform="rotate(0 125.4 105.7)"/><ellipse cx="125.4" cy="105.7" rx="17.3" ry="3.7" fill="#dedede" transform="rotate(0 125.4 105.7)"/><ellipse cx="156.5" cy="6.9" rx="2.6" ry="9.3" fill="#9e9e9e" stroke="#9e9e9e" stroke-width="5" transform="rotate(0 156.5 6.9)"/><ellipse cx="156.5" cy="6.9" rx="2.6" ry="9.3" fill="#dedede" transform="rotate(0 156.5 6.9)"/><ellipse cx="123.7" cy="12.9" rx="2.6" ry="4.2" fill="#9e9e9e" stroke="#9e9e9e" stroke-width="5" transform="rotate(0 123.7 12.9)"/><ellipse cx="123.7" cy="12.9" rx="2.6" ry="4.2" fill="#dedede" transform="rotate(0 123.7 12.9)"/><ellipse cx="168.6" cy="24.7" rx="3.5" ry="6.8" fill="#9e9e9e" stroke="#9e9e9e" stroke-width="5" transform="rotate(0 168.6 24.7)"/><ellipse cx="168.6" cy="24.7" rx="3.5" ry="6.8" fill="#dedede" transform="rotate(0 168.6 24.7)"/><ellipse cx="199.6" cy="3.6" rx="2.1" ry="4.2" fill="#9e9e9e" stroke="#9e9e9e" stroke-width="5" transform="rotate(0 199.6 3.6)"/><ellipse cx="199.6" cy="3.6" rx="2.1" ry="4.2" fill="#dedede" transform="rotate(0 199.6 3.6)"/><ellipse cx="189.3" cy="22.1" rx="1.4" ry="2.5" fill="#9e9e9e" stroke="#9e9e9e" stroke-width="5" transform="rotate(0 189.3 22.1)"/><ellipse cx="189.3" cy="22.1" rx="1.4" ry="2.5" fill="#b2b2b2" transform="rotate(0 189.3 22.1)"/>
</g></g>
<rect x="0" y="0" width="214" height="137" fill="url(#a0)" mask="url(#mkc2)"/>
<path d="M36.53,23.84 C36.82,22.15 37.83,19.33 39.12,17.93 C40.41,16.52 42.71,15.53 44.30,15.39 C45.88,15.25 47.46,17.93 48.61,17.08 C49.76,16.24 50.33,12.86 51.20,10.33 C52.06,7.79 52.78,3.43 53.78,1.88 C54.79,0.33 56.52,-0.09 57.23,1.04 C57.95,2.16 58.38,5.96 58.10,8.64 C57.81,11.31 56.80,14.83 55.51,17.08 C54.22,19.33 51.77,20.46 50.33,22.15 C48.90,23.84 48.46,25.95 46.88,27.21 C45.30,28.48 42.43,29.61 40.84,29.75 C39.26,29.89 38.11,29.04 37.39,28.06 C36.68,27.07 36.24,25.53 36.53,23.84 Z" fill="none" stroke="#000" stroke-width="1.3"/><ellipse cx="67.6" cy="5.3" rx="5.2" ry="7.6" fill="none" stroke="#000" stroke-width="1.3" transform="rotate(0 67.6 5.3)"/><ellipse cx="88.3" cy="12.9" rx="3.5" ry="5.1" fill="none" stroke="#000" stroke-width="1.3" transform="rotate(0 88.3 12.9)"/><ellipse cx="21.0" cy="6.1" rx="2.1" ry="4.2" fill="none" stroke="#000" stroke-width="1.3" transform="rotate(0 21.0 6.1)"/><path d="M-3.15,57.61 C-0.27,53.39 10.08,57.61 14.10,57.61 C18.13,57.61 19.28,56.77 21.00,57.61 C22.73,58.46 24.17,60.71 24.45,62.68 C24.74,64.65 24.17,68.03 22.73,69.43 C21.29,70.84 20.14,68.87 15.83,71.12 C11.51,73.37 0.01,85.19 -3.15,82.94 C-6.31,80.69 -6.03,61.83 -3.15,57.61 Z" fill="none" stroke="#000" stroke-width="1.3"/><ellipse cx="63.3" cy="79.6" rx="18.1" ry="3.7" fill="none" stroke="#000" stroke-width="1.3" transform="rotate(0 63.3 79.6)"/><path d="M24.45,73.65 C38.46,71.54 94.47,71.54 108.48,73.65 C122.48,75.77 122.48,84.21 108.48,86.32 C94.47,88.43 38.46,88.43 24.45,86.32 C10.45,84.21 10.45,75.77 24.45,73.65 Z" fill="url(#a0)"/><path d="M-1.42,116.72 C16.89,113.06 90.16,113.06 108.48,116.72 C126.79,120.38 126.79,135.01 108.48,138.67 C90.16,142.33 16.89,142.33 -1.42,138.67 C-19.74,135.01 -19.74,120.38 -1.42,116.72 Z" fill="url(#a270)"/><path d="M156.47,53.39 C156.76,52.40 158.49,51.00 159.92,50.86 C161.36,50.72 163.37,51.42 165.10,52.55 C166.83,53.67 167.98,56.63 170.28,57.61 C172.58,58.60 175.16,58.60 178.90,58.46 C182.64,58.32 188.97,57.33 192.70,56.77 C196.44,56.20 197.30,55.50 201.33,55.08 C205.36,54.66 214.27,52.40 216.86,54.23 C219.45,56.06 219.73,64.31 216.86,66.06 C213.98,67.80 205.36,64.99 199.61,64.70 C193.85,64.42 187.24,64.56 182.35,64.37 C177.46,64.17 173.44,64.37 170.28,63.52 C167.11,62.68 165.39,60.43 163.37,59.30 C161.36,58.17 159.35,57.75 158.20,56.77 C157.05,55.78 156.19,54.37 156.47,53.39 Z" fill="none" stroke="#000" stroke-width="1.3"/><path d="M121.97,55.92 C123.12,55.64 125.71,56.49 126.28,57.61 C126.86,58.74 126.42,60.71 125.42,62.68 C124.41,64.65 121.82,67.60 120.24,69.43 C118.66,71.26 117.14,73.23 115.93,73.65 C114.72,74.08 113.14,73.23 113.00,71.97 C112.85,70.70 114.00,68.17 115.07,66.06 C116.13,63.94 118.23,60.99 119.38,59.30 C120.53,57.61 120.82,56.20 121.97,55.92 Z" fill="none" stroke="#000" stroke-width="1.3"/><ellipse cx="125.4" cy="105.7" rx="17.3" ry="3.7" fill="none" stroke="#000" stroke-width="1.3" transform="rotate(0 125.4 105.7)"/><ellipse cx="156.5" cy="6.9" rx="2.6" ry="9.3" fill="none" stroke="#000" stroke-width="1.3" transform="rotate(0 156.5 6.9)"/><ellipse cx="123.7" cy="12.9" rx="2.6" ry="4.2" fill="none" stroke="#000" stroke-width="1.3" transform="rotate(0 123.7 12.9)"/><ellipse cx="168.6" cy="24.7" rx="3.5" ry="6.8" fill="none" stroke="#000" stroke-width="1.3" transform="rotate(0 168.6 24.7)"/><ellipse cx="199.6" cy="3.6" rx="2.1" ry="4.2" fill="none" stroke="#000" stroke-width="1.3" transform="rotate(0 199.6 3.6)"/><ellipse cx="189.3" cy="22.1" rx="1.4" ry="2.5" fill="none" stroke="#000" stroke-width="1.3" transform="rotate(0 189.3 22.1)"/><path d="M106.44,123.47 C115.07,120.94 149.57,120.94 158.20,123.47 C166.83,126.01 166.83,136.14 158.20,138.67 C149.57,141.20 115.07,141.20 106.44,138.67 C97.81,136.14 97.81,126.01 106.44,123.47 Z" fill="url(#a270)"/>
<path d="M-2,-2 L216.0,-2 L216.0,139.0 L-2,139.0 Z M2.90,0.00 L3.08,2.29 L3.26,4.58 L3.46,6.87 L3.67,9.17 L3.90,11.46 L4.13,13.75 L4.38,16.04 L4.65,18.33 L4.93,20.62 L5.23,22.92 L5.55,25.21 L5.89,27.50 L6.25,29.79 L6.63,32.08 L7.03,34.38 L7.46,36.67 L7.91,38.96 L8.39,41.25 L8.91,43.54 L9.45,45.83 L10.02,48.12 L10.63,50.42 L11.28,52.71 L11.96,55.00 L12.69,57.29 L13.46,59.58 L14.28,61.88 L15.15,64.17 L16.07,66.46 L17.05,68.75 L18.09,71.04 L19.19,73.33 L20.36,75.63 L21.59,77.92 L22.91,80.21 L24.30,82.50 L25.78,84.79 L27.35,87.08 L29.01,89.38 L30.78,91.67 L32.65,93.96 L34.63,96.25 L36.74,98.54 L38.98,100.83 L41.35,103.12 L43.86,105.42 L46.53,107.71 L49.36,110.00 L52.36,112.29 L55.55,114.58 L58.93,116.88 L62.51,119.17 L66.31,121.46 L70.35,123.75 L74.63,126.04 L79.17,128.33 L83.98,130.62 L89.09,132.92 L94.51,135.21 L100.26,137.50 L113.74,137.50 L119.49,135.21 L124.91,132.92 L130.02,130.62 L134.83,128.33 L139.37,126.04 L143.65,123.75 L147.69,121.46 L151.49,119.17 L155.07,116.88 L158.45,114.58 L161.64,112.29 L164.64,110.00 L167.47,107.71 L170.14,105.42 L172.65,103.12 L175.02,100.83 L177.26,98.54 L179.37,96.25 L181.35,93.96 L183.22,91.67 L184.99,89.38 L186.65,87.08 L188.22,84.79 L189.70,82.50 L191.09,80.21 L192.41,77.92 L193.64,75.63 L194.81,73.33 L195.91,71.04 L196.95,68.75 L197.93,66.46 L198.85,64.17 L199.72,61.88 L200.54,59.58 L201.31,57.29 L202.04,55.00 L202.72,52.71 L203.37,50.42 L203.98,48.12 L204.55,45.83 L205.09,43.54 L205.61,41.25 L206.09,38.96 L206.54,36.67 L206.97,34.38 L207.37,32.08 L207.75,29.79 L208.11,27.50 L208.45,25.21 L208.77,22.92 L209.07,20.62 L209.35,18.33 L209.62,16.04 L209.87,13.75 L210.10,11.46 L210.33,9.17 L210.54,6.87 L210.74,4.58 L210.92,2.29 L211.10,0.00 Z" fill="#fff" fill-opacity="0.5" fill-rule="evenodd"/>

<path d="M2.90,0.00 L3.08,2.29 L3.26,4.58 L3.46,6.87 L3.67,9.17 L3.90,11.46 L4.13,13.75 L4.38,16.04 L4.65,18.33 L4.93,20.62 L5.23,22.92 L5.55,25.21 L5.89,27.50 L6.25,29.79 L6.63,32.08 L7.03,34.38 L7.46,36.67 L7.91,38.96 L8.39,41.25 L8.91,43.54 L9.45,45.83 L10.02,48.12 L10.63,50.42 L11.28,52.71 L11.96,55.00 L12.69,57.29 L13.46,59.58 L14.28,61.88 L15.15,64.17 L16.07,66.46 L17.05,68.75 L18.09,71.04 L19.19,73.33 L20.36,75.63 L21.59,77.92 L22.91,80.21 L24.30,82.50 L25.78,84.79 L27.35,87.08 L29.01,89.38 L30.78,91.67 L32.65,93.96 L34.63,96.25 L36.74,98.54 L38.98,100.83 L41.35,103.12 L43.86,105.42 L46.53,107.71 L49.36,110.00 L52.36,112.29 L55.55,114.58 L58.93,116.88 L62.51,119.17 L66.31,121.46 L70.35,123.75 L74.63,126.04 L79.17,128.33 L83.98,130.62 L89.09,132.92 L94.51,135.21 L100.26,137.50 L113.74,137.50 L119.49,135.21 L124.91,132.92 L130.02,130.62 L134.83,128.33 L139.37,126.04 L143.65,123.75 L147.69,121.46 L151.49,119.17 L155.07,116.88 L158.45,114.58 L161.64,112.29 L164.64,110.00 L167.47,107.71 L170.14,105.42 L172.65,103.12 L175.02,100.83 L177.26,98.54 L179.37,96.25 L181.35,93.96 L183.22,91.67 L184.99,89.38 L186.65,87.08 L188.22,84.79 L189.70,82.50 L191.09,80.21 L192.41,77.92 L193.64,75.63 L194.81,73.33 L195.91,71.04 L196.95,68.75 L197.93,66.46 L198.85,64.17 L199.72,61.88 L200.54,59.58 L201.31,57.29 L202.04,55.00 L202.72,52.71 L203.37,50.42 L203.98,48.12 L204.55,45.83 L205.09,43.54 L205.61,41.25 L206.09,38.96 L206.54,36.67 L206.97,34.38 L207.37,32.08 L207.75,29.79 L208.11,27.50 L208.45,25.21 L208.77,22.92 L209.07,20.62 L209.35,18.33 L209.62,16.04 L209.87,13.75 L210.10,11.46 L210.33,9.17 L210.54,6.87 L210.74,4.58 L210.92,2.29 L211.10,0.00 Z" fill="none" stroke="#222" stroke-width="0.6"/>
</g>
<rect x="0.3" y="0.3" width="213.4" height="136.4" fill="none" stroke="#777" stroke-width="0.8"/>
</svg>
<div class="t ti" style="left:307.3px;top:329.7px;">(c-2) TNA-DPC3</div>
<div class="t tk" style="left:266.1px;top:483.7px;width:0;"><span style="position:absolute;transform:translateX(-50%)">2001</span></div>
<div class="t tk" style="left:301.1px;top:483.7px;width:0;"><span style="position:absolute;transform:translateX(-50%)">2005</span></div>
<div class="t tk" style="left:342.8px;top:483.7px;width:0;"><span style="position:absolute;transform:translateX(-50%)">2009</span></div>
<div class="t tk" style="left:384.6px;top:483.7px;width:0;"><span style="position:absolute;transform:translateX(-50%)">2013</span></div>
<div class="t tk" style="left:423.1px;top:483.7px;width:0;"><span style="position:absolute;transform:translateX(-50%)">2017</span></div>
<div class="t tk" style="left:455.1px;top:483.7px;width:0;"><span style="position:absolute;transform:translateX(-50%)">2019</span></div>
<svg class="p" style="left:468.30px;top:345.50px;width:214.10px;height:137.50px" viewBox="0 0 214 137" preserveAspectRatio="none">
<clipPath id="clc3"><rect x="0" y="0" width="214" height="137"/></clipPath>
<filter id="xtc3" x="-10" y="-10" width="234" height="157" filterUnits="userSpaceOnUse" color-interpolation-filters="sRGB"><feTurbulence type="turbulence" baseFrequency="0.07 0.015" numOctaves="2" seed="32"/><feColorMatrix type="matrix" values="1.1 0 0 0 0  1.1 0 0 0 0  1.1 0 0 0 0  0 0 0 0 1"/></filter>
<filter id="xmc3" x="-10" y="-10" width="234" height="157" filterUnits="userSpaceOnUse" color-interpolation-filters="sRGB"><feTurbulence type="turbulence" baseFrequency="0.035 0.03" numOctaves="2" seed="132"/><feColorMatrix type="matrix" values="1.1 0 0 0 0  1.1 0 0 0 0  1.1 0 0 0 0  0 0 0 0 1"/></filter>
<filter id="xbc3" x="-10" y="-10" width="234" height="157" filterUnits="userSpaceOnUse" color-interpolation-filters="sRGB"><feTurbulence type="turbulence" baseFrequency="0.01 0.05" numOctaves="2" seed="232"/><feColorMatrix type="matrix" values="1.1 0 0 0 0  1.1 0 0 0 0  1.1 0 0 0 0  0 0 0 0 1"/></filter>
<g clip-path="url(#clc3)">
<filter id="thrc3" x="-10" y="-10" width="234" height="157" filterUnits="userSpaceOnUse" color-interpolation-filters="sRGB"><feGaussianBlur stdDeviation="1.3"/><feComponentTransfer><feFuncR type="discrete" tableValues="0 1"/><feFuncG type="discrete" tableValues="0 1"/><feFuncB type="discrete" tableValues="0 1"/><feFuncA type="linear" slope="0" intercept="1"/></feComponentTransfer></filter>
<mask id="mkc3" maskUnits="userSpaceOnUse" x="-10" y="-10" width="234" height="157"><g filter="url(#thrc3)"><use href="#rawc3"/></g></mask>
<g filter="url(#par)"><g id="rawc3">
<rect x="-10" y="-10" width="234" height="157" fill="#333333"/><g mask="url(#mtop)"><rect x="-10" y="-10" width="234" height="157" filter="url(#xtc3)"/></g><g mask="url(#mmid)"><rect x="-10" y="-10" width="234" height="157" filter="url(#xmc3)"/></g><g mask="url(#mbot)"><rect x="-10" y="-10" width="234" height="157" filter="url(#xbc3)"/></g><g filter="url(#bl2)" opacity="0.9"><ellipse cx="37.7" cy="28.9" rx="11.9" ry="13.5" fill="#0d0d0d" transform="rotate(0 37.7 28.9)"/><ellipse cx="15.6" cy="8.6" rx="5.1" ry="8.4" fill="#141414" transform="rotate(0 15.6 8.6)"/><ellipse cx="49.5" cy="8.6" rx="5.1" ry="8.4" fill="#141414" transform="rotate(0 49.5 8.6)"/><ellipse cx="86.8" cy="10.3" rx="5.1" ry="8.4" fill="#141414" transform="rotate(0 86.8 10.3)"/><ellipse cx="93.6" cy="108.3" rx="13.6" ry="8.4" fill="#0d0d0d" transform="rotate(0 93.6 108.3)"/><ellipse cx="66.5" cy="40.7" rx="6.8" ry="13.5" fill="#999999" transform="rotate(0 66.5 40.7)"/><ellipse cx="95.3" cy="28.9" rx="6.8" ry="6.8" fill="#999999" transform="rotate(0 95.3 28.9)"/><ellipse cx="44.5" cy="30.6" rx="6.8" ry="6.8" fill="#737373" transform="rotate(0 44.5 30.6)"/><rect x="5.5" y="47.5" width="218.5" height="10.1" fill="#0d0d0d"/><rect x="-10.0" y="99.8" width="234.0" height="6.8" fill="#737373"/><rect x="69.9" y="123.5" width="154.1" height="15.2" fill="#adadad"/><rect x="58.0" y="113.3" width="166.0" height="10.1" fill="#4c4c4c"/><rect x="-10.0" y="47.5" width="22.3" height="11.8" fill="#0d0d0d"/><rect x="-10.0" y="103.2" width="59.5" height="20.3" fill="#1f1f1f"/><rect x="-10.0" y="126.9" width="79.9" height="11.8" fill="#b8b8b8"/><ellipse cx="157.5" cy="28.9" rx="25.4" ry="4.2" fill="#0a0a0a" transform="rotate(0 157.5 28.9)"/><ellipse cx="149.0" cy="49.2" rx="8.5" ry="4.2" fill="#0d0d0d" transform="rotate(0 149.0 49.2)"/><ellipse cx="157.5" cy="64.4" rx="25.4" ry="5.1" fill="#0a0a0a" transform="rotate(0 157.5 64.4)"/><ellipse cx="113.4" cy="55.9" rx="8.5" ry="6.8" fill="#0d0d0d" transform="rotate(0 113.4 55.9)"/><ellipse cx="120.2" cy="8.6" rx="4.2" ry="10.1" fill="#141414" transform="rotate(0 120.2 8.6)"/><ellipse cx="162.6" cy="3.6" rx="5.1" ry="6.8" fill="#141414" transform="rotate(0 162.6 3.6)"/><ellipse cx="191.4" cy="13.7" rx="5.1" ry="10.1" fill="#141414" transform="rotate(0 191.4 13.7)"/><ellipse cx="177.0" cy="8.6" rx="2.5" ry="10.1" fill="#999999" transform="rotate(0 177.0 8.6)"/><ellipse cx="127.0" cy="41.6" rx="6.8" ry="6.8" fill="#8c8c8c" transform="rotate(0 127.0 41.6)"/><ellipse cx="179.5" cy="40.7" rx="6.8" ry="5.9" fill="#8c8c8c" transform="rotate(0 179.5 40.7)"/><ellipse cx="156.6" cy="37.3" rx="3.4" ry="3.4" fill="#999999" transform="rotate(0 156.6 37.3)"/><ellipse cx="120.2" cy="76.2" rx="16.9" ry="4.2" fill="#8c8c8c" transform="rotate(0 120.2 76.2)"/><ellipse cx="177.0" cy="84.6" rx="11.9" ry="5.1" fill="#999999" transform="rotate(0 177.0 84.6)"/><rect x="21.9" y="110.0" width="152.5" height="10.1" fill="#0d0d0d"/><rect x="21.9" y="123.5" width="118.6" height="15.2" fill="#9e9e9e"/><rect x="182.9" y="81.3" width="41.1" height="8.4" fill="#bfbfbf"/><rect x="171.0" y="96.5" width="53.0" height="10.1" fill="#cccccc"/><rect x="149.0" y="113.3" width="75.0" height="8.4" fill="#1a1a1a"/><rect x="140.5" y="125.2" width="83.5" height="13.5" fill="#d9d9d9"/></g><path d="M-1.30,13.70 C0.11,10.05 5.76,10.05 7.17,13.70 C8.59,17.36 8.59,32.00 7.17,35.66 C5.76,39.32 0.11,39.32 -1.30,35.66 C-2.71,32.00 -2.71,17.36 -1.30,13.70 Z" fill="#d9d9d9"/><path d="M-2.99,60.99 C-0.17,54.80 9.43,62.12 13.95,62.68 C18.47,63.24 20.45,63.52 24.12,64.37 C27.79,65.21 32.31,66.62 35.98,67.74 C39.65,68.87 42.48,70.28 46.15,71.12 C49.82,71.97 53.21,72.25 58.01,72.81 C62.82,73.37 69.31,73.94 74.96,74.50 C80.61,75.06 86.62,75.63 91.91,76.19 C97.19,76.75 103.06,77.03 106.65,77.88 C110.24,78.72 111.45,79.85 113.43,81.25 C115.41,82.66 116.82,84.35 118.51,86.32 C120.21,88.29 121.34,91.53 123.60,93.08 C125.86,94.62 127.83,95.05 132.07,95.61 C136.31,96.17 143.37,96.31 149.02,96.45 C154.67,96.59 161.16,96.31 165.96,96.45 C170.76,96.59 175.57,96.73 177.83,97.30 C180.09,97.86 180.09,98.28 179.52,99.83 C178.96,101.38 178.11,105.32 174.44,106.59 C170.76,107.85 164.55,107.15 157.49,107.43 C150.43,107.71 139.13,108.27 132.07,108.27 C125.01,108.27 119.36,107.71 115.12,107.43 C110.89,107.15 110.52,108.13 106.65,106.59 C102.78,105.04 97.19,99.83 91.91,98.14 C86.62,96.45 80.61,96.73 74.96,96.45 C69.31,96.17 63.66,96.34 58.01,96.45 C52.36,96.57 45.30,97.13 41.07,97.13 C36.83,97.13 36.27,97.13 32.59,96.45 C28.92,95.78 24.97,92.51 19.04,93.08 C13.11,93.64 0.68,105.18 -2.99,99.83 C-6.67,94.48 -5.82,67.18 -2.99,60.99 Z" fill="#9e9e9e" stroke="#9e9e9e" stroke-width="5" stroke-linejoin="round"/><path d="M-2.99,60.99 C-0.17,54.80 9.43,62.12 13.95,62.68 C18.47,63.24 20.45,63.52 24.12,64.37 C27.79,65.21 32.31,66.62 35.98,67.74 C39.65,68.87 42.48,70.28 46.15,71.12 C49.82,71.97 53.21,72.25 58.01,72.81 C62.82,73.37 69.31,73.94 74.96,74.50 C80.61,75.06 86.62,75.63 91.91,76.19 C97.19,76.75 103.06,77.03 106.65,77.88 C110.24,78.72 111.45,79.85 113.43,81.25 C115.41,82.66 116.82,84.35 118.51,86.32 C120.21,88.29 121.34,91.53 123.60,93.08 C125.86,94.62 127.83,95.05 132.07,95.61 C136.31,96.17 143.37,96.31 149.02,96.45 C154.67,96.59 161.16,96.31 165.96,96.45 C170.76,96.59 175.57,96.73 177.83,97.30 C180.09,97.86 180.09,98.28 179.52,99.83 C178.96,101.38 178.11,105.32 174.44,106.59 C170.76,107.85 164.55,107.15 157.49,107.43 C150.43,107.71 139.13,108.27 132.07,108.27 C125.01,108.27 119.36,107.71 115.12,107.43 C110.89,107.15 110.52,108.13 106.65,106.59 C102.78,105.04 97.19,99.83 91.91,98.14 C86.62,96.45 80.61,96.73 74.96,96.45 C69.31,96.17 63.66,96.34 58.01,96.45 C52.36,96.57 45.30,97.13 41.07,97.13 C36.83,97.13 36.27,97.13 32.59,96.45 C28.92,95.78 24.97,92.51 19.04,93.08 C13.11,93.64 0.68,105.18 -2.99,99.83 C-6.67,94.48 -5.82,67.18 -2.99,60.99 Z" fill="#dedede"/><ellipse cx="13.1" cy="43.3" rx="5.9" ry="3.4" fill="#9e9e9e" stroke="#9e9e9e" stroke-width="5" transform="rotate(0 13.1 43.3)"/><ellipse cx="13.1" cy="43.3" rx="5.9" ry="3.4" fill="#dedede" transform="rotate(0 13.1 43.3)"/><ellipse cx="66.5" cy="8.6" rx="2.5" ry="6.8" fill="#9e9e9e" stroke="#9e9e9e" stroke-width="5" transform="rotate(0 66.5 8.6)"/><ellipse cx="66.5" cy="8.6" rx="2.5" ry="6.8" fill="#dedede" transform="rotate(0 66.5 8.6)"/><ellipse cx="81.7" cy="3.6" rx="1.7" ry="3.4" fill="#9e9e9e" stroke="#9e9e9e" stroke-width="5" transform="rotate(0 81.7 3.6)"/><ellipse cx="81.7" cy="3.6" rx="1.7" ry="3.4" fill="#dedede" transform="rotate(0 81.7 3.6)"/><ellipse cx="82.6" cy="37.3" rx="4.2" ry="5.1" fill="#9e9e9e" stroke="#9e9e9e" stroke-width="5" transform="rotate(0 82.6 37.3)"/><ellipse cx="82.6" cy="37.3" rx="4.2" ry="5.1" fill="#dedede" transform="rotate(0 82.6 37.3)"/><ellipse cx="63.1" cy="36.5" rx="1.7" ry="2.4" fill="#9e9e9e" stroke="#9e9e9e" stroke-width="5" transform="rotate(0 63.1 36.5)"/><ellipse cx="63.1" cy="36.5" rx="1.7" ry="2.4" fill="#b2b2b2" transform="rotate(0 63.1 36.5)"/><ellipse cx="96.1" cy="25.5" rx="2.0" ry="2.4" fill="#a6a6a6" transform="rotate(0 96.1 25.5)"/><ellipse cx="105.5" cy="6.9" rx="2.0" ry="5.9" fill="#9e9e9e" stroke="#9e9e9e" stroke-width="5" transform="rotate(0 105.5 6.9)"/><ellipse cx="105.5" cy="6.9" rx="2.0" ry="5.9" fill="#dedede" transform="rotate(0 105.5 6.9)"/><path d="M208.33,15.39 C210.02,13.70 216.80,13.70 218.50,15.39 C220.19,17.08 220.19,23.84 218.50,25.53 C216.80,27.21 210.02,27.21 208.33,25.53 C206.63,23.84 206.63,17.08 208.33,15.39 Z" fill="#d9d9d9"/><path d="M143.93,14.55 C144.50,13.14 145.91,11.31 147.32,10.33 C148.73,9.34 150.71,8.64 152.41,8.64 C154.10,8.64 155.80,9.62 157.49,10.33 C159.18,11.03 161.30,11.73 162.57,12.86 C163.84,13.99 165.12,15.82 165.12,17.08 C165.12,18.35 164.13,20.32 162.57,20.46 C161.02,20.60 157.77,18.35 155.80,17.93 C153.82,17.50 152.26,17.50 150.71,17.93 C149.16,18.35 147.60,20.32 146.47,20.46 C145.34,20.60 144.36,19.76 143.93,18.77 C143.51,17.79 143.37,15.96 143.93,14.55 Z" fill="#9e9e9e" stroke="#9e9e9e" stroke-width="5" stroke-linejoin="round"/><path d="M143.93,14.55 C144.50,13.14 145.91,11.31 147.32,10.33 C148.73,9.34 150.71,8.64 152.41,8.64 C154.10,8.64 155.80,9.62 157.49,10.33 C159.18,11.03 161.30,11.73 162.57,12.86 C163.84,13.99 165.12,15.82 165.12,17.08 C165.12,18.35 164.13,20.32 162.57,20.46 C161.02,20.60 157.77,18.35 155.80,17.93 C153.82,17.50 152.26,17.50 150.71,17.93 C149.16,18.35 147.60,20.32 146.47,20.46 C145.34,20.60 144.36,19.76 143.93,18.77 C143.51,17.79 143.37,15.96 143.93,14.55 Z" fill="#dedede"/><ellipse cx="141.4" cy="8.6" rx="2.0" ry="5.1" fill="#9e9e9e" stroke="#9e9e9e" stroke-width="5" transform="rotate(0 141.4 8.6)"/><ellipse cx="141.4" cy="8.6" rx="2.0" ry="5.1" fill="#dedede" transform="rotate(0 141.4 8.6)"/><ellipse cx="193.1" cy="23.8" rx="1.7" ry="3.0" fill="#9e9e9e" stroke="#9e9e9e" stroke-width="5" transform="rotate(0 193.1 23.8)"/><ellipse cx="193.1" cy="23.8" rx="1.7" ry="3.0" fill="#b2b2b2" transform="rotate(0 193.1 23.8)"/>
</g></g>
<rect x="0" y="0" width="214" height="137" fill="url(#a135)" mask="url(#mkc3)"/>
<path d="M-2.99,60.99 C-0.17,54.80 9.43,62.12 13.95,62.68 C18.47,63.24 20.45,63.52 24.12,64.37 C27.79,65.21 32.31,66.62 35.98,67.74 C39.65,68.87 42.48,70.28 46.15,71.12 C49.82,71.97 53.21,72.25 58.01,72.81 C62.82,73.37 69.31,73.94 74.96,74.50 C80.61,75.06 86.62,75.63 91.91,76.19 C97.19,76.75 103.06,77.03 106.65,77.88 C110.24,78.72 111.45,79.85 113.43,81.25 C115.41,82.66 116.82,84.35 118.51,86.32 C120.21,88.29 121.34,91.53 123.60,93.08 C125.86,94.62 127.83,95.05 132.07,95.61 C136.31,96.17 143.37,96.31 149.02,96.45 C154.67,96.59 161.16,96.31 165.96,96.45 C170.76,96.59 175.57,96.73 177.83,97.30 C180.09,97.86 180.09,98.28 179.52,99.83 C178.96,101.38 178.11,105.32 174.44,106.59 C170.76,107.85 164.55,107.15 157.49,107.43 C150.43,107.71 139.13,108.27 132.07,108.27 C125.01,108.27 119.36,107.71 115.12,107.43 C110.89,107.15 110.52,108.13 106.65,106.59 C102.78,105.04 97.19,99.83 91.91,98.14 C86.62,96.45 80.61,96.73 74.96,96.45 C69.31,96.17 63.66,96.34 58.01,96.45 C52.36,96.57 45.30,97.13 41.07,97.13 C36.83,97.13 36.27,97.13 32.59,96.45 C28.92,95.78 24.97,92.51 19.04,93.08 C13.11,93.64 0.68,105.18 -2.99,99.83 C-6.67,94.48 -5.82,67.18 -2.99,60.99 Z" fill="none" stroke="#000" stroke-width="1.3"/><ellipse cx="13.1" cy="43.3" rx="5.9" ry="3.4" fill="none" stroke="#000" stroke-width="1.3" transform="rotate(0 13.1 43.3)"/><ellipse cx="66.5" cy="8.6" rx="2.5" ry="6.8" fill="none" stroke="#000" stroke-width="1.3" transform="rotate(0 66.5 8.6)"/><ellipse cx="81.7" cy="3.6" rx="1.7" ry="3.4" fill="none" stroke="#000" stroke-width="1.3" transform="rotate(0 81.7 3.6)"/><ellipse cx="82.6" cy="37.3" rx="4.2" ry="5.1" fill="none" stroke="#000" stroke-width="1.3" transform="rotate(0 82.6 37.3)"/><ellipse cx="63.1" cy="36.5" rx="1.7" ry="2.4" fill="none" stroke="#000" stroke-width="1.3" transform="rotate(0 63.1 36.5)"/><ellipse cx="105.5" cy="6.9" rx="2.0" ry="5.9" fill="none" stroke="#000" stroke-width="1.3" transform="rotate(0 105.5 6.9)"/><path d="M-1.30,126.85 C16.69,124.88 88.66,124.88 106.65,126.85 C124.64,128.82 124.64,136.70 106.65,138.67 C88.66,140.64 16.69,140.64 -1.30,138.67 C-19.29,136.70 -19.29,128.82 -1.30,126.85 Z" fill="url(#a0)"/><path d="M143.93,14.55 C144.50,13.14 145.91,11.31 147.32,10.33 C148.73,9.34 150.71,8.64 152.41,8.64 C154.10,8.64 155.80,9.62 157.49,10.33 C159.18,11.03 161.30,11.73 162.57,12.86 C163.84,13.99 165.12,15.82 165.12,17.08 C165.12,18.35 164.13,20.32 162.57,20.46 C161.02,20.60 157.77,18.35 155.80,17.93 C153.82,17.50 152.26,17.50 150.71,17.93 C149.16,18.35 147.60,20.32 146.47,20.46 C145.34,20.60 144.36,19.76 143.93,18.77 C143.51,17.79 143.37,15.96 143.93,14.55 Z" fill="none" stroke="#000" stroke-width="1.3"/><ellipse cx="141.4" cy="8.6" rx="2.0" ry="5.1" fill="none" stroke="#000" stroke-width="1.3" transform="rotate(0 141.4 8.6)"/><ellipse cx="193.1" cy="23.8" rx="1.7" ry="3.0" fill="none" stroke="#000" stroke-width="1.3" transform="rotate(0 193.1 23.8)"/><path d="M106.65,72.81 C111.45,71.68 130.66,71.68 135.46,72.81 C140.26,73.94 140.26,78.44 135.46,79.57 C130.66,80.69 111.45,80.69 106.65,79.57 C101.85,78.44 101.85,73.94 106.65,72.81 Z" fill="url(#a0)"/><path d="M165.96,80.41 C169.63,78.86 184.32,78.86 187.99,80.41 C191.67,81.96 191.67,88.15 187.99,89.70 C184.32,91.25 169.63,91.25 165.96,89.70 C162.29,88.15 162.29,81.96 165.96,80.41 Z" fill="url(#a180)"/>
<path d="M-2,-2 L216.0,-2 L216.0,139.0 L-2,139.0 Z M2.90,0.00 L3.08,2.29 L3.26,4.58 L3.46,6.87 L3.67,9.17 L3.90,11.46 L4.13,13.75 L4.38,16.04 L4.65,18.33 L4.93,20.62 L5.23,22.92 L5.55,25.21 L5.89,27.50 L6.25,29.79 L6.63,32.08 L7.03,34.38 L7.46,36.67 L7.91,38.96 L8.39,41.25 L8.91,43.54 L9.45,45.83 L10.02,48.12 L10.63,50.42 L11.28,52.71 L11.96,55.00 L12.69,57.29 L13.46,59.58 L14.28,61.88 L15.15,64.17 L16.07,66.46 L17.05,68.75 L18.09,71.04 L19.19,73.33 L20.36,75.63 L21.59,77.92 L22.91,80.21 L24.30,82.50 L25.78,84.79 L27.35,87.08 L29.01,89.38 L30.78,91.67 L32.65,93.96 L34.63,96.25 L36.74,98.54 L38.98,100.83 L41.35,103.12 L43.86,105.42 L46.53,107.71 L49.36,110.00 L52.36,112.29 L55.55,114.58 L58.93,116.88 L62.51,119.17 L66.31,121.46 L70.35,123.75 L74.63,126.04 L79.17,128.33 L83.98,130.62 L89.09,132.92 L94.51,135.21 L100.26,137.50 L113.74,137.50 L119.49,135.21 L124.91,132.92 L130.02,130.62 L134.83,128.33 L139.37,126.04 L143.65,123.75 L147.69,121.46 L151.49,119.17 L155.07,116.88 L158.45,114.58 L161.64,112.29 L164.64,110.00 L167.47,107.71 L170.14,105.42 L172.65,103.12 L175.02,100.83 L177.26,98.54 L179.37,96.25 L181.35,93.96 L183.22,91.67 L184.99,89.38 L186.65,87.08 L188.22,84.79 L189.70,82.50 L191.09,80.21 L192.41,77.92 L193.64,75.63 L194.81,73.33 L195.91,71.04 L196.95,68.75 L197.93,66.46 L198.85,64.17 L199.72,61.88 L200.54,59.58 L201.31,57.29 L202.04,55.00 L202.72,52.71 L203.37,50.42 L203.98,48.12 L204.55,45.83 L205.09,43.54 L205.61,41.25 L206.09,38.96 L206.54,36.67 L206.97,34.38 L207.37,32.08 L207.75,29.79 L208.11,27.50 L208.45,25.21 L208.77,22.92 L209.07,20.62 L209.35,18.33 L209.62,16.04 L209.87,13.75 L210.10,11.46 L210.33,9.17 L210.54,6.87 L210.74,4.58 L210.92,2.29 L211.10,0.00 Z" fill="#fff" fill-opacity="0.5" fill-rule="evenodd"/>

<path d="M2.90,0.00 L3.08,2.29 L3.26,4.58 L3.46,6.87 L3.67,9.17 L3.90,11.46 L4.13,13.75 L4.38,16.04 L4.65,18.33 L4.93,20.62 L5.23,22.92 L5.55,25.21 L5.89,27.50 L6.25,29.79 L6.63,32.08 L7.03,34.38 L7.46,36.67 L7.91,38.96 L8.39,41.25 L8.91,43.54 L9.45,45.83 L10.02,48.12 L10.63,50.42 L11.28,52.71 L11.96,55.00 L12.69,57.29 L13.46,59.58 L14.28,61.88 L15.15,64.17 L16.07,66.46 L17.05,68.75 L18.09,71.04 L19.19,73.33 L20.36,75.63 L21.59,77.92 L22.91,80.21 L24.30,82.50 L25.78,84.79 L27.35,87.08 L29.01,89.38 L30.78,91.67 L32.65,93.96 L34.63,96.25 L36.74,98.54 L38.98,100.83 L41.35,103.12 L43.86,105.42 L46.53,107.71 L49.36,110.00 L52.36,112.29 L55.55,114.58 L58.93,116.88 L62.51,119.17 L66.31,121.46 L70.35,123.75 L74.63,126.04 L79.17,128.33 L83.98,130.62 L89.09,132.92 L94.51,135.21 L100.26,137.50 L113.74,137.50 L119.49,135.21 L124.91,132.92 L130.02,130.62 L134.83,128.33 L139.37,126.04 L143.65,123.75 L147.69,121.46 L151.49,119.17 L155.07,116.88 L158.45,114.58 L161.64,112.29 L164.64,110.00 L167.47,107.71 L170.14,105.42 L172.65,103.12 L175.02,100.83 L177.26,98.54 L179.37,96.25 L181.35,93.96 L183.22,91.67 L184.99,89.38 L186.65,87.08 L188.22,84.79 L189.70,82.50 L191.09,80.21 L192.41,77.92 L193.64,75.63 L194.81,73.33 L195.91,71.04 L196.95,68.75 L197.93,66.46 L198.85,64.17 L199.72,61.88 L200.54,59.58 L201.31,57.29 L202.04,55.00 L202.72,52.71 L203.37,50.42 L203.98,48.12 L204.55,45.83 L205.09,43.54 L205.61,41.25 L206.09,38.96 L206.54,36.67 L206.97,34.38 L207.37,32.08 L207.75,29.79 L208.11,27.50 L208.45,25.21 L208.77,22.92 L209.07,20.62 L209.35,18.33 L209.62,16.04 L209.87,13.75 L210.10,11.46 L210.33,9.17 L210.54,6.87 L210.74,4.58 L210.92,2.29 L211.10,0.00 Z" fill="none" stroke="#222" stroke-width="0.6"/>
</g>
<rect x="0.3" y="0.3" width="213.4" height="136.4" fill="none" stroke="#777" stroke-width="0.8"/>
</svg>
<div class="t ti" style="left:520.0px;top:329.7px;">(c-3) MEI-DPC3</div>
<div class="t tk" style="left:481.2px;top:483.7px;width:0;"><span style="position:absolute;transform:translateX(-50%)">2001</span></div>
<div class="t tk" style="left:516.8px;top:483.7px;width:0;"><span style="position:absolute;transform:translateX(-50%)">2005</span></div>
<div class="t tk" style="left:559.3px;top:483.7px;width:0;"><span style="position:absolute;transform:translateX(-50%)">2009</span></div>
<div class="t tk" style="left:601.9px;top:483.7px;width:0;"><span style="position:absolute;transform:translateX(-50%)">2013</span></div>
<div class="t tk" style="left:641.1px;top:483.7px;width:0;"><span style="position:absolute;transform:translateX(-50%)">2017</span></div>
<div class="t tk" style="left:673.6px;top:483.7px;width:0;"><span style="position:absolute;transform:translateX(-50%)">2019</span></div>
<div class="t tk" style="right:679.8px;top:362.6px;">4</div>
<div class="t tk" style="right:679.8px;top:389.1px;">8</div>
<div class="t tk" style="right:679.8px;top:415.6px;">16</div>
<div class="t tk" style="right:679.8px;top:442.1px;">32</div>
<div class="t tk" style="right:679.8px;top:468.6px;">64</div>
<div class="t tk" style="left:9.0px;top:423.4px;width:0;height:0;"><span style="position:absolute;transform:translate(-50%,-50%) rotate(-90deg);">Period (month)</span></div>
<div style="position:absolute;left:685.6px;top:344.3px;width:8.6px;height:138.8px;background:linear-gradient(to bottom,#f9fb15,#f5e825,#fad42e,#fec13a,#eaba31,#c8c129,#9fc942,#71cd64,#48cb86,#2fc5a2,#12beb9,#05b6ce,#1caadf,#259ce7,#2d8cf3,#347afd,#4367fd,#4755f6,#4743e7,#4433cc,#3e26a8);box-shadow:0 0 0 0.5px #999;"></div>
<div class="t cb" style="left:694.8px;top:474.3px;">0</div>
<div class="t cb" style="left:694.8px;top:461.1px;">0.1</div>
<div class="t cb" style="left:694.8px;top:447.8px;">0.2</div>
<div class="t cb" style="left:694.8px;top:434.6px;">0.3</div>
<div class="t cb" style="left:694.8px;top:421.4px;">0.4</div>
<div class="t cb" style="left:694.8px;top:408.2px;">0.5</div>
<div class="t cb" style="left:694.8px;top:395.0px;">0.6</div>
<div class="t cb" style="left:694.8px;top:381.8px;">0.7</div>
<div class="t cb" style="left:694.8px;top:368.5px;">0.8</div>
<div class="t cb" style="left:694.8px;top:355.3px;">0.9</div>
<div class="t cb" style="left:694.8px;top:342.1px;">1</div>
<svg class="p" style="left:32.00px;top:508.50px;width:213.90px;height:135.50px" viewBox="0 0 214 137" preserveAspectRatio="none">
<clipPath id="cld1"><rect x="0" y="0" width="214" height="137"/></clipPath>
<filter id="xtd1" x="-10" y="-10" width="234" height="157" filterUnits="userSpaceOnUse" color-interpolation-filters="sRGB"><feTurbulence type="turbulence" baseFrequency="0.07 0.015" numOctaves="2" seed="40"/><feColorMatrix type="matrix" values="1.1 0 0 0 0  1.1 0 0 0 0  1.1 0 0 0 0  0 0 0 0 1"/></filter>
<filter id="xmd1" x="-10" y="-10" width="234" height="157" filterUnits="userSpaceOnUse" color-interpolation-filters="sRGB"><feTurbulence type="turbulence" baseFrequency="0.035 0.03" numOctaves="2" seed="140"/><feColorMatrix type="matrix" values="1.1 0 0 0 0  1.1 0 0 0 0  1.1 0 0 0 0  0 0 0 0 1"/></filter>
<filter id="xbd1" x="-10" y="-10" width="234" height="157" filterUnits="userSpaceOnUse" color-interpolation-filters="sRGB"><feTurbulence type="turbulence" baseFrequency="0.01 0.05" numOctaves="2" seed="240"/><feColorMatrix type="matrix" values="1.1 0 0 0 0  1.1 0 0 0 0  1.1 0 0 0 0  0 0 0 0 1"/></filter>
<g clip-path="url(#cld1)">
<filter id="thrd1" x="-10" y="-10" width="234" height="157" filterUnits="userSpaceOnUse" color-interpolation-filters="sRGB"><feGaussianBlur stdDeviation="1.3"/><feComponentTransfer><feFuncR type="discrete" tableValues="0 1"/><feFuncG type="discrete" tableValues="0 1"/><feFuncB type="discrete" tableValues="0 1"/><feFuncA type="linear" slope="0" intercept="1"/></feComponentTransfer></filter>
<mask id="mkd1" maskUnits="userSpaceOnUse" x="-10" y="-10" width="234" height="157"><g filter="url(#thrd1)"><use href="#rawd1"/></g></mask>
<g filter="url(#par)"><g id="rawd1">
<rect x="-10" y="-10" width="234" height="157" fill="#333333"/><g mask="url(#mtop)"><rect x="-10" y="-10" width="234" height="157" filter="url(#xtd1)"/></g><g mask="url(#mmid)"><rect x="-10" y="-10" width="234" height="157" filter="url(#xmd1)"/></g><g mask="url(#mbot)"><rect x="-10" y="-10" width="234" height="157" filter="url(#xbd1)"/></g><g filter="url(#bl2)" opacity="0.9"><ellipse cx="12.5" cy="8.7" rx="4.2" ry="10.2" fill="#141414" transform="rotate(0 12.5 8.7)"/><ellipse cx="27.6" cy="15.5" rx="5.0" ry="17.0" fill="#0f0f0f" transform="rotate(0 27.6 15.5)"/><ellipse cx="61.3" cy="12.1" rx="8.4" ry="11.9" fill="#141414" transform="rotate(0 61.3 12.1)"/><ellipse cx="20.9" cy="48.7" rx="13.5" ry="6.0" fill="#0a0a0a" transform="rotate(0 20.9 48.7)"/><ellipse cx="46.1" cy="44.4" rx="8.4" ry="11.9" fill="#0d0d0d" transform="rotate(0 46.1 44.4)"/><ellipse cx="86.5" cy="58.0" rx="8.4" ry="8.5" fill="#0d0d0d" transform="rotate(0 86.5 58.0)"/><ellipse cx="79.8" cy="85.3" rx="33.7" ry="8.5" fill="#0a0a0a" transform="rotate(0 79.8 85.3)"/><ellipse cx="18.4" cy="4.4" rx="2.5" ry="6.8" fill="#999999" transform="rotate(0 18.4 4.4)"/><ellipse cx="44.4" cy="3.6" rx="2.0" ry="6.0" fill="#999999" transform="rotate(0 44.4 3.6)"/><ellipse cx="73.1" cy="17.2" rx="2.0" ry="6.8" fill="#8c8c8c" transform="rotate(0 73.1 17.2)"/><ellipse cx="63.0" cy="66.5" rx="18.5" ry="6.8" fill="#737373" transform="rotate(0 63.0 66.5)"/><ellipse cx="32.7" cy="66.5" rx="16.8" ry="8.5" fill="#666666" transform="rotate(0 32.7 66.5)"/><ellipse cx="30.1" cy="82.7" rx="6.7" ry="11.9" fill="#999999" transform="rotate(0 30.1 82.7)"/><rect x="32.7" y="96.3" width="191.3" height="12.8" fill="#808080"/><rect x="-10.0" y="69.9" width="34.2" height="23.8" fill="#666666"/><rect x="-10.0" y="93.8" width="56.1" height="20.4" fill="#666666"/><rect x="-10.0" y="114.2" width="234.0" height="25.5" fill="#d9d9d9"/><ellipse cx="122.2" cy="8.7" rx="5.0" ry="10.2" fill="#0f0f0f" transform="rotate(0 122.2 8.7)"/><ellipse cx="144.1" cy="17.2" rx="6.7" ry="15.3" fill="#0f0f0f" transform="rotate(0 144.1 17.2)"/><ellipse cx="177.7" cy="18.0" rx="6.7" ry="11.1" fill="#0f0f0f" transform="rotate(0 177.7 18.0)"/><ellipse cx="192.9" cy="24.0" rx="5.0" ry="8.5" fill="#141414" transform="rotate(0 192.9 24.0)"/><ellipse cx="140.7" cy="49.5" rx="23.6" ry="5.1" fill="#0a0a0a" transform="rotate(0 140.7 49.5)"/><ellipse cx="145.8" cy="69.9" rx="8.4" ry="6.8" fill="#0d0d0d" transform="rotate(0 145.8 69.9)"/><ellipse cx="176.9" cy="72.5" rx="14.3" ry="6.0" fill="#0a0a0a" transform="rotate(0 176.9 72.5)"/><ellipse cx="143.2" cy="92.9" rx="36.2" ry="4.3" fill="#0a0a0a" transform="rotate(0 143.2 92.9)"/><ellipse cx="160.9" cy="37.6" rx="13.5" ry="5.1" fill="#737373" transform="rotate(0 160.9 37.6)"/><ellipse cx="134.0" cy="82.7" rx="23.6" ry="6.0" fill="#808080" transform="rotate(0 134.0 82.7)"/><ellipse cx="132.3" cy="105.7" rx="25.2" ry="5.1" fill="#808080" transform="rotate(0 132.3 105.7)"/><ellipse cx="112.1" cy="44.4" rx="5.0" ry="13.6" fill="#8c8c8c" transform="rotate(0 112.1 44.4)"/><rect x="201.3" y="-1.5" width="22.7" height="119.1" fill="#4c4c4c"/><rect x="22.9" y="115.9" width="201.1" height="23.8" fill="#d9d9d9"/></g><ellipse cx="66.3" cy="35.1" rx="11.4" ry="9.4" fill="#9e9e9e" stroke="#9e9e9e" stroke-width="5" transform="rotate(0 66.3 35.1)"/><ellipse cx="66.3" cy="35.1" rx="11.4" ry="9.4" fill="#dedede" transform="rotate(0 66.3 35.1)"/><ellipse cx="100.0" cy="42.7" rx="8.4" ry="6.8" fill="#9e9e9e" stroke="#9e9e9e" stroke-width="5" transform="rotate(0 100.0 42.7)"/><ellipse cx="100.0" cy="42.7" rx="8.4" ry="6.8" fill="#dedede" transform="rotate(0 100.0 42.7)"/><ellipse cx="20.9" cy="36.8" rx="4.2" ry="3.4" fill="#9e9e9e" stroke="#9e9e9e" stroke-width="5" transform="rotate(0 20.9 36.8)"/><ellipse cx="20.9" cy="36.8" rx="4.2" ry="3.4" fill="#dedede" transform="rotate(0 20.9 36.8)"/><ellipse cx="38.6" cy="16.3" rx="3.7" ry="3.7" fill="#9e9e9e" stroke="#9e9e9e" stroke-width="5" transform="rotate(0 38.6 16.3)"/><ellipse cx="38.6" cy="16.3" rx="3.7" ry="3.7" fill="#dedede" transform="rotate(0 38.6 16.3)"/><ellipse cx="47.0" cy="12.9" rx="3.0" ry="4.3" fill="#9e9e9e" stroke="#9e9e9e" stroke-width="5" transform="rotate(0 47.0 12.9)"/><ellipse cx="47.0" cy="12.9" rx="3.0" ry="4.3" fill="#dedede" transform="rotate(0 47.0 12.9)"/><ellipse cx="78.9" cy="10.4" rx="2.0" ry="5.1" fill="#9e9e9e" stroke="#9e9e9e" stroke-width="5" transform="rotate(0 78.9 10.4)"/><ellipse cx="78.9" cy="10.4" rx="2.0" ry="5.1" fill="#dedede" transform="rotate(0 78.9 10.4)"/><ellipse cx="96.6" cy="20.6" rx="2.4" ry="2.4" fill="#a6a6a6" transform="rotate(0 96.6 20.6)"/><path d="M107.05,58.03 C109.07,56.47 112.66,55.62 115.47,55.48 C118.27,55.34 121.64,56.05 123.88,57.18 C126.12,58.32 128.65,60.44 128.93,62.29 C129.21,64.13 127.53,66.82 125.56,68.24 C123.60,69.66 120.23,70.37 117.15,70.79 C114.06,71.22 109.35,71.79 107.05,70.79 C104.75,69.80 103.35,66.97 103.35,64.84 C103.35,62.71 105.03,59.59 107.05,58.03 Z" fill="#9e9e9e" stroke="#9e9e9e" stroke-width="5" stroke-linejoin="round"/><path d="M107.05,58.03 C109.07,56.47 112.66,55.62 115.47,55.48 C118.27,55.34 121.64,56.05 123.88,57.18 C126.12,58.32 128.65,60.44 128.93,62.29 C129.21,64.13 127.53,66.82 125.56,68.24 C123.60,69.66 120.23,70.37 117.15,70.79 C114.06,71.22 109.35,71.79 107.05,70.79 C104.75,69.80 103.35,66.97 103.35,64.84 C103.35,62.71 105.03,59.59 107.05,58.03 Z" fill="#dedede"/><path d="M52.86,114.18 C56.50,109.22 65.70,110.44 74.74,109.93 C83.77,109.42 94.09,110.13 107.05,111.12 C120.01,112.11 131.23,114.81 152.49,115.88 C173.75,116.96 220.94,113.61 234.62,117.58 C248.31,121.55 264.92,136.02 234.62,139.70 C204.33,143.39 83.15,143.96 52.86,139.70 C22.56,135.45 49.21,119.14 52.86,114.18 Z" fill="#dedede"/><path d="M107.89,18.90 C108.59,17.34 110.98,16.77 112.10,17.20 C113.22,17.62 113.50,21.17 114.62,21.45 C115.75,21.74 117.57,18.76 118.83,18.90 C120.09,19.04 121.78,20.89 122.20,22.30 C122.62,23.72 122.20,26.13 121.36,27.41 C120.51,28.68 118.97,29.53 117.15,29.96 C115.32,30.39 111.96,30.53 110.42,29.96 C108.87,29.39 108.31,28.40 107.89,26.56 C107.47,24.71 107.19,20.46 107.89,18.90 Z" fill="#9e9e9e" stroke="#9e9e9e" stroke-width="5" stroke-linejoin="round"/><path d="M107.89,18.90 C108.59,17.34 110.98,16.77 112.10,17.20 C113.22,17.62 113.50,21.17 114.62,21.45 C115.75,21.74 117.57,18.76 118.83,18.90 C120.09,19.04 121.78,20.89 122.20,22.30 C122.62,23.72 122.20,26.13 121.36,27.41 C120.51,28.68 118.97,29.53 117.15,29.96 C115.32,30.39 111.96,30.53 110.42,29.96 C108.87,29.39 108.31,28.40 107.89,26.56 C107.47,24.71 107.19,20.46 107.89,18.90 Z" fill="#dedede"/><ellipse cx="163.4" cy="12.1" rx="3.0" ry="4.3" fill="#9e9e9e" stroke="#9e9e9e" stroke-width="5" transform="rotate(0 163.4 12.1)"/><ellipse cx="163.4" cy="12.1" rx="3.0" ry="4.3" fill="#dedede" transform="rotate(0 163.4 12.1)"/><ellipse cx="197.9" cy="5.3" rx="3.0" ry="5.1" fill="#9e9e9e" stroke="#9e9e9e" stroke-width="5" transform="rotate(0 197.9 5.3)"/><ellipse cx="197.9" cy="5.3" rx="3.0" ry="5.1" fill="#dedede" transform="rotate(0 197.9 5.3)"/>
</g></g>
<rect x="0" y="0" width="214" height="137" fill="url(#a135)" mask="url(#mkd1)"/>
<ellipse cx="66.3" cy="35.1" rx="11.4" ry="9.4" fill="none" stroke="#000" stroke-width="1.3" transform="rotate(0 66.3 35.1)"/><ellipse cx="100.0" cy="42.7" rx="8.4" ry="6.8" fill="none" stroke="#000" stroke-width="1.3" transform="rotate(0 100.0 42.7)"/><ellipse cx="20.9" cy="36.8" rx="4.2" ry="3.4" fill="none" stroke="#000" stroke-width="1.3" transform="rotate(0 20.9 36.8)"/><ellipse cx="38.6" cy="16.3" rx="3.7" ry="3.7" fill="none" stroke="#000" stroke-width="1.3" transform="rotate(0 38.6 16.3)"/><ellipse cx="47.0" cy="12.9" rx="3.0" ry="4.3" fill="none" stroke="#000" stroke-width="1.3" transform="rotate(0 47.0 12.9)"/><ellipse cx="78.9" cy="10.4" rx="2.0" ry="5.1" fill="none" stroke="#000" stroke-width="1.3" transform="rotate(0 78.9 10.4)"/><path d="M107.05,58.03 C109.07,56.47 112.66,55.62 115.47,55.48 C118.27,55.34 121.64,56.05 123.88,57.18 C126.12,58.32 128.65,60.44 128.93,62.29 C129.21,64.13 127.53,66.82 125.56,68.24 C123.60,69.66 120.23,70.37 117.15,70.79 C114.06,71.22 109.35,71.79 107.05,70.79 C104.75,69.80 103.35,66.97 103.35,64.84 C103.35,62.71 105.03,59.59 107.05,58.03 Z" fill="none" stroke="#000" stroke-width="1.3"/><path d="M-1.00,116.73 C7.98,116.31 40.23,115.32 52.86,114.18 C65.48,113.05 65.70,110.44 74.74,109.93 C83.77,109.42 94.09,110.13 107.05,111.12 C120.01,112.11 136.84,114.81 152.49,115.88 C168.14,116.96 192.88,117.30 200.96,117.58" fill="none" stroke="#000" stroke-width="1.2"/><path d="M-1.00,114.18 C7.98,109.93 43.88,109.93 52.86,114.18 C61.83,118.43 61.83,135.45 52.86,139.70 C43.88,143.96 7.98,143.96 -1.00,139.70 C-9.98,135.45 -9.98,118.43 -1.00,114.18 Z" fill="url(#a270)"/><path d="M107.89,18.90 C108.59,17.34 110.98,16.77 112.10,17.20 C113.22,17.62 113.50,21.17 114.62,21.45 C115.75,21.74 117.57,18.76 118.83,18.90 C120.09,19.04 121.78,20.89 122.20,22.30 C122.62,23.72 122.20,26.13 121.36,27.41 C120.51,28.68 118.97,29.53 117.15,29.96 C115.32,30.39 111.96,30.53 110.42,29.96 C108.87,29.39 108.31,28.40 107.89,26.56 C107.47,24.71 107.19,20.46 107.89,18.90 Z" fill="none" stroke="#000" stroke-width="1.3"/><ellipse cx="163.4" cy="12.1" rx="3.0" ry="4.3" fill="none" stroke="#000" stroke-width="1.3" transform="rotate(0 163.4 12.1)"/><ellipse cx="197.9" cy="5.3" rx="3.0" ry="5.1" fill="none" stroke="#000" stroke-width="1.3" transform="rotate(0 197.9 5.3)"/><path d="M107.05,117.58 C109.86,117.02 116.31,114.46 123.88,114.18 C131.45,113.90 147.72,115.60 152.49,115.88" fill="none" stroke="#000" stroke-width="1.1"/>
<path d="M-2,-2 L216.0,-2 L216.0,139.0 L-2,139.0 Z M2.90,0.00 L3.08,2.29 L3.26,4.58 L3.46,6.87 L3.67,9.17 L3.90,11.46 L4.13,13.75 L4.38,16.04 L4.65,18.33 L4.93,20.62 L5.23,22.92 L5.55,25.21 L5.89,27.50 L6.25,29.79 L6.63,32.08 L7.03,34.38 L7.46,36.67 L7.91,38.96 L8.39,41.25 L8.91,43.54 L9.45,45.83 L10.02,48.12 L10.63,50.42 L11.28,52.71 L11.96,55.00 L12.69,57.29 L13.46,59.58 L14.28,61.88 L15.15,64.17 L16.07,66.46 L17.05,68.75 L18.09,71.04 L19.19,73.33 L20.36,75.63 L21.59,77.92 L22.91,80.21 L24.30,82.50 L25.78,84.79 L27.35,87.08 L29.01,89.38 L30.78,91.67 L32.65,93.96 L34.63,96.25 L36.74,98.54 L38.98,100.83 L41.35,103.12 L43.86,105.42 L46.53,107.71 L49.36,110.00 L52.36,112.29 L55.55,114.58 L58.93,116.88 L62.51,119.17 L66.31,121.46 L70.35,123.75 L74.63,126.04 L79.17,128.33 L83.98,130.62 L89.09,132.92 L94.51,135.21 L100.26,137.50 L113.74,137.50 L119.49,135.21 L124.91,132.92 L130.02,130.62 L134.83,128.33 L139.37,126.04 L143.65,123.75 L147.69,121.46 L151.49,119.17 L155.07,116.88 L158.45,114.58 L161.64,112.29 L164.64,110.00 L167.47,107.71 L170.14,105.42 L172.65,103.12 L175.02,100.83 L177.26,98.54 L179.37,96.25 L181.35,93.96 L183.22,91.67 L184.99,89.38 L186.65,87.08 L188.22,84.79 L189.70,82.50 L191.09,80.21 L192.41,77.92 L193.64,75.63 L194.81,73.33 L195.91,71.04 L196.95,68.75 L197.93,66.46 L198.85,64.17 L199.72,61.88 L200.54,59.58 L201.31,57.29 L202.04,55.00 L202.72,52.71 L203.37,50.42 L203.98,48.12 L204.55,45.83 L205.09,43.54 L205.61,41.25 L206.09,38.96 L206.54,36.67 L206.97,34.38 L207.37,32.08 L207.75,29.79 L208.11,27.50 L208.45,25.21 L208.77,22.92 L209.07,20.62 L209.35,18.33 L209.62,16.04 L209.87,13.75 L210.10,11.46 L210.33,9.17 L210.54,6.87 L210.74,4.58 L210.92,2.29 L211.10,0.00 Z" fill="#fff" fill-opacity="0.5" fill-rule="evenodd"/>

<path d="M2.90,0.00 L3.08,2.29 L3.26,4.58 L3.46,6.87 L3.67,9.17 L3.90,11.46 L4.13,13.75 L4.38,16.04 L4.65,18.33 L4.93,20.62 L5.23,22.92 L5.55,25.21 L5.89,27.50 L6.25,29.79 L6.63,32.08 L7.03,34.38 L7.46,36.67 L7.91,38.96 L8.39,41.25 L8.91,43.54 L9.45,45.83 L10.02,48.12 L10.63,50.42 L11.28,52.71 L11.96,55.00 L12.69,57.29 L13.46,59.58 L14.28,61.88 L15.15,64.17 L16.07,66.46 L17.05,68.75 L18.09,71.04 L19.19,73.33 L20.36,75.63 L21.59,77.92 L22.91,80.21 L24.30,82.50 L25.78,84.79 L27.35,87.08 L29.01,89.38 L30.78,91.67 L32.65,93.96 L34.63,96.25 L36.74,98.54 L38.98,100.83 L41.35,103.12 L43.86,105.42 L46.53,107.71 L49.36,110.00 L52.36,112.29 L55.55,114.58 L58.93,116.88 L62.51,119.17 L66.31,121.46 L70.35,123.75 L74.63,126.04 L79.17,128.33 L83.98,130.62 L89.09,132.92 L94.51,135.21 L100.26,137.50 L113.74,137.50 L119.49,135.21 L124.91,132.92 L130.02,130.62 L134.83,128.33 L139.37,126.04 L143.65,123.75 L147.69,121.46 L151.49,119.17 L155.07,116.88 L158.45,114.58 L161.64,112.29 L164.64,110.00 L167.47,107.71 L170.14,105.42 L172.65,103.12 L175.02,100.83 L177.26,98.54 L179.37,96.25 L181.35,93.96 L183.22,91.67 L184.99,89.38 L186.65,87.08 L188.22,84.79 L189.70,82.50 L191.09,80.21 L192.41,77.92 L193.64,75.63 L194.81,73.33 L195.91,71.04 L196.95,68.75 L197.93,66.46 L198.85,64.17 L199.72,61.88 L200.54,59.58 L201.31,57.29 L202.04,55.00 L202.72,52.71 L203.37,50.42 L203.98,48.12 L204.55,45.83 L205.09,43.54 L205.61,41.25 L206.09,38.96 L206.54,36.67 L206.97,34.38 L207.37,32.08 L207.75,29.79 L208.11,27.50 L208.45,25.21 L208.77,22.92 L209.07,20.62 L209.35,18.33 L209.62,16.04 L209.87,13.75 L210.10,11.46 L210.33,9.17 L210.54,6.87 L210.74,4.58 L210.92,2.29 L211.10,0.00 Z" fill="none" stroke="#222" stroke-width="0.6"/>
</g>
<rect x="0.3" y="0.3" width="213.4" height="136.4" fill="none" stroke="#777" stroke-width="0.8"/>
</svg>
<div class="t ti" style="left:78.1px;top:495.7px;">(d-1) PDO-DPC4</div>
<div class="t tk" style="left:44.9px;top:648.2px;width:0;"><span style="position:absolute;transform:translateX(-50%)">2001</span></div>
<div class="t tk" style="left:80.5px;top:648.2px;width:0;"><span style="position:absolute;transform:translateX(-50%)">2005</span></div>
<div class="t tk" style="left:123.0px;top:648.2px;width:0;"><span style="position:absolute;transform:translateX(-50%)">2009</span></div>
<div class="t tk" style="left:165.4px;top:648.2px;width:0;"><span style="position:absolute;transform:translateX(-50%)">2013</span></div>
<div class="t tk" style="left:204.6px;top:648.2px;width:0;"><span style="position:absolute;transform:translateX(-50%)">2017</span></div>
<div class="t tk" style="left:237.1px;top:648.2px;width:0;"><span style="position:absolute;transform:translateX(-50%)">2019</span></div>
<svg class="p" style="left:253.60px;top:508.50px;width:208.10px;height:135.50px" viewBox="0 0 214 137" preserveAspectRatio="none">
<clipPath id="cld2"><rect x="0" y="0" width="214" height="137"/></clipPath>
<filter id="xtd2" x="-10" y="-10" width="234" height="157" filterUnits="userSpaceOnUse" color-interpolation-filters="sRGB"><feTurbulence type="turbulence" baseFrequency="0.07 0.015" numOctaves="2" seed="41"/><feColorMatrix type="matrix" values="1.1 0 0 0 0  1.1 0 0 0 0  1.1 0 0 0 0  0 0 0 0 1"/></filter>
<filter id="xmd2" x="-10" y="-10" width="234" height="157" filterUnits="userSpaceOnUse" color-interpolation-filters="sRGB"><feTurbulence type="turbulence" baseFrequency="0.035 0.03" numOctaves="2" seed="141"/><feColorMatrix type="matrix" values="1.1 0 0 0 0  1.1 0 0 0 0  1.1 0 0 0 0  0 0 0 0 1"/></filter>
<filter id="xbd2" x="-10" y="-10" width="234" height="157" filterUnits="userSpaceOnUse" color-interpolation-filters="sRGB"><feTurbulence type="turbulence" baseFrequency="0.01 0.05" numOctaves="2" seed="241"/><feColorMatrix type="matrix" values="1.1 0 0 0 0  1.1 0 0 0 0  1.1 0 0 0 0  0 0 0 0 1"/></filter>
<g clip-path="url(#cld2)">
<filter id="thrd2" x="-10" y="-10" width="234" height="157" filterUnits="userSpaceOnUse" color-interpolation-filters="sRGB"><feGaussianBlur stdDeviation="1.3"/><feComponentTransfer><feFuncR type="discrete" tableValues="0 1"/><feFuncG type="discrete" tableValues="0 1"/><feFuncB type="discrete" tableValues="0 1"/><feFuncA type="linear" slope="0" intercept="1"/></feComponentTransfer></filter>
<mask id="mkd2" maskUnits="userSpaceOnUse" x="-10" y="-10" width="234" height="157"><g filter="url(#thrd2)"><use href="#rawd2"/></g></mask>
<g filter="url(#par)"><g id="rawd2">
<rect x="-10" y="-10" width="234" height="157" fill="#333333"/><g mask="url(#mtop)"><rect x="-10" y="-10" width="234" height="157" filter="url(#xtd2)"/></g><g mask="url(#mmid)"><rect x="-10" y="-10" width="234" height="157" filter="url(#xmd2)"/></g><g mask="url(#mbot)"><rect x="-10" y="-10" width="234" height="157" filter="url(#xbd2)"/></g><g filter="url(#bl2)" opacity="0.9"><ellipse cx="24.3" cy="15.5" rx="10.4" ry="10.2" fill="#0f0f0f" transform="rotate(0 24.3 15.5)"/><ellipse cx="38.1" cy="10.4" rx="5.2" ry="8.5" fill="#0f0f0f" transform="rotate(0 38.1 10.4)"/><ellipse cx="57.2" cy="8.7" rx="6.9" ry="8.5" fill="#121212" transform="rotate(0 57.2 8.7)"/><ellipse cx="90.0" cy="17.2" rx="5.2" ry="15.3" fill="#121212" transform="rotate(0 90.0 17.2)"/><ellipse cx="103.9" cy="17.2" rx="5.2" ry="13.6" fill="#121212" transform="rotate(0 103.9 17.2)"/><ellipse cx="41.6" cy="52.1" rx="25.9" ry="4.3" fill="#0a0a0a" transform="rotate(0 41.6 52.1)"/><ellipse cx="49.4" cy="68.2" rx="6.1" ry="11.9" fill="#0d0d0d" transform="rotate(0 49.4 68.2)"/><ellipse cx="41.6" cy="85.3" rx="25.9" ry="5.1" fill="#0d0d0d" transform="rotate(0 41.6 85.3)"/><ellipse cx="77.9" cy="13.8" rx="3.5" ry="15.3" fill="#999999" transform="rotate(0 77.9 13.8)"/><ellipse cx="86.6" cy="67.4" rx="22.5" ry="12.8" fill="#8c8c8c" transform="rotate(0 86.6 67.4)"/><ellipse cx="79.7" cy="47.0" rx="29.4" ry="7.7" fill="#737373" transform="rotate(0 79.7 47.0)"/><ellipse cx="50.3" cy="97.2" rx="10.4" ry="4.3" fill="#737373" transform="rotate(0 50.3 97.2)"/><ellipse cx="10.5" cy="73.3" rx="12.1" ry="6.8" fill="#8c8c8c" transform="rotate(0 10.5 73.3)"/><rect x="71.0" y="90.4" width="153.0" height="11.9" fill="#0a0a0a"/><rect x="50.3" y="107.4" width="173.7" height="10.2" fill="#999999"/><rect x="-10.0" y="117.6" width="234.0" height="22.1" fill="#d9d9d9"/><rect x="-10.0" y="83.6" width="51.6" height="10.2" fill="#1f1f1f"/><rect x="-10.0" y="93.8" width="60.3" height="23.8" fill="#666666"/><ellipse cx="115.7" cy="12.1" rx="6.9" ry="13.6" fill="#141414" transform="rotate(0 115.7 12.1)"/><ellipse cx="127.8" cy="12.1" rx="5.2" ry="10.2" fill="#121212" transform="rotate(0 127.8 12.1)"/><ellipse cx="154.6" cy="43.6" rx="6.1" ry="6.0" fill="#0d0d0d" transform="rotate(0 154.6 43.6)"/><ellipse cx="172.8" cy="45.3" rx="6.9" ry="4.3" fill="#0d0d0d" transform="rotate(0 172.8 45.3)"/><ellipse cx="138.2" cy="68.2" rx="12.1" ry="6.8" fill="#0a0a0a" transform="rotate(0 138.2 68.2)"/><ellipse cx="144.2" cy="97.2" rx="38.9" ry="6.8" fill="#080808" transform="rotate(0 144.2 97.2)"/><ellipse cx="131.3" cy="56.3" rx="25.9" ry="6.8" fill="#737373" transform="rotate(0 131.3 56.3)"/><ellipse cx="165.9" cy="76.7" rx="17.3" ry="13.6" fill="#737373" transform="rotate(0 165.9 76.7)"/><ellipse cx="115.7" cy="77.6" rx="10.4" ry="6.0" fill="#999999" transform="rotate(0 115.7 77.6)"/><ellipse cx="157.2" cy="112.5" rx="51.9" ry="4.3" fill="#8c8c8c" transform="rotate(0 157.2 112.5)"/><rect x="205.6" y="-1.5" width="18.4" height="51.0" fill="#1f1f1f"/><rect x="183.2" y="90.4" width="40.8" height="23.8" fill="#1a1a1a"/><rect x="18.8" y="115.9" width="205.2" height="23.8" fill="#d9d9d9"/></g><path d="M13.92,32.51 C14.79,30.53 16.81,29.25 19.11,29.11 C21.42,28.97 25.02,30.95 27.76,31.66 C30.50,32.37 33.67,32.37 35.55,33.36 C37.42,34.36 38.72,35.92 39.01,37.62 C39.30,39.32 38.86,42.30 37.28,43.57 C35.69,44.85 32.52,45.13 29.49,45.27 C26.47,45.41 21.71,45.13 19.11,44.42 C16.52,43.71 14.79,43.00 13.92,41.02 C13.06,39.03 13.06,34.50 13.92,32.51 Z" fill="#9e9e9e" stroke="#9e9e9e" stroke-width="5" stroke-linejoin="round"/><path d="M13.92,32.51 C14.79,30.53 16.81,29.25 19.11,29.11 C21.42,28.97 25.02,30.95 27.76,31.66 C30.50,32.37 33.67,32.37 35.55,33.36 C37.42,34.36 38.72,35.92 39.01,37.62 C39.30,39.32 38.86,42.30 37.28,43.57 C35.69,44.85 32.52,45.13 29.49,45.27 C26.47,45.41 21.71,45.13 19.11,44.42 C16.52,43.71 14.79,43.00 13.92,41.02 C13.06,39.03 13.06,34.50 13.92,32.51 Z" fill="#dedede"/><path d="M56.31,37.62 C56.31,36.48 57.03,34.92 58.90,34.21 C60.78,33.50 64.67,33.08 67.55,33.36 C70.44,33.65 73.61,34.36 76.20,35.92 C78.80,37.47 81.25,40.17 83.12,42.72 C85.00,45.27 87.16,48.68 87.45,51.23 C87.73,53.78 86.15,57.47 84.85,58.03 C83.55,58.60 81.39,56.33 79.66,54.63 C77.93,52.93 76.49,49.67 74.47,47.83 C72.45,45.98 70.15,44.71 67.55,43.57 C64.96,42.44 60.78,42.01 58.90,41.02 C57.03,40.03 56.31,38.75 56.31,37.62 Z" fill="#9e9e9e" stroke="#9e9e9e" stroke-width="5" stroke-linejoin="round"/><path d="M56.31,37.62 C56.31,36.48 57.03,34.92 58.90,34.21 C60.78,33.50 64.67,33.08 67.55,33.36 C70.44,33.65 73.61,34.36 76.20,35.92 C78.80,37.47 81.25,40.17 83.12,42.72 C85.00,45.27 87.16,48.68 87.45,51.23 C87.73,53.78 86.15,57.47 84.85,58.03 C83.55,58.60 81.39,56.33 79.66,54.63 C77.93,52.93 76.49,49.67 74.47,47.83 C72.45,45.98 70.15,44.71 67.55,43.57 C64.96,42.44 60.78,42.01 58.90,41.02 C57.03,40.03 56.31,38.75 56.31,37.62 Z" fill="#dedede"/><path d="M19.11,68.24 C19.83,66.12 20.84,63.71 22.57,62.29 C24.30,60.87 26.90,60.02 29.49,59.74 C32.09,59.45 35.98,59.45 38.14,60.59 C40.31,61.72 42.04,64.41 42.47,66.54 C42.90,68.67 42.32,71.65 40.74,73.35 C39.15,75.05 35.69,76.13 32.95,76.75 C30.21,77.37 26.75,77.37 24.30,77.09 C21.85,76.81 19.11,76.52 18.25,75.05 C17.38,73.57 18.39,70.37 19.11,68.24 Z" fill="#9e9e9e" stroke="#9e9e9e" stroke-width="5" stroke-linejoin="round"/><path d="M19.11,68.24 C19.83,66.12 20.84,63.71 22.57,62.29 C24.30,60.87 26.90,60.02 29.49,59.74 C32.09,59.45 35.98,59.45 38.14,60.59 C40.31,61.72 42.04,64.41 42.47,66.54 C42.90,68.67 42.32,71.65 40.74,73.35 C39.15,75.05 35.69,76.13 32.95,76.75 C30.21,77.37 26.75,77.37 24.30,77.09 C21.85,76.81 19.11,76.52 18.25,75.05 C17.38,73.57 18.39,70.37 19.11,68.24 Z" fill="#dedede"/><ellipse cx="24.3" cy="3.6" rx="2.1" ry="4.8" fill="#9e9e9e" stroke="#9e9e9e" stroke-width="5" transform="rotate(0 24.3 3.6)"/><ellipse cx="24.3" cy="3.6" rx="2.1" ry="4.8" fill="#dedede" transform="rotate(0 24.3 3.6)"/><ellipse cx="42.5" cy="24.9" rx="2.4" ry="3.4" fill="#9e9e9e" transform="rotate(0 42.5 24.9)"/><ellipse cx="74.5" cy="12.1" rx="1.4" ry="2.6" fill="#999999" transform="rotate(0 74.5 12.1)"/><path d="M67.55,120.99 C71.01,117.53 81.33,119.37 88.31,118.95 C95.29,118.52 102.50,118.66 109.42,118.43 C116.34,118.21 110.86,117.73 129.83,117.58 C148.80,117.44 207.68,113.90 223.25,117.58 C238.82,121.27 249.20,136.02 223.25,139.70 C197.30,143.39 93.50,142.82 67.55,139.70 C41.60,136.58 64.09,124.45 67.55,120.99 Z" fill="#dedede"/><path d="M195.26,49.53 C198.72,43.29 212.56,43.29 216.02,49.53 C219.48,55.77 219.48,80.72 216.02,86.96 C212.56,93.20 198.72,93.20 195.26,86.96 C191.80,80.72 191.80,55.77 195.26,49.53 Z" fill="#d9d9d9"/><path d="M195.26,54.63 C196.85,53.92 199.58,53.78 201.31,53.78 C203.04,53.78 204.92,53.07 205.64,54.63 C206.36,56.19 206.79,60.87 205.64,63.14 C204.49,65.41 201.03,65.69 198.72,68.24 C196.41,70.79 194.11,75.90 191.80,78.45 C189.49,81.00 186.75,82.99 184.88,83.56 C183.01,84.12 181.13,83.27 180.56,81.85 C179.98,80.44 180.41,77.60 181.42,75.05 C182.43,72.50 184.88,69.38 186.61,66.54 C188.34,63.71 190.36,60.02 191.80,58.03 C193.24,56.05 193.67,55.34 195.26,54.63 Z" fill="#9e9e9e" stroke="#9e9e9e" stroke-width="5" stroke-linejoin="round"/><path d="M195.26,54.63 C196.85,53.92 199.58,53.78 201.31,53.78 C203.04,53.78 204.92,53.07 205.64,54.63 C206.36,56.19 206.79,60.87 205.64,63.14 C204.49,65.41 201.03,65.69 198.72,68.24 C196.41,70.79 194.11,75.90 191.80,78.45 C189.49,81.00 186.75,82.99 184.88,83.56 C183.01,84.12 181.13,83.27 180.56,81.85 C179.98,80.44 180.41,77.60 181.42,75.05 C182.43,72.50 184.88,69.38 186.61,66.54 C188.34,63.71 190.36,60.02 191.80,58.03 C193.24,56.05 193.67,55.34 195.26,54.63 Z" fill="#dedede"/><ellipse cx="166.7" cy="9.5" rx="3.8" ry="10.2" fill="#9e9e9e" stroke="#9e9e9e" stroke-width="5" transform="rotate(0 166.7 9.5)"/><ellipse cx="166.7" cy="9.5" rx="3.8" ry="10.2" fill="#dedede" transform="rotate(0 166.7 9.5)"/><ellipse cx="176.2" cy="3.6" rx="2.1" ry="5.1" fill="#9e9e9e" stroke="#9e9e9e" stroke-width="5" transform="rotate(0 176.2 3.6)"/><ellipse cx="176.2" cy="3.6" rx="2.1" ry="5.1" fill="#dedede" transform="rotate(0 176.2 3.6)"/><ellipse cx="184.0" cy="6.1" rx="2.1" ry="6.8" fill="#9e9e9e" stroke="#9e9e9e" stroke-width="5" transform="rotate(0 184.0 6.1)"/><ellipse cx="184.0" cy="6.1" rx="2.1" ry="6.8" fill="#dedede" transform="rotate(0 184.0 6.1)"/><ellipse cx="193.5" cy="6.1" rx="3.1" ry="6.8" fill="#9e9e9e" stroke="#9e9e9e" stroke-width="5" transform="rotate(0 193.5 6.1)"/><ellipse cx="193.5" cy="6.1" rx="3.1" ry="6.8" fill="#dedede" transform="rotate(0 193.5 6.1)"/><ellipse cx="203.0" cy="23.2" rx="3.1" ry="7.7" fill="#9e9e9e" stroke="#9e9e9e" stroke-width="5" transform="rotate(0 203.0 23.2)"/><ellipse cx="203.0" cy="23.2" rx="3.1" ry="7.7" fill="#dedede" transform="rotate(0 203.0 23.2)"/><ellipse cx="138.2" cy="15.5" rx="2.1" ry="6.0" fill="#9e9e9e" stroke="#9e9e9e" stroke-width="5" transform="rotate(0 138.2 15.5)"/><ellipse cx="138.2" cy="15.5" rx="2.1" ry="6.0" fill="#bfbfbf" transform="rotate(0 138.2 15.5)"/><ellipse cx="190.9" cy="36.8" rx="2.6" ry="3.7" fill="#a6a6a6" transform="rotate(0 190.9 36.8)"/>
</g></g>
<rect x="0" y="0" width="214" height="137" fill="url(#a0)" mask="url(#mkd2)"/>
<path d="M13.92,32.51 C14.79,30.53 16.81,29.25 19.11,29.11 C21.42,28.97 25.02,30.95 27.76,31.66 C30.50,32.37 33.67,32.37 35.55,33.36 C37.42,34.36 38.72,35.92 39.01,37.62 C39.30,39.32 38.86,42.30 37.28,43.57 C35.69,44.85 32.52,45.13 29.49,45.27 C26.47,45.41 21.71,45.13 19.11,44.42 C16.52,43.71 14.79,43.00 13.92,41.02 C13.06,39.03 13.06,34.50 13.92,32.51 Z" fill="none" stroke="#000" stroke-width="1.3"/><path d="M56.31,37.62 C56.31,36.48 57.03,34.92 58.90,34.21 C60.78,33.50 64.67,33.08 67.55,33.36 C70.44,33.65 73.61,34.36 76.20,35.92 C78.80,37.47 81.25,40.17 83.12,42.72 C85.00,45.27 87.16,48.68 87.45,51.23 C87.73,53.78 86.15,57.47 84.85,58.03 C83.55,58.60 81.39,56.33 79.66,54.63 C77.93,52.93 76.49,49.67 74.47,47.83 C72.45,45.98 70.15,44.71 67.55,43.57 C64.96,42.44 60.78,42.01 58.90,41.02 C57.03,40.03 56.31,38.75 56.31,37.62 Z" fill="none" stroke="#000" stroke-width="1.3"/><path d="M19.11,68.24 C19.83,66.12 20.84,63.71 22.57,62.29 C24.30,60.87 26.90,60.02 29.49,59.74 C32.09,59.45 35.98,59.45 38.14,60.59 C40.31,61.72 42.04,64.41 42.47,66.54 C42.90,68.67 42.32,71.65 40.74,73.35 C39.15,75.05 35.69,76.13 32.95,76.75 C30.21,77.37 26.75,77.37 24.30,77.09 C21.85,76.81 19.11,76.52 18.25,75.05 C17.38,73.57 18.39,70.37 19.11,68.24 Z" fill="none" stroke="#000" stroke-width="1.3"/><ellipse cx="24.3" cy="3.6" rx="2.1" ry="4.8" fill="none" stroke="#000" stroke-width="1.3" transform="rotate(0 24.3 3.6)"/><path d="M40.05,24.86 C40.05,23.72 41.66,21.45 42.47,21.45 C43.28,21.45 44.89,23.72 44.89,24.86 C44.89,25.99 43.28,28.26 42.47,28.26 C41.66,28.26 40.05,25.99 40.05,24.86 Z" fill="none" stroke="#000" stroke-width="1.1"/><path d="M64.09,54.63 C71.65,50.38 101.86,50.38 109.42,54.63 C116.97,58.88 116.97,75.90 109.42,80.15 C101.86,84.41 71.65,84.41 64.09,80.15 C56.54,75.90 56.54,58.88 64.09,54.63 Z" fill="url(#a0)"/><path d="M-1.65,122.69 C9.89,122.40 52.56,121.61 67.55,120.99 C82.54,120.36 81.33,119.37 88.31,118.95 C95.29,118.52 102.50,118.66 109.42,118.43 C116.34,118.21 119.51,117.58 129.83,117.58 C140.15,117.58 164.43,118.29 171.35,118.43" fill="none" stroke="#000" stroke-width="1.2"/><path d="M-1.65,117.58 C9.89,113.90 56.02,113.90 67.55,117.58 C79.09,121.27 79.09,136.02 67.55,139.70 C56.02,143.39 9.89,143.39 -1.65,139.70 C-13.18,136.02 -13.18,121.27 -1.65,117.58 Z" fill="url(#a315)"/><path d="M195.26,54.63 C196.85,53.92 199.58,53.78 201.31,53.78 C203.04,53.78 204.92,53.07 205.64,54.63 C206.36,56.19 206.79,60.87 205.64,63.14 C204.49,65.41 201.03,65.69 198.72,68.24 C196.41,70.79 194.11,75.90 191.80,78.45 C189.49,81.00 186.75,82.99 184.88,83.56 C183.01,84.12 181.13,83.27 180.56,81.85 C179.98,80.44 180.41,77.60 181.42,75.05 C182.43,72.50 184.88,69.38 186.61,66.54 C188.34,63.71 190.36,60.02 191.80,58.03 C193.24,56.05 193.67,55.34 195.26,54.63 Z" fill="none" stroke="#000" stroke-width="1.3"/><ellipse cx="166.7" cy="9.5" rx="3.8" ry="10.2" fill="none" stroke="#000" stroke-width="1.3" transform="rotate(0 166.7 9.5)"/><ellipse cx="176.2" cy="3.6" rx="2.1" ry="5.1" fill="none" stroke="#000" stroke-width="1.3" transform="rotate(0 176.2 3.6)"/><ellipse cx="184.0" cy="6.1" rx="2.1" ry="6.8" fill="none" stroke="#000" stroke-width="1.3" transform="rotate(0 184.0 6.1)"/><ellipse cx="193.5" cy="6.1" rx="3.1" ry="6.8" fill="none" stroke="#000" stroke-width="1.3" transform="rotate(0 193.5 6.1)"/><ellipse cx="203.0" cy="23.2" rx="3.1" ry="7.7" fill="none" stroke="#000" stroke-width="1.3" transform="rotate(0 203.0 23.2)"/><ellipse cx="138.2" cy="15.5" rx="2.1" ry="6.0" fill="none" stroke="#000" stroke-width="1.3" transform="rotate(0 138.2 15.5)"/><path d="M188.34,36.77 C188.34,35.52 190.07,33.02 190.94,33.02 C191.80,33.02 193.53,35.52 193.53,36.77 C193.53,38.01 191.80,40.51 190.94,40.51 C190.07,40.51 188.34,38.01 188.34,36.77 Z" fill="none" stroke="#000" stroke-width="1.1"/><path d="M105.30,71.65 C108.76,69.66 122.60,69.66 126.06,71.65 C129.52,73.63 129.52,81.57 126.06,83.56 C122.60,85.54 108.76,85.54 105.30,83.56 C101.84,81.57 101.84,73.63 105.30,71.65 Z" fill="url(#a0)"/>
<path d="M-2,-2 L216.0,-2 L216.0,139.0 L-2,139.0 Z M2.90,0.00 L3.08,2.29 L3.26,4.58 L3.46,6.87 L3.67,9.17 L3.90,11.46 L4.13,13.75 L4.38,16.04 L4.65,18.33 L4.93,20.62 L5.23,22.92 L5.55,25.21 L5.89,27.50 L6.25,29.79 L6.63,32.08 L7.03,34.38 L7.46,36.67 L7.91,38.96 L8.39,41.25 L8.91,43.54 L9.45,45.83 L10.02,48.12 L10.63,50.42 L11.28,52.71 L11.96,55.00 L12.69,57.29 L13.46,59.58 L14.28,61.88 L15.15,64.17 L16.07,66.46 L17.05,68.75 L18.09,71.04 L19.19,73.33 L20.36,75.63 L21.59,77.92 L22.91,80.21 L24.30,82.50 L25.78,84.79 L27.35,87.08 L29.01,89.38 L30.78,91.67 L32.65,93.96 L34.63,96.25 L36.74,98.54 L38.98,100.83 L41.35,103.12 L43.86,105.42 L46.53,107.71 L49.36,110.00 L52.36,112.29 L55.55,114.58 L58.93,116.88 L62.51,119.17 L66.31,121.46 L70.35,123.75 L74.63,126.04 L79.17,128.33 L83.98,130.62 L89.09,132.92 L94.51,135.21 L100.26,137.50 L113.74,137.50 L119.49,135.21 L124.91,132.92 L130.02,130.62 L134.83,128.33 L139.37,126.04 L143.65,123.75 L147.69,121.46 L151.49,119.17 L155.07,116.88 L158.45,114.58 L161.64,112.29 L164.64,110.00 L167.47,107.71 L170.14,105.42 L172.65,103.12 L175.02,100.83 L177.26,98.54 L179.37,96.25 L181.35,93.96 L183.22,91.67 L184.99,89.38 L186.65,87.08 L188.22,84.79 L189.70,82.50 L191.09,80.21 L192.41,77.92 L193.64,75.63 L194.81,73.33 L195.91,71.04 L196.95,68.75 L197.93,66.46 L198.85,64.17 L199.72,61.88 L200.54,59.58 L201.31,57.29 L202.04,55.00 L202.72,52.71 L203.37,50.42 L203.98,48.12 L204.55,45.83 L205.09,43.54 L205.61,41.25 L206.09,38.96 L206.54,36.67 L206.97,34.38 L207.37,32.08 L207.75,29.79 L208.11,27.50 L208.45,25.21 L208.77,22.92 L209.07,20.62 L209.35,18.33 L209.62,16.04 L209.87,13.75 L210.10,11.46 L210.33,9.17 L210.54,6.87 L210.74,4.58 L210.92,2.29 L211.10,0.00 Z" fill="#fff" fill-opacity="0.5" fill-rule="evenodd"/>

<path d="M2.90,0.00 L3.08,2.29 L3.26,4.58 L3.46,6.87 L3.67,9.17 L3.90,11.46 L4.13,13.75 L4.38,16.04 L4.65,18.33 L4.93,20.62 L5.23,22.92 L5.55,25.21 L5.89,27.50 L6.25,29.79 L6.63,32.08 L7.03,34.38 L7.46,36.67 L7.91,38.96 L8.39,41.25 L8.91,43.54 L9.45,45.83 L10.02,48.12 L10.63,50.42 L11.28,52.71 L11.96,55.00 L12.69,57.29 L13.46,59.58 L14.28,61.88 L15.15,64.17 L16.07,66.46 L17.05,68.75 L18.09,71.04 L19.19,73.33 L20.36,75.63 L21.59,77.92 L22.91,80.21 L24.30,82.50 L25.78,84.79 L27.35,87.08 L29.01,89.38 L30.78,91.67 L32.65,93.96 L34.63,96.25 L36.74,98.54 L38.98,100.83 L41.35,103.12 L43.86,105.42 L46.53,107.71 L49.36,110.00 L52.36,112.29 L55.55,114.58 L58.93,116.88 L62.51,119.17 L66.31,121.46 L70.35,123.75 L74.63,126.04 L79.17,128.33 L83.98,130.62 L89.09,132.92 L94.51,135.21 L100.26,137.50 L113.74,137.50 L119.49,135.21 L124.91,132.92 L130.02,130.62 L134.83,128.33 L139.37,126.04 L143.65,123.75 L147.69,121.46 L151.49,119.17 L155.07,116.88 L158.45,114.58 L161.64,112.29 L164.64,110.00 L167.47,107.71 L170.14,105.42 L172.65,103.12 L175.02,100.83 L177.26,98.54 L179.37,96.25 L181.35,93.96 L183.22,91.67 L184.99,89.38 L186.65,87.08 L188.22,84.79 L189.70,82.50 L191.09,80.21 L192.41,77.92 L193.64,75.63 L194.81,73.33 L195.91,71.04 L196.95,68.75 L197.93,66.46 L198.85,64.17 L199.72,61.88 L200.54,59.58 L201.31,57.29 L202.04,55.00 L202.72,52.71 L203.37,50.42 L203.98,48.12 L204.55,45.83 L205.09,43.54 L205.61,41.25 L206.09,38.96 L206.54,36.67 L206.97,34.38 L207.37,32.08 L207.75,29.79 L208.11,27.50 L208.45,25.21 L208.77,22.92 L209.07,20.62 L209.35,18.33 L209.62,16.04 L209.87,13.75 L210.10,11.46 L210.33,9.17 L210.54,6.87 L210.74,4.58 L210.92,2.29 L211.10,0.00 Z" fill="none" stroke="#222" stroke-width="0.6"/>
</g>
<rect x="0.3" y="0.3" width="213.4" height="136.4" fill="none" stroke="#777" stroke-width="0.8"/>
</svg>
<div class="t ti" style="left:304.5px;top:495.7px;">(d-2) PNA-DPC4</div>
<div class="t tk" style="left:266.1px;top:648.2px;width:0;"><span style="position:absolute;transform:translateX(-50%)">2001</span></div>
<div class="t tk" style="left:300.8px;top:648.2px;width:0;"><span style="position:absolute;transform:translateX(-50%)">2005</span></div>
<div class="t tk" style="left:342.1px;top:648.2px;width:0;"><span style="position:absolute;transform:translateX(-50%)">2009</span></div>
<div class="t tk" style="left:383.4px;top:648.2px;width:0;"><span style="position:absolute;transform:translateX(-50%)">2013</span></div>
<div class="t tk" style="left:421.5px;top:648.2px;width:0;"><span style="position:absolute;transform:translateX(-50%)">2017</span></div>
<div class="t tk" style="left:453.1px;top:648.2px;width:0;"><span style="position:absolute;transform:translateX(-50%)">2019</span></div>
<svg class="p" style="left:470.10px;top:508.50px;width:212.00px;height:135.50px" viewBox="0 0 214 137" preserveAspectRatio="none">
<clipPath id="cld3"><rect x="0" y="0" width="214" height="137"/></clipPath>
<filter id="xtd3" x="-10" y="-10" width="234" height="157" filterUnits="userSpaceOnUse" color-interpolation-filters="sRGB"><feTurbulence type="turbulence" baseFrequency="0.07 0.015" numOctaves="2" seed="42"/><feColorMatrix type="matrix" values="1.1 0 0 0 0  1.1 0 0 0 0  1.1 0 0 0 0  0 0 0 0 1"/></filter>
<filter id="xmd3" x="-10" y="-10" width="234" height="157" filterUnits="userSpaceOnUse" color-interpolation-filters="sRGB"><feTurbulence type="turbulence" baseFrequency="0.035 0.03" numOctaves="2" seed="142"/><feColorMatrix type="matrix" values="1.1 0 0 0 0  1.1 0 0 0 0  1.1 0 0 0 0  0 0 0 0 1"/></filter>
<filter id="xbd3" x="-10" y="-10" width="234" height="157" filterUnits="userSpaceOnUse" color-interpolation-filters="sRGB"><feTurbulence type="turbulence" baseFrequency="0.01 0.05" numOctaves="2" seed="242"/><feColorMatrix type="matrix" values="1.1 0 0 0 0  1.1 0 0 0 0  1.1 0 0 0 0  0 0 0 0 1"/></filter>
<g clip-path="url(#cld3)">
<filter id="thrd3" x="-10" y="-10" width="234" height="157" filterUnits="userSpaceOnUse" color-interpolation-filters="sRGB"><feGaussianBlur stdDeviation="1.3"/><feComponentTransfer><feFuncR type="discrete" tableValues="0 1"/><feFuncG type="discrete" tableValues="0 1"/><feFuncB type="discrete" tableValues="0 1"/><feFuncA type="linear" slope="0" intercept="1"/></feComponentTransfer></filter>
<mask id="mkd3" maskUnits="userSpaceOnUse" x="-10" y="-10" width="234" height="157"><g filter="url(#thrd3)"><use href="#rawd3"/></g></mask>
<g filter="url(#par)"><g id="rawd3">
<rect x="-10" y="-10" width="234" height="157" fill="#333333"/><g mask="url(#mtop)"><rect x="-10" y="-10" width="234" height="157" filter="url(#xtd3)"/></g><g mask="url(#mmid)"><rect x="-10" y="-10" width="234" height="157" filter="url(#xmd3)"/></g><g mask="url(#mbot)"><rect x="-10" y="-10" width="234" height="157" filter="url(#xbd3)"/></g><g filter="url(#bl2)" opacity="0.9"><ellipse cx="22.7" cy="22.3" rx="17.0" ry="13.6" fill="#0d0d0d" transform="rotate(0 22.7 22.3)"/><ellipse cx="43.0" cy="13.8" rx="5.1" ry="13.6" fill="#121212" transform="rotate(0 43.0 13.8)"/><ellipse cx="63.4" cy="12.1" rx="4.2" ry="10.2" fill="#121212" transform="rotate(0 63.4 12.1)"/><ellipse cx="87.2" cy="15.5" rx="5.1" ry="11.9" fill="#121212" transform="rotate(0 87.2 15.5)"/><ellipse cx="24.4" cy="51.2" rx="15.3" ry="5.1" fill="#0a0a0a" transform="rotate(0 24.4 51.2)"/><ellipse cx="46.4" cy="54.6" rx="6.8" ry="5.1" fill="#0d0d0d" transform="rotate(0 46.4 54.6)"/><ellipse cx="90.6" cy="66.5" rx="18.7" ry="3.4" fill="#0a0a0a" transform="rotate(0 90.6 66.5)"/><ellipse cx="92.3" cy="34.2" rx="17.0" ry="5.1" fill="#0d0d0d" transform="rotate(0 92.3 34.2)"/><ellipse cx="60.0" cy="35.1" rx="7.6" ry="6.8" fill="#999999" transform="rotate(0 60.0 35.1)"/><ellipse cx="21.8" cy="41.0" rx="5.9" ry="5.1" fill="#999999" transform="rotate(0 21.8 41.0)"/><ellipse cx="49.8" cy="93.8" rx="22.1" ry="10.2" fill="#999999" transform="rotate(0 49.8 93.8)"/><ellipse cx="99.1" cy="98.0" rx="10.2" ry="4.3" fill="#8c8c8c" transform="rotate(0 99.1 98.0)"/><rect x="66.8" y="124.4" width="157.2" height="15.3" fill="#9e9e9e"/><rect x="-10.0" y="35.9" width="19.1" height="27.2" fill="#141414"/><rect x="-10.0" y="66.5" width="34.4" height="27.2" fill="#666666"/><rect x="-10.0" y="117.6" width="76.8" height="6.8" fill="#999999"/><rect x="-10.0" y="124.4" width="85.3" height="15.3" fill="#d9d9d9"/><ellipse cx="116.1" cy="30.8" rx="11.9" ry="5.1" fill="#0d0d0d" transform="rotate(0 116.1 30.8)"/><ellipse cx="122.9" cy="51.2" rx="8.5" ry="6.8" fill="#0d0d0d" transform="rotate(0 122.9 51.2)"/><ellipse cx="144.9" cy="34.2" rx="5.1" ry="15.3" fill="#0f0f0f" transform="rotate(0 144.9 34.2)"/><ellipse cx="178.9" cy="29.1" rx="18.7" ry="8.5" fill="#0d0d0d" transform="rotate(0 178.9 29.1)"/><ellipse cx="182.3" cy="60.6" rx="11.9" ry="6.0" fill="#0d0d0d" transform="rotate(0 182.3 60.6)"/><ellipse cx="131.4" cy="92.1" rx="25.5" ry="3.4" fill="#1a1a1a" transform="rotate(0 131.4 92.1)"/><ellipse cx="156.8" cy="81.9" rx="30.6" ry="10.2" fill="#8c8c8c" transform="rotate(0 156.8 81.9)"/><ellipse cx="160.2" cy="47.8" rx="3.4" ry="6.8" fill="#999999" transform="rotate(0 160.2 47.8)"/><ellipse cx="138.2" cy="32.5" rx="2.0" ry="5.1" fill="#999999" transform="rotate(0 138.2 32.5)"/><ellipse cx="165.3" cy="42.7" rx="17.0" ry="5.1" fill="#737373" transform="rotate(0 165.3 42.7)"/><rect x="21.0" y="110.8" width="135.8" height="11.9" fill="#404040"/><rect x="201.0" y="32.5" width="23.0" height="28.9" fill="#1f1f1f"/><rect x="190.8" y="71.6" width="33.2" height="22.1" fill="#666666"/><rect x="177.2" y="93.8" width="46.8" height="13.6" fill="#d9d9d9"/><rect x="156.8" y="109.1" width="67.2" height="11.9" fill="#666666"/><rect x="21.0" y="121.0" width="203.0" height="18.7" fill="#d9d9d9"/></g><path d="M-1.11,-1.52 C0.59,-7.47 7.38,-7.47 9.08,-1.52 C10.78,4.44 10.78,28.26 9.08,34.21 C7.38,40.17 0.59,40.17 -1.11,34.21 C-2.81,28.26 -2.81,4.44 -1.11,-1.52 Z" fill="#d9d9d9"/><path d="M-2.81,98.87 C0.30,95.75 9.93,98.58 15.87,98.87 C21.81,99.15 27.76,99.15 32.85,100.57 C37.95,101.99 42.19,106.52 46.44,107.38 C50.68,108.23 53.51,106.10 58.32,105.67 C63.13,105.25 69.64,105.11 75.30,104.82 C80.97,104.54 86.85,104.26 92.29,103.97 C97.72,103.69 103.04,103.69 107.91,103.12 C112.78,102.55 114.98,101.28 121.49,100.57 C128.00,99.86 138.47,99.44 146.97,98.87 C155.46,98.30 167.34,97.22 172.44,97.17 C177.53,97.11 177.53,97.62 177.53,98.53 C177.53,99.44 176.12,101.28 172.44,102.61 C168.76,103.94 162.53,105.59 155.46,106.52 C148.38,107.46 137.91,106.67 129.98,108.23 C122.06,109.79 114.19,114.61 107.91,115.88 C101.63,117.16 97.72,115.60 92.29,115.88 C86.85,116.17 80.12,117.30 75.30,117.58 C70.49,117.87 67.66,117.58 63.42,117.58 C59.17,117.58 60.87,117.58 49.83,117.58 C38.80,117.58 5.97,120.70 -2.81,117.58 C-11.58,114.46 -5.92,101.99 -2.81,98.87 Z" fill="#9e9e9e" stroke="#9e9e9e" stroke-width="5" stroke-linejoin="round"/><path d="M-2.81,98.87 C0.30,95.75 9.93,98.58 15.87,98.87 C21.81,99.15 27.76,99.15 32.85,100.57 C37.95,101.99 42.19,106.52 46.44,107.38 C50.68,108.23 53.51,106.10 58.32,105.67 C63.13,105.25 69.64,105.11 75.30,104.82 C80.97,104.54 86.85,104.26 92.29,103.97 C97.72,103.69 103.04,103.69 107.91,103.12 C112.78,102.55 114.98,101.28 121.49,100.57 C128.00,99.86 138.47,99.44 146.97,98.87 C155.46,98.30 167.34,97.22 172.44,97.17 C177.53,97.11 177.53,97.62 177.53,98.53 C177.53,99.44 176.12,101.28 172.44,102.61 C168.76,103.94 162.53,105.59 155.46,106.52 C148.38,107.46 137.91,106.67 129.98,108.23 C122.06,109.79 114.19,114.61 107.91,115.88 C101.63,117.16 97.72,115.60 92.29,115.88 C86.85,116.17 80.12,117.30 75.30,117.58 C70.49,117.87 67.66,117.58 63.42,117.58 C59.17,117.58 60.87,117.58 49.83,117.58 C38.80,117.58 5.97,120.70 -2.81,117.58 C-11.58,114.46 -5.92,101.99 -2.81,98.87 Z" fill="#dedede"/><path d="M70.21,82.70 C70.21,81.71 75.02,80.29 78.70,79.30 C82.38,78.31 87.42,77.46 92.29,76.75 C97.15,76.04 103.04,75.62 107.91,75.05 C112.78,74.48 117.53,73.49 121.49,73.35 C125.46,73.20 129.56,73.49 131.68,74.20 C133.80,74.91 134.51,76.32 134.23,77.60 C133.95,78.88 132.67,80.72 129.98,81.85 C127.30,82.99 121.78,83.70 118.10,84.41 C114.42,85.11 112.21,85.82 107.91,86.11 C103.61,86.39 97.15,86.25 92.29,86.11 C87.42,85.97 82.38,85.82 78.70,85.26 C75.02,84.69 70.21,83.70 70.21,82.70 Z" fill="#9e9e9e" stroke="#9e9e9e" stroke-width="5" stroke-linejoin="round"/><path d="M70.21,82.70 C70.21,81.71 75.02,80.29 78.70,79.30 C82.38,78.31 87.42,77.46 92.29,76.75 C97.15,76.04 103.04,75.62 107.91,75.05 C112.78,74.48 117.53,73.49 121.49,73.35 C125.46,73.20 129.56,73.49 131.68,74.20 C133.80,74.91 134.51,76.32 134.23,77.60 C133.95,78.88 132.67,80.72 129.98,81.85 C127.30,82.99 121.78,83.70 118.10,84.41 C114.42,85.11 112.21,85.82 107.91,86.11 C103.61,86.39 97.15,86.25 92.29,86.11 C87.42,85.97 82.38,85.82 78.70,85.26 C75.02,84.69 70.21,83.70 70.21,82.70 Z" fill="#dedede"/><ellipse cx="98.2" cy="23.2" rx="4.8" ry="5.4" fill="#9e9e9e" stroke="#9e9e9e" stroke-width="5" transform="rotate(0 98.2 23.2)"/><ellipse cx="98.2" cy="23.2" rx="4.8" ry="5.4" fill="#dedede" transform="rotate(0 98.2 23.2)"/><ellipse cx="99.1" cy="47.0" rx="5.1" ry="5.1" fill="#9e9e9e" stroke="#9e9e9e" stroke-width="5" transform="rotate(0 99.1 47.0)"/><ellipse cx="99.1" cy="47.0" rx="5.1" ry="5.1" fill="#dedede" transform="rotate(0 99.1 47.0)"/><ellipse cx="66.0" cy="57.2" rx="4.2" ry="3.7" fill="#9e9e9e" stroke="#9e9e9e" stroke-width="5" transform="rotate(0 66.0 57.2)"/><ellipse cx="66.0" cy="57.2" rx="4.2" ry="3.7" fill="#dedede" transform="rotate(0 66.0 57.2)"/><ellipse cx="27.8" cy="67.4" rx="7.6" ry="3.7" fill="#9e9e9e" stroke="#9e9e9e" stroke-width="5" transform="rotate(0 27.8 67.4)"/><ellipse cx="27.8" cy="67.4" rx="7.6" ry="3.7" fill="#dedede" transform="rotate(0 27.8 67.4)"/><ellipse cx="49.8" cy="5.3" rx="2.5" ry="4.3" fill="#9e9e9e" stroke="#9e9e9e" stroke-width="5" transform="rotate(0 49.8 5.3)"/><ellipse cx="49.8" cy="5.3" rx="2.5" ry="4.3" fill="#dedede" transform="rotate(0 49.8 5.3)"/><ellipse cx="71.9" cy="3.6" rx="1.7" ry="4.3" fill="#9e9e9e" stroke="#9e9e9e" stroke-width="5" transform="rotate(0 71.9 3.6)"/><ellipse cx="71.9" cy="3.6" rx="1.7" ry="4.3" fill="#dedede" transform="rotate(0 71.9 3.6)"/><ellipse cx="80.4" cy="4.4" rx="2.0" ry="5.1" fill="#9e9e9e" stroke="#9e9e9e" stroke-width="5" transform="rotate(0 80.4 4.4)"/><ellipse cx="80.4" cy="4.4" rx="2.0" ry="5.1" fill="#dedede" transform="rotate(0 80.4 4.4)"/><path d="M2.29,0.18 C4.27,0.18 7.66,-2.37 9.08,0.18 C10.49,2.74 10.35,11.24 10.78,15.50 C11.20,19.75 11.91,22.59 11.63,25.71 C11.34,28.83 11.48,32.80 9.08,34.21 C6.67,35.63 -0.83,39.89 -2.81,34.21 C-4.79,28.54 -3.66,5.86 -2.81,0.18 C-1.96,-5.49 0.30,0.18 2.29,0.18 Z" fill="#9e9e9e" stroke="#9e9e9e" stroke-width="5" stroke-linejoin="round"/><path d="M2.29,0.18 C4.27,0.18 7.66,-2.37 9.08,0.18 C10.49,2.74 10.35,11.24 10.78,15.50 C11.20,19.75 11.91,22.59 11.63,25.71 C11.34,28.83 11.48,32.80 9.08,34.21 C6.67,35.63 -0.83,39.89 -2.81,34.21 C-4.79,28.54 -3.66,5.86 -2.81,0.18 C-1.96,-5.49 0.30,0.18 2.29,0.18 Z" fill="#dedede"/><path d="M204.38,63.14 C206.64,62.00 215.70,62.00 217.97,63.14 C220.23,64.27 220.23,68.81 217.97,69.94 C215.70,71.08 206.64,71.08 204.38,69.94 C202.12,68.81 202.12,64.27 204.38,63.14 Z" fill="#cccccc"/><ellipse cx="126.3" cy="10.4" rx="3.7" ry="6.8" fill="#9e9e9e" stroke="#9e9e9e" stroke-width="5" transform="rotate(-20 126.3 10.4)"/><ellipse cx="126.3" cy="10.4" rx="3.7" ry="6.8" fill="#dedede" transform="rotate(-20 126.3 10.4)"/><ellipse cx="182.3" cy="7.0" rx="3.7" ry="6.8" fill="#9e9e9e" stroke="#9e9e9e" stroke-width="5" transform="rotate(0 182.3 7.0)"/><ellipse cx="182.3" cy="7.0" rx="3.7" ry="6.8" fill="#dedede" transform="rotate(0 182.3 7.0)"/><ellipse cx="206.1" cy="12.9" rx="2.5" ry="5.1" fill="#9e9e9e" stroke="#9e9e9e" stroke-width="5" transform="rotate(0 206.1 12.9)"/><ellipse cx="206.1" cy="12.9" rx="2.5" ry="5.1" fill="#dedede" transform="rotate(0 206.1 12.9)"/><ellipse cx="197.6" cy="43.6" rx="6.8" ry="4.8" fill="#9e9e9e" stroke="#9e9e9e" stroke-width="5" transform="rotate(-15 197.6 43.6)"/><ellipse cx="197.6" cy="43.6" rx="6.8" ry="4.8" fill="#dedede" transform="rotate(-15 197.6 43.6)"/><ellipse cx="164.5" cy="79.3" rx="4.2" ry="3.1" fill="#a6a6a6" transform="rotate(0 164.5 79.3)"/><ellipse cx="143.2" cy="9.5" rx="1.4" ry="1.7" fill="#1a1a1a" transform="rotate(0 143.2 9.5)"/>
</g></g>
<rect x="0" y="0" width="214" height="137" fill="url(#a135)" mask="url(#mkd3)"/>
<path d="M-2.81,98.87 C0.30,95.75 9.93,98.58 15.87,98.87 C21.81,99.15 27.76,99.15 32.85,100.57 C37.95,101.99 42.19,106.52 46.44,107.38 C50.68,108.23 53.51,106.10 58.32,105.67 C63.13,105.25 69.64,105.11 75.30,104.82 C80.97,104.54 86.85,104.26 92.29,103.97 C97.72,103.69 103.04,103.69 107.91,103.12 C112.78,102.55 114.98,101.28 121.49,100.57 C128.00,99.86 138.47,99.44 146.97,98.87 C155.46,98.30 167.34,97.22 172.44,97.17 C177.53,97.11 177.53,97.62 177.53,98.53 C177.53,99.44 176.12,101.28 172.44,102.61 C168.76,103.94 162.53,105.59 155.46,106.52 C148.38,107.46 137.91,106.67 129.98,108.23 C122.06,109.79 114.19,114.61 107.91,115.88 C101.63,117.16 97.72,115.60 92.29,115.88 C86.85,116.17 80.12,117.30 75.30,117.58 C70.49,117.87 67.66,117.58 63.42,117.58 C59.17,117.58 60.87,117.58 49.83,117.58 C38.80,117.58 5.97,120.70 -2.81,117.58 C-11.58,114.46 -5.92,101.99 -2.81,98.87 Z" fill="none" stroke="#000" stroke-width="1.3"/><path d="M70.21,82.70 C70.21,81.71 75.02,80.29 78.70,79.30 C82.38,78.31 87.42,77.46 92.29,76.75 C97.15,76.04 103.04,75.62 107.91,75.05 C112.78,74.48 117.53,73.49 121.49,73.35 C125.46,73.20 129.56,73.49 131.68,74.20 C133.80,74.91 134.51,76.32 134.23,77.60 C133.95,78.88 132.67,80.72 129.98,81.85 C127.30,82.99 121.78,83.70 118.10,84.41 C114.42,85.11 112.21,85.82 107.91,86.11 C103.61,86.39 97.15,86.25 92.29,86.11 C87.42,85.97 82.38,85.82 78.70,85.26 C75.02,84.69 70.21,83.70 70.21,82.70 Z" fill="none" stroke="#000" stroke-width="1.3"/><ellipse cx="98.2" cy="23.2" rx="4.8" ry="5.4" fill="none" stroke="#000" stroke-width="1.3" transform="rotate(0 98.2 23.2)"/><ellipse cx="99.1" cy="47.0" rx="5.1" ry="5.1" fill="none" stroke="#000" stroke-width="1.3" transform="rotate(0 99.1 47.0)"/><ellipse cx="66.0" cy="57.2" rx="4.2" ry="3.7" fill="none" stroke="#000" stroke-width="1.3" transform="rotate(0 66.0 57.2)"/><ellipse cx="27.8" cy="67.4" rx="7.6" ry="3.7" fill="none" stroke="#000" stroke-width="1.3" transform="rotate(0 27.8 67.4)"/><ellipse cx="49.8" cy="5.3" rx="2.5" ry="4.3" fill="none" stroke="#000" stroke-width="1.3" transform="rotate(0 49.8 5.3)"/><ellipse cx="71.9" cy="3.6" rx="1.7" ry="4.3" fill="none" stroke="#000" stroke-width="1.3" transform="rotate(0 71.9 3.6)"/><ellipse cx="80.4" cy="4.4" rx="2.0" ry="5.1" fill="none" stroke="#000" stroke-width="1.3" transform="rotate(0 80.4 4.4)"/><path d="M2.29,0.18 C4.27,0.18 7.66,-2.37 9.08,0.18 C10.49,2.74 10.35,11.24 10.78,15.50 C11.20,19.75 11.91,22.59 11.63,25.71 C11.34,28.83 11.48,32.80 9.08,34.21 C6.67,35.63 -0.83,39.89 -2.81,34.21 C-4.79,28.54 -3.66,5.86 -2.81,0.18 C-1.96,-5.49 0.30,0.18 2.29,0.18 Z" fill="none" stroke="#000" stroke-width="1.3"/><path d="M29.46,83.56 C36.25,80.15 63.42,80.15 70.21,83.56 C77.00,86.96 77.00,100.57 70.21,103.97 C63.42,107.38 36.25,107.38 29.46,103.97 C22.66,100.57 22.66,86.96 29.46,83.56 Z" fill="url(#a270)"/><path d="M-1.11,117.58 C17.06,113.90 89.74,113.90 107.91,117.58 C126.08,121.27 126.08,136.02 107.91,139.70 C89.74,143.39 17.06,143.39 -1.11,139.70 C-19.28,136.02 -19.28,121.27 -1.11,117.58 Z" fill="url(#a45)"/><ellipse cx="126.3" cy="10.4" rx="3.7" ry="6.8" fill="none" stroke="#000" stroke-width="1.3" transform="rotate(-20 126.3 10.4)"/><ellipse cx="182.3" cy="7.0" rx="3.7" ry="6.8" fill="none" stroke="#000" stroke-width="1.3" transform="rotate(0 182.3 7.0)"/><ellipse cx="206.1" cy="12.9" rx="2.5" ry="5.1" fill="none" stroke="#000" stroke-width="1.3" transform="rotate(0 206.1 12.9)"/><ellipse cx="197.6" cy="43.6" rx="6.8" ry="4.8" fill="none" stroke="#000" stroke-width="1.3" transform="rotate(-15 197.6 43.6)"/><path d="M160.23,79.30 C160.23,78.28 163.06,76.24 164.47,76.24 C165.89,76.24 168.72,78.28 168.72,79.30 C168.72,80.32 165.89,82.36 164.47,82.36 C163.06,82.36 160.23,80.32 160.23,79.30 Z" fill="none" stroke="#000" stroke-width="1.1"/><path d="M131.36,69.94 C140.70,65.97 178.06,65.97 187.40,69.94 C196.74,73.91 196.74,89.79 187.40,93.76 C178.06,97.73 140.70,97.73 131.36,93.76 C122.02,89.79 122.02,73.91 131.36,69.94 Z" fill="url(#a0)"/>
<path d="M-2,-2 L216.0,-2 L216.0,139.0 L-2,139.0 Z M2.90,0.00 L3.08,2.29 L3.26,4.58 L3.46,6.87 L3.67,9.17 L3.90,11.46 L4.13,13.75 L4.38,16.04 L4.65,18.33 L4.93,20.62 L5.23,22.92 L5.55,25.21 L5.89,27.50 L6.25,29.79 L6.63,32.08 L7.03,34.38 L7.46,36.67 L7.91,38.96 L8.39,41.25 L8.91,43.54 L9.45,45.83 L10.02,48.12 L10.63,50.42 L11.28,52.71 L11.96,55.00 L12.69,57.29 L13.46,59.58 L14.28,61.88 L15.15,64.17 L16.07,66.46 L17.05,68.75 L18.09,71.04 L19.19,73.33 L20.36,75.63 L21.59,77.92 L22.91,80.21 L24.30,82.50 L25.78,84.79 L27.35,87.08 L29.01,89.38 L30.78,91.67 L32.65,93.96 L34.63,96.25 L36.74,98.54 L38.98,100.83 L41.35,103.12 L43.86,105.42 L46.53,107.71 L49.36,110.00 L52.36,112.29 L55.55,114.58 L58.93,116.88 L62.51,119.17 L66.31,121.46 L70.35,123.75 L74.63,126.04 L79.17,128.33 L83.98,130.62 L89.09,132.92 L94.51,135.21 L100.26,137.50 L113.74,137.50 L119.49,135.21 L124.91,132.92 L130.02,130.62 L134.83,128.33 L139.37,126.04 L143.65,123.75 L147.69,121.46 L151.49,119.17 L155.07,116.88 L158.45,114.58 L161.64,112.29 L164.64,110.00 L167.47,107.71 L170.14,105.42 L172.65,103.12 L175.02,100.83 L177.26,98.54 L179.37,96.25 L181.35,93.96 L183.22,91.67 L184.99,89.38 L186.65,87.08 L188.22,84.79 L189.70,82.50 L191.09,80.21 L192.41,77.92 L193.64,75.63 L194.81,73.33 L195.91,71.04 L196.95,68.75 L197.93,66.46 L198.85,64.17 L199.72,61.88 L200.54,59.58 L201.31,57.29 L202.04,55.00 L202.72,52.71 L203.37,50.42 L203.98,48.12 L204.55,45.83 L205.09,43.54 L205.61,41.25 L206.09,38.96 L206.54,36.67 L206.97,34.38 L207.37,32.08 L207.75,29.79 L208.11,27.50 L208.45,25.21 L208.77,22.92 L209.07,20.62 L209.35,18.33 L209.62,16.04 L209.87,13.75 L210.10,11.46 L210.33,9.17 L210.54,6.87 L210.74,4.58 L210.92,2.29 L211.10,0.00 Z" fill="#fff" fill-opacity="0.5" fill-rule="evenodd"/>

<path d="M2.90,0.00 L3.08,2.29 L3.26,4.58 L3.46,6.87 L3.67,9.17 L3.90,11.46 L4.13,13.75 L4.38,16.04 L4.65,18.33 L4.93,20.62 L5.23,22.92 L5.55,25.21 L5.89,27.50 L6.25,29.79 L6.63,32.08 L7.03,34.38 L7.46,36.67 L7.91,38.96 L8.39,41.25 L8.91,43.54 L9.45,45.83 L10.02,48.12 L10.63,50.42 L11.28,52.71 L11.96,55.00 L12.69,57.29 L13.46,59.58 L14.28,61.88 L15.15,64.17 L16.07,66.46 L17.05,68.75 L18.09,71.04 L19.19,73.33 L20.36,75.63 L21.59,77.92 L22.91,80.21 L24.30,82.50 L25.78,84.79 L27.35,87.08 L29.01,89.38 L30.78,91.67 L32.65,93.96 L34.63,96.25 L36.74,98.54 L38.98,100.83 L41.35,103.12 L43.86,105.42 L46.53,107.71 L49.36,110.00 L52.36,112.29 L55.55,114.58 L58.93,116.88 L62.51,119.17 L66.31,121.46 L70.35,123.75 L74.63,126.04 L79.17,128.33 L83.98,130.62 L89.09,132.92 L94.51,135.21 L100.26,137.50 L113.74,137.50 L119.49,135.21 L124.91,132.92 L130.02,130.62 L134.83,128.33 L139.37,126.04 L143.65,123.75 L147.69,121.46 L151.49,119.17 L155.07,116.88 L158.45,114.58 L161.64,112.29 L164.64,110.00 L167.47,107.71 L170.14,105.42 L172.65,103.12 L175.02,100.83 L177.26,98.54 L179.37,96.25 L181.35,93.96 L183.22,91.67 L184.99,89.38 L186.65,87.08 L188.22,84.79 L189.70,82.50 L191.09,80.21 L192.41,77.92 L193.64,75.63 L194.81,73.33 L195.91,71.04 L196.95,68.75 L197.93,66.46 L198.85,64.17 L199.72,61.88 L200.54,59.58 L201.31,57.29 L202.04,55.00 L202.72,52.71 L203.37,50.42 L203.98,48.12 L204.55,45.83 L205.09,43.54 L205.61,41.25 L206.09,38.96 L206.54,36.67 L206.97,34.38 L207.37,32.08 L207.75,29.79 L208.11,27.50 L208.45,25.21 L208.77,22.92 L209.07,20.62 L209.35,18.33 L209.62,16.04 L209.87,13.75 L210.10,11.46 L210.33,9.17 L210.54,6.87 L210.74,4.58 L210.92,2.29 L211.10,0.00 Z" fill="none" stroke="#222" stroke-width="0.6"/>
</g>
<rect x="0.3" y="0.3" width="213.4" height="136.4" fill="none" stroke="#777" stroke-width="0.8"/>
</svg>
<div class="t ti" style="left:516.1px;top:495.7px;">(d-3) MEI-DPC4</div>
<div class="t tk" style="left:482.9px;top:648.2px;width:0;"><span style="position:absolute;transform:translateX(-50%)">2001</span></div>
<div class="t tk" style="left:518.1px;top:648.2px;width:0;"><span style="position:absolute;transform:translateX(-50%)">2005</span></div>
<div class="t tk" style="left:560.2px;top:648.2px;width:0;"><span style="position:absolute;transform:translateX(-50%)">2009</span></div>
<div class="t tk" style="left:602.4px;top:648.2px;width:0;"><span style="position:absolute;transform:translateX(-50%)">2013</span></div>
<div class="t tk" style="left:641.2px;top:648.2px;width:0;"><span style="position:absolute;transform:translateX(-50%)">2017</span></div>
<div class="t tk" style="left:673.4px;top:648.2px;width:0;"><span style="position:absolute;transform:translateX(-50%)">2019</span></div>
<div class="t tk" style="right:678.8px;top:526.9px;">4</div>
<div class="t tk" style="right:678.8px;top:553.0px;">8</div>
<div class="t tk" style="right:678.8px;top:579.1px;">16</div>
<div class="t tk" style="right:678.8px;top:605.2px;">32</div>
<div class="t tk" style="right:678.8px;top:631.3px;">64</div>
<div class="t tk" style="left:9.0px;top:586.7px;width:0;height:0;"><span style="position:absolute;transform:translate(-50%,-50%) rotate(-90deg);">Period (month)</span></div>
<div style="position:absolute;left:685.6px;top:507.3px;width:8.6px;height:136.8px;background:linear-gradient(to bottom,#f9fb15,#f5e825,#fad42e,#fec13a,#eaba31,#c8c129,#9fc942,#71cd64,#48cb86,#2fc5a2,#12beb9,#05b6ce,#1caadf,#259ce7,#2d8cf3,#347afd,#4367fd,#4755f6,#4743e7,#4433cc,#3e26a8);box-shadow:0 0 0 0.5px #999;"></div>
<div class="t cb" style="left:694.8px;top:635.4px;">0</div>
<div class="t cb" style="left:694.8px;top:622.3px;">0.1</div>
<div class="t cb" style="left:694.8px;top:609.3px;">0.2</div>
<div class="t cb" style="left:694.8px;top:596.3px;">0.3</div>
<div class="t cb" style="left:694.8px;top:583.3px;">0.4</div>
<div class="t cb" style="left:694.8px;top:570.2px;">0.5</div>
<div class="t cb" style="left:694.8px;top:557.2px;">0.6</div>
<div class="t cb" style="left:694.8px;top:544.2px;">0.7</div>
<div class="t cb" style="left:694.8px;top:531.2px;">0.8</div>
<div class="t cb" style="left:694.8px;top:518.1px;">0.9</div>
<div class="t cb" style="left:694.8px;top:505.1px;">1</div>
<svg class="p" style="left:30.60px;top:674.00px;width:216.10px;height:134.50px" viewBox="0 0 214 137" preserveAspectRatio="none">
<clipPath id="cle1"><rect x="0" y="0" width="214" height="137"/></clipPath>
<filter id="xte1" x="-10" y="-10" width="234" height="157" filterUnits="userSpaceOnUse" color-interpolation-filters="sRGB"><feTurbulence type="turbulence" baseFrequency="0.07 0.015" numOctaves="2" seed="50"/><feColorMatrix type="matrix" values="1.1 0 0 0 0  1.1 0 0 0 0  1.1 0 0 0 0  0 0 0 0 1"/></filter>
<filter id="xme1" x="-10" y="-10" width="234" height="157" filterUnits="userSpaceOnUse" color-interpolation-filters="sRGB"><feTurbulence type="turbulence" baseFrequency="0.035 0.03" numOctaves="2" seed="150"/><feColorMatrix type="matrix" values="1.1 0 0 0 0  1.1 0 0 0 0  1.1 0 0 0 0  0 0 0 0 1"/></filter>
<filter id="xbe1" x="-10" y="-10" width="234" height="157" filterUnits="userSpaceOnUse" color-interpolation-filters="sRGB"><feTurbulence type="turbulence" baseFrequency="0.01 0.05" numOctaves="2" seed="250"/><feColorMatrix type="matrix" values="1.1 0 0 0 0  1.1 0 0 0 0  1.1 0 0 0 0  0 0 0 0 1"/></filter>
<g clip-path="url(#cle1)">
<filter id="thre1" x="-10" y="-10" width="234" height="157" filterUnits="userSpaceOnUse" color-interpolation-filters="sRGB"><feGaussianBlur stdDeviation="1.3"/><feComponentTransfer><feFuncR type="discrete" tableValues="0 1"/><feFuncG type="discrete" tableValues="0 1"/><feFuncB type="discrete" tableValues="0 1"/><feFuncA type="linear" slope="0" intercept="1"/></feComponentTransfer></filter>
<mask id="mke1" maskUnits="userSpaceOnUse" x="-10" y="-10" width="234" height="157"><g filter="url(#thre1)"><use href="#rawe1"/></g></mask>
<g filter="url(#par)"><g id="rawe1">
<rect x="-10" y="-10" width="234" height="157" fill="#333333"/><g mask="url(#mtop)"><rect x="-10" y="-10" width="234" height="157" filter="url(#xte1)"/></g><g mask="url(#mmid)"><rect x="-10" y="-10" width="234" height="157" filter="url(#xme1)"/></g><g mask="url(#mbot)"><rect x="-10" y="-10" width="234" height="157" filter="url(#xbe1)"/></g><g filter="url(#bl2)" opacity="0.9"><ellipse cx="21.1" cy="16.8" rx="5.0" ry="15.4" fill="#0f0f0f" transform="rotate(0 21.1 16.8)"/><ellipse cx="44.4" cy="18.5" rx="6.7" ry="13.7" fill="#0f0f0f" transform="rotate(0 44.4 18.5)"/><ellipse cx="71.9" cy="20.2" rx="5.8" ry="12.0" fill="#0f0f0f" transform="rotate(0 71.9 20.2)"/><ellipse cx="92.7" cy="11.7" rx="5.0" ry="10.3" fill="#141414" transform="rotate(0 92.7 11.7)"/><ellipse cx="41.1" cy="60.5" rx="25.0" ry="6.0" fill="#0a0a0a" transform="rotate(0 41.1 60.5)"/><ellipse cx="66.9" cy="72.5" rx="5.8" ry="6.0" fill="#0a0a0a" transform="rotate(0 66.9 72.5)"/><ellipse cx="94.4" cy="85.4" rx="11.7" ry="5.1" fill="#0a0a0a" transform="rotate(0 94.4 85.4)"/><ellipse cx="61.0" cy="13.4" rx="8.3" ry="5.1" fill="#8c8c8c" transform="rotate(0 61.0 13.4)"/><ellipse cx="92.7" cy="45.1" rx="10.0" ry="7.7" fill="#8c8c8c" transform="rotate(0 92.7 45.1)"/><ellipse cx="92.7" cy="76.0" rx="10.0" ry="4.3" fill="#808080" transform="rotate(0 92.7 76.0)"/><ellipse cx="9.4" cy="13.4" rx="2.5" ry="13.7" fill="#a6a6a6" transform="rotate(0 9.4 13.4)"/><ellipse cx="41.1" cy="32.2" rx="33.3" ry="3.4" fill="#666666" transform="rotate(0 41.1 32.2)"/><rect x="49.4" y="90.5" width="174.6" height="13.7" fill="#666666"/><rect x="41.1" y="104.2" width="182.9" height="12.0" fill="#0d0d0d"/><rect x="-10.0" y="-2.0" width="19.4" height="65.1" fill="#1f1f1f"/><rect x="-10.0" y="107.7" width="59.4" height="8.6" fill="#1a1a1a"/><rect x="-10.0" y="117.9" width="234.0" height="17.1" fill="#d9d9d9"/><ellipse cx="123.8" cy="16.8" rx="4.2" ry="15.4" fill="#0f0f0f" transform="rotate(0 123.8 16.8)"/><ellipse cx="134.7" cy="30.5" rx="5.0" ry="15.4" fill="#0f0f0f" transform="rotate(0 134.7 30.5)"/><ellipse cx="157.2" cy="18.5" rx="4.2" ry="13.7" fill="#0f0f0f" transform="rotate(0 157.2 18.5)"/><ellipse cx="188.8" cy="18.5" rx="4.2" ry="13.7" fill="#0f0f0f" transform="rotate(0 188.8 18.5)"/><ellipse cx="194.6" cy="42.5" rx="5.0" ry="6.9" fill="#121212" transform="rotate(0 194.6 42.5)"/><ellipse cx="131.3" cy="58.0" rx="25.0" ry="12.0" fill="#0f0f0f" transform="rotate(0 131.3 58.0)"/><ellipse cx="124.7" cy="87.1" rx="18.3" ry="6.9" fill="#0d0d0d" transform="rotate(0 124.7 87.1)"/><ellipse cx="143.8" cy="108.5" rx="37.5" ry="6.0" fill="#0a0a0a" transform="rotate(0 143.8 108.5)"/><ellipse cx="164.7" cy="56.2" rx="8.3" ry="10.3" fill="#999999" transform="rotate(0 164.7 56.2)"/><ellipse cx="202.1" cy="23.7" rx="5.0" ry="8.6" fill="#737373" transform="rotate(0 202.1 23.7)"/><ellipse cx="131.3" cy="98.2" rx="25.0" ry="4.3" fill="#737373" transform="rotate(0 131.3 98.2)"/><rect x="201.3" y="-2.0" width="22.7" height="75.4" fill="#1f1f1f"/><rect x="173.0" y="97.4" width="51.0" height="17.1" fill="#1a1a1a"/><rect x="144.7" y="117.9" width="79.3" height="17.1" fill="#cccccc"/></g><path d="M-2.26,69.95 C0.79,64.53 11.62,69.38 16.06,71.67 C20.51,73.95 23.01,78.24 24.39,83.67 C25.78,89.10 28.84,100.81 24.39,104.24 C19.95,107.66 2.18,109.95 -2.26,104.24 C-6.70,98.52 -5.31,75.38 -2.26,69.95 Z" fill="#bfbfbf"/><path d="M17.73,41.67 C18.15,40.24 19.40,38.67 21.06,38.24 C22.73,37.82 25.78,38.53 27.73,39.10 C29.67,39.67 31.06,41.81 32.72,41.67 C34.39,41.53 35.78,38.67 37.72,38.24 C39.66,37.82 41.89,38.53 44.39,39.10 C46.88,39.67 49.94,40.67 52.71,41.67 C55.49,42.67 59.10,43.96 61.04,45.10 C62.99,46.24 64.65,47.24 64.38,48.53 C64.10,49.81 61.88,51.96 59.38,52.81 C56.88,53.67 52.44,53.81 49.38,53.67 C46.33,53.53 43.55,52.81 41.05,51.96 C38.55,51.10 36.06,48.96 34.39,48.53 C32.72,48.10 32.72,49.24 31.06,49.39 C29.39,49.53 26.48,49.81 24.39,49.39 C22.31,48.96 19.67,48.10 18.56,46.81 C17.45,45.53 17.31,43.10 17.73,41.67 Z" fill="#9e9e9e" stroke="#9e9e9e" stroke-width="5" stroke-linejoin="round"/><path d="M17.73,41.67 C18.15,40.24 19.40,38.67 21.06,38.24 C22.73,37.82 25.78,38.53 27.73,39.10 C29.67,39.67 31.06,41.81 32.72,41.67 C34.39,41.53 35.78,38.67 37.72,38.24 C39.66,37.82 41.89,38.53 44.39,39.10 C46.88,39.67 49.94,40.67 52.71,41.67 C55.49,42.67 59.10,43.96 61.04,45.10 C62.99,46.24 64.65,47.24 64.38,48.53 C64.10,49.81 61.88,51.96 59.38,52.81 C56.88,53.67 52.44,53.81 49.38,53.67 C46.33,53.53 43.55,52.81 41.05,51.96 C38.55,51.10 36.06,48.96 34.39,48.53 C32.72,48.10 32.72,49.24 31.06,49.39 C29.39,49.53 26.48,49.81 24.39,49.39 C22.31,48.96 19.67,48.10 18.56,46.81 C17.45,45.53 17.31,43.10 17.73,41.67 Z" fill="#dedede"/><path d="M19.40,74.24 C20.37,72.67 23.28,72.81 26.06,72.53 C28.84,72.24 33.00,72.24 36.06,72.53 C39.11,72.81 42.30,73.38 44.39,74.24 C46.47,75.10 48.27,76.24 48.55,77.67 C48.83,79.10 47.86,81.67 46.05,82.81 C44.25,83.95 40.78,84.24 37.72,84.52 C34.67,84.81 30.64,84.95 27.73,84.52 C24.81,84.10 21.62,83.67 20.23,81.95 C18.84,80.24 18.42,75.81 19.40,74.24 Z" fill="#9e9e9e" stroke="#9e9e9e" stroke-width="5" stroke-linejoin="round"/><path d="M19.40,74.24 C20.37,72.67 23.28,72.81 26.06,72.53 C28.84,72.24 33.00,72.24 36.06,72.53 C39.11,72.81 42.30,73.38 44.39,74.24 C46.47,75.10 48.27,76.24 48.55,77.67 C48.83,79.10 47.86,81.67 46.05,82.81 C44.25,83.95 40.78,84.24 37.72,84.52 C34.67,84.81 30.64,84.95 27.73,84.52 C24.81,84.10 21.62,83.67 20.23,81.95 C18.84,80.24 18.42,75.81 19.40,74.24 Z" fill="#dedede"/><path d="M62.71,117.95 C64.93,115.81 75.43,117.23 82.70,117.09 C89.98,116.95 96.03,116.95 106.36,117.09 C116.68,117.23 126.40,117.81 144.67,117.95 C162.94,118.09 204.09,115.38 215.97,117.95 C227.86,120.52 234.24,130.80 215.97,133.38 C197.70,135.95 128.57,133.38 106.36,133.38 C84.14,133.38 88.86,133.95 82.70,133.38 C76.54,132.80 72.71,132.52 69.37,129.95 C66.04,127.38 60.49,120.09 62.71,117.95 Z" fill="#dedede"/><path d="M143.84,81.95 C144.62,80.52 145.09,78.52 148.00,77.67 C150.92,76.81 156.61,77.10 161.33,76.81 C166.05,76.53 171.05,76.10 176.32,75.95 C181.60,75.81 186.32,76.10 192.98,75.95 C199.65,75.81 212.42,72.24 216.31,75.10 C220.19,77.95 220.75,90.10 216.31,93.09 C211.86,96.09 196.31,93.01 189.65,93.09 C182.99,93.18 181.88,93.61 176.32,93.61 C170.77,93.61 161.33,93.61 156.33,93.09 C151.34,92.58 148.50,91.67 146.34,90.52 C144.17,89.38 143.76,87.67 143.34,86.24 C142.92,84.81 143.06,83.38 143.84,81.95 Z" fill="#9e9e9e" stroke="#9e9e9e" stroke-width="5" stroke-linejoin="round"/><path d="M143.84,81.95 C144.62,80.52 145.09,78.52 148.00,77.67 C150.92,76.81 156.61,77.10 161.33,76.81 C166.05,76.53 171.05,76.10 176.32,75.95 C181.60,75.81 186.32,76.10 192.98,75.95 C199.65,75.81 212.42,72.24 216.31,75.10 C220.19,77.95 220.75,90.10 216.31,93.09 C211.86,96.09 196.31,93.01 189.65,93.09 C182.99,93.18 181.88,93.61 176.32,93.61 C170.77,93.61 161.33,93.61 156.33,93.09 C151.34,92.58 148.50,91.67 146.34,90.52 C144.17,89.38 143.76,87.67 143.34,86.24 C142.92,84.81 143.06,83.38 143.84,81.95 Z" fill="#dedede"/><ellipse cx="178.0" cy="12.5" rx="3.0" ry="6.0" fill="#9e9e9e" stroke="#9e9e9e" stroke-width="5" transform="rotate(0 178.0 12.5)"/><ellipse cx="178.0" cy="12.5" rx="3.0" ry="6.0" fill="#dedede" transform="rotate(0 178.0 12.5)"/><ellipse cx="146.3" cy="18.5" rx="2.3" ry="6.0" fill="#9e9e9e" stroke="#9e9e9e" stroke-width="5" transform="rotate(0 146.3 18.5)"/><ellipse cx="146.3" cy="18.5" rx="2.3" ry="6.0" fill="#dedede" transform="rotate(0 146.3 18.5)"/><ellipse cx="115.5" cy="34.0" rx="3.0" ry="3.4" fill="#a6a6a6" transform="rotate(0 115.5 34.0)"/><ellipse cx="167.2" cy="28.8" rx="1.7" ry="2.6" fill="#9e9e9e" stroke="#9e9e9e" stroke-width="5" transform="rotate(0 167.2 28.8)"/><ellipse cx="167.2" cy="28.8" rx="1.7" ry="2.6" fill="#bfbfbf" transform="rotate(0 167.2 28.8)"/><ellipse cx="111.4" cy="2.2" rx="2.0" ry="3.4" fill="#9e9e9e" stroke="#9e9e9e" stroke-width="5" transform="rotate(0 111.4 2.2)"/><ellipse cx="111.4" cy="2.2" rx="2.0" ry="3.4" fill="#dedede" transform="rotate(0 111.4 2.2)"/>
</g></g>
<rect x="0" y="0" width="214" height="137" fill="url(#a0)" mask="url(#mke1)"/>
<path d="M17.73,41.67 C18.15,40.24 19.40,38.67 21.06,38.24 C22.73,37.82 25.78,38.53 27.73,39.10 C29.67,39.67 31.06,41.81 32.72,41.67 C34.39,41.53 35.78,38.67 37.72,38.24 C39.66,37.82 41.89,38.53 44.39,39.10 C46.88,39.67 49.94,40.67 52.71,41.67 C55.49,42.67 59.10,43.96 61.04,45.10 C62.99,46.24 64.65,47.24 64.38,48.53 C64.10,49.81 61.88,51.96 59.38,52.81 C56.88,53.67 52.44,53.81 49.38,53.67 C46.33,53.53 43.55,52.81 41.05,51.96 C38.55,51.10 36.06,48.96 34.39,48.53 C32.72,48.10 32.72,49.24 31.06,49.39 C29.39,49.53 26.48,49.81 24.39,49.39 C22.31,48.96 19.67,48.10 18.56,46.81 C17.45,45.53 17.31,43.10 17.73,41.67 Z" fill="none" stroke="#000" stroke-width="1.3"/><path d="M19.40,74.24 C20.37,72.67 23.28,72.81 26.06,72.53 C28.84,72.24 33.00,72.24 36.06,72.53 C39.11,72.81 42.30,73.38 44.39,74.24 C46.47,75.10 48.27,76.24 48.55,77.67 C48.83,79.10 47.86,81.67 46.05,82.81 C44.25,83.95 40.78,84.24 37.72,84.52 C34.67,84.81 30.64,84.95 27.73,84.52 C24.81,84.10 21.62,83.67 20.23,81.95 C18.84,80.24 18.42,75.81 19.40,74.24 Z" fill="none" stroke="#000" stroke-width="1.3"/><path d="M62.71,117.95 C66.04,117.81 75.43,117.23 82.70,117.09 C89.98,116.95 96.03,116.95 106.36,117.09 C116.68,117.23 138.29,117.81 144.67,117.95" fill="none" stroke="#000" stroke-width="1.2"/><path d="M69.37,130.80 C71.59,131.23 76.54,132.95 82.70,133.38 C88.86,133.80 96.03,133.38 106.36,133.38 C116.68,133.38 138.29,133.38 144.67,133.38" fill="none" stroke="#000" stroke-width="1.2"/><path d="M82.70,37.39 C86.03,34.82 99.36,34.82 102.69,37.39 C106.02,39.96 106.02,50.24 102.69,52.81 C99.36,55.38 86.03,55.38 82.70,52.81 C79.37,50.24 79.37,39.96 82.70,37.39 Z" fill="url(#a270)"/><path d="M143.84,81.95 C144.62,80.52 145.09,78.52 148.00,77.67 C150.92,76.81 156.61,77.10 161.33,76.81 C166.05,76.53 171.05,76.10 176.32,75.95 C181.60,75.81 186.32,76.10 192.98,75.95 C199.65,75.81 212.42,72.24 216.31,75.10 C220.19,77.95 220.75,90.10 216.31,93.09 C211.86,96.09 196.31,93.01 189.65,93.09 C182.99,93.18 181.88,93.61 176.32,93.61 C170.77,93.61 161.33,93.61 156.33,93.09 C151.34,92.58 148.50,91.67 146.34,90.52 C144.17,89.38 143.76,87.67 143.34,86.24 C142.92,84.81 143.06,83.38 143.84,81.95 Z" fill="none" stroke="#000" stroke-width="1.3"/><ellipse cx="178.0" cy="12.5" rx="3.0" ry="6.0" fill="none" stroke="#000" stroke-width="1.3" transform="rotate(0 178.0 12.5)"/><ellipse cx="146.3" cy="18.5" rx="2.3" ry="6.0" fill="none" stroke="#000" stroke-width="1.3" transform="rotate(0 146.3 18.5)"/><path d="M112.52,33.96 C112.52,32.82 114.52,30.53 115.52,30.53 C116.52,30.53 118.52,32.82 118.52,33.96 C118.52,35.10 116.52,37.39 115.52,37.39 C114.52,37.39 112.52,35.10 112.52,33.96 Z" fill="none" stroke="#000" stroke-width="1.1"/><ellipse cx="167.2" cy="28.8" rx="1.7" ry="2.6" fill="none" stroke="#000" stroke-width="1.3" transform="rotate(0 167.2 28.8)"/><ellipse cx="111.4" cy="2.2" rx="2.0" ry="3.4" fill="none" stroke="#000" stroke-width="1.3" transform="rotate(0 111.4 2.2)"/><path d="M156.33,45.96 C159.11,42.53 170.22,42.53 172.99,45.96 C175.77,49.39 175.77,63.10 172.99,66.53 C170.22,69.95 159.11,69.95 156.33,66.53 C153.56,63.10 153.56,49.39 156.33,45.96 Z" fill="url(#a270)"/>
<path d="M-2,-2 L216.0,-2 L216.0,139.0 L-2,139.0 Z M2.90,0.00 L3.08,2.29 L3.26,4.58 L3.46,6.87 L3.67,9.17 L3.90,11.46 L4.13,13.75 L4.38,16.04 L4.65,18.33 L4.93,20.62 L5.23,22.92 L5.55,25.21 L5.89,27.50 L6.25,29.79 L6.63,32.08 L7.03,34.38 L7.46,36.67 L7.91,38.96 L8.39,41.25 L8.91,43.54 L9.45,45.83 L10.02,48.12 L10.63,50.42 L11.28,52.71 L11.96,55.00 L12.69,57.29 L13.46,59.58 L14.28,61.88 L15.15,64.17 L16.07,66.46 L17.05,68.75 L18.09,71.04 L19.19,73.33 L20.36,75.63 L21.59,77.92 L22.91,80.21 L24.30,82.50 L25.78,84.79 L27.35,87.08 L29.01,89.38 L30.78,91.67 L32.65,93.96 L34.63,96.25 L36.74,98.54 L38.98,100.83 L41.35,103.12 L43.86,105.42 L46.53,107.71 L49.36,110.00 L52.36,112.29 L55.55,114.58 L58.93,116.88 L62.51,119.17 L66.31,121.46 L70.35,123.75 L74.63,126.04 L79.17,128.33 L83.98,130.62 L89.09,132.92 L94.51,135.21 L100.26,137.50 L113.74,137.50 L119.49,135.21 L124.91,132.92 L130.02,130.62 L134.83,128.33 L139.37,126.04 L143.65,123.75 L147.69,121.46 L151.49,119.17 L155.07,116.88 L158.45,114.58 L161.64,112.29 L164.64,110.00 L167.47,107.71 L170.14,105.42 L172.65,103.12 L175.02,100.83 L177.26,98.54 L179.37,96.25 L181.35,93.96 L183.22,91.67 L184.99,89.38 L186.65,87.08 L188.22,84.79 L189.70,82.50 L191.09,80.21 L192.41,77.92 L193.64,75.63 L194.81,73.33 L195.91,71.04 L196.95,68.75 L197.93,66.46 L198.85,64.17 L199.72,61.88 L200.54,59.58 L201.31,57.29 L202.04,55.00 L202.72,52.71 L203.37,50.42 L203.98,48.12 L204.55,45.83 L205.09,43.54 L205.61,41.25 L206.09,38.96 L206.54,36.67 L206.97,34.38 L207.37,32.08 L207.75,29.79 L208.11,27.50 L208.45,25.21 L208.77,22.92 L209.07,20.62 L209.35,18.33 L209.62,16.04 L209.87,13.75 L210.10,11.46 L210.33,9.17 L210.54,6.87 L210.74,4.58 L210.92,2.29 L211.10,0.00 Z" fill="#fff" fill-opacity="0.5" fill-rule="evenodd"/>

<path d="M2.90,0.00 L3.08,2.29 L3.26,4.58 L3.46,6.87 L3.67,9.17 L3.90,11.46 L4.13,13.75 L4.38,16.04 L4.65,18.33 L4.93,20.62 L5.23,22.92 L5.55,25.21 L5.89,27.50 L6.25,29.79 L6.63,32.08 L7.03,34.38 L7.46,36.67 L7.91,38.96 L8.39,41.25 L8.91,43.54 L9.45,45.83 L10.02,48.12 L10.63,50.42 L11.28,52.71 L11.96,55.00 L12.69,57.29 L13.46,59.58 L14.28,61.88 L15.15,64.17 L16.07,66.46 L17.05,68.75 L18.09,71.04 L19.19,73.33 L20.36,75.63 L21.59,77.92 L22.91,80.21 L24.30,82.50 L25.78,84.79 L27.35,87.08 L29.01,89.38 L30.78,91.67 L32.65,93.96 L34.63,96.25 L36.74,98.54 L38.98,100.83 L41.35,103.12 L43.86,105.42 L46.53,107.71 L49.36,110.00 L52.36,112.29 L55.55,114.58 L58.93,116.88 L62.51,119.17 L66.31,121.46 L70.35,123.75 L74.63,126.04 L79.17,128.33 L83.98,130.62 L89.09,132.92 L94.51,135.21 L100.26,137.50 L113.74,137.50 L119.49,135.21 L124.91,132.92 L130.02,130.62 L134.83,128.33 L139.37,126.04 L143.65,123.75 L147.69,121.46 L151.49,119.17 L155.07,116.88 L158.45,114.58 L161.64,112.29 L164.64,110.00 L167.47,107.71 L170.14,105.42 L172.65,103.12 L175.02,100.83 L177.26,98.54 L179.37,96.25 L181.35,93.96 L183.22,91.67 L184.99,89.38 L186.65,87.08 L188.22,84.79 L189.70,82.50 L191.09,80.21 L192.41,77.92 L193.64,75.63 L194.81,73.33 L195.91,71.04 L196.95,68.75 L197.93,66.46 L198.85,64.17 L199.72,61.88 L200.54,59.58 L201.31,57.29 L202.04,55.00 L202.72,52.71 L203.37,50.42 L203.98,48.12 L204.55,45.83 L205.09,43.54 L205.61,41.25 L206.09,38.96 L206.54,36.67 L206.97,34.38 L207.37,32.08 L207.75,29.79 L208.11,27.50 L208.45,25.21 L208.77,22.92 L209.07,20.62 L209.35,18.33 L209.62,16.04 L209.87,13.75 L210.10,11.46 L210.33,9.17 L210.54,6.87 L210.74,4.58 L210.92,2.29 L211.10,0.00 Z" fill="none" stroke="#222" stroke-width="0.6"/>
</g>
<rect x="0.3" y="0.3" width="213.4" height="136.4" fill="none" stroke="#777" stroke-width="0.8"/>
</svg>
<div class="t ti" style="left:78.4px;top:660.2px;">(e-1) AO-DPC5</div>
<div class="t tk" style="left:43.6px;top:811.4px;width:0;"><span style="position:absolute;transform:translateX(-50%)">2001</span></div>
<div class="t tk" style="left:79.6px;top:811.4px;width:0;"><span style="position:absolute;transform:translateX(-50%)">2005</span></div>
<div class="t tk" style="left:122.5px;top:811.4px;width:0;"><span style="position:absolute;transform:translateX(-50%)">2009</span></div>
<div class="t tk" style="left:165.4px;top:811.4px;width:0;"><span style="position:absolute;transform:translateX(-50%)">2013</span></div>
<div class="t tk" style="left:205.0px;top:811.4px;width:0;"><span style="position:absolute;transform:translateX(-50%)">2017</span></div>
<div class="t tk" style="left:237.8px;top:811.4px;width:0;"><span style="position:absolute;transform:translateX(-50%)">2019</span></div>
<svg class="p" style="left:253.60px;top:674.00px;width:207.90px;height:134.50px" viewBox="0 0 214 137" preserveAspectRatio="none">
<clipPath id="cle2"><rect x="0" y="0" width="214" height="137"/></clipPath>
<filter id="xte2" x="-10" y="-10" width="234" height="157" filterUnits="userSpaceOnUse" color-interpolation-filters="sRGB"><feTurbulence type="turbulence" baseFrequency="0.07 0.015" numOctaves="2" seed="51"/><feColorMatrix type="matrix" values="1.1 0 0 0 0  1.1 0 0 0 0  1.1 0 0 0 0  0 0 0 0 1"/></filter>
<filter id="xme2" x="-10" y="-10" width="234" height="157" filterUnits="userSpaceOnUse" color-interpolation-filters="sRGB"><feTurbulence type="turbulence" baseFrequency="0.035 0.03" numOctaves="2" seed="151"/><feColorMatrix type="matrix" values="1.1 0 0 0 0  1.1 0 0 0 0  1.1 0 0 0 0  0 0 0 0 1"/></filter>
<filter id="xbe2" x="-10" y="-10" width="234" height="157" filterUnits="userSpaceOnUse" color-interpolation-filters="sRGB"><feTurbulence type="turbulence" baseFrequency="0.01 0.05" numOctaves="2" seed="251"/><feColorMatrix type="matrix" values="1.1 0 0 0 0  1.1 0 0 0 0  1.1 0 0 0 0  0 0 0 0 1"/></filter>
<g clip-path="url(#cle2)">
<filter id="thre2" x="-10" y="-10" width="234" height="157" filterUnits="userSpaceOnUse" color-interpolation-filters="sRGB"><feGaussianBlur stdDeviation="1.3"/><feComponentTransfer><feFuncR type="discrete" tableValues="0 1"/><feFuncG type="discrete" tableValues="0 1"/><feFuncB type="discrete" tableValues="0 1"/><feFuncA type="linear" slope="0" intercept="1"/></feComponentTransfer></filter>
<mask id="mke2" maskUnits="userSpaceOnUse" x="-10" y="-10" width="234" height="157"><g filter="url(#thre2)"><use href="#rawe2"/></g></mask>
<g filter="url(#par)"><g id="rawe2">
<rect x="-10" y="-10" width="234" height="157" fill="#333333"/><g mask="url(#mtop)"><rect x="-10" y="-10" width="234" height="157" filter="url(#xte2)"/></g><g mask="url(#mmid)"><rect x="-10" y="-10" width="234" height="157" filter="url(#xme2)"/></g><g mask="url(#mbot)"><rect x="-10" y="-10" width="234" height="157" filter="url(#xbe2)"/></g><g filter="url(#bl2)" opacity="0.9"><ellipse cx="20.9" cy="16.8" rx="8.7" ry="15.4" fill="#0f0f0f" transform="rotate(0 20.9 16.8)"/><ellipse cx="43.4" cy="11.7" rx="5.2" ry="10.3" fill="#0f0f0f" transform="rotate(0 43.4 11.7)"/><ellipse cx="64.2" cy="13.4" rx="6.9" ry="12.0" fill="#0f0f0f" transform="rotate(0 64.2 13.4)"/><ellipse cx="78.0" cy="20.2" rx="5.2" ry="10.3" fill="#121212" transform="rotate(0 78.0 20.2)"/><ellipse cx="102.2" cy="25.4" rx="6.9" ry="10.3" fill="#121212" transform="rotate(0 102.2 25.4)"/><ellipse cx="46.8" cy="75.1" rx="12.1" ry="5.1" fill="#0d0d0d" transform="rotate(0 46.8 75.1)"/><ellipse cx="88.4" cy="68.2" rx="20.8" ry="6.9" fill="#0a0a0a" transform="rotate(0 88.4 68.2)"/><ellipse cx="67.6" cy="39.1" rx="26.0" ry="6.9" fill="#737373" transform="rotate(0 67.6 39.1)"/><ellipse cx="12.2" cy="23.7" rx="3.5" ry="15.4" fill="#999999" transform="rotate(0 12.2 23.7)"/><ellipse cx="50.3" cy="94.0" rx="17.3" ry="5.1" fill="#8c8c8c" transform="rotate(0 50.3 94.0)"/><ellipse cx="53.8" cy="56.2" rx="15.6" ry="8.6" fill="#808080" transform="rotate(0 53.8 56.2)"/><rect x="50.3" y="104.2" width="173.7" height="12.0" fill="#0d0d0d"/><rect x="-10.0" y="-2.0" width="22.2" height="51.4" fill="#1f1f1f"/><rect x="-10.0" y="66.5" width="34.3" height="10.3" fill="#1f1f1f"/><rect x="-10.0" y="104.2" width="60.3" height="13.7" fill="#1a1a1a"/><rect x="-10.0" y="121.4" width="234.0" height="13.7" fill="#d9d9d9"/><ellipse cx="110.6" cy="49.4" rx="5.2" ry="8.6" fill="#0d0d0d" transform="rotate(0 110.6 49.4)"/><ellipse cx="134.8" cy="27.1" rx="12.1" ry="13.7" fill="#0f0f0f" transform="rotate(0 134.8 27.1)"/><ellipse cx="188.5" cy="43.4" rx="13.9" ry="6.0" fill="#0d0d0d" transform="rotate(0 188.5 43.4)"/><ellipse cx="144.4" cy="107.7" rx="39.0" ry="6.9" fill="#0a0a0a" transform="rotate(0 144.4 107.7)"/><ellipse cx="126.2" cy="11.7" rx="5.2" ry="10.3" fill="#121212" transform="rotate(0 126.2 11.7)"/><ellipse cx="164.3" cy="15.1" rx="4.3" ry="10.3" fill="#121212" transform="rotate(0 164.3 15.1)"/><ellipse cx="195.4" cy="13.4" rx="4.3" ry="10.3" fill="#121212" transform="rotate(0 195.4 13.4)"/><ellipse cx="167.7" cy="43.4" rx="3.5" ry="11.1" fill="#999999" transform="rotate(0 167.7 43.4)"/><ellipse cx="150.4" cy="55.4" rx="5.2" ry="14.6" fill="#8c8c8c" transform="rotate(0 150.4 55.4)"/><ellipse cx="192.0" cy="23.7" rx="10.4" ry="8.6" fill="#737373" transform="rotate(0 192.0 23.7)"/><ellipse cx="166.0" cy="76.8" rx="26.0" ry="6.9" fill="#737373" transform="rotate(0 166.0 76.8)"/><rect x="202.4" y="-2.0" width="21.6" height="68.6" fill="#1f1f1f"/><rect x="202.4" y="70.0" width="21.6" height="13.7" fill="#b2b2b2"/><rect x="174.7" y="92.2" width="49.3" height="36.0" fill="#1a1a1a"/><rect x="18.8" y="128.2" width="205.2" height="12.0" fill="#d9d9d9"/></g><path d="M-3.38,80.24 C1.24,77.10 17.69,79.67 24.33,81.95 C30.96,84.24 35.01,90.81 36.45,93.95 C37.89,97.09 39.62,99.67 32.99,100.81 C26.35,101.95 2.68,104.24 -3.38,100.81 C-9.44,97.38 -8.00,83.38 -3.38,80.24 Z" fill="#bfbfbf"/><ellipse cx="49.4" cy="56.2" rx="8.7" ry="4.8" fill="#9e9e9e" stroke="#9e9e9e" stroke-width="5" transform="rotate(0 49.4 56.2)"/><ellipse cx="49.4" cy="56.2" rx="8.7" ry="4.8" fill="#dedede" transform="rotate(0 49.4 56.2)"/><ellipse cx="88.4" cy="39.1" rx="4.3" ry="5.1" fill="#9e9e9e" stroke="#9e9e9e" stroke-width="5" transform="rotate(0 88.4 39.1)"/><ellipse cx="88.4" cy="39.1" rx="4.3" ry="5.1" fill="#dedede" transform="rotate(0 88.4 39.1)"/><ellipse cx="13.6" cy="28.8" rx="3.5" ry="5.1" fill="#9e9e9e" stroke="#9e9e9e" stroke-width="5" transform="rotate(0 13.6 28.8)"/><ellipse cx="13.6" cy="28.8" rx="3.5" ry="5.1" fill="#dedede" transform="rotate(0 13.6 28.8)"/><ellipse cx="91.9" cy="9.1" rx="4.3" ry="9.4" fill="#9e9e9e" stroke="#9e9e9e" stroke-width="5" transform="rotate(0 91.9 9.1)"/><ellipse cx="91.9" cy="9.1" rx="4.3" ry="9.4" fill="#dedede" transform="rotate(0 91.9 9.1)"/><path d="M84.25,98.60 C84.79,99.51 92.68,100.43 98.95,100.86 C105.21,101.29 114.19,101.56 121.81,101.18 C129.43,100.81 138.69,99.73 144.68,98.60 C150.67,97.47 154.75,96.01 157.74,94.40 C160.74,92.78 162.92,90.63 162.64,88.90 C162.37,87.18 159.11,85.08 156.11,84.06 C153.12,83.03 148.22,82.76 144.68,82.76 C141.14,82.76 138.69,83.19 134.88,84.06 C131.07,84.92 126.17,86.59 121.81,87.93 C117.46,89.28 113.10,90.90 108.75,92.13 C104.39,93.37 99.76,94.29 95.68,95.37 C91.60,96.44 83.70,97.68 84.25,98.60 Z" fill="#9e9e9e" stroke="#9e9e9e" stroke-width="5" stroke-linejoin="round"/><path d="M84.25,98.60 C84.79,99.51 92.68,100.43 98.95,100.86 C105.21,101.29 114.19,101.56 121.81,101.18 C129.43,100.81 138.69,99.73 144.68,98.60 C150.67,97.47 154.75,96.01 157.74,94.40 C160.74,92.78 162.92,90.63 162.64,88.90 C162.37,87.18 159.11,85.08 156.11,84.06 C153.12,83.03 148.22,82.76 144.68,82.76 C141.14,82.76 138.69,83.19 134.88,84.06 C131.07,84.92 126.17,86.59 121.81,87.93 C117.46,89.28 113.10,90.90 108.75,92.13 C104.39,93.37 99.76,94.29 95.68,95.37 C91.60,96.44 83.70,97.68 84.25,98.60 Z" fill="#dedede"/><path d="M68.89,122.83 C73.25,117.29 82.50,122.03 89.15,121.86 C95.79,121.70 102.76,121.59 108.75,121.86 C114.73,122.13 121.27,117.93 125.08,123.48 C128.89,129.03 141.96,149.87 131.61,155.15 C121.27,160.43 73.47,160.53 63.01,155.15 C52.56,149.76 64.54,128.38 68.89,122.83 Z" fill="#dedede"/><path d="M156.49,59.67 C157.35,58.10 158.94,55.53 160.82,54.53 C162.69,53.53 164.86,53.10 167.74,53.67 C170.63,54.24 175.39,56.38 178.13,57.96 C180.87,59.53 183.90,61.38 184.19,63.10 C184.48,64.81 182.61,67.10 179.86,68.24 C177.12,69.38 171.49,70.10 167.74,69.95 C163.99,69.81 159.37,68.38 157.35,67.38 C155.33,66.38 155.77,65.24 155.62,63.96 C155.48,62.67 155.62,61.24 156.49,59.67 Z" fill="#9e9e9e" stroke="#9e9e9e" stroke-width="5" stroke-linejoin="round"/><path d="M156.49,59.67 C157.35,58.10 158.94,55.53 160.82,54.53 C162.69,53.53 164.86,53.10 167.74,53.67 C170.63,54.24 175.39,56.38 178.13,57.96 C180.87,59.53 183.90,61.38 184.19,63.10 C184.48,64.81 182.61,67.10 179.86,68.24 C177.12,69.38 171.49,70.10 167.74,69.95 C163.99,69.81 159.37,68.38 157.35,67.38 C155.33,66.38 155.77,65.24 155.62,63.96 C155.48,62.67 155.62,61.24 156.49,59.67 Z" fill="#dedede"/><ellipse cx="129.6" cy="68.2" rx="6.6" ry="4.3" fill="#9e9e9e" stroke="#9e9e9e" stroke-width="5" transform="rotate(0 129.6 68.2)"/><ellipse cx="129.6" cy="68.2" rx="6.6" ry="4.3" fill="#d1d1d1" transform="rotate(0 129.6 68.2)"/><ellipse cx="116.7" cy="34.8" rx="4.3" ry="3.1" fill="#a6a6a6" transform="rotate(0 116.7 34.8)"/><ellipse cx="153.9" cy="4.8" rx="2.4" ry="4.8" fill="#9e9e9e" stroke="#9e9e9e" stroke-width="5" transform="rotate(0 153.9 4.8)"/><ellipse cx="153.9" cy="4.8" rx="2.4" ry="4.8" fill="#dedede" transform="rotate(0 153.9 4.8)"/><ellipse cx="176.4" cy="7.4" rx="2.1" ry="4.3" fill="#9e9e9e" stroke="#9e9e9e" stroke-width="5" transform="rotate(0 176.4 7.4)"/><ellipse cx="176.4" cy="7.4" rx="2.1" ry="4.3" fill="#dedede" transform="rotate(0 176.4 7.4)"/><ellipse cx="185.1" cy="7.4" rx="2.1" ry="4.3" fill="#9e9e9e" stroke="#9e9e9e" stroke-width="5" transform="rotate(0 185.1 7.4)"/><ellipse cx="185.1" cy="7.4" rx="2.1" ry="4.3" fill="#dedede" transform="rotate(0 185.1 7.4)"/><ellipse cx="208.4" cy="6.5" rx="2.6" ry="6.0" fill="#9e9e9e" stroke="#9e9e9e" stroke-width="5" transform="rotate(0 208.4 6.5)"/><ellipse cx="208.4" cy="6.5" rx="2.6" ry="6.0" fill="#dedede" transform="rotate(0 208.4 6.5)"/>
</g></g>
<rect x="0" y="0" width="214" height="137" fill="url(#a315)" mask="url(#mke2)"/>
<ellipse cx="49.4" cy="56.2" rx="8.7" ry="4.8" fill="none" stroke="#000" stroke-width="1.3" transform="rotate(0 49.4 56.2)"/><ellipse cx="88.4" cy="39.1" rx="4.3" ry="5.1" fill="none" stroke="#000" stroke-width="1.3" transform="rotate(0 88.4 39.1)"/><ellipse cx="13.6" cy="28.8" rx="3.5" ry="5.1" fill="none" stroke="#000" stroke-width="1.3" transform="rotate(0 13.6 28.8)"/><ellipse cx="91.9" cy="9.1" rx="4.3" ry="9.4" fill="none" stroke="#000" stroke-width="1.3" transform="rotate(0 91.9 9.1)"/><path d="M84.25,98.60 C84.79,99.51 92.68,100.43 98.95,100.86 C105.21,101.29 114.19,101.56 121.81,101.18 C129.43,100.81 138.69,99.73 144.68,98.60 C150.67,97.47 154.75,96.01 157.74,94.40 C160.74,92.78 162.92,90.63 162.64,88.90 C162.37,87.18 159.11,85.08 156.11,84.06 C153.12,83.03 148.22,82.76 144.68,82.76 C141.14,82.76 138.69,83.19 134.88,84.06 C131.07,84.92 126.17,86.59 121.81,87.93 C117.46,89.28 113.10,90.90 108.75,92.13 C104.39,93.37 99.76,94.29 95.68,95.37 C91.60,96.44 83.70,97.68 84.25,98.60 Z" fill="none" stroke="#000" stroke-width="1.3"/><path d="M49.95,124.45 C53.10,124.18 62.36,123.26 68.89,122.83 C75.43,122.40 82.50,122.03 89.15,121.86 C95.79,121.70 102.76,121.59 108.75,121.86 C114.73,122.13 119.09,121.70 125.08,123.48 C131.07,125.26 141.41,131.02 144.68,132.53" fill="none" stroke="#000" stroke-width="1.2"/><path d="M32.99,90.52 C41.07,88.52 73.39,88.52 81.47,90.52 C89.55,92.52 89.55,100.52 81.47,102.52 C73.39,104.52 41.07,104.52 32.99,102.52 C24.90,100.52 24.90,92.52 32.99,90.52 Z" fill="url(#a225)"/><path d="M15.67,93.09 C15.67,91.67 21.44,88.81 24.33,88.81 C27.21,88.81 32.99,91.67 32.99,93.09 C32.99,94.52 27.21,97.38 24.33,97.38 C21.44,97.38 15.67,94.52 15.67,93.09 Z" fill="none" stroke="#000" stroke-width="1.1"/><path d="M156.49,59.67 C157.35,58.10 158.94,55.53 160.82,54.53 C162.69,53.53 164.86,53.10 167.74,53.67 C170.63,54.24 175.39,56.38 178.13,57.96 C180.87,59.53 183.90,61.38 184.19,63.10 C184.48,64.81 182.61,67.10 179.86,68.24 C177.12,69.38 171.49,70.10 167.74,69.95 C163.99,69.81 159.37,68.38 157.35,67.38 C155.33,66.38 155.77,65.24 155.62,63.96 C155.48,62.67 155.62,61.24 156.49,59.67 Z" fill="none" stroke="#000" stroke-width="1.3"/><ellipse cx="129.6" cy="68.2" rx="6.6" ry="4.3" fill="none" stroke="#000" stroke-width="1.3" transform="rotate(0 129.6 68.2)"/><path d="M112.33,34.82 C112.33,33.79 115.22,31.73 116.66,31.73 C118.10,31.73 120.99,33.79 120.99,34.82 C120.99,35.84 118.10,37.90 116.66,37.90 C115.22,37.90 112.33,35.84 112.33,34.82 Z" fill="none" stroke="#000" stroke-width="1.1"/><ellipse cx="153.9" cy="4.8" rx="2.4" ry="4.8" fill="none" stroke="#000" stroke-width="1.3" transform="rotate(0 153.9 4.8)"/><ellipse cx="176.4" cy="7.4" rx="2.1" ry="4.3" fill="none" stroke="#000" stroke-width="1.3" transform="rotate(0 176.4 7.4)"/><ellipse cx="185.1" cy="7.4" rx="2.1" ry="4.3" fill="none" stroke="#000" stroke-width="1.3" transform="rotate(0 185.1 7.4)"/><ellipse cx="208.4" cy="6.5" rx="2.6" ry="6.0" fill="none" stroke="#000" stroke-width="1.3" transform="rotate(0 208.4 6.5)"/>
<path d="M-2,-2 L216.0,-2 L216.0,139.0 L-2,139.0 Z M2.90,0.00 L3.08,2.29 L3.26,4.58 L3.46,6.87 L3.67,9.17 L3.90,11.46 L4.13,13.75 L4.38,16.04 L4.65,18.33 L4.93,20.62 L5.23,22.92 L5.55,25.21 L5.89,27.50 L6.25,29.79 L6.63,32.08 L7.03,34.38 L7.46,36.67 L7.91,38.96 L8.39,41.25 L8.91,43.54 L9.45,45.83 L10.02,48.12 L10.63,50.42 L11.28,52.71 L11.96,55.00 L12.69,57.29 L13.46,59.58 L14.28,61.88 L15.15,64.17 L16.07,66.46 L17.05,68.75 L18.09,71.04 L19.19,73.33 L20.36,75.63 L21.59,77.92 L22.91,80.21 L24.30,82.50 L25.78,84.79 L27.35,87.08 L29.01,89.38 L30.78,91.67 L32.65,93.96 L34.63,96.25 L36.74,98.54 L38.98,100.83 L41.35,103.12 L43.86,105.42 L46.53,107.71 L49.36,110.00 L52.36,112.29 L55.55,114.58 L58.93,116.88 L62.51,119.17 L66.31,121.46 L70.35,123.75 L74.63,126.04 L79.17,128.33 L83.98,130.62 L89.09,132.92 L94.51,135.21 L100.26,137.50 L113.74,137.50 L119.49,135.21 L124.91,132.92 L130.02,130.62 L134.83,128.33 L139.37,126.04 L143.65,123.75 L147.69,121.46 L151.49,119.17 L155.07,116.88 L158.45,114.58 L161.64,112.29 L164.64,110.00 L167.47,107.71 L170.14,105.42 L172.65,103.12 L175.02,100.83 L177.26,98.54 L179.37,96.25 L181.35,93.96 L183.22,91.67 L184.99,89.38 L186.65,87.08 L188.22,84.79 L189.70,82.50 L191.09,80.21 L192.41,77.92 L193.64,75.63 L194.81,73.33 L195.91,71.04 L196.95,68.75 L197.93,66.46 L198.85,64.17 L199.72,61.88 L200.54,59.58 L201.31,57.29 L202.04,55.00 L202.72,52.71 L203.37,50.42 L203.98,48.12 L204.55,45.83 L205.09,43.54 L205.61,41.25 L206.09,38.96 L206.54,36.67 L206.97,34.38 L207.37,32.08 L207.75,29.79 L208.11,27.50 L208.45,25.21 L208.77,22.92 L209.07,20.62 L209.35,18.33 L209.62,16.04 L209.87,13.75 L210.10,11.46 L210.33,9.17 L210.54,6.87 L210.74,4.58 L210.92,2.29 L211.10,0.00 Z" fill="#fff" fill-opacity="0.5" fill-rule="evenodd"/>

<path d="M2.90,0.00 L3.08,2.29 L3.26,4.58 L3.46,6.87 L3.67,9.17 L3.90,11.46 L4.13,13.75 L4.38,16.04 L4.65,18.33 L4.93,20.62 L5.23,22.92 L5.55,25.21 L5.89,27.50 L6.25,29.79 L6.63,32.08 L7.03,34.38 L7.46,36.67 L7.91,38.96 L8.39,41.25 L8.91,43.54 L9.45,45.83 L10.02,48.12 L10.63,50.42 L11.28,52.71 L11.96,55.00 L12.69,57.29 L13.46,59.58 L14.28,61.88 L15.15,64.17 L16.07,66.46 L17.05,68.75 L18.09,71.04 L19.19,73.33 L20.36,75.63 L21.59,77.92 L22.91,80.21 L24.30,82.50 L25.78,84.79 L27.35,87.08 L29.01,89.38 L30.78,91.67 L32.65,93.96 L34.63,96.25 L36.74,98.54 L38.98,100.83 L41.35,103.12 L43.86,105.42 L46.53,107.71 L49.36,110.00 L52.36,112.29 L55.55,114.58 L58.93,116.88 L62.51,119.17 L66.31,121.46 L70.35,123.75 L74.63,126.04 L79.17,128.33 L83.98,130.62 L89.09,132.92 L94.51,135.21 L100.26,137.50 L113.74,137.50 L119.49,135.21 L124.91,132.92 L130.02,130.62 L134.83,128.33 L139.37,126.04 L143.65,123.75 L147.69,121.46 L151.49,119.17 L155.07,116.88 L158.45,114.58 L161.64,112.29 L164.64,110.00 L167.47,107.71 L170.14,105.42 L172.65,103.12 L175.02,100.83 L177.26,98.54 L179.37,96.25 L181.35,93.96 L183.22,91.67 L184.99,89.38 L186.65,87.08 L188.22,84.79 L189.70,82.50 L191.09,80.21 L192.41,77.92 L193.64,75.63 L194.81,73.33 L195.91,71.04 L196.95,68.75 L197.93,66.46 L198.85,64.17 L199.72,61.88 L200.54,59.58 L201.31,57.29 L202.04,55.00 L202.72,52.71 L203.37,50.42 L203.98,48.12 L204.55,45.83 L205.09,43.54 L205.61,41.25 L206.09,38.96 L206.54,36.67 L206.97,34.38 L207.37,32.08 L207.75,29.79 L208.11,27.50 L208.45,25.21 L208.77,22.92 L209.07,20.62 L209.35,18.33 L209.62,16.04 L209.87,13.75 L210.10,11.46 L210.33,9.17 L210.54,6.87 L210.74,4.58 L210.92,2.29 L211.10,0.00 Z" fill="none" stroke="#222" stroke-width="0.6"/>
</g>
<rect x="0.3" y="0.3" width="213.4" height="136.4" fill="none" stroke="#777" stroke-width="0.8"/>
</svg>
<div class="t ti" style="left:305.0px;top:660.2px;">(e-2) NAO-DPC5</div>
<div class="t tk" style="left:266.1px;top:811.4px;width:0;"><span style="position:absolute;transform:translateX(-50%)">2001</span></div>
<div class="t tk" style="left:300.7px;top:811.4px;width:0;"><span style="position:absolute;transform:translateX(-50%)">2005</span></div>
<div class="t tk" style="left:342.0px;top:811.4px;width:0;"><span style="position:absolute;transform:translateX(-50%)">2009</span></div>
<div class="t tk" style="left:383.3px;top:811.4px;width:0;"><span style="position:absolute;transform:translateX(-50%)">2013</span></div>
<div class="t tk" style="left:421.4px;top:811.4px;width:0;"><span style="position:absolute;transform:translateX(-50%)">2017</span></div>
<div class="t tk" style="left:453.0px;top:811.4px;width:0;"><span style="position:absolute;transform:translateX(-50%)">2019</span></div>
<svg class="p" style="left:467.90px;top:674.00px;width:214.50px;height:134.50px" viewBox="0 0 214 137" preserveAspectRatio="none">
<clipPath id="cle3"><rect x="0" y="0" width="214" height="137"/></clipPath>
<filter id="xte3" x="-10" y="-10" width="234" height="157" filterUnits="userSpaceOnUse" color-interpolation-filters="sRGB"><feTurbulence type="turbulence" baseFrequency="0.07 0.015" numOctaves="2" seed="52"/><feColorMatrix type="matrix" values="1.1 0 0 0 0  1.1 0 0 0 0  1.1 0 0 0 0  0 0 0 0 1"/></filter>
<filter id="xme3" x="-10" y="-10" width="234" height="157" filterUnits="userSpaceOnUse" color-interpolation-filters="sRGB"><feTurbulence type="turbulence" baseFrequency="0.035 0.03" numOctaves="2" seed="152"/><feColorMatrix type="matrix" values="1.1 0 0 0 0  1.1 0 0 0 0  1.1 0 0 0 0  0 0 0 0 1"/></filter>
<filter id="xbe3" x="-10" y="-10" width="234" height="157" filterUnits="userSpaceOnUse" color-interpolation-filters="sRGB"><feTurbulence type="turbulence" baseFrequency="0.01 0.05" numOctaves="2" seed="252"/><feColorMatrix type="matrix" values="1.1 0 0 0 0  1.1 0 0 0 0  1.1 0 0 0 0  0 0 0 0 1"/></filter>
<g clip-path="url(#cle3)">
<filter id="thre3" x="-10" y="-10" width="234" height="157" filterUnits="userSpaceOnUse" color-interpolation-filters="sRGB"><feGaussianBlur stdDeviation="1.3"/><feComponentTransfer><feFuncR type="discrete" tableValues="0 1"/><feFuncG type="discrete" tableValues="0 1"/><feFuncB type="discrete" tableValues="0 1"/><feFuncA type="linear" slope="0" intercept="1"/></feComponentTransfer></filter>
<mask id="mke3" maskUnits="userSpaceOnUse" x="-10" y="-10" width="234" height="157"><g filter="url(#thre3)"><use href="#rawe3"/></g></mask>
<g filter="url(#par)"><g id="rawe3">
<rect x="-10" y="-10" width="234" height="157" fill="#333333"/><g mask="url(#mtop)"><rect x="-10" y="-10" width="234" height="157" filter="url(#xte3)"/></g><g mask="url(#mmid)"><rect x="-10" y="-10" width="234" height="157" filter="url(#xme3)"/></g><g mask="url(#mbot)"><rect x="-10" y="-10" width="234" height="157" filter="url(#xbe3)"/></g><g filter="url(#bl2)" opacity="0.9"><ellipse cx="19.9" cy="11.7" rx="6.7" ry="12.0" fill="#0f0f0f" transform="rotate(0 19.9 11.7)"/><ellipse cx="40.1" cy="15.1" rx="6.7" ry="15.4" fill="#0f0f0f" transform="rotate(0 40.1 15.1)"/><ellipse cx="77.0" cy="11.7" rx="6.7" ry="10.3" fill="#0f0f0f" transform="rotate(0 77.0 11.7)"/><ellipse cx="56.8" cy="53.7" rx="16.8" ry="4.3" fill="#0a0a0a" transform="rotate(0 56.8 53.7)"/><ellipse cx="58.5" cy="75.1" rx="10.1" ry="5.1" fill="#0d0d0d" transform="rotate(0 58.5 75.1)"/><ellipse cx="53.5" cy="96.5" rx="25.2" ry="7.7" fill="#0a0a0a" transform="rotate(0 53.5 96.5)"/><ellipse cx="23.3" cy="39.1" rx="8.4" ry="18.9" fill="#999999" transform="rotate(0 23.3 39.1)"/><ellipse cx="65.2" cy="64.0" rx="16.8" ry="6.0" fill="#737373" transform="rotate(0 65.2 64.0)"/><ellipse cx="93.8" cy="63.1" rx="11.7" ry="13.7" fill="#737373" transform="rotate(0 93.8 63.1)"/><ellipse cx="90.4" cy="94.8" rx="15.1" ry="5.1" fill="#808080" transform="rotate(0 90.4 94.8)"/><ellipse cx="105.5" cy="8.2" rx="5.0" ry="12.0" fill="#999999" transform="rotate(0 105.5 8.2)"/><rect x="48.5" y="107.7" width="175.5" height="7.7" fill="#0d0d0d"/><rect x="-10.0" y="94.0" width="58.5" height="20.6" fill="#1a1a1a"/><rect x="-10.0" y="116.2" width="83.6" height="8.6" fill="#cccccc"/><rect x="-10.0" y="124.8" width="83.6" height="15.4" fill="#666666"/><ellipse cx="112.6" cy="20.2" rx="6.7" ry="12.0" fill="#121212" transform="rotate(0 112.6 20.2)"/><ellipse cx="144.5" cy="13.4" rx="8.4" ry="12.0" fill="#0f0f0f" transform="rotate(0 144.5 13.4)"/><ellipse cx="174.7" cy="11.7" rx="5.0" ry="8.6" fill="#121212" transform="rotate(0 174.7 11.7)"/><ellipse cx="200.7" cy="25.4" rx="5.9" ry="15.4" fill="#121212" transform="rotate(0 200.7 25.4)"/><ellipse cx="134.4" cy="51.1" rx="13.4" ry="5.1" fill="#0d0d0d" transform="rotate(0 134.4 51.1)"/><ellipse cx="145.3" cy="83.7" rx="11.7" ry="5.1" fill="#080808" transform="rotate(0 145.3 83.7)"/><ellipse cx="177.2" cy="73.4" rx="13.4" ry="3.4" fill="#0a0a0a" transform="rotate(0 177.2 73.4)"/><ellipse cx="150.3" cy="32.2" rx="10.1" ry="3.4" fill="#0d0d0d" transform="rotate(0 150.3 32.2)"/><ellipse cx="139.4" cy="107.7" rx="33.6" ry="5.1" fill="#1a1a1a" transform="rotate(0 139.4 107.7)"/><ellipse cx="164.6" cy="47.7" rx="16.8" ry="6.9" fill="#737373" transform="rotate(0 164.6 47.7)"/><ellipse cx="109.2" cy="87.1" rx="8.4" ry="6.9" fill="#8c8c8c" transform="rotate(0 109.2 87.1)"/><ellipse cx="179.7" cy="87.1" rx="6.7" ry="4.3" fill="#999999" transform="rotate(0 179.7 87.1)"/><ellipse cx="131.0" cy="119.7" rx="25.2" ry="5.1" fill="#999999" transform="rotate(0 131.0 119.7)"/><ellipse cx="161.2" cy="16.8" rx="2.5" ry="6.9" fill="#999999" transform="rotate(0 161.2 16.8)"/><rect x="198.2" y="49.4" width="25.8" height="30.9" fill="#1a1a1a"/><rect x="181.4" y="83.7" width="42.6" height="13.7" fill="#bfbfbf"/><rect x="156.2" y="100.8" width="67.8" height="20.6" fill="#666666"/><rect x="122.6" y="124.8" width="101.4" height="15.4" fill="#1a1a1a"/></g><rect x="61.9" y="114.9" width="162.1" height="10.8" fill="#b8b8b8"/><path d="M-1.90,-2.04 C-0.78,-7.75 3.70,-7.75 4.82,-2.04 C5.94,3.68 5.94,26.53 4.82,32.24 C3.70,37.96 -0.78,37.96 -1.90,32.24 C-3.01,26.53 -3.01,3.68 -1.90,-2.04 Z" fill="#cccccc"/><path d="M-3.57,52.81 C-0.50,47.39 10.13,52.24 14.89,54.53 C19.64,56.81 23.28,61.10 24.96,66.53 C26.64,71.95 29.71,83.67 24.96,87.10 C20.20,90.52 1.18,92.81 -3.57,87.10 C-8.33,81.38 -6.65,58.24 -3.57,52.81 Z" fill="#d1d1d1"/><path d="M14.89,63.10 C16.01,60.38 20.48,59.96 23.28,58.81 C26.08,57.67 28.87,56.24 31.67,56.24 C34.47,56.24 37.54,57.38 40.06,58.81 C42.58,60.24 45.24,63.24 46.78,64.81 C48.31,66.38 49.85,66.81 49.29,68.24 C48.73,69.67 46.36,72.10 43.42,73.38 C40.48,74.67 34.75,75.10 31.67,75.95 C28.59,76.81 27.48,78.67 24.96,78.52 C22.44,78.38 18.24,77.67 16.57,75.10 C14.89,72.53 13.77,65.81 14.89,63.10 Z" fill="#9e9e9e" stroke="#9e9e9e" stroke-width="5" stroke-linejoin="round"/><path d="M14.89,63.10 C16.01,60.38 20.48,59.96 23.28,58.81 C26.08,57.67 28.87,56.24 31.67,56.24 C34.47,56.24 37.54,57.38 40.06,58.81 C42.58,60.24 45.24,63.24 46.78,64.81 C48.31,66.38 49.85,66.81 49.29,68.24 C48.73,69.67 46.36,72.10 43.42,73.38 C40.48,74.67 34.75,75.10 31.67,75.95 C28.59,76.81 27.48,78.67 24.96,78.52 C22.44,78.38 18.24,77.67 16.57,75.10 C14.89,72.53 13.77,65.81 14.89,63.10 Z" fill="#dedede"/><path d="M61.04,23.67 C61.74,22.67 63.42,20.82 64.40,21.10 C65.38,21.39 66.64,23.67 66.92,25.39 C67.20,27.10 65.24,29.96 66.08,31.39 C66.92,32.82 69.85,33.39 71.95,33.96 C74.05,34.53 77.27,33.67 78.66,34.82 C80.06,35.96 80.62,38.67 80.34,40.82 C80.06,42.96 78.94,46.39 76.99,47.67 C75.03,48.96 71.39,48.53 68.59,48.53 C65.80,48.53 62.16,48.53 60.20,47.67 C58.24,46.81 57.27,45.39 56.85,43.39 C56.43,41.39 56.99,37.53 57.68,35.67 C58.38,33.82 60.62,33.67 61.04,32.24 C61.46,30.82 60.20,28.53 60.20,27.10 C60.20,25.67 60.34,24.67 61.04,23.67 Z" fill="#9e9e9e" stroke="#9e9e9e" stroke-width="5" stroke-linejoin="round"/><path d="M61.04,23.67 C61.74,22.67 63.42,20.82 64.40,21.10 C65.38,21.39 66.64,23.67 66.92,25.39 C67.20,27.10 65.24,29.96 66.08,31.39 C66.92,32.82 69.85,33.39 71.95,33.96 C74.05,34.53 77.27,33.67 78.66,34.82 C80.06,35.96 80.62,38.67 80.34,40.82 C80.06,42.96 78.94,46.39 76.99,47.67 C75.03,48.96 71.39,48.53 68.59,48.53 C65.80,48.53 62.16,48.53 60.20,47.67 C58.24,46.81 57.27,45.39 56.85,43.39 C56.43,41.39 56.99,37.53 57.68,35.67 C58.38,33.82 60.62,33.67 61.04,32.24 C61.46,30.82 60.20,28.53 60.20,27.10 C60.20,25.67 60.34,24.67 61.04,23.67 Z" fill="#dedede"/><ellipse cx="90.4" cy="85.4" rx="13.4" ry="3.4" fill="#9e9e9e" stroke="#9e9e9e" stroke-width="5" transform="rotate(0 90.4 85.4)"/><ellipse cx="90.4" cy="85.4" rx="13.4" ry="3.4" fill="#dedede" transform="rotate(0 90.4 85.4)"/><ellipse cx="25.0" cy="45.1" rx="4.7" ry="4.8" fill="#9e9e9e" stroke="#9e9e9e" stroke-width="5" transform="rotate(0 25.0 45.1)"/><ellipse cx="25.0" cy="45.1" rx="4.7" ry="4.8" fill="#dedede" transform="rotate(0 25.0 45.1)"/><path d="M9.85,23.67 C10.69,22.67 13.49,21.67 14.89,22.82 C16.29,23.96 18.38,28.96 18.24,30.53 C18.10,32.10 15.45,32.53 14.05,32.24 C12.65,31.96 10.55,30.24 9.85,28.82 C9.15,27.39 9.01,24.67 9.85,23.67 Z" fill="#9e9e9e" stroke="#9e9e9e" stroke-width="5" stroke-linejoin="round"/><path d="M9.85,23.67 C10.69,22.67 13.49,21.67 14.89,22.82 C16.29,23.96 18.38,28.96 18.24,30.53 C18.10,32.10 15.45,32.53 14.05,32.24 C12.65,31.96 10.55,30.24 9.85,28.82 C9.15,27.39 9.01,24.67 9.85,23.67 Z" fill="#dedede"/><ellipse cx="4.8" cy="1.4" rx="2.5" ry="3.4" fill="#9e9e9e" stroke="#9e9e9e" stroke-width="5" transform="rotate(0 4.8 1.4)"/><ellipse cx="4.8" cy="1.4" rx="2.5" ry="3.4" fill="#dedede" transform="rotate(0 4.8 1.4)"/><path d="M89.57,-2.04 C92.57,-4.32 104.54,-3.75 107.53,-2.04 C110.52,-0.32 107.87,5.39 107.53,8.25 C107.20,11.10 106.97,13.10 105.52,15.10 C104.06,17.10 101.04,19.67 98.80,20.25 C96.57,20.82 93.63,19.96 92.09,18.53 C90.55,17.10 89.99,15.10 89.57,11.68 C89.15,8.25 86.58,0.25 89.57,-2.04 Z" fill="#9e9e9e" stroke="#9e9e9e" stroke-width="5" stroke-linejoin="round"/><path d="M89.57,-2.04 C92.57,-4.32 104.54,-3.75 107.53,-2.04 C110.52,-0.32 107.87,5.39 107.53,8.25 C107.20,11.10 106.97,13.10 105.52,15.10 C104.06,17.10 101.04,19.67 98.80,20.25 C96.57,20.82 93.63,19.96 92.09,18.53 C90.55,17.10 89.99,15.10 89.57,11.68 C89.15,8.25 86.58,0.25 89.57,-2.04 Z" fill="#dedede"/><ellipse cx="124.3" cy="10.8" rx="4.2" ry="10.6" fill="#9e9e9e" stroke="#9e9e9e" stroke-width="5" transform="rotate(0 124.3 10.8)"/><ellipse cx="124.3" cy="10.8" rx="4.2" ry="10.6" fill="#dedede" transform="rotate(0 124.3 10.8)"/><ellipse cx="113.4" cy="40.0" rx="5.0" ry="6.9" fill="#9e9e9e" stroke="#9e9e9e" stroke-width="5" transform="rotate(0 113.4 40.0)"/><ellipse cx="113.4" cy="40.0" rx="5.0" ry="6.9" fill="#dedede" transform="rotate(0 113.4 40.0)"/><ellipse cx="186.4" cy="25.4" rx="5.0" ry="6.0" fill="#9e9e9e" stroke="#9e9e9e" stroke-width="5" transform="rotate(0 186.4 25.4)"/><ellipse cx="186.4" cy="25.4" rx="5.0" ry="6.0" fill="#dedede" transform="rotate(0 186.4 25.4)"/><ellipse cx="209.1" cy="6.5" rx="2.5" ry="6.9" fill="#9e9e9e" stroke="#9e9e9e" stroke-width="5" transform="rotate(0 209.1 6.5)"/><ellipse cx="209.1" cy="6.5" rx="2.5" ry="6.9" fill="#dedede" transform="rotate(0 209.1 6.5)"/>
</g></g>
<rect x="0" y="0" width="214" height="137" fill="url(#a0)" mask="url(#mke3)"/>
<path d="M14.89,63.10 C16.01,60.38 20.48,59.96 23.28,58.81 C26.08,57.67 28.87,56.24 31.67,56.24 C34.47,56.24 37.54,57.38 40.06,58.81 C42.58,60.24 45.24,63.24 46.78,64.81 C48.31,66.38 49.85,66.81 49.29,68.24 C48.73,69.67 46.36,72.10 43.42,73.38 C40.48,74.67 34.75,75.10 31.67,75.95 C28.59,76.81 27.48,78.67 24.96,78.52 C22.44,78.38 18.24,77.67 16.57,75.10 C14.89,72.53 13.77,65.81 14.89,63.10 Z" fill="none" stroke="#000" stroke-width="1.3"/><path d="M61.04,23.67 C61.74,22.67 63.42,20.82 64.40,21.10 C65.38,21.39 66.64,23.67 66.92,25.39 C67.20,27.10 65.24,29.96 66.08,31.39 C66.92,32.82 69.85,33.39 71.95,33.96 C74.05,34.53 77.27,33.67 78.66,34.82 C80.06,35.96 80.62,38.67 80.34,40.82 C80.06,42.96 78.94,46.39 76.99,47.67 C75.03,48.96 71.39,48.53 68.59,48.53 C65.80,48.53 62.16,48.53 60.20,47.67 C58.24,46.81 57.27,45.39 56.85,43.39 C56.43,41.39 56.99,37.53 57.68,35.67 C58.38,33.82 60.62,33.67 61.04,32.24 C61.46,30.82 60.20,28.53 60.20,27.10 C60.20,25.67 60.34,24.67 61.04,23.67 Z" fill="none" stroke="#000" stroke-width="1.3"/><ellipse cx="90.4" cy="85.4" rx="13.4" ry="3.4" fill="none" stroke="#000" stroke-width="1.3" transform="rotate(0 90.4 85.4)"/><ellipse cx="25.0" cy="45.1" rx="4.7" ry="4.8" fill="none" stroke="#000" stroke-width="1.3" transform="rotate(0 25.0 45.1)"/><path d="M9.85,23.67 C10.69,22.67 13.49,21.67 14.89,22.82 C16.29,23.96 18.38,28.96 18.24,30.53 C18.10,32.10 15.45,32.53 14.05,32.24 C12.65,31.96 10.55,30.24 9.85,28.82 C9.15,27.39 9.01,24.67 9.85,23.67 Z" fill="none" stroke="#000" stroke-width="1.3"/><ellipse cx="4.8" cy="1.4" rx="2.5" ry="3.4" fill="none" stroke="#000" stroke-width="1.3" transform="rotate(0 4.8 1.4)"/><path d="M89.57,-2.04 C92.57,-4.32 104.54,-3.75 107.53,-2.04 C110.52,-0.32 107.87,5.39 107.53,8.25 C107.20,11.10 106.97,13.10 105.52,15.10 C104.06,17.10 101.04,19.67 98.80,20.25 C96.57,20.82 93.63,19.96 92.09,18.53 C90.55,17.10 89.99,15.10 89.57,11.68 C89.15,8.25 86.58,0.25 89.57,-2.04 Z" fill="none" stroke="#000" stroke-width="1.3"/><path d="M75.31,88.81 C80.34,86.81 100.48,86.81 105.52,88.81 C110.55,90.81 110.55,98.81 105.52,100.81 C100.48,102.81 80.34,102.81 75.31,100.81 C70.27,98.81 70.27,90.81 75.31,88.81 Z" fill="url(#a0)"/><ellipse cx="124.3" cy="10.8" rx="4.2" ry="10.6" fill="none" stroke="#000" stroke-width="1.3" transform="rotate(0 124.3 10.8)"/><ellipse cx="113.4" cy="40.0" rx="5.0" ry="6.9" fill="none" stroke="#000" stroke-width="1.3" transform="rotate(0 113.4 40.0)"/><ellipse cx="186.4" cy="25.4" rx="5.0" ry="6.0" fill="none" stroke="#000" stroke-width="1.3" transform="rotate(0 186.4 25.4)"/><ellipse cx="209.1" cy="6.5" rx="2.5" ry="6.9" fill="none" stroke="#000" stroke-width="1.3" transform="rotate(0 209.1 6.5)"/><path d="M105.85,114.52 C114.24,112.81 147.81,112.81 156.20,114.52 C164.59,116.23 164.59,123.09 156.20,124.81 C147.81,126.52 114.24,126.52 105.85,124.81 C97.46,123.09 97.46,116.23 105.85,114.52 Z" fill="url(#a0)"/><path d="M105.85,80.24 C107.53,77.67 114.24,77.67 115.92,80.24 C117.60,82.81 117.60,93.09 115.92,95.67 C114.24,98.24 107.53,98.24 105.85,95.67 C104.17,93.09 104.17,82.81 105.85,80.24 Z" fill="url(#a0)"/>
<path d="M-2,-2 L216.0,-2 L216.0,139.0 L-2,139.0 Z M2.90,0.00 L3.08,2.29 L3.26,4.58 L3.46,6.87 L3.67,9.17 L3.90,11.46 L4.13,13.75 L4.38,16.04 L4.65,18.33 L4.93,20.62 L5.23,22.92 L5.55,25.21 L5.89,27.50 L6.25,29.79 L6.63,32.08 L7.03,34.38 L7.46,36.67 L7.91,38.96 L8.39,41.25 L8.91,43.54 L9.45,45.83 L10.02,48.12 L10.63,50.42 L11.28,52.71 L11.96,55.00 L12.69,57.29 L13.46,59.58 L14.28,61.88 L15.15,64.17 L16.07,66.46 L17.05,68.75 L18.09,71.04 L19.19,73.33 L20.36,75.63 L21.59,77.92 L22.91,80.21 L24.30,82.50 L25.78,84.79 L27.35,87.08 L29.01,89.38 L30.78,91.67 L32.65,93.96 L34.63,96.25 L36.74,98.54 L38.98,100.83 L41.35,103.12 L43.86,105.42 L46.53,107.71 L49.36,110.00 L52.36,112.29 L55.55,114.58 L58.93,116.88 L62.51,119.17 L66.31,121.46 L70.35,123.75 L74.63,126.04 L79.17,128.33 L83.98,130.62 L89.09,132.92 L94.51,135.21 L100.26,137.50 L113.74,137.50 L119.49,135.21 L124.91,132.92 L130.02,130.62 L134.83,128.33 L139.37,126.04 L143.65,123.75 L147.69,121.46 L151.49,119.17 L155.07,116.88 L158.45,114.58 L161.64,112.29 L164.64,110.00 L167.47,107.71 L170.14,105.42 L172.65,103.12 L175.02,100.83 L177.26,98.54 L179.37,96.25 L181.35,93.96 L183.22,91.67 L184.99,89.38 L186.65,87.08 L188.22,84.79 L189.70,82.50 L191.09,80.21 L192.41,77.92 L193.64,75.63 L194.81,73.33 L195.91,71.04 L196.95,68.75 L197.93,66.46 L198.85,64.17 L199.72,61.88 L200.54,59.58 L201.31,57.29 L202.04,55.00 L202.72,52.71 L203.37,50.42 L203.98,48.12 L204.55,45.83 L205.09,43.54 L205.61,41.25 L206.09,38.96 L206.54,36.67 L206.97,34.38 L207.37,32.08 L207.75,29.79 L208.11,27.50 L208.45,25.21 L208.77,22.92 L209.07,20.62 L209.35,18.33 L209.62,16.04 L209.87,13.75 L210.10,11.46 L210.33,9.17 L210.54,6.87 L210.74,4.58 L210.92,2.29 L211.10,0.00 Z" fill="#fff" fill-opacity="0.5" fill-rule="evenodd"/>

<path d="M2.90,0.00 L3.08,2.29 L3.26,4.58 L3.46,6.87 L3.67,9.17 L3.90,11.46 L4.13,13.75 L4.38,16.04 L4.65,18.33 L4.93,20.62 L5.23,22.92 L5.55,25.21 L5.89,27.50 L6.25,29.79 L6.63,32.08 L7.03,34.38 L7.46,36.67 L7.91,38.96 L8.39,41.25 L8.91,43.54 L9.45,45.83 L10.02,48.12 L10.63,50.42 L11.28,52.71 L11.96,55.00 L12.69,57.29 L13.46,59.58 L14.28,61.88 L15.15,64.17 L16.07,66.46 L17.05,68.75 L18.09,71.04 L19.19,73.33 L20.36,75.63 L21.59,77.92 L22.91,80.21 L24.30,82.50 L25.78,84.79 L27.35,87.08 L29.01,89.38 L30.78,91.67 L32.65,93.96 L34.63,96.25 L36.74,98.54 L38.98,100.83 L41.35,103.12 L43.86,105.42 L46.53,107.71 L49.36,110.00 L52.36,112.29 L55.55,114.58 L58.93,116.88 L62.51,119.17 L66.31,121.46 L70.35,123.75 L74.63,126.04 L79.17,128.33 L83.98,130.62 L89.09,132.92 L94.51,135.21 L100.26,137.50 L113.74,137.50 L119.49,135.21 L124.91,132.92 L130.02,130.62 L134.83,128.33 L139.37,126.04 L143.65,123.75 L147.69,121.46 L151.49,119.17 L155.07,116.88 L158.45,114.58 L161.64,112.29 L164.64,110.00 L167.47,107.71 L170.14,105.42 L172.65,103.12 L175.02,100.83 L177.26,98.54 L179.37,96.25 L181.35,93.96 L183.22,91.67 L184.99,89.38 L186.65,87.08 L188.22,84.79 L189.70,82.50 L191.09,80.21 L192.41,77.92 L193.64,75.63 L194.81,73.33 L195.91,71.04 L196.95,68.75 L197.93,66.46 L198.85,64.17 L199.72,61.88 L200.54,59.58 L201.31,57.29 L202.04,55.00 L202.72,52.71 L203.37,50.42 L203.98,48.12 L204.55,45.83 L205.09,43.54 L205.61,41.25 L206.09,38.96 L206.54,36.67 L206.97,34.38 L207.37,32.08 L207.75,29.79 L208.11,27.50 L208.45,25.21 L208.77,22.92 L209.07,20.62 L209.35,18.33 L209.62,16.04 L209.87,13.75 L210.10,11.46 L210.33,9.17 L210.54,6.87 L210.74,4.58 L210.92,2.29 L211.10,0.00 Z" fill="none" stroke="#222" stroke-width="0.6"/>
</g>
<rect x="0.3" y="0.3" width="213.4" height="136.4" fill="none" stroke="#777" stroke-width="0.8"/>
</svg>
<div class="t ti" style="left:516.8px;top:660.2px;">(e-3) EA/WR-DPC5</div>
<div class="t tk" style="left:480.8px;top:811.4px;width:0;"><span style="position:absolute;transform:translateX(-50%)">2001</span></div>
<div class="t tk" style="left:516.5px;top:811.4px;width:0;"><span style="position:absolute;transform:translateX(-50%)">2005</span></div>
<div class="t tk" style="left:559.1px;top:811.4px;width:0;"><span style="position:absolute;transform:translateX(-50%)">2009</span></div>
<div class="t tk" style="left:601.7px;top:811.4px;width:0;"><span style="position:absolute;transform:translateX(-50%)">2013</span></div>
<div class="t tk" style="left:641.0px;top:811.4px;width:0;"><span style="position:absolute;transform:translateX(-50%)">2017</span></div>
<div class="t tk" style="left:673.6px;top:811.4px;width:0;"><span style="position:absolute;transform:translateX(-50%)">2019</span></div>
<div class="t tk" style="right:680.2px;top:691.5px;">4</div>
<div class="t tk" style="right:680.2px;top:717.4px;">8</div>
<div class="t tk" style="right:680.2px;top:743.3px;">16</div>
<div class="t tk" style="right:680.2px;top:769.2px;">32</div>
<div class="t tk" style="right:680.2px;top:795.2px;">64</div>
<div class="t tk" style="left:9.0px;top:751.2px;width:0;height:0;"><span style="position:absolute;transform:translate(-50%,-50%) rotate(-90deg);">Period (month)</span></div>
<div style="position:absolute;left:685.6px;top:672.8px;width:8.6px;height:135.8px;background:linear-gradient(to bottom,#f9fb15,#f5e825,#fad42e,#fec13a,#eaba31,#c8c129,#9fc942,#71cd64,#48cb86,#2fc5a2,#12beb9,#05b6ce,#1caadf,#259ce7,#2d8cf3,#347afd,#4367fd,#4755f6,#4743e7,#4433cc,#3e26a8);box-shadow:0 0 0 0.5px #999;"></div>
<div class="t cb" style="left:694.8px;top:799.9px;">0</div>
<div class="t cb" style="left:694.8px;top:787.0px;">0.1</div>
<div class="t cb" style="left:694.8px;top:774.0px;">0.2</div>
<div class="t cb" style="left:694.8px;top:761.1px;">0.3</div>
<div class="t cb" style="left:694.8px;top:748.2px;">0.4</div>
<div class="t cb" style="left:694.8px;top:735.2px;">0.5</div>
<div class="t cb" style="left:694.8px;top:722.3px;">0.6</div>
<div class="t cb" style="left:694.8px;top:709.4px;">0.7</div>
<div class="t cb" style="left:694.8px;top:696.5px;">0.8</div>
<div class="t cb" style="left:694.8px;top:683.5px;">0.9</div>
<div class="t cb" style="left:694.8px;top:670.6px;">1</div>
</body></html>
